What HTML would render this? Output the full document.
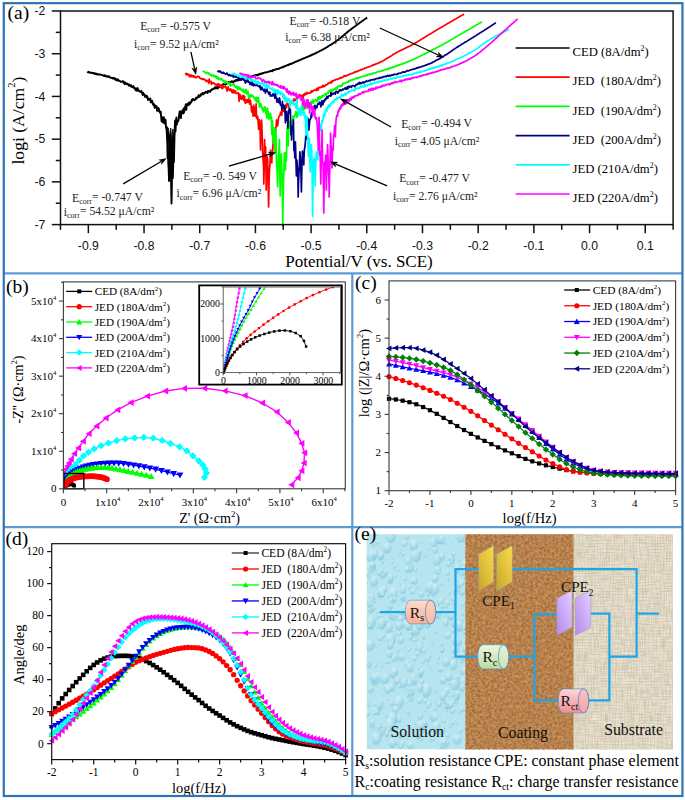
<!DOCTYPE html>
<html><head><meta charset="utf-8"><title>Figure</title>
<style>html,body{margin:0;padding:0;background:#fff;}svg{display:block;}</style></head>
<body>
<svg width="685" height="800" viewBox="0 0 685 800">
<rect x="0" y="0" width="685" height="800" fill="#fff"/>
<defs>
<filter id="fCork" x="0" y="0" width="100%" height="100%" color-interpolation-filters="sRGB">
  <feTurbulence type="fractalNoise" baseFrequency="0.42" numOctaves="3" seed="4" result="n"/>
  <feColorMatrix in="n" type="matrix" values="0 0 0 0 0  0 0 0 0 0  0 0 0 0 0  1.5 0 0 0 -0.52" result="dark"/>
  <feFlood flood-color="#8a5428" result="dc"/>
  <feComposite in="dc" in2="dark" operator="in" result="darkspots"/>
  <feTurbulence type="fractalNoise" baseFrequency="0.36" numOctaves="3" seed="11" result="n2"/>
  <feColorMatrix in="n2" type="matrix" values="0 0 0 0 0  0 0 0 0 0  0 0 0 0 0  0 1.4 0 0 -0.5" result="lite"/>
  <feFlood flood-color="#dba874" result="lc"/>
  <feComposite in="lc" in2="lite" operator="in" result="litespots"/>
  <feMerge><feMergeNode in="SourceGraphic"/><feMergeNode in="darkspots"/><feMergeNode in="litespots"/></feMerge>
</filter>
<filter id="fLinen" x="0" y="0" width="100%" height="100%" color-interpolation-filters="sRGB">
  <feTurbulence type="fractalNoise" baseFrequency="0.9 0.08" numOctaves="2" seed="3" result="h"/>
  <feColorMatrix in="h" type="matrix" values="0 0 0 0 0  0 0 0 0 0  0 0 0 0 0  1.3 0 0 0 -0.5" result="ha"/>
  <feTurbulence type="fractalNoise" baseFrequency="0.08 0.9" numOctaves="2" seed="8" result="v"/>
  <feColorMatrix in="v" type="matrix" values="0 0 0 0 0  0 0 0 0 0  0 0 0 0 0  1.3 0 0 0 -0.5" result="va"/>
  <feFlood flood-color="#c2b79e" result="dc"/>
  <feComposite in="dc" in2="ha" operator="in" result="hs"/>
  <feComposite in="dc" in2="va" operator="in" result="vs"/>
  <feMerge><feMergeNode in="SourceGraphic"/><feMergeNode in="hs"/><feMergeNode in="vs"/></feMerge>
</filter>
<pattern id="pLinen" width="3" height="3" patternUnits="userSpaceOnUse">
  <rect width="3" height="3" fill="#efe8d8"/>
  <rect x="0" y="0" width="3" height="0.9" fill="#e4dccb"/>
  <rect x="0" y="0" width="0.9" height="3" fill="#e6dfce"/>
</pattern>
<radialGradient id="gDrop" cx="0.38" cy="0.32" r="0.75">
  <stop offset="0" stop-color="#d8f2f8" stop-opacity="0.9"/>
  <stop offset="0.55" stop-color="#b9e5ef" stop-opacity="0.7"/>
  <stop offset="1" stop-color="#98d4e5" stop-opacity="0.8"/>
</radialGradient>
<linearGradient id="gRs" x1="0" y1="0" x2="0" y2="1"><stop offset="0" stop-color="#fddccd"/><stop offset="1" stop-color="#f6b094"/></linearGradient>
<linearGradient id="gRc" x1="0" y1="0" x2="0" y2="1"><stop offset="0" stop-color="#eff6e4"/><stop offset="1" stop-color="#badba0"/></linearGradient>
<linearGradient id="gRct" x1="0" y1="0" x2="0" y2="1"><stop offset="0" stop-color="#fdd8d8"/><stop offset="1" stop-color="#f08c96"/></linearGradient>
<linearGradient id="gAu" x1="1" y1="0" x2="0" y2="1"><stop offset="0" stop-color="#f9dc4c"/><stop offset="0.6" stop-color="#dcbb3a"/><stop offset="1" stop-color="#c4a22c"/></linearGradient>
<linearGradient id="gPu" x1="1" y1="0" x2="0" y2="1"><stop offset="0" stop-color="#e6d2ff"/><stop offset="0.6" stop-color="#c7a3f6"/><stop offset="1" stop-color="#b48cee"/></linearGradient>
</defs>
<polyline points="87.3,72.84 87.75,72.27 88.2,72.26 88.65,71.67 89.1,72.53 89.55,72.5 90,72.49 90.45,72.82 90.9,72.93 91.35,72.54 91.8,72.67 92.25,72.87 92.7,73.32 93.15,73.36 93.6,72.85 94.05,72.99 94.5,73.67 94.95,74.03 95.4,73.59 95.85,73.47 96.3,74.15 96.75,73.78 97.2,74.22 97.65,74.6 98.1,74.39 98.55,74.3 99,74.63 99.45,74.26 99.9,74.53 100.35,74.5 100.8,74.73 101.25,74.74 101.7,74.95 102.15,75 102.6,75.27 103.05,75.38 103.5,75.58 103.95,76.1 104.4,75.15 104.85,76.3 105.3,75.85 105.75,75.61 106.2,76.11 106.65,76.33 107.1,76.83 107.55,76.14 108,76.75 108.45,76.84 108.9,76.27 109.35,76.58 109.8,77.41 110.25,77.58 110.7,77.88 111.15,77.79 111.6,77.88 112.05,77.91 112.5,78.52 112.95,77.82 113.4,78.26 113.85,78.64 114.3,77.98 114.75,79.37 115.2,78.62 115.65,79.1 116.1,80.28 116.55,79.11 117,79.41 117.45,80.55 117.9,79.52 118.35,79.99 118.8,80.61 119.25,80.77 119.7,81.03 120.15,81.11 120.6,81.79 121.05,81.82 121.5,81.8 121.95,81.35 122.4,81.53 122.85,81.13 123.3,82.64 123.75,81.55 124.2,83.15 124.65,83.89 125.1,82.51 125.55,82.91 126,83.23 126.45,84.17 126.9,83.42 127.35,84.04 127.8,84.03 128.25,84.4 128.7,85.55 129.15,84.41 129.6,85.25 130.05,85.6 130.5,86.21 130.95,85.11 131.4,86.85 131.85,86.65 132.3,87.19 132.75,86.9 133.2,86.02 133.65,86.91 134.1,88.17 134.55,87.88 135,88.08 135.45,89.72 135.9,90.33 136.35,88.89 136.8,90.71 137.25,88 137.7,88.23 138.15,90.74 138.6,90.12 139.05,91.1 139.5,91.36 139.95,91.17 140.4,92.15 140.85,92.02 141.3,90.91 141.75,92.75 142.2,93.07 142.65,95.06 143.1,92.56 143.55,94 144,93.94 144.45,94.6 144.9,96.93 145.35,95.92 145.8,95.42 146.25,96.5 146.7,97.63 147.15,96.05 147.6,97.29 148.05,100.01 148.5,99.6 148.95,98.92 149.4,98.85 149.85,99.76 150.3,98.45 150.75,102.4 151.2,102.05 151.65,102.3 152.1,100.72 152.55,102.09 153,104.63 153.45,104.78 153.9,104.05 154.35,106.42 154.8,107.91 155.25,105.39 155.7,106.2 156.15,106.1 156.6,106.08 157.05,110.77 157.5,110.68 157.95,110.84 158.4,107.97 158.85,108.71 159.3,111.5 159.75,111.19 160.2,113.15 160.65,111.58 161.1,116.05 161.55,121.06 162,120.97 162.45,122.26 162.9,117.2 163.35,121.36 163.8,117.31 164.25,123.46 164.7,118.98 165.15,119.53 165.6,120.01 166.05,128.08 166.5,127.53 166.95,135.88 167.4,145.56 167.6,158 167.85,146.47 168.3,162.98 168.75,171.19 169,181 169.2,172.87 169.65,158.54 170.1,168.89 170.2,176 170.55,162.68 171,173.99 171.45,197.24 171.5,203.5 171.9,176.44 172.35,164.12 172.8,178 172.8,178 173.25,162.95 173.7,152.48 173.9,162 174.15,151.12 174.6,132.32 175.05,120.56 175.5,131.32 175.95,123.63 176.4,117.36 176.85,124.58 177.3,121.62 177.75,121.86 178.2,121.11 178.65,119.53 179.1,115.24 179.55,112.21 180,111.17 180.45,113.8 180.9,118.06 181.35,112.58 181.8,112.49 182.25,110.45 182.7,110.74 183.15,113.5 183.6,108.54 184.05,112.63 184.5,109.3 184.95,107.06 185.4,106.48 185.85,104.24 186.3,109.92 186.75,105.05 187.2,104.12 187.65,105.1 188.1,103.38 188.55,105.34 189,102.58 189.45,102.36 189.9,103.91 190.35,103.11 190.8,102.15 191.25,102.35 191.7,100.05 192.15,100.68 192.6,99.14 193.05,98.98 193.5,99.84 193.95,99.8 194.4,100.3 194.85,99.83 195.3,99.51 195.75,98.06 196.2,98.99 196.65,97.75 197.1,97.36 197.55,97.74 198,97.17 198.45,95.46 198.9,95.07 199.35,96.89 199.8,96.09 200.25,95.97 200.7,95.63 201.15,93.9 201.6,94.33 202.05,93.64 202.5,93.02 202.95,94.49 203.4,94.05 203.85,93.63 204.3,92.67 204.75,93.27 205.2,92.5 205.65,91.91 206.1,91.7 206.55,91.98 207,92.64 207.45,92.97 207.9,90.89 208.35,91.12 208.8,91.86 209.25,91.34 209.7,91.09 210.15,91.7 210.6,90.21 211.05,90.67 211.5,90.14 211.95,89.29 212.4,89.6 212.85,89 213.3,88.87 213.75,88.9 214.2,88.68 214.65,87.45 215.1,88.39 215.55,87.18 216,88.39 216.45,87.26 216.9,87.35 217.35,87.64 217.8,88.51 218.25,86 218.7,87.23 219.15,86.92 219.6,86.14 220.05,85.98 220.5,85.67 220.95,85.73 221.4,86.17 221.85,84.8 222.3,85.47 222.75,84.74 223.2,84.39 223.65,83.93 224.1,84.4 224.55,84.27 225,84.07 225.45,84.65 225.9,83.98 226.35,83.93 226.8,83.84 227.25,83.1 227.7,83.16 228.15,82.2 228.6,82.1 229.05,83.39 229.5,82.39 229.95,82.72 230.4,81.93 230.85,81.96 231.3,81.51 231.75,81.63 232.2,81.32 232.65,81.61 233.1,82.37 233.55,81.7 234,81.43 234.45,81.16 234.9,81.24 235.35,80.11 235.8,80.66 236.25,79.99 236.7,80.48 237.15,79.63 237.6,80.56 238.05,79.78 238.5,80.37 238.95,79.6 239.4,79.08 239.85,80.12 240.3,79.72 240.75,79.21 241.2,79.25 241.65,79.55 242.1,78.55 242.55,78.82 243,78.28 243.45,78.5 243.9,78.89 244.35,78.54 244.8,77.81 245.25,78.62 245.7,78.19 246.15,77.73 246.6,77.48 247.05,77.43 247.5,78.06 247.95,76.81 248.4,77.4 248.85,77.23 249.3,77.12 249.75,77.07 250.2,77.18 250.65,76.86 251.1,76.24 251.55,76.94 252,77.15 252.45,76.11 252.9,76.05 253.35,75.81 253.8,75.4 254.25,75.99 254.7,75.59 255.15,75.37 255.6,75.03 256.05,74.96 256.5,75.36 256.95,75.39 257.4,74.94 257.85,75.19 258.3,74.31 258.75,74.59 259.2,74.45 259.65,74.46 260.1,73.69 260.55,73.89 261,73.94 261.45,73.55 261.9,73.6 262.35,73.3 262.8,72.98 263.25,73.26 263.7,72.93 264.15,72.81 264.6,72.52 265.05,72.52 265.5,72.53 265.95,72.57 266.4,72.21 266.85,72.4 267.3,71.86 267.75,71.87 268.2,71.62 268.65,71.74 269.1,71.67 269.55,71.56 270,70.96 270.45,71.12 270.9,70.99 271.35,71.21 271.8,70.68 272.25,71.3 272.7,70.09 273.15,70.3 273.6,70.1 274.05,70.27 274.5,70.05 274.95,69.55 275.4,69.58 275.85,69.3 276.3,68.98 276.75,68.96 277.2,69.33 277.65,69 278.1,68.87 278.55,68.68 279,68.76 279.45,68.59 279.9,68.18 280.35,67.99 280.8,67.62 281.25,67.62 281.7,67.14 282.15,67.58 282.6,67.33 283.05,66.86 283.5,66.79 283.95,66.75 284.4,66.27 284.85,66.04 285.3,65.83 285.75,65.95 286.2,65.71 286.65,65.5 287.1,65.35 287.55,65.01 288,65.08 288.45,64.76 288.9,65 289.35,64.34 289.8,64.02 290.25,64.1 290.7,63.75 291.15,63.98 291.6,63.59 292.05,63.58 292.5,63.12 292.95,62.9 293.4,62.99 293.85,62.72 294.3,62.49 294.75,61.88 295.2,62.04 295.65,61.83 296.1,61.6 296.55,61.42 297,61.3 297.45,61.26 297.9,60.98 298.35,60.49 298.8,60.48 299.25,60.37 299.7,60.3 300.15,59.94 300.6,59.74 301.05,59.64 301.5,59.26 301.95,59.25 302.4,59.01 302.85,58.7 303.3,58.58 303.75,58.29 304.2,58.25 304.65,58.09 305.1,57.79 305.55,57.63 306,57.33 306.45,57.23 306.9,57.08 307.35,56.84 307.8,56.62 308.25,56.62 308.7,56.32 309.15,56.14 309.6,55.79 310.05,55.76 310.5,55.41 310.95,55.44 311.4,55.12 311.85,54.81 312.3,54.74 312.75,54.4 313.2,54.49 313.65,54.09 314.1,53.87 314.55,53.69 315,53.6 315.45,53.2 315.9,53.24 316.35,52.74 316.8,52.58 317.25,52.3 317.7,52.18 318.15,52.03 318.6,51.76 319.05,51.52 319.5,51.21 319.95,51.05 320.4,50.76 320.85,50.52 321.3,50.21 321.75,50.22 322.2,49.86 322.65,49.54 323.1,49.29 323.55,49.13 324,48.86 324.45,48.59 324.9,48.32 325.35,48.11 325.8,47.85 326.25,47.62 326.7,47.31 327.15,46.93 327.6,46.81 328.05,46.42 328.5,46.09 328.95,45.92 329.4,45.52 329.85,45.38 330.3,45 330.75,44.81 331.2,44.58 331.65,44.21 332.1,43.84 332.55,43.67 333,43.32 333.45,43.1 333.9,42.79 334.35,42.42 334.8,42.15 335.25,41.81 335.7,41.46 336.15,41.26 336.6,40.91 337.05,40.55 337.5,40.11 337.95,39.88 338.4,39.54 338.85,39.16 339.3,38.74 339.75,38.48 340.2,38.11 340.65,37.73 341.1,37.34 341.55,36.92 342,36.67 342.45,36.3 342.9,35.87 343.35,35.48 343.8,35.19 344.25,34.76 344.7,34.33 345.15,34 345.6,33.59 346.05,33.23 346.5,32.84 346.95,32.47 347.4,32.11 347.85,31.71 348.3,31.4 348.75,31.02 349.2,30.63 349.65,30.32 350.1,29.97 350.55,29.63 351,29.29 351.45,28.88 351.9,28.58 352.35,28.21 352.8,27.9 353.25,27.58 353.7,27.25 354.15,26.9 354.6,26.57 355.05,26.22 355.5,25.92 355.95,25.57 356.4,25.24 356.85,24.92 357.3,24.59 357.75,24.25 358.2,23.92 358.65,23.61 359.1,23.28 359.55,22.97 360,22.62 360.45,22.31 360.9,22.02 361.35,21.67 361.8,21.34 362.25,21.03 362.7,20.73 363.15,20.39 363.6,20.08 364.05,19.76 364.5,19.44 364.95,19.15 365.4,18.83 365.85,18.53 366.3,18.2 366.75,17.89 367.2,17.59" fill="none" stroke="#000" stroke-width="1.9" stroke-linejoin="round" stroke-linejoin="miter" stroke-miterlimit="4"/>
<path d="M166.8,126.5 L168.5,146 L169.1,160 L169.6,180 L170.3,164 L170.9,176 L171.5,203.5 L172.1,170 L172.6,179 L173.1,158 L173.8,146 L175.5,123 L174.6,128 L173.6,135 L172.8,129 L171.8,141 L170.8,128 L169.6,137 L168.4,128 Z" fill="#000" stroke="#000" stroke-width="0.8" stroke-linejoin="round"/>
<polyline points="185.1,74.26 185.6,73.75 186.1,74.4 186.6,73.46 187.1,74.96 187.6,73.8 188.1,74.8 188.6,74.87 189.1,74.61 189.6,76.99 190.1,75 190.6,75.78 191.1,76.32 191.6,75.06 192.1,76.78 192.6,76 193.1,76.87 193.6,75.81 194.1,75.89 194.6,77.47 195.1,77.16 195.6,77.08 196.1,77.57 196.6,77.65 197.1,76.7 197.6,76.18 198.1,76.66 198.6,76.74 199.1,76.62 199.6,77.8 200.1,78.04 200.6,78.55 201.1,78.89 201.6,78.63 202.1,78.88 202.6,79.29 203.1,78.68 203.6,79.04 204.1,79.76 204.6,79.4 205.1,79.65 205.6,80.18 206.1,81.51 206.6,80.87 207.1,80.53 207.6,80.51 208.1,81.07 208.6,83.29 209.1,79.09 209.6,82.18 210.1,82.11 210.6,82.86 211.1,81.32 211.6,84.43 212.1,83.58 212.6,82.82 213.1,83.21 213.6,82.61 214.1,83.5 214.6,83.51 215.1,84.75 215.6,84.38 216.1,84.15 216.6,85.09 217.1,85.17 217.6,85.03 218.1,83.54 218.6,86.28 219.1,84.24 219.6,84.58 220.1,85.69 220.6,86.55 221.1,87.77 221.6,84.66 222.1,88.29 222.6,88.72 223.1,86.51 223.6,87.01 224.1,86.8 224.6,86.98 225.1,86.38 225.6,86.2 226.1,88.09 226.6,88.87 227.1,91.18 227.6,87.81 228.1,86.78 228.6,89.67 229.1,89.12 229.6,90.42 230.1,89.67 230.6,88.81 231.1,89.76 231.6,92.06 232.1,91.56 232.6,90.1 233.1,92.98 233.6,89.95 234.1,91.43 234.6,92.78 235.1,90.78 235.6,91.27 236.1,93.34 236.6,93.48 237.1,93.5 237.6,93.3 238.1,92.75 238.6,93.54 239.1,101.33 239.6,94.39 240.1,98.7 240.6,95.07 241.1,99.17 241.6,99.27 242.1,98.01 242.6,96.26 243.1,95.26 243.6,100.28 244.1,96.07 244.6,96.43 245.1,102.99 245.6,103.32 246.1,100.25 246.6,100.03 247.1,99.52 247.6,102.37 248.1,100.79 248.6,98.92 249.1,101.04 249.6,104.15 250.1,100.02 250.6,101.94 251.1,105.52 251.6,111.87 252.1,107.03 252.6,107.26 253.1,116.13 253.6,105.2 254.1,106.91 254.6,113.94 255.1,116.23 255.6,114.17 256.1,103.84 256.6,117.91 257.1,118.72 257.6,116.27 258.1,121.24 258.6,129.31 259.1,119.59 259.6,120.59 260.1,130.23 260.5,150 260.6,142.9 261.1,130.75 261.6,120.11 262.1,132.83 262.6,151.44 263.1,160.32 263.6,166.91 263.8,184 264.1,172.08 264.6,139.67 265.1,158.51 265.6,146.67 266.1,177.58 266.2,190 266.6,169.03 267.1,156.65 267.6,158.89 268.1,179.65 268.6,207 268.6,207 269.1,179.7 269.6,167.98 270.1,161.71 270.6,150 271.1,158.99 271.6,155.22 271.8,163 272.1,153.08 272.6,151.24 273.1,143.8 273.6,132.23 274.1,133.03 274.6,137.64 275.1,136.07 275.2,142 275.6,128.37 276.1,126.56 276.6,119.91 277.1,120.66 277.6,125.96 278.1,121.05 278.6,117.62 279.1,116.53 279.6,115.35 280.1,115.09 280.6,112.12 281.1,114.51 281.6,115.41 282.1,110.12 282.6,111.86 283.1,108.6 283.6,111.2 284.1,106.79 284.6,110.88 285.1,110.21 285.6,106.33 286.1,104.24 286.6,107.73 287.1,103.63 287.6,103.25 288.1,103.8 288.6,104.76 289.1,107.31 289.6,105.8 290.1,104.2 290.6,102.04 291.1,102.51 291.6,102.72 292.1,101.4 292.6,103.23 293.1,100.35 293.6,101.58 294.1,98.73 294.6,99.62 295.1,100.32 295.6,99.74 296.1,100.64 296.6,98.39 297.1,99.33 297.6,98.1 298.1,96.6 298.6,97.1 299.1,96.7 299.6,94.54 300.1,95.99 300.6,95.37 301.1,96.34 301.6,96.96 302.1,95.4 302.6,96.39 303.1,97.91 303.6,94.36 304.1,94.35 304.6,95.3 305.1,93.13 305.6,94.01 306.1,94.1 306.6,94.27 307.1,92.39 307.6,93.41 308.1,93.24 308.6,93 309.1,93.02 309.6,93.51 310.1,92.56 310.6,92.45 311.1,91.1 311.6,92.34 312.1,90.71 312.6,91.34 313.1,91.34 313.6,90.69 314.1,90.34 314.6,90.09 315.1,89.57 315.6,89.6 316.1,90.55 316.6,89.75 317.1,88.11 317.6,88.95 318.1,90.15 318.6,88.33 319.1,87.22 319.6,87.3 320.1,87.71 320.6,87.39 321.1,86.91 321.6,87.12 322.1,87.05 322.6,85.66 323.1,86.49 323.6,85.5 324.1,86.61 324.6,85.92 325.1,85.84 325.6,84.78 326.1,85.03 326.6,84.78 327.1,84.64 327.6,83.86 328.1,83.22 328.6,83.68 329.1,82.87 329.6,82.89 330.1,82.9 330.6,82.22 331.1,81.55 331.6,82.99 332.1,81.32 332.6,80.65 333.1,81.19 333.6,80.58 334.1,80.26 334.6,80.21 335.1,80.09 335.6,79.48 336.1,79.33 336.6,79.46 337.1,79.08 337.6,79.44 338.1,78.96 338.6,78.65 339.1,78.51 339.6,78.53 340.1,77.66 340.6,77.78 341.1,77.45 341.6,77.95 342.1,77.48 342.6,77.35 343.1,76.99 343.6,76.21 344.1,75.76 344.6,76.29 345.1,76.05 345.6,76.04 346.1,75.95 346.6,75.33 347.1,75.53 347.6,75.52 348.1,74.83 348.6,74.87 349.1,74.54 349.6,74.35 350.1,73.97 350.6,73.86 351.1,73.59 351.6,73.66 352.1,73.46 352.6,73.13 353.1,72.96 353.6,72.7 354.1,72.53 354.6,71.88 355.1,72.26 355.6,71.89 356.1,71.78 356.6,71.28 357.1,71.59 357.6,71.5 358.1,70.72 358.6,70.62 359.1,70.55 359.6,70.56 360.1,69.9 360.6,69.89 361.1,69.91 361.6,69.68 362.1,69.51 362.6,68.87 363.1,69.01 363.6,68.98 364.1,68.69 364.6,68.14 365.1,68.04 365.6,68.1 366.1,67.99 366.6,67.67 367.1,67.31 367.6,67.25 368.1,67.09 368.6,66.78 369.1,66.71 369.6,66.61 370.1,66.48 370.6,66.21 371.1,65.98 371.6,65.62 372.1,65.47 372.6,65.44 373.1,64.92 373.6,65.12 374.1,64.57 374.6,64.73 375.1,64.4 375.6,64.02 376.1,63.81 376.6,63.89 377.1,63.54 377.6,63.52 378.1,63.17 378.6,62.86 379.1,62.79 379.6,62.27 380.1,62.19 380.6,61.93 381.1,61.88 381.6,61.57 382.1,61.26 382.6,60.93 383.1,60.68 383.6,60.56 384.1,60.33 384.6,60.08 385.1,59.36 385.6,59.19 386.1,58.85 386.6,58.74 387.1,58.16 387.6,58.03 388.1,57.74 388.6,57.51 389.1,57.28 389.6,56.72 390.1,56.47 390.6,56.15 391.1,55.97 391.6,55.71 392.1,55.3 392.6,54.78 393.1,54.37 393.6,54.31 394.1,53.97 394.6,53.79 395.1,53.44 395.6,53.03 396.1,52.84 396.6,52.49 397.1,52.13 397.6,51.98 398.1,51.8 398.6,51.31 399.1,51.15 399.6,50.93 400.1,50.68 400.6,50.47 401.1,50.16 401.6,50.08 402.1,49.74 402.6,49.59 403.1,49.27 403.6,48.98 404.1,48.81 404.6,48.44 405.1,48.33 405.6,48.14 406.1,47.83 406.6,47.6 407.1,47.35 407.6,47.13 408.1,46.9 408.6,46.59 409.1,46.5 409.6,46.11 410.1,45.93 410.6,45.65 411.1,45.43 411.6,45.04 412.1,44.96 412.6,44.64 413.1,44.32 413.6,43.98 414.1,43.8 414.6,43.41 415.1,43.1 415.6,42.91 416.1,42.7 416.6,42.23 417.1,41.98 417.6,41.67 418.1,41.31 418.6,41.02 419.1,40.78 419.6,40.44 420.1,40.17 420.6,39.81 421.1,39.52 421.6,39.18 422.1,38.92 422.6,38.58 423.1,38.26 423.6,37.94 424.1,37.65 424.6,37.42 425.1,37.02 425.6,36.78 426.1,36.39 426.6,36.12 427.1,35.82 427.6,35.54 428.1,35.16 428.6,34.94 429.1,34.57 429.6,34.26 430.1,33.91 430.6,33.67 431.1,33.41 431.6,33.13 432.1,32.82 432.6,32.54 433.1,32.15 433.6,31.88 434.1,31.62 434.6,31.27 435.1,30.98 435.6,30.66 436.1,30.37 436.6,30.11 437.1,29.77 437.6,29.45 438.1,29.17 438.6,28.87 439.1,28.61 439.6,28.29 440.1,27.98 440.6,27.66 441.1,27.4 441.6,27.1 442.1,26.75 442.6,26.52 443.1,26.21 443.6,25.93 444.1,25.62 444.6,25.31 445.1,25.01 445.6,24.73 446.1,24.42 446.6,24.15 447.1,23.85 447.6,23.59 448.1,23.26 448.6,23 449.1,22.67 449.6,22.42 450.1,22.11 450.6,21.82 451.1,21.53 451.6,21.24 452.1,20.93 452.6,20.66 453.1,20.39 453.6,20.1 454.1,19.78 454.6,19.53 455.1,19.2 455.6,18.94 456.1,18.68 456.6,18.35 457.1,18.09 457.6,17.84 458.1,17.51 458.6,17.24 459.1,16.94 459.6,16.65 460.1,16.36 460.6,16.09 461.1,15.82 461.6,15.51 462.1,15.24 462.6,14.96 463.1,14.69 463.6,14.4 464.1,14.11" fill="none" stroke="#ff0000" stroke-width="1.7" stroke-linejoin="round" stroke-linejoin="miter" stroke-miterlimit="4"/>
<polyline points="202.9,70.57 203.4,71.48 203.9,71.32 204.4,71.79 204.9,72.46 205.4,72.28 205.9,72.93 206.4,72.91 206.9,73.47 207.4,72.39 207.9,72.74 208.4,72.72 208.9,73.92 209.4,73.71 209.9,74.59 210.4,74.49 210.9,74.62 211.4,76.07 211.9,75.38 212.4,75.24 212.9,74.91 213.4,76.47 213.9,76.57 214.4,75.55 214.9,76.36 215.4,76.85 215.9,75.9 216.4,77 216.9,78.39 217.4,76.63 217.9,78.28 218.4,79.55 218.9,78.01 219.4,78.38 219.9,79.11 220.4,79.59 220.9,79.77 221.4,78.62 221.9,79.41 222.4,80.32 222.9,80.25 223.4,81.68 223.9,80.75 224.4,80.96 224.9,83.11 225.4,81.69 225.9,81.19 226.4,82.25 226.9,82.29 227.4,83.38 227.9,83.38 228.4,82.9 228.9,83.08 229.4,83.17 229.9,85.2 230.4,86.14 230.9,84.27 231.4,85.11 231.9,85.13 232.4,84.49 232.9,84.7 233.4,84.96 233.9,83.78 234.4,85.12 234.9,86.63 235.4,87.4 235.9,86.39 236.4,86.45 236.9,87.84 237.4,89.87 237.9,86.59 238.4,87.01 238.9,87.66 239.4,89.13 239.9,87.72 240.4,89.61 240.9,88.42 241.4,90.34 241.9,89.5 242.4,89.65 242.9,91.65 243.4,89.27 243.9,90.11 244.4,92.54 244.9,92.94 245.4,92.44 245.9,89.45 246.4,93.94 246.9,93.7 247.4,92.98 247.9,90.96 248.4,95.65 248.9,97.79 249.4,95.85 249.9,97.83 250.4,94.59 250.9,96.46 251.4,95.34 251.9,94.9 252.4,96.66 252.9,96 253.4,96.69 253.9,97.04 254.4,98.15 254.9,98.82 255.4,100.18 255.9,97.7 256.4,101.58 256.9,97.36 257.4,101.92 257.9,102.48 258.4,97.53 258.9,102.4 259.4,107.1 259.9,105.68 260.4,103.51 260.9,103.88 261.4,106.96 261.9,107.12 262.4,110.15 262.9,108.33 263.4,112 263.9,110.66 264.4,107.09 264.9,106.86 265.4,109.18 265.9,113.83 266.4,109.24 266.9,118.31 267.4,108.11 267.9,114.01 268.4,111.79 268.9,119.06 269.4,119.01 269.9,118.25 270.4,113.4 270.9,115.98 271.4,118.18 271.9,134.69 272.4,120.5 272.9,132.79 273.4,143.09 273.9,127.66 274.4,139.07 274.8,152 274.9,146.37 275.4,150.07 275.9,129.45 276.4,160.44 276.9,168.82 277.4,176.96 277.6,187 277.9,172.92 278.4,156.02 278.9,153.04 279.4,139.4 279.9,175.68 280.2,196 280.4,182.55 280.9,162.73 281.4,153.84 281.9,170.19 282.4,194.4 282.8,226.5 282.9,213.79 283.4,185.43 283.9,171.3 284.4,152.73 284.9,155.91 285.4,170 285.4,170 285.9,152.48 286.4,160.87 286.9,132.92 287.4,125.37 287.9,136.55 288.2,146 288.4,137.01 288.9,128.95 289.4,121.61 289.9,123.65 290.4,123.93 290.9,124.34 291.4,124.45 291.9,122.32 292.4,120.26 292.9,116.41 293.4,118.54 293.9,116.19 294.4,117.33 294.9,114.35 295.4,115.05 295.9,111.4 296.4,113.05 296.9,117.33 297.4,112.84 297.9,113.05 298.4,109.69 298.9,111.1 299.4,109.05 299.9,108.88 300.4,111.18 300.9,110.05 301.4,109.01 301.9,110.73 302.4,103.14 302.9,107.08 303.4,109.89 303.9,109.73 304.4,106.66 304.9,107.13 305.4,108.76 305.9,108.67 306.4,105.45 306.9,105.85 307.4,104.25 307.9,104.67 308.4,102.69 308.9,106.59 309.4,102.76 309.9,104.37 310.4,104.22 310.9,101.43 311.4,104.97 311.9,102.15 312.4,102.2 312.9,100.06 313.4,103.02 313.9,100.49 314.4,100.07 314.9,100.36 315.4,99.94 315.9,99.96 316.4,101.19 316.9,99.82 317.4,101.14 317.9,97.73 318.4,97.46 318.9,99.63 319.4,96.69 319.9,97.75 320.4,98.83 320.9,97.71 321.4,96.17 321.9,96.51 322.4,97.14 322.9,95.25 323.4,95.74 323.9,95.69 324.4,96.06 324.9,94.23 325.4,93.67 325.9,94.94 326.4,94.01 326.9,93.69 327.4,93.05 327.9,93.72 328.4,91.13 328.9,92.08 329.4,91.35 329.9,91.93 330.4,89.97 330.9,90.8 331.4,92.09 331.9,89.86 332.4,90.26 332.9,90.66 333.4,89.7 333.9,89.96 334.4,88.66 334.9,88.45 335.4,89.41 335.9,87.88 336.4,87.39 336.9,89.22 337.4,86.7 337.9,86.79 338.4,86.42 338.9,85.83 339.4,86.34 339.9,86.5 340.4,85.56 340.9,85.56 341.4,84.97 341.9,86.12 342.4,84.86 342.9,83.16 343.4,83.93 343.9,83.38 344.4,83.42 344.9,83.48 345.4,82.68 345.9,82.48 346.4,82.71 346.9,82.39 347.4,81.78 347.9,82.17 348.4,81.95 348.9,80.89 349.4,80.69 349.9,81.01 350.4,80.11 350.9,80.18 351.4,80.16 351.9,80.32 352.4,79.64 352.9,79.95 353.4,79.59 353.9,79.61 354.4,78.76 354.9,78.97 355.4,78.85 355.9,78.44 356.4,77.66 356.9,77.98 357.4,78.72 357.9,78.02 358.4,77.82 358.9,77.89 359.4,77.87 359.9,76.83 360.4,76.98 360.9,76.77 361.4,76.8 361.9,76.5 362.4,76.45 362.9,76.4 363.4,76.36 363.9,76.46 364.4,76.22 364.9,75.85 365.4,75.96 365.9,75.43 366.4,75.64 366.9,74.99 367.4,75.47 367.9,74.81 368.4,74.39 368.9,74.36 369.4,74.6 369.9,73.93 370.4,74.14 370.9,73.9 371.4,73.87 371.9,74.18 372.4,73.4 372.9,73.29 373.4,73.06 373.9,73.37 374.4,72.76 374.9,72.99 375.4,72.98 375.9,72.79 376.4,72.33 376.9,72.33 377.4,71.7 377.9,71.74 378.4,71.5 378.9,71.67 379.4,71.74 379.9,71.72 380.4,71.23 380.9,70.73 381.4,70.58 381.9,71.1 382.4,70.5 382.9,70.24 383.4,70.47 383.9,70.09 384.4,70.1 384.9,69.75 385.4,69.59 385.9,69.55 386.4,69.35 386.9,69.32 387.4,68.99 387.9,69.54 388.4,68.6 388.9,68.33 389.4,68.66 389.9,68.27 390.4,67.95 390.9,68.05 391.4,67.88 391.9,67.6 392.4,67.28 392.9,67.53 393.4,67.05 393.9,66.83 394.4,67.02 394.9,66.56 395.4,66.15 395.9,66.25 396.4,66.1 396.9,65.64 397.4,65.82 397.9,65.57 398.4,65.13 398.9,64.88 399.4,65.18 399.9,64.85 400.4,64.55 400.9,64.24 401.4,64.19 401.9,64.17 402.4,63.76 402.9,64.06 403.4,63.48 403.9,63.2 404.4,62.95 404.9,62.86 405.4,62.95 405.9,62.39 406.4,62.41 406.9,62.2 407.4,61.76 407.9,62.01 408.4,61.21 408.9,61.19 409.4,60.98 409.9,60.92 410.4,60.59 410.9,60.39 411.4,60.23 411.9,60.24 412.4,59.77 412.9,59.57 413.4,59.26 413.9,59.1 414.4,58.89 414.9,58.67 415.4,58.64 415.9,58.44 416.4,57.99 416.9,57.82 417.4,57.44 417.9,57.39 418.4,57.07 418.9,56.68 419.4,56.51 419.9,56.35 420.4,55.95 420.9,55.72 421.4,55.6 421.9,55.31 422.4,54.97 422.9,54.76 423.4,54.51 423.9,54.28 424.4,54.23 424.9,53.67 425.4,53.43 425.9,53.22 426.4,53.12 426.9,52.74 427.4,52.45 427.9,52.22 428.4,51.96 428.9,51.88 429.4,51.4 429.9,51.15 430.4,50.89 430.9,50.59 431.4,50.42 431.9,50.08 432.4,50.03 432.9,49.63 433.4,49.44 433.9,49.07 434.4,48.95 434.9,48.7 435.4,48.45 435.9,48.11 436.4,47.94 436.9,47.57 437.4,47.32 437.9,47.11 438.4,46.84 438.9,46.62 439.4,46.2 439.9,46.01 440.4,45.86 440.9,45.46 441.4,45.32 441.9,44.97 442.4,44.68 442.9,44.46 443.4,44.2 443.9,43.87 444.4,43.58 444.9,43.32 445.4,43.03 445.9,42.84 446.4,42.48 446.9,42.24 447.4,41.9 447.9,41.67 448.4,41.37 448.9,41.08 449.4,40.77 449.9,40.47 450.4,40.17 450.9,39.84 451.4,39.62 451.9,39.22 452.4,39 452.9,38.73 453.4,38.39 453.9,38.12 454.4,37.83 454.9,37.51 455.4,37.27 455.9,36.89 456.4,36.69 456.9,36.37 457.4,36.02 457.9,35.73 458.4,35.46 458.9,35.23 459.4,34.91 459.9,34.63 460.4,34.34 460.9,34.04 461.4,33.73 461.9,33.42 462.4,33.15 462.9,32.89 463.4,32.58 463.9,32.28 464.4,31.97 464.9,31.73 465.4,31.43 465.9,31.15 466.4,30.87 466.9,30.54 467.4,30.27 467.9,29.94 468.4,29.66 468.9,29.39 469.4,29.09 469.9,28.82 470.4,28.51 470.9,28.22 471.4,27.91 471.9,27.66 472.4,27.33 472.9,27.05 473.4,26.77 473.9,26.51 474.4,26.21 474.9,25.9 475.4,25.61 475.9,25.35 476.4,25 476.9,24.74 477.4,24.45 477.9,24.15 478.4,23.88 478.9,23.62 479.4,23.29 479.9,23.01 480.4,22.71 480.9,22.41 481.4,22.15 481.9,21.85" fill="none" stroke="#00ff00" stroke-width="1.7" stroke-linejoin="round" stroke-linejoin="miter" stroke-miterlimit="4"/>
<polyline points="217.4,71.95 217.9,71.38 218.4,71.56 218.9,71.58 219.4,70.8 219.9,71.98 220.4,71.32 220.9,72.3 221.4,72.07 221.9,73.06 222.4,72.55 222.9,72.81 223.4,72.4 223.9,73.45 224.4,73.17 224.9,73.76 225.4,74.02 225.9,74.17 226.4,73.77 226.9,73.04 227.4,73.58 227.9,74.88 228.4,75.15 228.9,75.5 229.4,74.59 229.9,74.52 230.4,75.81 230.9,75.97 231.4,75.63 231.9,75.79 232.4,75.16 232.9,76.03 233.4,77.19 233.9,75.95 234.4,76.41 234.9,76.8 235.4,76.87 235.9,76.11 236.4,77.12 236.9,77.26 237.4,77.61 237.9,77.74 238.4,78.2 238.9,77.7 239.4,79.81 239.9,78.54 240.4,80.04 240.9,80.24 241.4,79.42 241.9,78.65 242.4,78.14 242.9,78.76 243.4,79.85 243.9,80.39 244.4,79.86 244.9,80.25 245.4,83.15 245.9,81.27 246.4,80.28 246.9,81.94 247.4,80.85 247.9,79.9 248.4,82.18 248.9,81.59 249.4,82.51 249.9,84.34 250.4,82.98 250.9,82.36 251.4,84.9 251.9,81.69 252.4,82.73 252.9,85.41 253.4,85.79 253.9,84.23 254.4,84.03 254.9,85.28 255.4,85.51 255.9,85.6 256.4,85.19 256.9,84.61 257.4,85.43 257.9,86 258.4,86.26 258.9,86.23 259.4,87.07 259.9,85.55 260.4,88.86 260.9,89.77 261.4,87.64 261.9,87.04 262.4,89.38 262.9,89.93 263.4,89.37 263.9,91.2 264.4,89.48 264.9,89.09 265.4,93.03 265.9,90.48 266.4,90.88 266.9,88.73 267.4,91.59 267.9,91.56 268.4,92.78 268.9,94.26 269.4,93.82 269.9,92.09 270.4,96.07 270.9,95.25 271.4,95.97 271.9,95.25 272.4,95.93 272.9,93.78 273.4,93.89 273.9,95.74 274.4,96.06 274.9,98.27 275.4,92.47 275.9,97.55 276.4,97.47 276.9,102.27 277.4,98.9 277.9,99.44 278.4,101.3 278.9,102.83 279.4,97.8 279.9,99.74 280.4,105.08 280.9,104.72 281.4,104.4 281.9,110.04 282.4,101.28 282.9,106.33 283.4,105.09 283.9,108.21 284.4,105.54 284.9,109.53 285.4,122.8 285.9,112.58 286.4,111.76 286.9,120.17 287.4,115.83 287.9,128.2 288.4,110.65 288.9,110.54 289.4,107.69 289.9,112.8 290.4,109.59 290.9,134.95 291.4,130.48 291.6,140 291.9,127.86 292.4,125.86 292.9,126.8 293.4,119.82 293.9,150.48 294.4,145.67 294.8,158 294.9,152.63 295.4,141.97 295.9,158.27 296.4,176 296.4,176 296.9,160.16 297.4,167.13 297.9,177.69 298.2,197 298.4,185.38 298.9,173.36 299.4,166.21 299.9,151.8 300.4,159.26 300.9,170.74 301.4,192 301.4,192 301.9,165.99 302.4,151.14 302.9,153.63 303.4,152.67 303.8,165 303.9,159.63 304.4,149.28 304.9,147.11 305.4,141.8 305.9,134.09 306.4,122.65 306.9,138.84 307.4,125.46 307.9,118.44 308.4,122.91 308.6,128 308.9,130.24 309.4,124.02 309.9,119.51 310.4,119.36 310.9,117.75 311.4,113.22 311.9,116.59 312.4,112.1 312.9,111.31 313.4,111.45 313.9,106.43 314.4,110.21 314.9,105.29 315.4,109.28 315.9,106.65 316.4,106.36 316.9,107.67 317.4,104.73 317.9,103.51 318.4,103.85 318.9,104.32 319.4,102.1 319.9,102.51 320.4,102.52 320.9,106.93 321.4,102.44 321.9,100.7 322.4,102.84 322.9,105 323.4,101.58 323.9,100.33 324.4,101.7 324.9,99.8 325.4,98.55 325.9,99.54 326.4,98.73 326.9,96.39 327.4,97.47 327.9,98.14 328.4,96.25 328.9,95.77 329.4,95.95 329.9,95.8 330.4,96.1 330.9,92.83 331.4,95.67 331.9,94.44 332.4,93.81 332.9,93.09 333.4,94.01 333.9,93.21 334.4,93.65 334.9,92.64 335.4,94.18 335.9,91.52 336.4,91.96 336.9,91.45 337.4,91.89 337.9,93.09 338.4,92.04 338.9,91.34 339.4,89.93 339.9,90.76 340.4,89.77 340.9,90.22 341.4,90.6 341.9,90.13 342.4,89.33 342.9,89.03 343.4,89.8 343.9,89 344.4,88.79 344.9,88.23 345.4,87.72 345.9,89.11 346.4,88.62 346.9,89.09 347.4,86.71 347.9,87.5 348.4,88.29 348.9,86.02 349.4,87.14 349.9,86.78 350.4,86.5 350.9,86.06 351.4,87.39 351.9,86.21 352.4,85.54 352.9,85.57 353.4,85.67 353.9,85.76 354.4,86.1 354.9,86.77 355.4,85.91 355.9,84.6 356.4,84.56 356.9,84.8 357.4,84.27 357.9,83.29 358.4,84.01 358.9,84.08 359.4,82.35 359.9,83.48 360.4,83.7 360.9,82.63 361.4,83.43 361.9,82.93 362.4,82.66 362.9,82 363.4,82.81 363.9,82.02 364.4,82.85 364.9,82.11 365.4,81.86 365.9,81.61 366.4,80.74 366.9,81.52 367.4,81.38 367.9,81.31 368.4,81.15 368.9,80.67 369.4,80.63 369.9,80.11 370.4,80.59 370.9,79.99 371.4,79.92 371.9,79.91 372.4,79.66 372.9,79.58 373.4,79.6 373.9,79.45 374.4,79.84 374.9,79.54 375.4,79.04 375.9,78.68 376.4,78.54 376.9,78.67 377.4,78.74 377.9,78.23 378.4,78.21 378.9,78.42 379.4,77.67 379.9,77.42 380.4,77.66 380.9,78.03 381.4,77.41 381.9,77.25 382.4,77.6 382.9,76.87 383.4,76.9 383.9,76.51 384.4,76.87 384.9,76.59 385.4,76.46 385.9,76.04 386.4,76.55 386.9,76.12 387.4,75.48 387.9,75.98 388.4,76.16 388.9,75.35 389.4,75.37 389.9,76.05 390.4,75.4 390.9,75.77 391.4,75.25 391.9,74.85 392.4,74.79 392.9,75.26 393.4,75.07 393.9,74.24 394.4,74.43 394.9,74.52 395.4,74.28 395.9,74.51 396.4,74.59 396.9,74.38 397.4,73.73 397.9,73.96 398.4,73.4 398.9,73.2 399.4,73.23 399.9,73.39 400.4,73.18 400.9,73.1 401.4,72.72 401.9,72.3 402.4,72.41 402.9,71.83 403.4,72.08 403.9,72.17 404.4,72.26 404.9,71.96 405.4,71.95 405.9,71.34 406.4,71.33 406.9,70.71 407.4,70.84 407.9,70.67 408.4,70.9 408.9,70.7 409.4,70.27 409.9,70.21 410.4,70.27 410.9,70.05 411.4,69.74 411.9,69.48 412.4,69.39 412.9,69.39 413.4,69.23 413.9,68.89 414.4,68.86 414.9,69.02 415.4,68.75 415.9,68.3 416.4,67.96 416.9,67.94 417.4,68.11 417.9,68.03 418.4,67.23 418.9,67.44 419.4,67.43 419.9,67.17 420.4,66.94 420.9,66.89 421.4,66.7 421.9,66.27 422.4,66.48 422.9,66.29 423.4,65.98 423.9,65.86 424.4,65.72 424.9,65.47 425.4,65.47 425.9,65.13 426.4,65.05 426.9,64.52 427.4,64.67 427.9,64.36 428.4,64 428.9,64.03 429.4,63.68 429.9,63.64 430.4,63.39 430.9,63.15 431.4,62.91 431.9,62.6 432.4,62.7 432.9,62.08 433.4,61.85 433.9,61.7 434.4,61.48 434.9,61.09 435.4,60.86 435.9,60.25 436.4,60.13 436.9,60.01 437.4,59.81 437.9,59.43 438.4,59.38 438.9,59.07 439.4,58.57 439.9,58.59 440.4,58.12 440.9,57.9 441.4,57.51 441.9,57.18 442.4,56.97 442.9,56.54 443.4,56.35 443.9,55.92 444.4,55.71 444.9,55.25 445.4,54.92 445.9,54.77 446.4,54.71 446.9,54.2 447.4,53.82 447.9,53.6 448.4,53.2 448.9,52.69 449.4,52.51 449.9,52.12 450.4,51.65 450.9,51.52 451.4,51.16 451.9,50.71 452.4,50.47 452.9,50.02 453.4,49.62 453.9,49.29 454.4,49.02 454.9,48.7 455.4,48.29 455.9,47.99 456.4,47.63 456.9,47.21 457.4,47.1 457.9,46.6 458.4,46.39 458.9,45.98 459.4,45.72 459.9,45.42 460.4,45.1 460.9,44.71 461.4,44.44 461.9,44.1 462.4,43.93 462.9,43.59 463.4,43.29 463.9,42.96 464.4,42.59 464.9,42.29 465.4,42.06 465.9,41.83 466.4,41.45 466.9,41.19 467.4,40.86 467.9,40.5 468.4,40.19 468.9,39.82 469.4,39.65 469.9,39.37 470.4,39.08 470.9,38.63 471.4,38.44 471.9,38.07 472.4,37.71 472.9,37.5 473.4,37.12 473.9,36.87 474.4,36.48 474.9,36.26 475.4,35.91 475.9,35.6 476.4,35.27 476.9,34.91 477.4,34.59 477.9,34.27 478.4,33.96 478.9,33.73 479.4,33.36 479.9,33 480.4,32.69 480.9,32.38 481.4,32.1 481.9,31.75 482.4,31.47 482.9,31.17 483.4,30.8 483.9,30.51 484.4,30.19 484.9,29.85 485.4,29.53 485.9,29.24 486.4,28.94 486.9,28.6 487.4,28.28 487.9,27.95 488.4,27.61 488.9,27.31 489.4,26.99 489.9,26.69 490.4,26.33 490.9,26.02 491.4,25.67 491.9,25.34 492.4,25.03 492.9,24.72 493.4,24.38 493.9,24.03 494.4,23.76 494.9,23.4 495.4,23.08 495.9,22.75" fill="none" stroke="#000080" stroke-width="1.7" stroke-linejoin="round" stroke-linejoin="miter" stroke-miterlimit="4"/>
<polyline points="231.4,73.33 231.9,73.82 232.4,73.68 232.9,73.63 233.4,74.17 233.9,73.22 234.4,73.71 234.9,73.85 235.4,74.43 235.9,74.48 236.4,74.78 236.9,75.25 237.4,75.6 237.9,75.58 238.4,75.15 238.9,76 239.4,75.69 239.9,76.96 240.4,76.53 240.9,76.26 241.4,76.36 241.9,75.96 242.4,76.81 242.9,76.17 243.4,77.28 243.9,76.03 244.4,76.62 244.9,78.52 245.4,78.75 245.9,78.77 246.4,76.83 246.9,77.2 247.4,77.39 247.9,77.38 248.4,78.88 248.9,78.54 249.4,79.06 249.9,78.87 250.4,78.83 250.9,81.18 251.4,80.21 251.9,79.18 252.4,81.07 252.9,79.78 253.4,80.26 253.9,81.81 254.4,80.22 254.9,80.82 255.4,80.96 255.9,82.88 256.4,83.31 256.9,81.97 257.4,83.66 257.9,81.03 258.4,82.21 258.9,83.74 259.4,82.56 259.9,83.3 260.4,83.4 260.9,84.05 261.4,83.86 261.9,82.5 262.4,83.7 262.9,83.6 263.4,85.1 263.9,83.11 264.4,84.18 264.9,86.47 265.4,85.84 265.9,88.46 266.4,85.93 266.9,83.53 267.4,87.59 267.9,86.95 268.4,86.61 268.9,85.8 269.4,87.31 269.9,88.5 270.4,88.47 270.9,88.43 271.4,89.35 271.9,89.08 272.4,87.89 272.9,89.79 273.4,90.36 273.9,92.7 274.4,90.32 274.9,89.16 275.4,92.48 275.9,92.14 276.4,90.59 276.9,89.99 277.4,94.33 277.9,89.86 278.4,91.58 278.9,93.24 279.4,91.54 279.9,93.1 280.4,94.51 280.9,93.36 281.4,92.3 281.9,93.62 282.4,94.77 282.9,97.37 283.4,93.86 283.9,98.91 284.4,94.77 284.9,99.47 285.4,101.73 285.9,100.11 286.4,97.38 286.9,101.87 287.4,101.08 287.9,99.95 288.4,98.91 288.9,98.86 289.4,99.81 289.9,106.97 290.4,102.2 290.9,102.47 291.4,100.67 291.9,103.11 292.4,101.99 292.9,101.35 293.4,103.9 293.9,102.87 294.4,105.03 294.9,104.84 295.4,103.64 295.9,107.91 296.4,108.74 296.9,99.7 297.4,107.05 297.9,107.86 298.4,108.17 298.9,115.31 299.4,110.69 299.9,109.42 300.4,108.76 300.9,115.49 301.4,106.96 301.9,112.57 302.4,111.99 302.9,113.71 303.4,114.9 303.9,111.68 304.4,112.37 304.9,118.92 305.4,115.23 305.9,135.33 306.4,124.89 306.9,116.21 307.4,129.93 307.9,138.72 308,145 308.4,156.52 308.9,149.74 309.4,138.03 309.9,161.63 310.2,172 310.4,163.87 310.9,154.76 311.4,144.51 311.9,155.19 312.4,196.18 312.6,216.5 312.9,189.72 313.4,164.4 313.9,158.43 314.4,161.51 314.9,171.33 315.2,186 315.4,174.51 315.9,159.52 316.4,151.73 316.9,156.4 317.4,155.04 317.8,160 317.9,154.37 318.4,150.33 318.9,150 319.4,127.73 319.9,125.61 320.4,124.55 320.9,130.38 321.4,128.27 321.9,120.52 322.4,122.63 322.9,119.52 323.4,116.02 323.9,113.52 324.4,116.83 324.9,113.72 325.4,111.48 325.9,112.17 326.4,108.14 326.9,111.06 327.4,107.44 327.9,108.24 328.4,104.86 328.9,105.98 329.4,106.59 329.9,105.45 330.4,106.38 330.9,103 331.4,103.68 331.9,103.28 332.4,101.95 332.9,101.42 333.4,102.15 333.9,102.69 334.4,99.55 334.9,99.98 335.4,99.93 335.9,98.81 336.4,99.67 336.9,97.41 337.4,98.87 337.9,98.57 338.4,97.84 338.9,97.99 339.4,97.47 339.9,96.87 340.4,97.35 340.9,95.97 341.4,96.02 341.9,94.11 342.4,95.75 342.9,95.85 343.4,95.66 343.9,94.27 344.4,94.09 344.9,94.84 345.4,93.12 345.9,94.85 346.4,94.01 346.9,93.37 347.4,92.8 347.9,93.18 348.4,91.27 348.9,91.21 349.4,91.68 349.9,91.46 350.4,91.33 350.9,91.05 351.4,90.34 351.9,90.07 352.4,90.1 352.9,90.45 353.4,91 353.9,90.92 354.4,89.45 354.9,90.32 355.4,89.55 355.9,88.32 356.4,88.58 356.9,88.57 357.4,88.35 357.9,87.85 358.4,87.68 358.9,88.44 359.4,88.39 359.9,88.02 360.4,87.41 360.9,85.99 361.4,86.91 361.9,86.8 362.4,86.11 362.9,86.02 363.4,86.74 363.9,87.36 364.4,84.69 364.9,86.07 365.4,85.98 365.9,84.93 366.4,85.92 366.9,85.4 367.4,85.83 367.9,84.45 368.4,85.14 368.9,84.58 369.4,84.09 369.9,84.42 370.4,83.1 370.9,84.1 371.4,84.68 371.9,83.39 372.4,83.22 372.9,83.06 373.4,83.69 373.9,83.46 374.4,83.13 374.9,82.54 375.4,82.88 375.9,82.11 376.4,82.2 376.9,82.14 377.4,82.64 377.9,83 378.4,81.97 378.9,81.31 379.4,81.38 379.9,82.01 380.4,81.19 380.9,81.34 381.4,81.01 381.9,81.59 382.4,81.37 382.9,80.92 383.4,80.24 383.9,80.71 384.4,80.39 384.9,79.79 385.4,80.37 385.9,80.23 386.4,80.17 386.9,79.33 387.4,79.84 387.9,80.05 388.4,79.64 388.9,79.18 389.4,79.08 389.9,78.81 390.4,78.46 390.9,78.67 391.4,78.82 391.9,79.22 392.4,78.32 392.9,78.02 393.4,78 393.9,77.85 394.4,78.16 394.9,77.61 395.4,78.3 395.9,78.08 396.4,78.08 396.9,77.08 397.4,77.01 397.9,76.91 398.4,76.46 398.9,77.31 399.4,76.71 399.9,76.83 400.4,76.82 400.9,76.25 401.4,76.52 401.9,76.64 402.4,75.97 402.9,76.26 403.4,76.05 403.9,75.66 404.4,75.91 404.9,75.83 405.4,75.5 405.9,75.04 406.4,75.91 406.9,74.83 407.4,74.92 407.9,74.98 408.4,74.84 408.9,75.26 409.4,74.68 409.9,74.38 410.4,74.54 410.9,74.91 411.4,74.43 411.9,74.63 412.4,74.46 412.9,74.29 413.4,73.64 413.9,73.31 414.4,73.65 414.9,73.17 415.4,73.48 415.9,73.3 416.4,72.73 416.9,72.35 417.4,72.45 417.9,73.29 418.4,72.59 418.9,72.29 419.4,72.14 419.9,72.29 420.4,71.24 420.9,72.23 421.4,71.61 421.9,71.68 422.4,71.39 422.9,71.15 423.4,71.17 423.9,70.81 424.4,71.09 424.9,70.78 425.4,70.32 425.9,70.55 426.4,70 426.9,70.08 427.4,70.06 427.9,69.63 428.4,69.65 428.9,68.96 429.4,69.16 429.9,68.69 430.4,69.08 430.9,68.5 431.4,68.59 431.9,68.29 432.4,68.39 432.9,67.9 433.4,67.56 433.9,67.98 434.4,67.85 434.9,67.12 435.4,67.59 435.9,67.25 436.4,67.19 436.9,67.21 437.4,66.83 437.9,66.62 438.4,66.85 438.9,66.07 439.4,66.08 439.9,66.42 440.4,65.77 440.9,65.22 441.4,65.6 441.9,65.24 442.4,64.79 442.9,65.31 443.4,64.51 443.9,64.23 444.4,64.11 444.9,64.39 445.4,63.87 445.9,63.84 446.4,63.37 446.9,63.25 447.4,63.3 447.9,63.05 448.4,62.99 448.9,62.71 449.4,62.5 449.9,62.25 450.4,62.09 450.9,61.97 451.4,61.64 451.9,61.51 452.4,61.24 452.9,61.14 453.4,60.62 453.9,60.43 454.4,60.23 454.9,60.31 455.4,59.93 455.9,59.78 456.4,59.51 456.9,59.23 457.4,58.97 457.9,58.95 458.4,58.47 458.9,58.24 459.4,58.03 459.9,58.01 460.4,57.68 460.9,57.47 461.4,57.32 461.9,57.1 462.4,56.77 462.9,56.64 463.4,56.43 463.9,56.07 464.4,55.8 464.9,55.46 465.4,55.13 465.9,55.17 466.4,54.76 466.9,54.47 467.4,54.37 467.9,54.05 468.4,53.74 468.9,53.5 469.4,53.14 469.9,52.79 470.4,52.49 470.9,52.4 471.4,52.13 471.9,51.73 472.4,51.55 472.9,51.24 473.4,50.88 473.9,50.71 474.4,50.21 474.9,50.03 475.4,49.65 475.9,49.39 476.4,48.98 476.9,48.71 477.4,48.42 477.9,47.98 478.4,47.54 478.9,47.31 479.4,46.8 479.9,46.36 480.4,46.11 480.9,45.67 481.4,45.36 481.9,44.91 482.4,44.6 482.9,44.34 483.4,43.88 483.9,43.41 484.4,43.13 484.9,42.8 485.4,42.39 485.9,42.13 486.4,41.63 486.9,41.43 487.4,41.03 487.9,40.72 488.4,40.44 488.9,40.18 489.4,39.82 489.9,39.52 490.4,39.23 490.9,39.01 491.4,38.63 491.9,38.35 492.4,38.05 492.9,37.76 493.4,37.5 493.9,37.24 494.4,36.89 494.9,36.67 495.4,36.38 495.9,36.07 496.4,35.73 496.9,35.5 497.4,35.21 497.9,34.99 498.4,34.72 498.9,34.43 499.4,34.17 499.9,33.91 500.4,33.64 500.9,33.41 501.4,33.15 501.9,32.9 502.4,32.6 502.9,32.4 503.4,32.15 503.9,31.89 504.4,31.65 504.9,31.42 505.4,31.25 505.9,30.98 506.4,30.75 506.9,30.52 507.4,30.29 507.9,30.05 508.4,29.85 508.9,29.66" fill="none" stroke="#00ffff" stroke-width="1.7" stroke-linejoin="round" stroke-linejoin="miter" stroke-miterlimit="4"/>
<polyline points="239.6,73.97 240.1,73.16 240.6,73.76 241.1,74.22 241.6,73.6 242.1,74.03 242.6,73.98 243.1,74.87 243.6,74.24 244.1,74.86 244.6,74.47 245.1,75.3 245.6,74.64 246.1,74.65 246.6,75.15 247.1,76.63 247.6,75.42 248.1,74.85 248.6,75.18 249.1,77.6 249.6,75.94 250.1,76.14 250.6,76.5 251.1,77.51 251.6,77.05 252.1,77.15 252.6,77 253.1,76.64 253.6,77.23 254.1,77.06 254.6,76.52 255.1,75.98 255.6,78.61 256.1,78.63 256.6,78.48 257.1,78.58 257.6,78.51 258.1,77.75 258.6,77.84 259.1,78.32 259.6,78.52 260.1,78.54 260.6,78.34 261.1,79.9 261.6,80.04 262.1,81.01 262.6,81.29 263.1,79.65 263.6,80.74 264.1,80.42 264.6,80.91 265.1,82.52 265.6,82.43 266.1,81.62 266.6,82.25 267.1,82.11 267.6,81.62 268.1,81.76 268.6,81.52 269.1,83.7 269.6,81.71 270.1,82.33 270.6,82.73 271.1,82.33 271.6,84.77 272.1,83.99 272.6,81.69 273.1,82.96 273.6,84.93 274.1,83.77 274.6,84.63 275.1,84.92 275.6,85.02 276.1,84.4 276.6,85.22 277.1,85.56 277.6,84.8 278.1,86.21 278.6,86.16 279.1,86.6 279.6,87.25 280.1,86.55 280.6,85.76 281.1,88.14 281.6,87.88 282.1,86.35 282.6,86.53 283.1,88.44 283.6,88.98 284.1,86.58 284.6,88.27 285.1,88.23 285.6,88.89 286.1,90.1 286.6,92.13 287.1,88.87 287.6,92.41 288.1,91.98 288.6,94.11 289.1,91.15 289.6,91.75 290.1,93.13 290.6,92.5 291.1,95.01 291.6,93.2 292.1,94.48 292.6,93.97 293.1,92.3 293.6,95.19 294.1,93.28 294.6,94.47 295.1,94.51 295.6,96 296.1,93.19 296.6,98.04 297.1,97.62 297.6,96.55 298.1,94.99 298.6,95.02 299.1,96.78 299.6,96.18 300.1,98 300.6,99.16 301.1,100.01 301.6,99.25 302.1,97.32 302.6,104.03 303.1,104.91 303.6,98.76 304.1,100.16 304.6,107.79 305.1,105.84 305.6,102.77 306.1,104.63 306.6,99.81 307.1,103.54 307.6,107.99 308.1,99.73 308.6,106.9 309.1,102.75 309.6,112.99 310.1,103.46 310.6,103.72 311.1,105.97 311.6,106.4 312.1,110.3 312.6,115.72 313.1,106.34 313.6,109.96 314.1,114.66 314.6,109.26 315.1,117.95 315.6,117.84 316.1,119.25 316.6,117.57 317.1,123.88 317.6,132.58 318.1,142.79 318.2,150 318.6,135.57 319.1,117.33 319.6,154.79 320.1,151.31 320.6,173 320.8,184 321.1,168.03 321.6,150.5 322.1,130.1 322.6,163.33 323.1,163.41 323.6,196.08 323.8,213 324.1,189.53 324.6,161.9 325.1,166.12 325.6,155.19 326.1,172.59 326.4,190 326.6,176.54 327.1,161.09 327.6,144.52 328.1,160.06 328.6,172.55 329.1,187.78 329.2,197 329.6,174.31 330.1,159.57 330.6,133.22 331.1,146.96 331.6,155.07 332,168 332.1,162.37 332.6,146.83 333.1,150.48 333.6,135.94 334.1,133.71 334.6,125.62 335.1,125.53 335.4,137 335.6,128.01 336.1,119.63 336.6,115.84 337.1,114.79 337.6,116.26 338.1,111.15 338.6,112.08 339.1,109.39 339.6,107.81 340.1,108.85 340.6,109.11 341.1,105.13 341.6,106.54 342.1,105.52 342.6,103.67 343.1,105.25 343.6,103.82 344.1,102.84 344.6,104.43 345.1,103.57 345.6,102.24 346.1,100.68 346.6,103.58 347.1,100.32 347.6,99.8 348.1,100.99 348.6,100.27 349.1,101.68 349.6,98.67 350.1,99.81 350.6,98.56 351.1,99.87 351.6,97.27 352.1,98.55 352.6,97.71 353.1,96.58 353.6,96.85 354.1,97.6 354.6,96.46 355.1,95.79 355.6,95.98 356.1,95.68 356.6,95.69 357.1,95.42 357.6,95.05 358.1,95.44 358.6,94.1 359.1,93.73 359.6,94.36 360.1,94.18 360.6,93.83 361.1,93.76 361.6,92.89 362.1,92.33 362.6,92.24 363.1,91.78 363.6,92.87 364.1,91.35 364.6,91.97 365.1,91.55 365.6,91.78 366.1,91.72 366.6,91.28 367.1,91.46 367.6,91.24 368.1,91.5 368.6,89.65 369.1,89.19 369.6,89.88 370.1,90.73 370.6,89.55 371.1,88.52 371.6,90.02 372.1,88.26 372.6,88.69 373.1,90.25 373.6,88.38 374.1,88.39 374.6,88.58 375.1,89.16 375.6,88.4 376.1,87 376.6,88.14 377.1,88.53 377.6,87.26 378.1,87.32 378.6,87.63 379.1,86.78 379.6,87.3 380.1,86.95 380.6,87.13 381.1,85.92 381.6,86.36 382.1,86.69 382.6,85.25 383.1,85.65 383.6,85.81 384.1,85.15 384.6,85.84 385.1,85.38 385.6,85.27 386.1,84.53 386.6,84.93 387.1,84.43 387.6,84.41 388.1,84.29 388.6,84.5 389.1,83.83 389.6,84.83 390.1,84.09 390.6,84.41 391.1,83.13 391.6,82.95 392.1,83.64 392.6,82.88 393.1,83.27 393.6,82.31 394.1,82.83 394.6,81.6 395.1,81.89 395.6,81.71 396.1,82.24 396.6,82.67 397.1,82.02 397.6,81.73 398.1,81.63 398.6,81.66 399.1,81.55 399.6,81.48 400.1,80.21 400.6,81.1 401.1,81 401.6,81.83 402.1,80.24 402.6,80.5 403.1,80.53 403.6,80.46 404.1,80.34 404.6,79.48 405.1,80.01 405.6,79.05 406.1,79.16 406.6,79.56 407.1,79.81 407.6,78.91 408.1,79.19 408.6,79.14 409.1,78.72 409.6,78.2 410.1,79.45 410.6,79 411.1,78.75 411.6,77.84 412.1,78.3 412.6,77.68 413.1,77.41 413.6,77.98 414.1,77.71 414.6,77.52 415.1,77.29 415.6,77.34 416.1,77.06 416.6,77.68 417.1,77.15 417.6,77.2 418.1,76.39 418.6,76.72 419.1,76.68 419.6,76.36 420.1,75.9 420.6,75.56 421.1,76.22 421.6,75.83 422.1,75.32 422.6,75.65 423.1,74.96 423.6,75.27 424.1,74.68 424.6,74.65 425.1,74.73 425.6,74.8 426.1,74.87 426.6,74.44 427.1,73.74 427.6,74.49 428.1,73.88 428.6,73.87 429.1,73.56 429.6,73.62 430.1,73.37 430.6,73.37 431.1,72.83 431.6,73.13 432.1,73.01 432.6,72.27 433.1,72.59 433.6,72.27 434.1,72.47 434.6,72.27 435.1,71.9 435.6,71.98 436.1,71.72 436.6,71.69 437.1,71.37 437.6,71.38 438.1,70.97 438.6,71.34 439.1,70.62 439.6,70.47 440.1,70.43 440.6,69.8 441.1,70 441.6,69.63 442.1,69.55 442.6,69.61 443.1,69.61 443.6,69.4 444.1,69.15 444.6,69.16 445.1,68.84 445.6,68.67 446.1,68.72 446.6,68.34 447.1,68.39 447.6,67.78 448.1,68.11 448.6,67.74 449.1,67.73 449.6,68.04 450.1,67.59 450.6,67.26 451.1,67.18 451.6,66.59 452.1,66.79 452.6,66.47 453.1,66.37 453.6,66.23 454.1,66.04 454.6,65.78 455.1,65.62 455.6,65.68 456.1,65.34 456.6,65.23 457.1,64.94 457.6,64.82 458.1,64.48 458.6,64.58 459.1,64.31 459.6,63.76 460.1,63.72 460.6,63.32 461.1,63.21 461.6,63.12 462.1,62.69 462.6,62.61 463.1,62.43 463.6,61.95 464.1,62 464.6,61.51 465.1,61.36 465.6,61.32 466.1,60.89 466.6,60.78 467.1,60.45 467.6,60.08 468.1,59.68 468.6,59.77 469.1,59.17 469.6,58.94 470.1,58.64 470.6,58.35 471.1,57.95 471.6,57.72 472.1,57.52 472.6,57.47 473.1,56.96 473.6,56.61 474.1,56.3 474.6,56.06 475.1,55.53 475.6,55.33 476.1,55.07 476.6,54.56 477.1,54.37 477.6,53.86 478.1,53.49 478.6,53.12 479.1,52.69 479.6,52.41 480.1,52.01 480.6,51.61 481.1,51.15 481.6,50.89 482.1,50.37 482.6,49.85 483.1,49.41 483.6,49.11 484.1,48.62 484.6,48.27 485.1,47.86 485.6,47.41 486.1,47.01 486.6,46.67 487.1,46.19 487.6,45.77 488.1,45.33 488.6,44.93 489.1,44.47 489.6,44.08 490.1,43.62 490.6,43.23 491.1,42.79 491.6,42.36 492.1,41.94 492.6,41.48 493.1,40.96 493.6,40.51 494.1,40.12 494.6,39.58 495.1,39.17 495.6,38.72 496.1,38.31 496.6,37.84 497.1,37.37 497.6,36.86 498.1,36.44 498.6,35.94 499.1,35.5 499.6,35.01 500.1,34.53 500.6,34.11 501.1,33.69 501.6,33.19 502.1,32.75 502.6,32.26 503.1,31.82 503.6,31.41 504.1,30.93 504.6,30.46 505.1,30.01 505.6,29.57 506.1,29.14 506.6,28.69 507.1,28.2 507.6,27.81 508.1,27.33 508.6,26.9 509.1,26.44 509.6,26 510.1,25.54 510.6,25.14 511.1,24.68 511.6,24.2 512.1,23.77 512.6,23.35 513.1,22.87 513.6,22.44 514.1,21.97 514.6,21.56 515.1,21.1 515.6,20.66 516.1,20.23 516.6,19.79 517.1,19.32 517.6,18.87" fill="none" stroke="#ff00ff" stroke-width="1.7" stroke-linejoin="round" stroke-linejoin="miter" stroke-miterlimit="4"/>
<rect x="60.5" y="11.0" width="612.6" height="213.6" fill="none" stroke="#111" stroke-width="1.5"/>
<line x1="51.8" y1="11" x2="60.5" y2="11" stroke="#111" stroke-width="1.5" />
<text x="45.3" y="15.3" font-size="12.2" text-anchor="end" font-family='"Liberation Sans", sans-serif' fill="#111" >-2</text>
<line x1="55.8" y1="32.36" x2="60.5" y2="32.36" stroke="#111" stroke-width="1.5" />
<line x1="51.8" y1="53.72" x2="60.5" y2="53.72" stroke="#111" stroke-width="1.5" />
<text x="45.3" y="58.02" font-size="12.2" text-anchor="end" font-family='"Liberation Sans", sans-serif' fill="#111" >-3</text>
<line x1="55.8" y1="75.08" x2="60.5" y2="75.08" stroke="#111" stroke-width="1.5" />
<line x1="51.8" y1="96.44" x2="60.5" y2="96.44" stroke="#111" stroke-width="1.5" />
<text x="45.3" y="100.74" font-size="12.2" text-anchor="end" font-family='"Liberation Sans", sans-serif' fill="#111" >-4</text>
<line x1="55.8" y1="117.8" x2="60.5" y2="117.8" stroke="#111" stroke-width="1.5" />
<line x1="51.8" y1="139.16" x2="60.5" y2="139.16" stroke="#111" stroke-width="1.5" />
<text x="45.3" y="143.46" font-size="12.2" text-anchor="end" font-family='"Liberation Sans", sans-serif' fill="#111" >-5</text>
<line x1="55.8" y1="160.52" x2="60.5" y2="160.52" stroke="#111" stroke-width="1.5" />
<line x1="51.8" y1="181.88" x2="60.5" y2="181.88" stroke="#111" stroke-width="1.5" />
<text x="45.3" y="186.18" font-size="12.2" text-anchor="end" font-family='"Liberation Sans", sans-serif' fill="#111" >-6</text>
<line x1="55.8" y1="203.24" x2="60.5" y2="203.24" stroke="#111" stroke-width="1.5" />
<line x1="51.8" y1="224.6" x2="60.5" y2="224.6" stroke="#111" stroke-width="1.5" />
<text x="45.3" y="228.9" font-size="12.2" text-anchor="end" font-family='"Liberation Sans", sans-serif' fill="#111" >-7</text>
<line x1="88.35" y1="224.6" x2="88.35" y2="233.2" stroke="#111" stroke-width="1.5" />
<text x="88.35" y="249.8" font-size="12.2" text-anchor="middle" font-family='"Liberation Sans", sans-serif' fill="#111" >-0.9</text>
<line x1="144.04" y1="224.6" x2="144.04" y2="233.2" stroke="#111" stroke-width="1.5" />
<text x="144.04" y="249.8" font-size="12.2" text-anchor="middle" font-family='"Liberation Sans", sans-serif' fill="#111" >-0.8</text>
<line x1="199.73" y1="224.6" x2="199.73" y2="233.2" stroke="#111" stroke-width="1.5" />
<text x="199.73" y="249.8" font-size="12.2" text-anchor="middle" font-family='"Liberation Sans", sans-serif' fill="#111" >-0.7</text>
<line x1="255.42" y1="224.6" x2="255.42" y2="233.2" stroke="#111" stroke-width="1.5" />
<text x="255.42" y="249.8" font-size="12.2" text-anchor="middle" font-family='"Liberation Sans", sans-serif' fill="#111" >-0.6</text>
<line x1="311.11" y1="224.6" x2="311.11" y2="233.2" stroke="#111" stroke-width="1.5" />
<text x="311.11" y="249.8" font-size="12.2" text-anchor="middle" font-family='"Liberation Sans", sans-serif' fill="#111" >-0.5</text>
<line x1="366.8" y1="224.6" x2="366.8" y2="233.2" stroke="#111" stroke-width="1.5" />
<text x="366.8" y="249.8" font-size="12.2" text-anchor="middle" font-family='"Liberation Sans", sans-serif' fill="#111" >-0.4</text>
<line x1="422.49" y1="224.6" x2="422.49" y2="233.2" stroke="#111" stroke-width="1.5" />
<text x="422.49" y="249.8" font-size="12.2" text-anchor="middle" font-family='"Liberation Sans", sans-serif' fill="#111" >-0.3</text>
<line x1="478.18" y1="224.6" x2="478.18" y2="233.2" stroke="#111" stroke-width="1.5" />
<text x="478.18" y="249.8" font-size="12.2" text-anchor="middle" font-family='"Liberation Sans", sans-serif' fill="#111" >-0.2</text>
<line x1="533.87" y1="224.6" x2="533.87" y2="233.2" stroke="#111" stroke-width="1.5" />
<text x="533.87" y="249.8" font-size="12.2" text-anchor="middle" font-family='"Liberation Sans", sans-serif' fill="#111" >-0.1</text>
<line x1="589.56" y1="224.6" x2="589.56" y2="233.2" stroke="#111" stroke-width="1.5" />
<text x="589.56" y="249.8" font-size="12.2" text-anchor="middle" font-family='"Liberation Sans", sans-serif' fill="#111" >0.0</text>
<line x1="645.25" y1="224.6" x2="645.25" y2="233.2" stroke="#111" stroke-width="1.5" />
<text x="645.25" y="249.8" font-size="12.2" text-anchor="middle" font-family='"Liberation Sans", sans-serif' fill="#111" >0.1</text>
<line x1="60.5" y1="224.6" x2="60.5" y2="229.8" stroke="#111" stroke-width="1.5" />
<line x1="116.19" y1="224.6" x2="116.19" y2="229.8" stroke="#111" stroke-width="1.5" />
<line x1="171.88" y1="224.6" x2="171.88" y2="229.8" stroke="#111" stroke-width="1.5" />
<line x1="227.57" y1="224.6" x2="227.57" y2="229.8" stroke="#111" stroke-width="1.5" />
<line x1="283.26" y1="224.6" x2="283.26" y2="229.8" stroke="#111" stroke-width="1.5" />
<line x1="338.95" y1="224.6" x2="338.95" y2="229.8" stroke="#111" stroke-width="1.5" />
<line x1="394.65" y1="224.6" x2="394.65" y2="229.8" stroke="#111" stroke-width="1.5" />
<line x1="450.34" y1="224.6" x2="450.34" y2="229.8" stroke="#111" stroke-width="1.5" />
<line x1="506.03" y1="224.6" x2="506.03" y2="229.8" stroke="#111" stroke-width="1.5" />
<line x1="561.72" y1="224.6" x2="561.72" y2="229.8" stroke="#111" stroke-width="1.5" />
<line x1="617.41" y1="224.6" x2="617.41" y2="229.8" stroke="#111" stroke-width="1.5" />
<line x1="673.1" y1="224.6" x2="673.1" y2="229.8" stroke="#111" stroke-width="1.5" />
<text x="359" y="266.8" font-size="17" text-anchor="middle" font-family='"Liberation Serif", serif' fill="#000" >Potential/V (vs. SCE)</text>
<text transform="translate(23.8,120.6) rotate(-90)" font-size="17.6" text-anchor="middle" font-family='"Liberation Serif", serif'>logi (A/cm<tspan dy="-0.833em" font-size="60%">2</tspan><tspan dy="0.500em" font-size="100%">&#8203;</tspan>)</text>
<line x1="515.6" y1="48" x2="569.6" y2="48" stroke="#000" stroke-width="1.7" />
<text x="572.5" y="56.2" font-size="12.7" text-anchor="start" font-family='"Liberation Serif", serif' fill="#000" class="legA">CED (8A/dm<tspan dy="-0.645em" font-size="62%">2</tspan><tspan dy="0.400em" font-size="100%">&#8203;</tspan>)</text>
<line x1="515.6" y1="77.2" x2="569.6" y2="77.2" stroke="#ff0000" stroke-width="1.7" />
<text x="572.5" y="85.4" font-size="12.7" text-anchor="start" font-family='"Liberation Serif", serif' fill="#000" class="legA">JED&#160;&#160;(180A/dm<tspan dy="-0.645em" font-size="62%">2</tspan><tspan dy="0.400em" font-size="100%">&#8203;</tspan>)</text>
<line x1="515.6" y1="106.4" x2="569.6" y2="106.4" stroke="#00ff00" stroke-width="1.7" />
<text x="572.5" y="114.6" font-size="12.7" text-anchor="start" font-family='"Liberation Serif", serif' fill="#000" class="legA">JED&#160;&#160;(190A/dm<tspan dy="-0.645em" font-size="62%">2</tspan><tspan dy="0.400em" font-size="100%">&#8203;</tspan>)</text>
<line x1="515.6" y1="135.6" x2="569.6" y2="135.6" stroke="#000080" stroke-width="1.7" />
<text x="572.5" y="143.8" font-size="12.7" text-anchor="start" font-family='"Liberation Serif", serif' fill="#000" class="legA">JED&#160;&#160;(200A/dm<tspan dy="-0.645em" font-size="62%">2</tspan><tspan dy="0.400em" font-size="100%">&#8203;</tspan>)</text>
<line x1="515.6" y1="164.8" x2="569.6" y2="164.8" stroke="#00ffff" stroke-width="1.7" />
<text x="572.5" y="173" font-size="12.7" text-anchor="start" font-family='"Liberation Serif", serif' fill="#000" class="legA">JED (210A/dm<tspan dy="-0.645em" font-size="62%">2</tspan><tspan dy="0.400em" font-size="100%">&#8203;</tspan>)</text>
<line x1="515.6" y1="194" x2="569.6" y2="194" stroke="#ff00ff" stroke-width="1.7" />
<text x="572.5" y="202.2" font-size="12.7" text-anchor="start" font-family='"Liberation Serif", serif' fill="#000" class="legA">JED (220A/dm<tspan dy="-0.645em" font-size="62%">2</tspan><tspan dy="0.400em" font-size="100%">&#8203;</tspan>)</text>
<text x="175.6" y="29.6" font-size="11.7" text-anchor="middle" font-family='"Liberation Serif", serif' fill="#222" class="annE">E<tspan dy="0.294em" font-size="68%">corr</tspan><tspan dy="-0.200em" font-size="100%">&#8203;</tspan>= -0.575 V</text>
<text x="176.35" y="47.7" font-size="11.7" text-anchor="middle" font-family='"Liberation Serif", serif' fill="#222" class="annI">i<tspan dy="0.294em" font-size="68%">corr</tspan><tspan dy="-0.200em" font-size="100%">&#8203;</tspan>= 9.52 &#956;A/cm&#178;</text>
<text x="107.45" y="201.5" font-size="11.7" text-anchor="middle" font-family='"Liberation Serif", serif' fill="#222" class="annE">E<tspan dy="0.294em" font-size="68%">corr</tspan><tspan dy="-0.200em" font-size="100%">&#8203;</tspan>= -0.747 V</text>
<text x="109.1" y="215.5" font-size="11.7" text-anchor="middle" font-family='"Liberation Serif", serif' fill="#222" class="annI">i<tspan dy="0.294em" font-size="68%">corr</tspan><tspan dy="-0.200em" font-size="100%">&#8203;</tspan>= 54.52 &#956;A/cm&#178;</text>
<text x="220" y="179.7" font-size="11.7" text-anchor="middle" font-family='"Liberation Serif", serif' fill="#222" class="annE">E<tspan dy="0.294em" font-size="68%">corr</tspan><tspan dy="-0.200em" font-size="100%">&#8203;</tspan>= -0. 549 V</text>
<text x="218.9" y="197.2" font-size="11.7" text-anchor="middle" font-family='"Liberation Serif", serif' fill="#222" class="annI">i<tspan dy="0.294em" font-size="68%">corr</tspan><tspan dy="-0.200em" font-size="100%">&#8203;</tspan>= 6.96 &#956;A/cm&#178;</text>
<text x="324.95" y="24.6" font-size="11.7" text-anchor="middle" font-family='"Liberation Serif", serif' fill="#222" class="annE">E<tspan dy="0.294em" font-size="68%">corr</tspan><tspan dy="-0.200em" font-size="100%">&#8203;</tspan>= -0.518 V</text>
<text x="327.55" y="40.7" font-size="11.7" text-anchor="middle" font-family='"Liberation Serif", serif' fill="#222" class="annI">i<tspan dy="0.294em" font-size="68%">corr</tspan><tspan dy="-0.200em" font-size="100%">&#8203;</tspan>= 6.38 &#956;A/cm&#178;</text>
<text x="436.6" y="127.5" font-size="11.7" text-anchor="middle" font-family='"Liberation Serif", serif' fill="#222" class="annE">E<tspan dy="0.294em" font-size="68%">corr</tspan><tspan dy="-0.200em" font-size="100%">&#8203;</tspan>= -0.494 V</text>
<text x="437" y="145.1" font-size="11.7" text-anchor="middle" font-family='"Liberation Serif", serif' fill="#222" class="annI">i<tspan dy="0.294em" font-size="68%">corr</tspan><tspan dy="-0.200em" font-size="100%">&#8203;</tspan>= 4.05 &#956;A/cm&#178;</text>
<text x="434.6" y="182.4" font-size="11.7" text-anchor="middle" font-family='"Liberation Serif", serif' fill="#222" class="annE">E<tspan dy="0.294em" font-size="68%">corr</tspan><tspan dy="-0.200em" font-size="100%">&#8203;</tspan>= -0.477 V</text>
<text x="435.25" y="199.7" font-size="11.7" text-anchor="middle" font-family='"Liberation Serif", serif' fill="#222" class="annI">i<tspan dy="0.294em" font-size="68%">corr</tspan><tspan dy="-0.200em" font-size="100%">&#8203;</tspan>= 2.76 &#956;A/cm&#178;</text>
<line x1="190.9" y1="51.8" x2="194.6" y2="68.65" stroke="#000" stroke-width="1.3" />
<path d="M196,75 L191.35,67.83 L194.67,68.94 L197.21,66.54 Z" fill="#000"/>
<line x1="123.2" y1="183.9" x2="161.1" y2="161.51" stroke="#000" stroke-width="1.3" />
<path d="M166.7,158.2 L161.34,164.85 L161.36,161.35 L158.29,159.69 Z" fill="#000"/>
<line x1="228.9" y1="166.1" x2="269.96" y2="154.21" stroke="#000" stroke-width="1.3" />
<path d="M276.2,152.4 L269.35,157.51 L270.24,154.12 L267.68,151.74 Z" fill="#000"/>
<line x1="379.8" y1="28" x2="438.3" y2="54.98" stroke="#000" stroke-width="1.3" />
<path d="M444.2,57.7 L435.68,57.07 L438.57,55.1 L438.19,51.63 Z" fill="#000"/>
<line x1="391.1" y1="127" x2="345.58" y2="101.66" stroke="#000" stroke-width="1.3" />
<path d="M339.9,98.5 L348.35,99.77 L345.32,101.52 L345.43,105.01 Z" fill="#000"/>
<line x1="387.2" y1="185.8" x2="335.69" y2="164.12" stroke="#000" stroke-width="1.3" />
<path d="M329.7,161.6 L338.24,161.94 L335.41,164.01 L335.91,167.47 Z" fill="#000"/>
<clipPath id="clipB"><rect x="63.4" y="281.9" width="281.9" height="207.2"/></clipPath>
<g clip-path="url(#clipB)">
<polyline points="63.5,488.6 63.51,488.59 63.53,488.55 63.57,488.48 63.62,488.4 63.69,488.29 63.77,488.17 63.86,488.02 63.97,487.86 64.1,487.68 64.25,487.49 64.41,487.29 64.6,487.07 64.8,486.83 65.03,486.58 65.29,486.33 65.57,486.08 65.88,485.84 66.22,485.61 66.6,485.38 67.02,485.15 67.46,484.96 67.93,484.78 68.43,484.62 68.96,484.47 69.52,484.36 70.1,484.28 70.71,484.22 71.34,484.2 71.99,484.31 72.63,484.51 73.25,484.83 73.78,485.28 74.2,485.9" fill="none" stroke="#000" stroke-width="1.2" stroke-linejoin="round" />
<rect x="61.8" y="486.9" width="3.4" height="3.4" fill="#000"/>
<rect x="61.81" y="486.89" width="3.4" height="3.4" fill="#000"/>
<rect x="61.83" y="486.85" width="3.4" height="3.4" fill="#000"/>
<rect x="61.87" y="486.78" width="3.4" height="3.4" fill="#000"/>
<rect x="61.92" y="486.7" width="3.4" height="3.4" fill="#000"/>
<rect x="61.99" y="486.59" width="3.4" height="3.4" fill="#000"/>
<rect x="62.07" y="486.47" width="3.4" height="3.4" fill="#000"/>
<rect x="62.16" y="486.32" width="3.4" height="3.4" fill="#000"/>
<rect x="62.27" y="486.16" width="3.4" height="3.4" fill="#000"/>
<rect x="62.4" y="485.98" width="3.4" height="3.4" fill="#000"/>
<rect x="62.55" y="485.79" width="3.4" height="3.4" fill="#000"/>
<rect x="62.71" y="485.59" width="3.4" height="3.4" fill="#000"/>
<rect x="62.9" y="485.37" width="3.4" height="3.4" fill="#000"/>
<rect x="63.1" y="485.13" width="3.4" height="3.4" fill="#000"/>
<rect x="63.33" y="484.88" width="3.4" height="3.4" fill="#000"/>
<rect x="63.59" y="484.63" width="3.4" height="3.4" fill="#000"/>
<rect x="63.87" y="484.38" width="3.4" height="3.4" fill="#000"/>
<rect x="64.18" y="484.14" width="3.4" height="3.4" fill="#000"/>
<rect x="64.52" y="483.91" width="3.4" height="3.4" fill="#000"/>
<rect x="64.9" y="483.68" width="3.4" height="3.4" fill="#000"/>
<rect x="65.32" y="483.45" width="3.4" height="3.4" fill="#000"/>
<rect x="65.76" y="483.26" width="3.4" height="3.4" fill="#000"/>
<rect x="66.23" y="483.08" width="3.4" height="3.4" fill="#000"/>
<rect x="66.73" y="482.92" width="3.4" height="3.4" fill="#000"/>
<rect x="67.26" y="482.77" width="3.4" height="3.4" fill="#000"/>
<rect x="67.82" y="482.66" width="3.4" height="3.4" fill="#000"/>
<rect x="68.4" y="482.58" width="3.4" height="3.4" fill="#000"/>
<rect x="69.01" y="482.52" width="3.4" height="3.4" fill="#000"/>
<rect x="69.64" y="482.5" width="3.4" height="3.4" fill="#000"/>
<rect x="70.29" y="482.61" width="3.4" height="3.4" fill="#000"/>
<rect x="70.93" y="482.81" width="3.4" height="3.4" fill="#000"/>
<rect x="71.55" y="483.13" width="3.4" height="3.4" fill="#000"/>
<rect x="72.08" y="483.58" width="3.4" height="3.4" fill="#000"/>
<rect x="72.5" y="484.2" width="3.4" height="3.4" fill="#000"/>
<polyline points="63.5,488.6 63.53,488.16 63.56,487.68 63.6,487.14 63.64,486.51 63.69,485.78 63.75,484.95 63.83,484 63.92,482.9 64.03,481.64 64.16,480.19 64.32,478.52 64.52,476.61 64.81,474.43 65.26,471.91 66,469.1 67.5,466.1 69.1,463 71.1,459.3 74.4,453.7 78.4,447.9 83.1,441.3 88.9,433.7 96.7,426 105.9,418 117.6,409.9 131,402.6 147.3,396.1 165.4,391 184.3,388.4 204.5,388.3 225,390.9 244.9,395.6 262.4,403 276.9,411.9 288.1,422.4 296.3,432.9 301.7,443.4 304.5,452.8 304,463.1 301.7,470.8 297.9,477.8 291.6,484.8" fill="none" stroke="#ff00ff" stroke-width="1.4" stroke-linejoin="round" />
<path d="M60.12,488.6 L66.2,485.23 L66.2,491.98 Z" fill="#ff00ff"/>
<path d="M60.15,488.16 L66.23,484.78 L66.23,491.53 Z" fill="#ff00ff"/>
<path d="M60.18,487.68 L66.26,484.31 L66.26,491.06 Z" fill="#ff00ff"/>
<path d="M60.22,487.14 L66.3,483.76 L66.3,490.51 Z" fill="#ff00ff"/>
<path d="M60.26,486.51 L66.34,483.13 L66.34,489.88 Z" fill="#ff00ff"/>
<path d="M60.32,485.78 L66.39,482.41 L66.39,489.16 Z" fill="#ff00ff"/>
<path d="M60.38,484.95 L66.45,481.58 L66.45,488.33 Z" fill="#ff00ff"/>
<path d="M60.46,484 L66.53,480.62 L66.53,487.37 Z" fill="#ff00ff"/>
<path d="M60.55,482.9 L66.62,479.53 L66.62,486.28 Z" fill="#ff00ff"/>
<path d="M60.66,481.64 L66.73,478.27 L66.73,485.02 Z" fill="#ff00ff"/>
<path d="M60.79,480.19 L66.86,476.82 L66.86,483.57 Z" fill="#ff00ff"/>
<path d="M60.94,478.52 L67.02,475.15 L67.02,481.9 Z" fill="#ff00ff"/>
<path d="M61.15,476.61 L67.22,473.24 L67.22,479.99 Z" fill="#ff00ff"/>
<path d="M61.44,474.43 L67.51,471.05 L67.51,477.8 Z" fill="#ff00ff"/>
<path d="M61.89,471.91 L67.96,468.54 L67.96,475.29 Z" fill="#ff00ff"/>
<path d="M62.62,469.1 L68.7,465.73 L68.7,472.48 Z" fill="#ff00ff"/>
<path d="M64.12,466.1 L70.2,462.73 L70.2,469.48 Z" fill="#ff00ff"/>
<path d="M65.72,463 L71.8,459.62 L71.8,466.38 Z" fill="#ff00ff"/>
<path d="M67.72,459.3 L73.8,455.93 L73.8,462.68 Z" fill="#ff00ff"/>
<path d="M71.03,453.7 L77.1,450.32 L77.1,457.07 Z" fill="#ff00ff"/>
<path d="M75.03,447.9 L81.1,444.52 L81.1,451.27 Z" fill="#ff00ff"/>
<path d="M79.72,441.3 L85.8,437.93 L85.8,444.68 Z" fill="#ff00ff"/>
<path d="M85.53,433.7 L91.6,430.32 L91.6,437.07 Z" fill="#ff00ff"/>
<path d="M93.33,426 L99.4,422.62 L99.4,429.38 Z" fill="#ff00ff"/>
<path d="M102.53,418 L108.6,414.62 L108.6,421.38 Z" fill="#ff00ff"/>
<path d="M114.22,409.9 L120.3,406.52 L120.3,413.27 Z" fill="#ff00ff"/>
<path d="M127.62,402.6 L133.7,399.23 L133.7,405.98 Z" fill="#ff00ff"/>
<path d="M143.93,396.1 L150,392.73 L150,399.48 Z" fill="#ff00ff"/>
<path d="M162.03,391 L168.1,387.62 L168.1,394.38 Z" fill="#ff00ff"/>
<path d="M180.93,388.4 L187,385.02 L187,391.77 Z" fill="#ff00ff"/>
<path d="M201.12,388.3 L207.2,384.93 L207.2,391.68 Z" fill="#ff00ff"/>
<path d="M221.62,390.9 L227.7,387.52 L227.7,394.27 Z" fill="#ff00ff"/>
<path d="M241.53,395.6 L247.6,392.23 L247.6,398.98 Z" fill="#ff00ff"/>
<path d="M259.02,403 L265.1,399.62 L265.1,406.38 Z" fill="#ff00ff"/>
<path d="M273.52,411.9 L279.6,408.52 L279.6,415.27 Z" fill="#ff00ff"/>
<path d="M284.73,422.4 L290.8,419.02 L290.8,425.77 Z" fill="#ff00ff"/>
<path d="M292.93,432.9 L299,429.52 L299,436.27 Z" fill="#ff00ff"/>
<path d="M298.32,443.4 L304.4,440.02 L304.4,446.77 Z" fill="#ff00ff"/>
<path d="M301.12,452.8 L307.2,449.43 L307.2,456.18 Z" fill="#ff00ff"/>
<path d="M300.62,463.1 L306.7,459.73 L306.7,466.48 Z" fill="#ff00ff"/>
<path d="M298.32,470.8 L304.4,467.43 L304.4,474.18 Z" fill="#ff00ff"/>
<path d="M294.52,477.8 L300.6,474.43 L300.6,481.18 Z" fill="#ff00ff"/>
<path d="M288.23,484.8 L294.3,481.43 L294.3,488.18 Z" fill="#ff00ff"/>
<polyline points="63.5,488.6 63.66,487.44 63.9,485.98 64.23,484.29 64.67,482.35 65.3,480.09 66.18,477.52 67.43,474.68 69.37,471.54 72,468.22 75.5,464.7 79.2,460.3 83.5,455.9 88.4,452.3 94.2,448.9 101.1,445.7 108.4,443.1 116.7,440.6 125.4,438.8 134.6,437.9 143.8,437.4 153.3,438.2 162.2,440.4 170.4,443.5 179.6,446.8 186.8,450.8 192.9,455.8 198.9,461 202.8,464.9 205.2,469.1 206.4,473.1 204.5,477.3" fill="none" stroke="#00ffff" stroke-width="1.4" stroke-linejoin="round" />
<path d="M63.5,484.96 L67.14,488.6 L63.5,492.25 L59.85,488.6 Z" fill="#00ffff"/>
<path d="M63.66,483.8 L67.3,487.44 L63.66,491.09 L60.01,487.44 Z" fill="#00ffff"/>
<path d="M63.9,482.33 L67.54,485.98 L63.9,489.62 L60.25,485.98 Z" fill="#00ffff"/>
<path d="M64.23,480.65 L67.87,484.29 L64.23,487.94 L60.58,484.29 Z" fill="#00ffff"/>
<path d="M64.67,478.7 L68.32,482.35 L64.67,485.99 L61.03,482.35 Z" fill="#00ffff"/>
<path d="M65.3,476.45 L68.95,480.09 L65.3,483.74 L61.66,480.09 Z" fill="#00ffff"/>
<path d="M66.18,473.87 L69.83,477.52 L66.18,481.16 L62.54,477.52 Z" fill="#00ffff"/>
<path d="M67.43,471.03 L71.08,474.68 L67.43,478.32 L63.79,474.68 Z" fill="#00ffff"/>
<path d="M69.37,467.89 L73.02,471.54 L69.37,475.18 L65.73,471.54 Z" fill="#00ffff"/>
<path d="M72,464.58 L75.64,468.22 L72,471.87 L68.35,468.22 Z" fill="#00ffff"/>
<path d="M75.5,461.06 L79.14,464.7 L75.5,468.34 L71.86,464.7 Z" fill="#00ffff"/>
<path d="M79.2,456.66 L82.84,460.3 L79.2,463.94 L75.56,460.3 Z" fill="#00ffff"/>
<path d="M83.5,452.25 L87.14,455.9 L83.5,459.54 L79.86,455.9 Z" fill="#00ffff"/>
<path d="M88.4,448.66 L92.05,452.3 L88.4,455.94 L84.76,452.3 Z" fill="#00ffff"/>
<path d="M94.2,445.25 L97.84,448.9 L94.2,452.54 L90.56,448.9 Z" fill="#00ffff"/>
<path d="M101.1,442.06 L104.74,445.7 L101.1,449.34 L97.45,445.7 Z" fill="#00ffff"/>
<path d="M108.4,439.46 L112.05,443.1 L108.4,446.75 L104.76,443.1 Z" fill="#00ffff"/>
<path d="M116.7,436.96 L120.34,440.6 L116.7,444.25 L113.06,440.6 Z" fill="#00ffff"/>
<path d="M125.4,435.16 L129.05,438.8 L125.4,442.44 L121.76,438.8 Z" fill="#00ffff"/>
<path d="M134.6,434.25 L138.25,437.9 L134.6,441.54 L130.95,437.9 Z" fill="#00ffff"/>
<path d="M143.8,433.75 L147.45,437.4 L143.8,441.04 L140.16,437.4 Z" fill="#00ffff"/>
<path d="M153.3,434.56 L156.95,438.2 L153.3,441.84 L149.66,438.2 Z" fill="#00ffff"/>
<path d="M162.2,436.75 L165.84,440.4 L162.2,444.04 L158.55,440.4 Z" fill="#00ffff"/>
<path d="M170.4,439.86 L174.05,443.5 L170.4,447.14 L166.75,443.5 Z" fill="#00ffff"/>
<path d="M179.6,443.16 L183.25,446.8 L179.6,450.44 L175.95,446.8 Z" fill="#00ffff"/>
<path d="M186.8,447.16 L190.45,450.8 L186.8,454.44 L183.16,450.8 Z" fill="#00ffff"/>
<path d="M192.9,452.16 L196.55,455.8 L192.9,459.44 L189.25,455.8 Z" fill="#00ffff"/>
<path d="M198.9,457.36 L202.55,461 L198.9,464.64 L195.25,461 Z" fill="#00ffff"/>
<path d="M202.8,461.25 L206.45,464.9 L202.8,468.54 L199.16,464.9 Z" fill="#00ffff"/>
<path d="M205.2,465.46 L208.84,469.1 L205.2,472.75 L201.55,469.1 Z" fill="#00ffff"/>
<path d="M206.4,469.46 L210.05,473.1 L206.4,476.75 L202.75,473.1 Z" fill="#00ffff"/>
<path d="M204.5,473.66 L208.15,477.3 L204.5,480.94 L200.85,477.3 Z" fill="#00ffff"/>
<polyline points="63.5,488.6 63.52,488.52 63.56,488.27 63.65,487.85 63.78,487.27 63.96,486.53 64.19,485.63 64.5,484.57 64.91,483.35 65.43,482.01 66.1,480.55 66.98,478.98 68.07,477.37 69.41,475.74 71.05,474.09 72.94,472.55 75.12,471.08 77.59,469.7 80.28,468.47 83.2,467.31 86.37,466.27 89.73,465.44 93.31,464.72 97.09,464.08 101.06,463.65 105.2,463.46 109.53,463.31 114.03,463.21 118.69,463.26 123.51,463.71 128.48,464.37 133.6,465.11 138.86,466.05 144.28,467.04 149.86,468.13 155.59,469.31 161.47,470.63 167.46,472.19 173.63,473.76 180,475.2" fill="none" stroke="#0000ff" stroke-width="1.2" stroke-linejoin="round" />
<path d="M63.5,491.98 L66.88,485.9 L60.12,485.9 Z" fill="#0000ff"/>
<path d="M63.52,491.89 L66.89,485.82 L60.14,485.82 Z" fill="#0000ff"/>
<path d="M63.56,491.64 L66.94,485.57 L60.19,485.57 Z" fill="#0000ff"/>
<path d="M63.65,491.22 L67.02,485.15 L60.27,485.15 Z" fill="#0000ff"/>
<path d="M63.78,490.64 L67.15,484.57 L60.4,484.57 Z" fill="#0000ff"/>
<path d="M63.96,489.9 L67.33,483.83 L60.58,483.83 Z" fill="#0000ff"/>
<path d="M64.19,489 L67.57,482.93 L60.82,482.93 Z" fill="#0000ff"/>
<path d="M64.5,487.94 L67.88,481.87 L61.13,481.87 Z" fill="#0000ff"/>
<path d="M64.91,486.73 L68.28,480.65 L61.53,480.65 Z" fill="#0000ff"/>
<path d="M65.43,485.38 L68.8,479.31 L62.05,479.31 Z" fill="#0000ff"/>
<path d="M66.1,483.93 L69.47,477.85 L62.72,477.85 Z" fill="#0000ff"/>
<path d="M66.98,482.36 L70.36,476.28 L63.61,476.28 Z" fill="#0000ff"/>
<path d="M68.07,480.74 L71.45,474.67 L64.7,474.67 Z" fill="#0000ff"/>
<path d="M69.41,479.11 L72.79,473.04 L66.04,473.04 Z" fill="#0000ff"/>
<path d="M71.05,477.47 L74.43,471.39 L67.68,471.39 Z" fill="#0000ff"/>
<path d="M72.94,475.92 L76.31,469.85 L69.56,469.85 Z" fill="#0000ff"/>
<path d="M75.12,474.46 L78.49,468.38 L71.74,468.38 Z" fill="#0000ff"/>
<path d="M77.59,473.07 L80.97,467 L74.22,467 Z" fill="#0000ff"/>
<path d="M80.28,471.84 L83.65,465.77 L76.9,465.77 Z" fill="#0000ff"/>
<path d="M83.2,470.69 L86.58,464.61 L79.83,464.61 Z" fill="#0000ff"/>
<path d="M86.37,469.65 L89.74,463.57 L82.99,463.57 Z" fill="#0000ff"/>
<path d="M89.73,468.82 L93.11,462.74 L86.36,462.74 Z" fill="#0000ff"/>
<path d="M93.31,468.09 L96.68,462.02 L89.93,462.02 Z" fill="#0000ff"/>
<path d="M97.09,467.46 L100.47,461.38 L93.72,461.38 Z" fill="#0000ff"/>
<path d="M101.06,467.03 L104.44,460.95 L97.69,460.95 Z" fill="#0000ff"/>
<path d="M105.2,466.83 L108.58,460.76 L101.83,460.76 Z" fill="#0000ff"/>
<path d="M109.53,466.68 L112.9,460.61 L106.15,460.61 Z" fill="#0000ff"/>
<path d="M114.03,466.59 L117.41,460.51 L110.66,460.51 Z" fill="#0000ff"/>
<path d="M118.69,466.63 L122.06,460.56 L115.31,460.56 Z" fill="#0000ff"/>
<path d="M123.51,467.08 L126.88,461.01 L120.13,461.01 Z" fill="#0000ff"/>
<path d="M128.48,467.74 L131.85,461.67 L125.1,461.67 Z" fill="#0000ff"/>
<path d="M133.6,468.48 L136.97,462.41 L130.22,462.41 Z" fill="#0000ff"/>
<path d="M138.86,469.42 L142.24,463.35 L135.49,463.35 Z" fill="#0000ff"/>
<path d="M144.28,470.42 L147.66,464.34 L140.91,464.34 Z" fill="#0000ff"/>
<path d="M149.86,471.51 L153.24,465.43 L146.49,465.43 Z" fill="#0000ff"/>
<path d="M155.59,472.69 L158.97,466.61 L152.22,466.61 Z" fill="#0000ff"/>
<path d="M161.47,474 L164.85,467.93 L158.1,467.93 Z" fill="#0000ff"/>
<path d="M167.46,475.57 L170.84,469.49 L164.09,469.49 Z" fill="#0000ff"/>
<path d="M173.63,477.13 L177.01,471.06 L170.26,471.06 Z" fill="#0000ff"/>
<path d="M180,478.57 L183.38,472.5 L176.62,472.5 Z" fill="#0000ff"/>
<polyline points="63.5,488.6 63.51,488.54 63.56,488.35 63.63,488.03 63.74,487.59 63.89,487.03 64.09,486.35 64.34,485.56 64.66,484.64 65.06,483.61 65.56,482.49 66.17,481.29 66.93,479.99 67.84,478.66 68.94,477.34 70.29,476.01 71.85,474.73 73.6,473.57 75.58,472.47 77.78,471.46 80.12,470.58 82.64,469.77 85.33,469.03 88.18,468.43 91.17,467.99 94.31,467.58 97.6,467.33 101.02,467.31 104.57,467.38 108.24,467.51 112,467.97 115.88,468.73 119.87,469.49 123.98,470.35 128.21,471.25 132.57,472.14 137.05,473.06 141.66,474.03 146.39,475.08 151.2,476.3" fill="none" stroke="#00ff00" stroke-width="1.2" stroke-linejoin="round" />
<path d="M63.5,485.23 L66.88,491.3 L60.12,491.3 Z" fill="#00ff00"/>
<path d="M63.51,485.16 L66.89,491.24 L60.14,491.24 Z" fill="#00ff00"/>
<path d="M63.56,484.97 L66.93,491.05 L60.18,491.05 Z" fill="#00ff00"/>
<path d="M63.63,484.66 L67.01,490.73 L60.26,490.73 Z" fill="#00ff00"/>
<path d="M63.74,484.22 L67.12,490.29 L60.37,490.29 Z" fill="#00ff00"/>
<path d="M63.89,483.66 L67.27,489.73 L60.52,489.73 Z" fill="#00ff00"/>
<path d="M64.09,482.98 L67.47,489.05 L60.72,489.05 Z" fill="#00ff00"/>
<path d="M64.34,482.18 L67.72,488.26 L60.97,488.26 Z" fill="#00ff00"/>
<path d="M64.66,481.26 L68.04,487.34 L61.29,487.34 Z" fill="#00ff00"/>
<path d="M65.06,480.24 L68.44,486.31 L61.69,486.31 Z" fill="#00ff00"/>
<path d="M65.56,479.12 L68.93,485.19 L62.18,485.19 Z" fill="#00ff00"/>
<path d="M66.17,477.91 L69.54,483.99 L62.79,483.99 Z" fill="#00ff00"/>
<path d="M66.93,476.61 L70.3,482.69 L63.55,482.69 Z" fill="#00ff00"/>
<path d="M67.84,475.28 L71.22,481.36 L64.47,481.36 Z" fill="#00ff00"/>
<path d="M68.94,473.97 L72.32,480.04 L65.57,480.04 Z" fill="#00ff00"/>
<path d="M70.29,472.63 L73.66,478.71 L66.91,478.71 Z" fill="#00ff00"/>
<path d="M71.85,471.35 L75.23,477.43 L68.48,477.43 Z" fill="#00ff00"/>
<path d="M73.6,470.19 L76.97,476.27 L70.22,476.27 Z" fill="#00ff00"/>
<path d="M75.58,469.1 L78.96,475.17 L72.21,475.17 Z" fill="#00ff00"/>
<path d="M77.78,468.09 L81.15,474.16 L74.4,474.16 Z" fill="#00ff00"/>
<path d="M80.12,467.21 L83.5,473.28 L76.75,473.28 Z" fill="#00ff00"/>
<path d="M82.64,466.39 L86.01,472.47 L79.26,472.47 Z" fill="#00ff00"/>
<path d="M85.33,465.65 L88.71,471.73 L81.96,471.73 Z" fill="#00ff00"/>
<path d="M88.18,465.05 L91.56,471.13 L84.81,471.13 Z" fill="#00ff00"/>
<path d="M91.17,464.61 L94.54,470.69 L87.79,470.69 Z" fill="#00ff00"/>
<path d="M94.31,464.21 L97.69,470.28 L90.94,470.28 Z" fill="#00ff00"/>
<path d="M97.6,463.95 L100.97,470.03 L94.22,470.03 Z" fill="#00ff00"/>
<path d="M101.02,463.94 L104.39,470.01 L97.64,470.01 Z" fill="#00ff00"/>
<path d="M104.57,464.01 L107.94,470.08 L101.19,470.08 Z" fill="#00ff00"/>
<path d="M108.24,464.14 L111.61,470.21 L104.86,470.21 Z" fill="#00ff00"/>
<path d="M112,464.59 L115.38,470.67 L108.63,470.67 Z" fill="#00ff00"/>
<path d="M115.88,465.35 L119.26,471.43 L112.51,471.43 Z" fill="#00ff00"/>
<path d="M119.87,466.12 L123.25,472.19 L116.5,472.19 Z" fill="#00ff00"/>
<path d="M123.98,466.98 L127.35,473.05 L120.6,473.05 Z" fill="#00ff00"/>
<path d="M128.21,467.87 L131.58,473.95 L124.83,473.95 Z" fill="#00ff00"/>
<path d="M132.57,468.76 L135.94,474.84 L129.19,474.84 Z" fill="#00ff00"/>
<path d="M137.05,469.69 L140.43,475.76 L133.68,475.76 Z" fill="#00ff00"/>
<path d="M141.66,470.66 L145.04,476.73 L138.29,476.73 Z" fill="#00ff00"/>
<path d="M146.39,471.7 L149.76,477.78 L143.01,477.78 Z" fill="#00ff00"/>
<path d="M151.2,472.93 L154.57,479 L147.82,479 Z" fill="#00ff00"/>
<polyline points="63.5,488.6 63.51,488.57 63.54,488.48 63.59,488.32 63.67,488.11 63.77,487.84 63.9,487.51 64.07,487.12 64.26,486.68 64.5,486.2 64.78,485.66 65.12,485.08 65.52,484.44 65.98,483.78 66.51,483.1 67.12,482.41 67.83,481.69 68.64,480.97 69.54,480.29 70.52,479.7 71.63,479.13 72.85,478.59 74.17,478.1 75.57,477.7 77.02,477.39 78.56,477.12 80.19,476.87 81.89,476.67 83.66,476.52 85.48,476.42 87.37,476.32 89.33,476.24 91.35,476.2 93.44,476.24 95.58,476.42 97.78,476.67 100.04,477.02 102.33,477.53 104.62,478.22 106.9,479.2" fill="none" stroke="#ff0000" stroke-width="1.2" stroke-linejoin="round" />
<circle cx="63.5" cy="488.6" r="2.92" fill="#ff0000"/>
<circle cx="63.51" cy="488.57" r="2.92" fill="#ff0000"/>
<circle cx="63.54" cy="488.48" r="2.92" fill="#ff0000"/>
<circle cx="63.59" cy="488.32" r="2.92" fill="#ff0000"/>
<circle cx="63.67" cy="488.11" r="2.92" fill="#ff0000"/>
<circle cx="63.77" cy="487.84" r="2.92" fill="#ff0000"/>
<circle cx="63.9" cy="487.51" r="2.92" fill="#ff0000"/>
<circle cx="64.07" cy="487.12" r="2.92" fill="#ff0000"/>
<circle cx="64.26" cy="486.68" r="2.92" fill="#ff0000"/>
<circle cx="64.5" cy="486.2" r="2.92" fill="#ff0000"/>
<circle cx="64.78" cy="485.66" r="2.92" fill="#ff0000"/>
<circle cx="65.12" cy="485.08" r="2.92" fill="#ff0000"/>
<circle cx="65.52" cy="484.44" r="2.92" fill="#ff0000"/>
<circle cx="65.98" cy="483.78" r="2.92" fill="#ff0000"/>
<circle cx="66.51" cy="483.1" r="2.92" fill="#ff0000"/>
<circle cx="67.12" cy="482.41" r="2.92" fill="#ff0000"/>
<circle cx="67.83" cy="481.69" r="2.92" fill="#ff0000"/>
<circle cx="68.64" cy="480.97" r="2.92" fill="#ff0000"/>
<circle cx="69.54" cy="480.29" r="2.92" fill="#ff0000"/>
<circle cx="70.52" cy="479.7" r="2.92" fill="#ff0000"/>
<circle cx="71.63" cy="479.13" r="2.92" fill="#ff0000"/>
<circle cx="72.85" cy="478.59" r="2.92" fill="#ff0000"/>
<circle cx="74.17" cy="478.1" r="2.92" fill="#ff0000"/>
<circle cx="75.57" cy="477.7" r="2.92" fill="#ff0000"/>
<circle cx="77.02" cy="477.39" r="2.92" fill="#ff0000"/>
<circle cx="78.56" cy="477.12" r="2.92" fill="#ff0000"/>
<circle cx="80.19" cy="476.87" r="2.92" fill="#ff0000"/>
<circle cx="81.89" cy="476.67" r="2.92" fill="#ff0000"/>
<circle cx="83.66" cy="476.52" r="2.92" fill="#ff0000"/>
<circle cx="85.48" cy="476.42" r="2.92" fill="#ff0000"/>
<circle cx="87.37" cy="476.32" r="2.92" fill="#ff0000"/>
<circle cx="89.33" cy="476.24" r="2.92" fill="#ff0000"/>
<circle cx="91.35" cy="476.2" r="2.92" fill="#ff0000"/>
<circle cx="93.44" cy="476.24" r="2.92" fill="#ff0000"/>
<circle cx="95.58" cy="476.42" r="2.92" fill="#ff0000"/>
<circle cx="97.78" cy="476.67" r="2.92" fill="#ff0000"/>
<circle cx="100.04" cy="477.02" r="2.92" fill="#ff0000"/>
<circle cx="102.33" cy="477.53" r="2.92" fill="#ff0000"/>
<circle cx="104.62" cy="478.22" r="2.92" fill="#ff0000"/>
<circle cx="106.9" cy="479.2" r="2.92" fill="#ff0000"/>
</g>
<rect x="63.9" y="473.5" width="19.9" height="15.2" fill="none" stroke="#000" stroke-width="1.4"/>
<rect x="63.4" y="281.9" width="281.9" height="206.9" fill="none" stroke="#3a3a3a" stroke-width="1.1"/>
<line x1="59" y1="488.8" x2="63.4" y2="488.8" stroke="#3a3a3a" stroke-width="1.1" />
<text x="56.4" y="492.4" font-size="11" text-anchor="end" font-family='"Liberation Serif", serif' fill="#000" >0</text>
<line x1="61" y1="470.03" x2="63.4" y2="470.03" stroke="#3a3a3a" stroke-width="1.1" />
<line x1="59" y1="451.25" x2="63.4" y2="451.25" stroke="#3a3a3a" stroke-width="1.1" />
<text x="56.4" y="454.85" font-size="11" text-anchor="end" font-family='"Liberation Serif", serif' fill="#000" >1x10<tspan dy="-0.750em" font-size="60%">4</tspan><tspan dy="0.450em" font-size="100%">&#8203;</tspan></text>
<line x1="61" y1="432.48" x2="63.4" y2="432.48" stroke="#3a3a3a" stroke-width="1.1" />
<line x1="59" y1="413.7" x2="63.4" y2="413.7" stroke="#3a3a3a" stroke-width="1.1" />
<text x="56.4" y="417.3" font-size="11" text-anchor="end" font-family='"Liberation Serif", serif' fill="#000" >2x10<tspan dy="-0.750em" font-size="60%">4</tspan><tspan dy="0.450em" font-size="100%">&#8203;</tspan></text>
<line x1="61" y1="394.93" x2="63.4" y2="394.93" stroke="#3a3a3a" stroke-width="1.1" />
<line x1="59" y1="376.15" x2="63.4" y2="376.15" stroke="#3a3a3a" stroke-width="1.1" />
<text x="56.4" y="379.75" font-size="11" text-anchor="end" font-family='"Liberation Serif", serif' fill="#000" >3x10<tspan dy="-0.750em" font-size="60%">4</tspan><tspan dy="0.450em" font-size="100%">&#8203;</tspan></text>
<line x1="61" y1="357.38" x2="63.4" y2="357.38" stroke="#3a3a3a" stroke-width="1.1" />
<line x1="59" y1="338.6" x2="63.4" y2="338.6" stroke="#3a3a3a" stroke-width="1.1" />
<text x="56.4" y="342.2" font-size="11" text-anchor="end" font-family='"Liberation Serif", serif' fill="#000" >4x10<tspan dy="-0.750em" font-size="60%">4</tspan><tspan dy="0.450em" font-size="100%">&#8203;</tspan></text>
<line x1="61" y1="319.83" x2="63.4" y2="319.83" stroke="#3a3a3a" stroke-width="1.1" />
<line x1="59" y1="301.05" x2="63.4" y2="301.05" stroke="#3a3a3a" stroke-width="1.1" />
<text x="56.4" y="304.65" font-size="11" text-anchor="end" font-family='"Liberation Serif", serif' fill="#000" >5x10<tspan dy="-0.750em" font-size="60%">4</tspan><tspan dy="0.450em" font-size="100%">&#8203;</tspan></text>
<line x1="61" y1="282.28" x2="63.4" y2="282.28" stroke="#3a3a3a" stroke-width="1.1" />
<line x1="63.4" y1="488.8" x2="63.4" y2="493.2" stroke="#3a3a3a" stroke-width="1.1" />
<text x="63.4" y="505.6" font-size="11" text-anchor="middle" font-family='"Liberation Serif", serif' fill="#000" >0</text>
<line x1="85.05" y1="488.8" x2="85.05" y2="491.2" stroke="#3a3a3a" stroke-width="1.1" />
<line x1="106.7" y1="488.8" x2="106.7" y2="493.2" stroke="#3a3a3a" stroke-width="1.1" />
<text x="107.7" y="505.6" font-size="11" text-anchor="middle" font-family='"Liberation Serif", serif' fill="#000" >1x10<tspan dy="-0.750em" font-size="60%">4</tspan><tspan dy="0.450em" font-size="100%">&#8203;</tspan></text>
<line x1="128.35" y1="488.8" x2="128.35" y2="491.2" stroke="#3a3a3a" stroke-width="1.1" />
<line x1="150" y1="488.8" x2="150" y2="493.2" stroke="#3a3a3a" stroke-width="1.1" />
<text x="151" y="505.6" font-size="11" text-anchor="middle" font-family='"Liberation Serif", serif' fill="#000" >2x10<tspan dy="-0.750em" font-size="60%">4</tspan><tspan dy="0.450em" font-size="100%">&#8203;</tspan></text>
<line x1="171.65" y1="488.8" x2="171.65" y2="491.2" stroke="#3a3a3a" stroke-width="1.1" />
<line x1="193.3" y1="488.8" x2="193.3" y2="493.2" stroke="#3a3a3a" stroke-width="1.1" />
<text x="194.3" y="505.6" font-size="11" text-anchor="middle" font-family='"Liberation Serif", serif' fill="#000" >3x10<tspan dy="-0.750em" font-size="60%">4</tspan><tspan dy="0.450em" font-size="100%">&#8203;</tspan></text>
<line x1="214.95" y1="488.8" x2="214.95" y2="491.2" stroke="#3a3a3a" stroke-width="1.1" />
<line x1="236.6" y1="488.8" x2="236.6" y2="493.2" stroke="#3a3a3a" stroke-width="1.1" />
<text x="237.6" y="505.6" font-size="11" text-anchor="middle" font-family='"Liberation Serif", serif' fill="#000" >4x10<tspan dy="-0.750em" font-size="60%">4</tspan><tspan dy="0.450em" font-size="100%">&#8203;</tspan></text>
<line x1="258.25" y1="488.8" x2="258.25" y2="491.2" stroke="#3a3a3a" stroke-width="1.1" />
<line x1="279.9" y1="488.8" x2="279.9" y2="493.2" stroke="#3a3a3a" stroke-width="1.1" />
<text x="280.9" y="505.6" font-size="11" text-anchor="middle" font-family='"Liberation Serif", serif' fill="#000" >5x10<tspan dy="-0.750em" font-size="60%">4</tspan><tspan dy="0.450em" font-size="100%">&#8203;</tspan></text>
<line x1="301.55" y1="488.8" x2="301.55" y2="491.2" stroke="#3a3a3a" stroke-width="1.1" />
<line x1="323.2" y1="488.8" x2="323.2" y2="493.2" stroke="#3a3a3a" stroke-width="1.1" />
<text x="324.2" y="505.6" font-size="11" text-anchor="middle" font-family='"Liberation Serif", serif' fill="#000" >6x10<tspan dy="-0.750em" font-size="60%">4</tspan><tspan dy="0.450em" font-size="100%">&#8203;</tspan></text>
<line x1="344.85" y1="488.8" x2="344.85" y2="491.2" stroke="#3a3a3a" stroke-width="1.1" />
<text x="209.6" y="523" font-size="14.1" text-anchor="middle" font-family='"Liberation Serif", serif' fill="#000" >Z' (&#937;&#183;cm<tspan dy="-0.677em" font-size="62%">2</tspan><tspan dy="0.420em" font-size="100%">&#8203;</tspan>)</text>
<text transform="translate(23.4,389.5) rotate(-90)" font-size="14.1" text-anchor="middle" font-family='"Liberation Serif", serif'>-Z'' (&#937;&#183;cm<tspan dy="-0.677em" font-size="62%">2</tspan><tspan dy="0.420em" font-size="100%">&#8203;</tspan>)</text>
<line x1="66.2" y1="291.4" x2="92.2" y2="291.4" stroke="#000" stroke-width="1.3" />
<rect x="77.2" y="289.4" width="4" height="4" fill="#000"/>
<text x="94.7" y="295.3" font-size="11.2" text-anchor="start" font-family='"Liberation Serif", serif' fill="#000" >CED (8A/dm<tspan dy="-0.677em" font-size="62%">2</tspan><tspan dy="0.420em" font-size="100%">&#8203;</tspan>)</text>
<line x1="66.2" y1="306.7" x2="92.2" y2="306.7" stroke="#ff0000" stroke-width="1.3" />
<circle cx="79.2" cy="306.7" r="2.59" fill="#ff0000"/>
<text x="94.7" y="310.6" font-size="11.2" text-anchor="start" font-family='"Liberation Serif", serif' fill="#000" >JED (180A/dm<tspan dy="-0.677em" font-size="62%">2</tspan><tspan dy="0.420em" font-size="100%">&#8203;</tspan>)</text>
<line x1="66.2" y1="322" x2="92.2" y2="322" stroke="#00ff00" stroke-width="1.3" />
<path d="M79.2,319 L82.2,324.4 L76.2,324.4 Z" fill="#00ff00"/>
<text x="94.7" y="325.9" font-size="11.2" text-anchor="start" font-family='"Liberation Serif", serif' fill="#000" >JED (190A/dm<tspan dy="-0.677em" font-size="62%">2</tspan><tspan dy="0.420em" font-size="100%">&#8203;</tspan>)</text>
<line x1="66.2" y1="337.3" x2="92.2" y2="337.3" stroke="#0000ff" stroke-width="1.3" />
<path d="M79.2,340.3 L82.2,334.9 L76.2,334.9 Z" fill="#0000ff"/>
<text x="94.7" y="341.2" font-size="11.2" text-anchor="start" font-family='"Liberation Serif", serif' fill="#000" >JED (200A/dm<tspan dy="-0.677em" font-size="62%">2</tspan><tspan dy="0.420em" font-size="100%">&#8203;</tspan>)</text>
<line x1="66.2" y1="352.6" x2="92.2" y2="352.6" stroke="#00ffff" stroke-width="1.3" />
<path d="M79.2,349.36 L82.44,352.6 L79.2,355.84 L75.96,352.6 Z" fill="#00ffff"/>
<text x="94.7" y="356.5" font-size="11.2" text-anchor="start" font-family='"Liberation Serif", serif' fill="#000" >JED (210A/dm<tspan dy="-0.677em" font-size="62%">2</tspan><tspan dy="0.420em" font-size="100%">&#8203;</tspan>)</text>
<line x1="66.2" y1="367.9" x2="92.2" y2="367.9" stroke="#ff00ff" stroke-width="1.3" />
<path d="M76.2,367.9 L81.6,364.9 L81.6,370.9 Z" fill="#ff00ff"/>
<text x="94.7" y="371.8" font-size="11.2" text-anchor="start" font-family='"Liberation Serif", serif' fill="#000" >JED (220A/dm<tspan dy="-0.677em" font-size="62%">2</tspan><tspan dy="0.420em" font-size="100%">&#8203;</tspan>)</text>
<rect x="199.2" y="285.4" width="142.6" height="99.2" fill="#fff" stroke="#000" stroke-width="1.8"/>
<clipPath id="clipI"><rect x="223.2" y="287.0" width="117.4" height="87.6"/></clipPath>
<g clip-path="url(#clipI)">
<polyline points="223.4,372.4 223.49,371.8 223.64,370.69 223.86,369.27 224.12,367.58 224.43,365.67 224.78,363.56 225.18,361.27 225.62,358.81 226.12,356.19 226.68,353.43 227.29,350.54 227.95,347.51 228.68,344.37 229.45,341.1 230.22,337.71 231,334.2 231.8,330.58 232.64,326.85 233.44,323.01 234.14,319.04 234.8,314.96 235.48,310.78 236.18,306.5 236.89,302.13 237.65,297.68 238.45,293.14 239.27,288.51 240.12,283.8 241,279" fill="none" stroke="#ff00ff" stroke-width="0.9" stroke-linejoin="round" />
<path d="M221.84,372.4 L224.65,370.84 L224.65,373.96 Z" fill="#ff00ff"/>
<path d="M221.92,371.8 L224.74,370.23 L224.74,373.36 Z" fill="#ff00ff"/>
<path d="M222.08,370.69 L224.89,369.13 L224.89,372.26 Z" fill="#ff00ff"/>
<path d="M222.29,369.27 L225.11,367.71 L225.11,370.83 Z" fill="#ff00ff"/>
<path d="M222.56,367.58 L225.37,366.02 L225.37,369.14 Z" fill="#ff00ff"/>
<path d="M222.86,365.67 L225.68,364.11 L225.68,367.23 Z" fill="#ff00ff"/>
<path d="M223.22,363.56 L226.03,362 L226.03,365.12 Z" fill="#ff00ff"/>
<path d="M223.61,361.27 L226.43,359.7 L226.43,362.83 Z" fill="#ff00ff"/>
<path d="M224.06,358.81 L226.87,357.24 L226.87,360.37 Z" fill="#ff00ff"/>
<path d="M224.56,356.19 L227.37,354.63 L227.37,357.75 Z" fill="#ff00ff"/>
<path d="M225.11,353.43 L227.93,351.87 L227.93,354.99 Z" fill="#ff00ff"/>
<path d="M225.72,350.54 L228.54,348.97 L228.54,352.1 Z" fill="#ff00ff"/>
<path d="M226.39,347.51 L229.2,345.95 L229.2,349.08 Z" fill="#ff00ff"/>
<path d="M227.12,344.37 L229.93,342.81 L229.93,345.93 Z" fill="#ff00ff"/>
<path d="M227.89,341.1 L230.7,339.54 L230.7,342.66 Z" fill="#ff00ff"/>
<path d="M228.65,337.71 L231.47,336.15 L231.47,339.27 Z" fill="#ff00ff"/>
<path d="M229.44,334.2 L232.25,332.64 L232.25,335.76 Z" fill="#ff00ff"/>
<path d="M230.24,330.58 L233.05,329.02 L233.05,332.14 Z" fill="#ff00ff"/>
<path d="M231.08,326.85 L233.89,325.29 L233.89,328.42 Z" fill="#ff00ff"/>
<path d="M231.87,323.01 L234.69,321.45 L234.69,324.57 Z" fill="#ff00ff"/>
<path d="M232.57,319.04 L235.39,317.48 L235.39,320.6 Z" fill="#ff00ff"/>
<path d="M233.24,314.96 L236.05,313.39 L236.05,316.52 Z" fill="#ff00ff"/>
<path d="M233.92,310.78 L236.73,309.21 L236.73,312.34 Z" fill="#ff00ff"/>
<path d="M234.61,306.5 L237.43,304.94 L237.43,308.06 Z" fill="#ff00ff"/>
<path d="M235.33,302.13 L238.14,300.57 L238.14,303.7 Z" fill="#ff00ff"/>
<path d="M236.09,297.68 L238.9,296.12 L238.9,299.24 Z" fill="#ff00ff"/>
<path d="M236.89,293.14 L239.7,291.57 L239.7,294.7 Z" fill="#ff00ff"/>
<path d="M237.71,288.51 L240.52,286.95 L240.52,290.07 Z" fill="#ff00ff"/>
<path d="M238.56,283.8 L241.37,282.23 L241.37,285.36 Z" fill="#ff00ff"/>
<path d="M239.44,279 L242.25,277.44 L242.25,280.56 Z" fill="#ff00ff"/>
<polyline points="223.4,372.4 223.52,371.79 223.75,370.69 224.04,369.25 224.4,367.56 224.82,365.63 225.3,363.51 225.83,361.21 226.42,358.74 227.07,356.12 227.78,353.35 228.57,350.45 229.42,347.43 230.39,344.3 231.48,341.07 232.6,337.72 233.69,334.23 234.71,330.61 235.75,326.87 236.87,323.05 238.01,319.11 239.03,315.04 239.99,310.85 240.94,306.56 241.92,302.17 242.98,297.7 244.08,293.15 245.22,288.52 246.39,283.8 247.6,279" fill="none" stroke="#00ffff" stroke-width="0.9" stroke-linejoin="round" />
<path d="M223.4,370.71 L225.09,372.4 L223.4,374.09 L221.71,372.4 Z" fill="#00ffff"/>
<path d="M223.52,370.11 L225.21,371.79 L223.52,373.48 L221.83,371.79 Z" fill="#00ffff"/>
<path d="M223.75,369 L225.43,370.69 L223.75,372.37 L222.06,370.69 Z" fill="#00ffff"/>
<path d="M224.04,367.56 L225.73,369.25 L224.04,370.94 L222.35,369.25 Z" fill="#00ffff"/>
<path d="M224.4,365.87 L226.09,367.56 L224.4,369.24 L222.71,367.56 Z" fill="#00ffff"/>
<path d="M224.82,363.95 L226.51,365.63 L224.82,367.32 L223.13,365.63 Z" fill="#00ffff"/>
<path d="M225.3,361.83 L226.98,363.51 L225.3,365.2 L223.61,363.51 Z" fill="#00ffff"/>
<path d="M225.83,359.53 L227.52,361.21 L225.83,362.9 L224.14,361.21 Z" fill="#00ffff"/>
<path d="M226.42,357.06 L228.11,358.74 L226.42,360.43 L224.73,358.74 Z" fill="#00ffff"/>
<path d="M227.07,354.43 L228.76,356.12 L227.07,357.81 L225.38,356.12 Z" fill="#00ffff"/>
<path d="M227.78,351.66 L229.47,353.35 L227.78,355.04 L226.1,353.35 Z" fill="#00ffff"/>
<path d="M228.57,348.76 L230.25,350.45 L228.57,352.14 L226.88,350.45 Z" fill="#00ffff"/>
<path d="M229.42,345.74 L231.11,347.43 L229.42,349.11 L227.73,347.43 Z" fill="#00ffff"/>
<path d="M230.39,342.61 L232.08,344.3 L230.39,345.99 L228.71,344.3 Z" fill="#00ffff"/>
<path d="M231.48,339.38 L233.17,341.07 L231.48,342.76 L229.79,341.07 Z" fill="#00ffff"/>
<path d="M232.6,336.03 L234.29,337.72 L232.6,339.41 L230.92,337.72 Z" fill="#00ffff"/>
<path d="M233.69,332.55 L235.37,334.23 L233.69,335.92 L232,334.23 Z" fill="#00ffff"/>
<path d="M234.71,328.92 L236.4,330.61 L234.71,332.3 L233.03,330.61 Z" fill="#00ffff"/>
<path d="M235.75,325.19 L237.44,326.87 L235.75,328.56 L234.06,326.87 Z" fill="#00ffff"/>
<path d="M236.87,321.36 L238.56,323.05 L236.87,324.73 L235.18,323.05 Z" fill="#00ffff"/>
<path d="M238.01,317.43 L239.7,319.11 L238.01,320.8 L236.32,319.11 Z" fill="#00ffff"/>
<path d="M239.03,313.35 L240.71,315.04 L239.03,316.73 L237.34,315.04 Z" fill="#00ffff"/>
<path d="M239.99,309.16 L241.68,310.85 L239.99,312.54 L238.3,310.85 Z" fill="#00ffff"/>
<path d="M240.94,304.87 L242.63,306.56 L240.94,308.24 L239.25,306.56 Z" fill="#00ffff"/>
<path d="M241.92,300.48 L243.61,302.17 L241.92,303.86 L240.23,302.17 Z" fill="#00ffff"/>
<path d="M242.98,296.02 L244.67,297.7 L242.98,299.39 L241.29,297.7 Z" fill="#00ffff"/>
<path d="M244.08,291.47 L245.77,293.15 L244.08,294.84 L242.4,293.15 Z" fill="#00ffff"/>
<path d="M245.22,286.83 L246.91,288.52 L245.22,290.21 L243.54,288.52 Z" fill="#00ffff"/>
<path d="M246.39,282.11 L248.08,283.8 L246.39,285.49 L244.7,283.8 Z" fill="#00ffff"/>
<path d="M247.6,277.31 L249.29,279 L247.6,280.69 L245.91,279 Z" fill="#00ffff"/>
<polyline points="223.4,372.4 223.59,371.76 223.93,370.59 224.38,369.08 224.92,367.29 225.54,365.27 226.23,363.03 226.99,360.6 227.81,357.98 228.68,355.19 229.65,352.27 230.73,349.22 231.97,346.08 233.38,342.85 234.93,339.51 236.6,336.08 238.32,332.55 240.12,328.9 242.02,325.18 244.06,321.4 246.27,317.58 248.62,313.71 251.01,309.74 253.43,305.66 255.92,301.51 258.52,297.31 261.25,293.06 264.07,288.75 266.98,284.4 270,280" fill="none" stroke="#00ff00" stroke-width="0.9" stroke-linejoin="round" />
<path d="M223.4,370.84 L224.96,373.65 L221.84,373.65 Z" fill="#00ff00"/>
<path d="M223.59,370.2 L225.15,373.01 L222.02,373.01 Z" fill="#00ff00"/>
<path d="M223.93,369.03 L225.49,371.84 L222.37,371.84 Z" fill="#00ff00"/>
<path d="M224.38,367.52 L225.94,370.33 L222.82,370.33 Z" fill="#00ff00"/>
<path d="M224.92,365.73 L226.48,368.54 L223.36,368.54 Z" fill="#00ff00"/>
<path d="M225.54,363.7 L227.1,366.52 L223.98,366.52 Z" fill="#00ff00"/>
<path d="M226.23,361.47 L227.8,364.28 L224.67,364.28 Z" fill="#00ff00"/>
<path d="M226.99,359.03 L228.56,361.85 L225.43,361.85 Z" fill="#00ff00"/>
<path d="M227.81,356.41 L229.37,359.23 L226.24,359.23 Z" fill="#00ff00"/>
<path d="M228.68,353.63 L230.24,356.44 L227.12,356.44 Z" fill="#00ff00"/>
<path d="M229.65,350.7 L231.21,353.52 L228.08,353.52 Z" fill="#00ff00"/>
<path d="M230.73,347.66 L232.29,350.47 L229.16,350.47 Z" fill="#00ff00"/>
<path d="M231.97,344.52 L233.53,347.33 L230.4,347.33 Z" fill="#00ff00"/>
<path d="M233.38,341.28 L234.94,344.1 L231.81,344.1 Z" fill="#00ff00"/>
<path d="M234.93,337.95 L236.49,340.76 L233.37,340.76 Z" fill="#00ff00"/>
<path d="M236.6,334.52 L238.16,337.33 L235.03,337.33 Z" fill="#00ff00"/>
<path d="M238.32,330.98 L239.89,333.8 L236.76,333.8 Z" fill="#00ff00"/>
<path d="M240.12,327.34 L241.68,330.15 L238.56,330.15 Z" fill="#00ff00"/>
<path d="M242.02,323.62 L243.59,326.43 L240.46,326.43 Z" fill="#00ff00"/>
<path d="M244.06,319.83 L245.62,322.65 L242.5,322.65 Z" fill="#00ff00"/>
<path d="M246.27,316.02 L247.83,318.83 L244.71,318.83 Z" fill="#00ff00"/>
<path d="M248.62,312.15 L250.18,314.96 L247.06,314.96 Z" fill="#00ff00"/>
<path d="M251.01,308.18 L252.57,310.99 L249.45,310.99 Z" fill="#00ff00"/>
<path d="M253.43,304.1 L254.99,306.91 L251.87,306.91 Z" fill="#00ff00"/>
<path d="M255.92,299.95 L257.48,302.76 L254.36,302.76 Z" fill="#00ff00"/>
<path d="M258.52,295.74 L260.09,298.56 L256.96,298.56 Z" fill="#00ff00"/>
<path d="M261.25,291.49 L262.81,294.31 L259.68,294.31 Z" fill="#00ff00"/>
<path d="M264.07,287.19 L265.63,290 L262.51,290 Z" fill="#00ff00"/>
<path d="M266.98,282.84 L268.54,285.65 L265.42,285.65 Z" fill="#00ff00"/>
<path d="M270,278.44 L271.56,281.25 L268.44,281.25 Z" fill="#00ff00"/>
<polyline points="223.4,372.4 223.57,371.77 223.88,370.62 224.28,369.13 224.76,367.36 225.31,365.36 225.93,363.16 226.61,360.76 227.34,358.18 228.12,355.43 228.97,352.54 229.9,349.51 230.96,346.38 232.13,343.12 233.42,339.76 234.83,336.31 236.33,332.77 237.97,329.15 239.74,325.46 241.65,321.71 243.79,317.96 246.07,314.16 248.27,310.2 250.31,306.03 252.35,301.74 254.57,297.45 257.05,293.18 259.66,288.87 262.3,284.47 265,280" fill="none" stroke="#0000ff" stroke-width="0.9" stroke-linejoin="round" />
<path d="M223.4,373.96 L224.96,371.15 L221.84,371.15 Z" fill="#0000ff"/>
<path d="M223.57,373.33 L225.13,370.52 L222.01,370.52 Z" fill="#0000ff"/>
<path d="M223.88,372.18 L225.44,369.37 L222.31,369.37 Z" fill="#0000ff"/>
<path d="M224.28,370.69 L225.84,367.88 L222.72,367.88 Z" fill="#0000ff"/>
<path d="M224.76,368.93 L226.32,366.11 L223.2,366.11 Z" fill="#0000ff"/>
<path d="M225.31,366.93 L226.87,364.11 L223.75,364.11 Z" fill="#0000ff"/>
<path d="M225.93,364.72 L227.49,361.91 L224.37,361.91 Z" fill="#0000ff"/>
<path d="M226.61,362.32 L228.17,359.51 L225.05,359.51 Z" fill="#0000ff"/>
<path d="M227.34,359.74 L228.9,356.93 L225.78,356.93 Z" fill="#0000ff"/>
<path d="M228.12,357 L229.68,354.18 L226.56,354.18 Z" fill="#0000ff"/>
<path d="M228.97,354.1 L230.53,351.29 L227.4,351.29 Z" fill="#0000ff"/>
<path d="M229.9,351.08 L231.47,348.26 L228.34,348.26 Z" fill="#0000ff"/>
<path d="M230.96,347.94 L232.52,345.13 L229.39,345.13 Z" fill="#0000ff"/>
<path d="M232.13,344.68 L233.69,341.87 L230.57,341.87 Z" fill="#0000ff"/>
<path d="M233.42,341.33 L234.99,338.51 L231.86,338.51 Z" fill="#0000ff"/>
<path d="M234.83,337.87 L236.39,335.06 L233.26,335.06 Z" fill="#0000ff"/>
<path d="M236.33,334.33 L237.89,331.52 L234.77,331.52 Z" fill="#0000ff"/>
<path d="M237.97,330.71 L239.53,327.9 L236.4,327.9 Z" fill="#0000ff"/>
<path d="M239.74,327.02 L241.3,324.21 L238.18,324.21 Z" fill="#0000ff"/>
<path d="M241.65,323.27 L243.21,320.46 L240.09,320.46 Z" fill="#0000ff"/>
<path d="M243.79,319.52 L245.35,316.71 L242.23,316.71 Z" fill="#0000ff"/>
<path d="M246.07,315.72 L247.63,312.91 L244.51,312.91 Z" fill="#0000ff"/>
<path d="M248.27,311.76 L249.84,308.95 L246.71,308.95 Z" fill="#0000ff"/>
<path d="M250.31,307.59 L251.88,304.78 L248.75,304.78 Z" fill="#0000ff"/>
<path d="M252.35,303.3 L253.91,300.49 L250.79,300.49 Z" fill="#0000ff"/>
<path d="M254.57,299.01 L256.14,296.2 L253.01,296.2 Z" fill="#0000ff"/>
<path d="M257.05,294.74 L258.62,291.93 L255.49,291.93 Z" fill="#0000ff"/>
<path d="M259.66,290.43 L261.22,287.62 L258.1,287.62 Z" fill="#0000ff"/>
<path d="M262.3,286.03 L263.86,283.22 L260.73,283.22 Z" fill="#0000ff"/>
<path d="M265,281.56 L266.56,278.75 L263.44,278.75 Z" fill="#0000ff"/>
<polyline points="223.4,372.4 223.74,371.31 224.39,369.43 225.28,367.11 226.42,364.46 227.85,361.55 229.61,358.45 231.68,355.23 234.15,351.99 236.98,348.7 239.98,345.28 243.22,341.8 246.74,338.33 250.56,334.89 254.66,331.49 259,328.11 263.52,324.69 268.22,321.24 273.11,317.81 278.2,314.38 283.49,310.98 288.99,307.67 294.71,304.46 300.6,301.26 306.64,298.06 312.9,295.04 319.42,292.24 326.12,289.59 332.99,287.03 340,284.5" fill="none" stroke="#ff0000" stroke-width="0.9" stroke-linejoin="round" />
<circle cx="223.4" cy="372.4" r="1.35" fill="#ff0000"/>
<circle cx="223.74" cy="371.31" r="1.35" fill="#ff0000"/>
<circle cx="224.39" cy="369.43" r="1.35" fill="#ff0000"/>
<circle cx="225.28" cy="367.11" r="1.35" fill="#ff0000"/>
<circle cx="226.42" cy="364.46" r="1.35" fill="#ff0000"/>
<circle cx="227.85" cy="361.55" r="1.35" fill="#ff0000"/>
<circle cx="229.61" cy="358.45" r="1.35" fill="#ff0000"/>
<circle cx="231.68" cy="355.23" r="1.35" fill="#ff0000"/>
<circle cx="234.15" cy="351.99" r="1.35" fill="#ff0000"/>
<circle cx="236.98" cy="348.7" r="1.35" fill="#ff0000"/>
<circle cx="239.98" cy="345.28" r="1.35" fill="#ff0000"/>
<circle cx="243.22" cy="341.8" r="1.35" fill="#ff0000"/>
<circle cx="246.74" cy="338.33" r="1.35" fill="#ff0000"/>
<circle cx="250.56" cy="334.89" r="1.35" fill="#ff0000"/>
<circle cx="254.66" cy="331.49" r="1.35" fill="#ff0000"/>
<circle cx="259" cy="328.11" r="1.35" fill="#ff0000"/>
<circle cx="263.52" cy="324.69" r="1.35" fill="#ff0000"/>
<circle cx="268.22" cy="321.24" r="1.35" fill="#ff0000"/>
<circle cx="273.11" cy="317.81" r="1.35" fill="#ff0000"/>
<circle cx="278.2" cy="314.38" r="1.35" fill="#ff0000"/>
<circle cx="283.49" cy="310.98" r="1.35" fill="#ff0000"/>
<circle cx="288.99" cy="307.67" r="1.35" fill="#ff0000"/>
<circle cx="294.71" cy="304.46" r="1.35" fill="#ff0000"/>
<circle cx="300.6" cy="301.26" r="1.35" fill="#ff0000"/>
<circle cx="306.64" cy="298.06" r="1.35" fill="#ff0000"/>
<circle cx="312.9" cy="295.04" r="1.35" fill="#ff0000"/>
<circle cx="319.42" cy="292.24" r="1.35" fill="#ff0000"/>
<circle cx="326.12" cy="289.59" r="1.35" fill="#ff0000"/>
<circle cx="332.99" cy="287.03" r="1.35" fill="#ff0000"/>
<circle cx="340" cy="284.5" r="1.35" fill="#ff0000"/>
<polyline points="223.4,372.4 223.75,371.5 224.38,369.96 225.21,368.03 226.25,365.81 227.47,363.37 228.91,360.72 230.57,357.93 232.48,355.08 234.7,352.14 237.24,349.26 240.15,346.57 243.49,344.01 247.14,341.6 251.03,339.38 255.22,337.33 259.64,335.54 264.31,333.98 269.17,332.59 274.22,331.41 279.46,330.62 284.88,330.48 290.37,331.19 295.73,333.02 300.6,336.15 303.95,340.91 306.1,346.5" fill="none" stroke="#000000" stroke-width="0.9" stroke-linejoin="round" />
<rect x="222.15" y="371.15" width="2.5" height="2.5" fill="#000000"/>
<rect x="222.5" y="370.25" width="2.5" height="2.5" fill="#000000"/>
<rect x="223.13" y="368.71" width="2.5" height="2.5" fill="#000000"/>
<rect x="223.96" y="366.78" width="2.5" height="2.5" fill="#000000"/>
<rect x="225" y="364.56" width="2.5" height="2.5" fill="#000000"/>
<rect x="226.22" y="362.12" width="2.5" height="2.5" fill="#000000"/>
<rect x="227.66" y="359.47" width="2.5" height="2.5" fill="#000000"/>
<rect x="229.32" y="356.68" width="2.5" height="2.5" fill="#000000"/>
<rect x="231.23" y="353.83" width="2.5" height="2.5" fill="#000000"/>
<rect x="233.45" y="350.89" width="2.5" height="2.5" fill="#000000"/>
<rect x="235.99" y="348.01" width="2.5" height="2.5" fill="#000000"/>
<rect x="238.9" y="345.32" width="2.5" height="2.5" fill="#000000"/>
<rect x="242.24" y="342.76" width="2.5" height="2.5" fill="#000000"/>
<rect x="245.89" y="340.35" width="2.5" height="2.5" fill="#000000"/>
<rect x="249.78" y="338.13" width="2.5" height="2.5" fill="#000000"/>
<rect x="253.97" y="336.08" width="2.5" height="2.5" fill="#000000"/>
<rect x="258.39" y="334.29" width="2.5" height="2.5" fill="#000000"/>
<rect x="263.06" y="332.73" width="2.5" height="2.5" fill="#000000"/>
<rect x="267.92" y="331.34" width="2.5" height="2.5" fill="#000000"/>
<rect x="272.97" y="330.16" width="2.5" height="2.5" fill="#000000"/>
<rect x="278.21" y="329.37" width="2.5" height="2.5" fill="#000000"/>
<rect x="283.63" y="329.23" width="2.5" height="2.5" fill="#000000"/>
<rect x="289.12" y="329.94" width="2.5" height="2.5" fill="#000000"/>
<rect x="294.48" y="331.77" width="2.5" height="2.5" fill="#000000"/>
<rect x="299.35" y="334.9" width="2.5" height="2.5" fill="#000000"/>
<rect x="302.7" y="339.66" width="2.5" height="2.5" fill="#000000"/>
<rect x="304.85" y="345.25" width="2.5" height="2.5" fill="#000000"/>
</g>
<rect x="223.2" y="287.0" width="117.4" height="85.6" fill="none" stroke="#555" stroke-width="0.9"/>
<line x1="220.4" y1="372.6" x2="223.2" y2="372.6" stroke="#444" stroke-width="0.9" />
<text x="219.8" y="375.9" font-size="9.8" text-anchor="end" font-family='"Liberation Serif", serif' fill="#000" >0</text>
<line x1="221.6" y1="355.45" x2="223.2" y2="355.45" stroke="#444" stroke-width="0.9" />
<line x1="220.4" y1="338.3" x2="223.2" y2="338.3" stroke="#444" stroke-width="0.9" />
<text x="219.8" y="341.6" font-size="9.8" text-anchor="end" font-family='"Liberation Serif", serif' fill="#000" >1000</text>
<line x1="221.6" y1="321.15" x2="223.2" y2="321.15" stroke="#444" stroke-width="0.9" />
<line x1="220.4" y1="304" x2="223.2" y2="304" stroke="#444" stroke-width="0.9" />
<text x="219.8" y="307.3" font-size="9.8" text-anchor="end" font-family='"Liberation Serif", serif' fill="#000" >2000</text>
<line x1="221.6" y1="286.85" x2="223.2" y2="286.85" stroke="#444" stroke-width="0.9" />
<line x1="223.2" y1="372.6" x2="223.2" y2="375.4" stroke="#444" stroke-width="0.9" />
<text x="223.5" y="383.6" font-size="9.8" text-anchor="middle" font-family='"Liberation Serif", serif' fill="#000" >0</text>
<line x1="239.85" y1="372.6" x2="239.85" y2="374.2" stroke="#444" stroke-width="0.9" />
<line x1="256.5" y1="372.6" x2="256.5" y2="375.4" stroke="#444" stroke-width="0.9" />
<text x="256.8" y="383.6" font-size="9.8" text-anchor="middle" font-family='"Liberation Serif", serif' fill="#000" >1000</text>
<line x1="273.15" y1="372.6" x2="273.15" y2="374.2" stroke="#444" stroke-width="0.9" />
<line x1="289.8" y1="372.6" x2="289.8" y2="375.4" stroke="#444" stroke-width="0.9" />
<text x="290.1" y="383.6" font-size="9.8" text-anchor="middle" font-family='"Liberation Serif", serif' fill="#000" >2000</text>
<line x1="306.45" y1="372.6" x2="306.45" y2="374.2" stroke="#444" stroke-width="0.9" />
<line x1="323.1" y1="372.6" x2="323.1" y2="375.4" stroke="#444" stroke-width="0.9" />
<text x="323.4" y="383.6" font-size="9.8" text-anchor="middle" font-family='"Liberation Serif", serif' fill="#000" >3000</text>
<line x1="339.75" y1="372.6" x2="339.75" y2="374.2" stroke="#444" stroke-width="0.9" />
<polyline points="389,398.77 390.44,398.87 391.88,398.99 393.32,399.15 394.76,399.32 396.2,399.53 397.64,399.75 399.08,400 400.52,400.27 401.96,400.55 403.4,400.84 404.84,401.15 406.28,401.47 407.72,401.8 409.16,402.13 410.6,402.48 412.04,402.88 413.48,403.32 414.92,403.8 416.36,404.31 417.8,404.85 419.24,405.43 420.68,406.02 422.12,406.64 423.56,407.28 425.01,407.93 426.45,408.59 427.89,409.25 429.33,409.93 430.77,410.6 432.21,411.32 433.65,412.08 435.09,412.86 436.53,413.68 437.97,414.52 439.41,415.38 440.85,416.25 442.29,417.13 443.73,418.01 445.17,418.9 446.61,419.78 448.05,420.64 449.49,421.5 450.93,422.34 452.37,423.17 453.81,424.02 455.25,424.87 456.69,425.72 458.13,426.57 459.57,427.42 461.01,428.26 462.45,429.11 463.89,429.94 465.33,430.77 466.77,431.59 468.21,432.4 469.65,433.19 471.09,433.97 472.53,434.74 473.97,435.5 475.41,436.26 476.85,437.01 478.29,437.74 479.73,438.48 481.17,439.2 482.61,439.92 484.05,440.64 485.49,441.34 486.93,442.04 488.37,442.74 489.81,443.43 491.25,444.11 492.69,444.79 494.13,445.47 495.57,446.14 497.02,446.8 498.46,447.46 499.9,448.12 501.34,448.77 502.78,449.41 504.22,450.05 505.66,450.68 507.1,451.31 508.54,451.93 509.98,452.54 511.42,453.15 512.86,453.75 514.3,454.35 515.74,454.95 517.18,455.55 518.62,456.15 520.06,456.74 521.5,457.33 522.94,457.91 524.38,458.47 525.82,459.03 527.26,459.57 528.7,460.09 530.14,460.6 531.58,461.09 533.02,461.56 534.46,462.02 535.9,462.47 537.34,462.91 538.78,463.34 540.22,463.76 541.66,464.17 543.1,464.58 544.54,464.97 545.98,465.35 547.42,465.73 548.86,466.1 550.3,466.45 551.74,466.8 553.18,467.15 554.62,467.49 556.06,467.83 557.5,468.17 558.94,468.5 560.38,468.83 561.82,469.15 563.26,469.46 564.7,469.76 566.14,470.05 567.58,470.32 569.03,470.58 570.47,470.83 571.91,471.05 573.35,471.26 574.79,471.45 576.23,471.64 577.67,471.82 579.11,471.99 580.55,472.16 581.99,472.32 583.43,472.48 584.87,472.62 586.31,472.76 587.75,472.89 589.19,473.01 590.63,473.13 592.07,473.23 593.51,473.33 594.95,473.42 596.39,473.51 597.83,473.59 599.27,473.68 600.71,473.75 602.15,473.83 603.59,473.9 605.03,473.97 606.47,474.03 607.91,474.09 609.35,474.14 610.79,474.19 612.23,474.24 613.67,474.28 615.11,474.32 616.55,474.36 617.99,474.39 619.43,474.42 620.87,474.45 622.31,474.48 623.75,474.51 625.19,474.54 626.63,474.56 628.07,474.59 629.51,474.61 630.95,474.63 632.39,474.65 633.83,474.67 635.27,474.69 636.71,474.71 638.15,474.72 639.59,474.74 641.04,474.76 642.48,474.78 643.92,474.8 645.36,474.81 646.8,474.83 648.24,474.85 649.68,474.86 651.12,474.88 652.56,474.89 654,474.91 655.44,474.92 656.88,474.94 658.32,474.95 659.76,474.96 661.2,474.98 662.64,474.99 664.08,475 665.52,475.01 666.96,475.02 668.4,475.03 669.84,475.04 671.28,475.04 672.72,475.05 674.16,475.06 675.6,475.06" fill="none" stroke="#000" stroke-width="1.25" stroke-linejoin="round" />
<rect x="386.9" y="396.67" width="4.2" height="4.2" fill="#000"/>
<rect x="393.72" y="397.37" width="4.2" height="4.2" fill="#000"/>
<rect x="400.55" y="398.59" width="4.2" height="4.2" fill="#000"/>
<rect x="407.37" y="400.1" width="4.2" height="4.2" fill="#000"/>
<rect x="414.2" y="402.18" width="4.2" height="4.2" fill="#000"/>
<rect x="421.02" y="404.98" width="4.2" height="4.2" fill="#000"/>
<rect x="427.84" y="408.11" width="4.2" height="4.2" fill="#000"/>
<rect x="434.67" y="411.72" width="4.2" height="4.2" fill="#000"/>
<rect x="441.49" y="415.83" width="4.2" height="4.2" fill="#000"/>
<rect x="448.31" y="419.94" width="4.2" height="4.2" fill="#000"/>
<rect x="455.14" y="423.94" width="4.2" height="4.2" fill="#000"/>
<rect x="461.96" y="427.94" width="4.2" height="4.2" fill="#000"/>
<rect x="468.79" y="431.76" width="4.2" height="4.2" fill="#000"/>
<rect x="475.61" y="435.35" width="4.2" height="4.2" fill="#000"/>
<rect x="482.43" y="438.77" width="4.2" height="4.2" fill="#000"/>
<rect x="489.26" y="442.06" width="4.2" height="4.2" fill="#000"/>
<rect x="496.08" y="445.24" width="4.2" height="4.2" fill="#000"/>
<rect x="502.9" y="448.3" width="4.2" height="4.2" fill="#000"/>
<rect x="509.73" y="451.22" width="4.2" height="4.2" fill="#000"/>
<rect x="516.55" y="454.07" width="4.2" height="4.2" fill="#000"/>
<rect x="523.38" y="456.8" width="4.2" height="4.2" fill="#000"/>
<rect x="530.2" y="459.23" width="4.2" height="4.2" fill="#000"/>
<rect x="537.02" y="461.34" width="4.2" height="4.2" fill="#000"/>
<rect x="543.85" y="463.24" width="4.2" height="4.2" fill="#000"/>
<rect x="550.67" y="464.95" width="4.2" height="4.2" fill="#000"/>
<rect x="557.5" y="466.55" width="4.2" height="4.2" fill="#000"/>
<rect x="564.32" y="468" width="4.2" height="4.2" fill="#000"/>
<rect x="571.14" y="469.15" width="4.2" height="4.2" fill="#000"/>
<rect x="577.97" y="470.01" width="4.2" height="4.2" fill="#000"/>
<rect x="584.79" y="470.71" width="4.2" height="4.2" fill="#000"/>
<rect x="591.61" y="471.24" width="4.2" height="4.2" fill="#000"/>
<rect x="598.44" y="471.64" width="4.2" height="4.2" fill="#000"/>
<rect x="605.26" y="471.97" width="4.2" height="4.2" fill="#000"/>
<rect x="612.09" y="472.2" width="4.2" height="4.2" fill="#000"/>
<rect x="618.91" y="472.36" width="4.2" height="4.2" fill="#000"/>
<rect x="625.73" y="472.48" width="4.2" height="4.2" fill="#000"/>
<rect x="632.56" y="472.58" width="4.2" height="4.2" fill="#000"/>
<rect x="639.38" y="472.67" width="4.2" height="4.2" fill="#000"/>
<rect x="646.2" y="472.75" width="4.2" height="4.2" fill="#000"/>
<rect x="653.03" y="472.82" width="4.2" height="4.2" fill="#000"/>
<rect x="659.85" y="472.88" width="4.2" height="4.2" fill="#000"/>
<rect x="666.68" y="472.93" width="4.2" height="4.2" fill="#000"/>
<rect x="673.5" y="472.96" width="4.2" height="4.2" fill="#000"/>
<polyline points="389,376.65 390.44,377.02 391.88,377.41 393.32,377.81 394.76,378.21 396.2,378.62 397.64,379.04 399.08,379.47 400.52,379.9 401.96,380.34 403.4,380.79 404.84,381.25 406.28,381.71 407.72,382.17 409.16,382.65 410.6,383.13 412.04,383.62 413.48,384.11 414.92,384.62 416.36,385.14 417.8,385.66 419.24,386.2 420.68,386.74 422.12,387.29 423.56,387.84 425.01,388.4 426.45,388.97 427.89,389.55 429.33,390.13 430.77,390.71 432.21,391.3 433.65,391.9 435.09,392.51 436.53,393.12 437.97,393.74 439.41,394.36 440.85,395 442.29,395.65 443.73,396.31 445.17,396.98 446.61,397.66 448.05,398.36 449.49,399.07 450.93,399.79 452.37,400.54 453.81,401.3 455.25,402.08 456.69,402.88 458.13,403.69 459.57,404.52 461.01,405.36 462.45,406.21 463.89,407.07 465.33,407.94 466.77,408.82 468.21,409.7 469.65,410.59 471.09,411.49 472.53,412.39 473.97,413.32 475.41,414.26 476.85,415.21 478.29,416.17 479.73,417.15 481.17,418.13 482.61,419.12 484.05,420.11 485.49,421.1 486.93,422.09 488.37,423.07 489.81,424.05 491.25,425.02 492.69,425.99 494.13,426.96 495.57,427.93 497.02,428.91 498.46,429.88 499.9,430.86 501.34,431.83 502.78,432.8 504.22,433.77 505.66,434.74 507.1,435.7 508.54,436.66 509.98,437.61 511.42,438.55 512.86,439.49 514.3,440.43 515.74,441.36 517.18,442.29 518.62,443.22 520.06,444.15 521.5,445.07 522.94,445.98 524.38,446.89 525.82,447.8 527.26,448.7 528.7,449.59 530.14,450.48 531.58,451.36 533.02,452.23 534.46,453.11 535.9,454 537.34,454.9 538.78,455.79 540.22,456.68 541.66,457.56 543.1,458.43 544.54,459.28 545.98,460.11 547.42,460.92 548.86,461.69 550.3,462.44 551.74,463.14 553.18,463.8 554.62,464.46 556.06,465.12 557.5,465.77 558.94,466.42 560.38,467.05 561.82,467.66 563.26,468.25 564.7,468.81 566.14,469.34 567.58,469.82 569.03,470.26 570.47,470.65 571.91,470.99 573.35,471.26 574.79,471.5 576.23,471.73 577.67,471.95 579.11,472.15 580.55,472.34 581.99,472.52 583.43,472.68 584.87,472.84 586.31,472.98 587.75,473.11 589.19,473.23 590.63,473.34 592.07,473.44 593.51,473.52 594.95,473.6 596.39,473.68 597.83,473.75 599.27,473.81 600.71,473.87 602.15,473.93 603.59,473.98 605.03,474.03 606.47,474.08 607.91,474.13 609.35,474.17 610.79,474.21 612.23,474.25 613.67,474.28 615.11,474.32 616.55,474.35 617.99,474.39 619.43,474.42 620.87,474.45 622.31,474.48 623.75,474.51 625.19,474.53 626.63,474.56 628.07,474.58 629.51,474.61 630.95,474.63 632.39,474.65 633.83,474.67 635.27,474.69 636.71,474.71 638.15,474.72 639.59,474.74 641.04,474.76 642.48,474.78 643.92,474.8 645.36,474.81 646.8,474.83 648.24,474.85 649.68,474.86 651.12,474.88 652.56,474.89 654,474.91 655.44,474.92 656.88,474.94 658.32,474.95 659.76,474.96 661.2,474.98 662.64,474.99 664.08,475 665.52,475.01 666.96,475.02 668.4,475.03 669.84,475.04 671.28,475.04 672.72,475.05 674.16,475.06 675.6,475.06" fill="none" stroke="#ff0000" stroke-width="1.25" stroke-linejoin="round" />
<circle cx="389" cy="376.65" r="2.54" fill="#ff0000"/>
<circle cx="395.82" cy="378.52" r="2.54" fill="#ff0000"/>
<circle cx="402.65" cy="380.56" r="2.54" fill="#ff0000"/>
<circle cx="409.47" cy="382.75" r="2.54" fill="#ff0000"/>
<circle cx="416.3" cy="385.11" r="2.54" fill="#ff0000"/>
<circle cx="423.12" cy="387.67" r="2.54" fill="#ff0000"/>
<circle cx="429.94" cy="390.38" r="2.54" fill="#ff0000"/>
<circle cx="436.77" cy="393.22" r="2.54" fill="#ff0000"/>
<circle cx="443.59" cy="396.25" r="2.54" fill="#ff0000"/>
<circle cx="450.41" cy="399.53" r="2.54" fill="#ff0000"/>
<circle cx="457.24" cy="403.19" r="2.54" fill="#ff0000"/>
<circle cx="464.06" cy="407.17" r="2.54" fill="#ff0000"/>
<circle cx="470.89" cy="411.36" r="2.54" fill="#ff0000"/>
<circle cx="477.71" cy="415.78" r="2.54" fill="#ff0000"/>
<circle cx="484.53" cy="420.44" r="2.54" fill="#ff0000"/>
<circle cx="491.36" cy="425.09" r="2.54" fill="#ff0000"/>
<circle cx="498.18" cy="429.7" r="2.54" fill="#ff0000"/>
<circle cx="505" cy="434.3" r="2.54" fill="#ff0000"/>
<circle cx="511.83" cy="438.82" r="2.54" fill="#ff0000"/>
<circle cx="518.65" cy="443.24" r="2.54" fill="#ff0000"/>
<circle cx="525.48" cy="447.58" r="2.54" fill="#ff0000"/>
<circle cx="532.3" cy="451.79" r="2.54" fill="#ff0000"/>
<circle cx="539.12" cy="456" r="2.54" fill="#ff0000"/>
<circle cx="545.95" cy="460.09" r="2.54" fill="#ff0000"/>
<circle cx="552.77" cy="463.62" r="2.54" fill="#ff0000"/>
<circle cx="559.6" cy="466.71" r="2.54" fill="#ff0000"/>
<circle cx="566.42" cy="469.43" r="2.54" fill="#ff0000"/>
<circle cx="573.24" cy="471.25" r="2.54" fill="#ff0000"/>
<circle cx="580.07" cy="472.28" r="2.54" fill="#ff0000"/>
<circle cx="586.89" cy="473.03" r="2.54" fill="#ff0000"/>
<circle cx="593.71" cy="473.53" r="2.54" fill="#ff0000"/>
<circle cx="600.54" cy="473.86" r="2.54" fill="#ff0000"/>
<circle cx="607.36" cy="474.11" r="2.54" fill="#ff0000"/>
<circle cx="614.19" cy="474.3" r="2.54" fill="#ff0000"/>
<circle cx="621.01" cy="474.45" r="2.54" fill="#ff0000"/>
<circle cx="627.83" cy="474.58" r="2.54" fill="#ff0000"/>
<circle cx="634.66" cy="474.68" r="2.54" fill="#ff0000"/>
<circle cx="641.48" cy="474.77" r="2.54" fill="#ff0000"/>
<circle cx="648.3" cy="474.85" r="2.54" fill="#ff0000"/>
<circle cx="655.13" cy="474.92" r="2.54" fill="#ff0000"/>
<circle cx="661.95" cy="474.98" r="2.54" fill="#ff0000"/>
<circle cx="668.78" cy="475.03" r="2.54" fill="#ff0000"/>
<circle cx="675.6" cy="475.06" r="2.54" fill="#ff0000"/>
<polyline points="389,364.06 390.44,364.36 391.88,364.67 393.32,364.97 394.76,365.28 396.2,365.58 397.64,365.88 399.08,366.17 400.52,366.47 401.96,366.76 403.4,367.05 404.84,367.34 406.28,367.63 407.72,367.91 409.16,368.19 410.6,368.47 412.04,368.74 413.48,369 414.92,369.26 416.36,369.52 417.8,369.77 419.24,370.02 420.68,370.28 422.12,370.53 423.56,370.8 425.01,371.07 426.45,371.35 427.89,371.63 429.33,371.93 430.77,372.25 432.21,372.56 433.65,372.89 435.09,373.22 436.53,373.55 437.97,373.9 439.41,374.26 440.85,374.62 442.29,375 443.73,375.39 445.17,375.8 446.61,376.22 448.05,376.65 449.49,377.11 450.93,377.58 452.37,378.08 453.81,378.62 455.25,379.19 456.69,379.78 458.13,380.4 459.57,381.04 461.01,381.71 462.45,382.38 463.89,383.08 465.33,383.78 466.77,384.5 468.21,385.22 469.65,385.94 471.09,386.67 472.53,387.4 473.97,388.15 475.41,388.91 476.85,389.69 478.29,390.48 479.73,391.29 481.17,392.11 482.61,392.95 484.05,393.8 485.49,394.67 486.93,395.56 488.37,396.46 489.81,397.38 491.25,398.32 492.69,399.28 494.13,400.28 495.57,401.3 497.02,402.35 498.46,403.42 499.9,404.51 501.34,405.62 502.78,406.75 504.22,407.89 505.66,409.04 507.1,410.2 508.54,411.36 509.98,412.53 511.42,413.7 512.86,414.86 514.3,416.05 515.74,417.25 517.18,418.47 518.62,419.7 520.06,420.94 521.5,422.18 522.94,423.44 524.38,424.69 525.82,425.95 527.26,427.21 528.7,428.46 530.14,429.71 531.58,430.96 533.02,432.19 534.46,433.45 535.9,434.71 537.34,435.98 538.78,437.26 540.22,438.54 541.66,439.81 543.1,441.08 544.54,442.34 545.98,443.58 547.42,444.81 548.86,446.01 550.3,447.18 551.74,448.33 553.18,449.44 554.62,450.54 556.06,451.65 557.5,452.75 558.94,453.85 560.38,454.93 561.82,456 563.26,457.04 564.7,458.06 566.14,459.04 567.58,459.98 569.03,460.88 570.47,461.74 571.91,462.54 573.35,463.29 574.79,464.01 576.23,464.73 577.67,465.44 579.11,466.14 580.55,466.82 581.99,467.48 583.43,468.11 584.87,468.71 586.31,469.26 587.75,469.77 589.19,470.22 590.63,470.62 592.07,470.95 593.51,471.21 594.95,471.43 596.39,471.62 597.83,471.81 599.27,471.98 600.71,472.13 602.15,472.28 603.59,472.42 605.03,472.54 606.47,472.66 607.91,472.77 609.35,472.87 610.79,472.96 612.23,473.04 613.67,473.13 615.11,473.2 616.55,473.28 617.99,473.35 619.43,473.42 620.87,473.48 622.31,473.54 623.75,473.6 625.19,473.66 626.63,473.71 628.07,473.76 629.51,473.8 630.95,473.84 632.39,473.87 633.83,473.9 635.27,473.93 636.71,473.95 638.15,473.97 639.59,473.99 641.04,474.01 642.48,474.03 643.92,474.05 645.36,474.07 646.8,474.09 648.24,474.11 649.68,474.13 651.12,474.15 652.56,474.16 654,474.18 655.44,474.19 656.88,474.21 658.32,474.22 659.76,474.23 661.2,474.24 662.64,474.25 664.08,474.26 665.52,474.27 666.96,474.28 668.4,474.28 669.84,474.29 671.28,474.29 672.72,474.3 674.16,474.3 675.6,474.3" fill="none" stroke="#0000ff" stroke-width="1.25" stroke-linejoin="round" />
<path d="M389,361.12 L391.94,366.41 L386.06,366.41 Z" fill="#0000ff"/>
<path d="M395.82,362.56 L398.76,367.85 L392.89,367.85 Z" fill="#0000ff"/>
<path d="M402.65,363.96 L405.59,369.25 L399.71,369.25 Z" fill="#0000ff"/>
<path d="M409.47,365.32 L412.41,370.6 L406.53,370.6 Z" fill="#0000ff"/>
<path d="M416.3,366.57 L419.23,371.85 L413.36,371.85 Z" fill="#0000ff"/>
<path d="M423.12,367.78 L426.06,373.07 L420.18,373.07 Z" fill="#0000ff"/>
<path d="M429.94,369.13 L432.88,374.42 L427.01,374.42 Z" fill="#0000ff"/>
<path d="M436.77,370.67 L439.7,375.96 L433.83,375.96 Z" fill="#0000ff"/>
<path d="M443.59,372.42 L446.53,377.7 L440.65,377.7 Z" fill="#0000ff"/>
<path d="M450.41,374.47 L453.35,379.76 L447.48,379.76 Z" fill="#0000ff"/>
<path d="M457.24,377.08 L460.18,382.37 L454.3,382.37 Z" fill="#0000ff"/>
<path d="M464.06,380.22 L467,385.51 L461.12,385.51 Z" fill="#0000ff"/>
<path d="M470.89,383.63 L473.82,388.91 L467.95,388.91 Z" fill="#0000ff"/>
<path d="M477.71,387.22 L480.65,392.51 L474.77,392.51 Z" fill="#0000ff"/>
<path d="M484.53,391.15 L487.47,396.44 L481.6,396.44 Z" fill="#0000ff"/>
<path d="M491.36,395.45 L494.29,400.74 L488.42,400.74 Z" fill="#0000ff"/>
<path d="M498.18,400.28 L501.12,405.56 L495.24,405.56 Z" fill="#0000ff"/>
<path d="M505,405.58 L507.94,410.87 L502.07,410.87 Z" fill="#0000ff"/>
<path d="M511.83,411.09 L514.77,416.38 L508.89,416.38 Z" fill="#0000ff"/>
<path d="M518.65,416.79 L521.59,422.08 L515.71,422.08 Z" fill="#0000ff"/>
<path d="M525.48,422.71 L528.41,428 L522.54,428 Z" fill="#0000ff"/>
<path d="M532.3,428.64 L535.24,433.92 L529.36,433.92 Z" fill="#0000ff"/>
<path d="M539.12,434.63 L542.06,439.91 L536.19,439.91 Z" fill="#0000ff"/>
<path d="M545.95,440.62 L548.89,445.9 L543.01,445.9 Z" fill="#0000ff"/>
<path d="M552.77,446.18 L555.71,451.47 L549.83,451.47 Z" fill="#0000ff"/>
<path d="M559.6,451.4 L562.53,456.69 L556.66,456.69 Z" fill="#0000ff"/>
<path d="M566.42,456.28 L569.36,461.57 L563.48,461.57 Z" fill="#0000ff"/>
<path d="M573.24,460.3 L576.18,465.59 L570.31,465.59 Z" fill="#0000ff"/>
<path d="M580.07,463.66 L583,468.95 L577.13,468.95 Z" fill="#0000ff"/>
<path d="M586.89,466.53 L589.83,471.82 L583.95,471.82 Z" fill="#0000ff"/>
<path d="M593.71,468.31 L596.65,473.6 L590.78,473.6 Z" fill="#0000ff"/>
<path d="M600.54,469.18 L603.48,474.47 L597.6,474.47 Z" fill="#0000ff"/>
<path d="M607.36,469.79 L610.3,475.08 L604.42,475.08 Z" fill="#0000ff"/>
<path d="M614.19,470.22 L617.12,475.5 L611.25,475.5 Z" fill="#0000ff"/>
<path d="M621.01,470.55 L623.95,475.84 L618.07,475.84 Z" fill="#0000ff"/>
<path d="M627.83,470.81 L630.77,476.1 L624.9,476.1 Z" fill="#0000ff"/>
<path d="M634.66,470.98 L637.59,476.27 L631.72,476.27 Z" fill="#0000ff"/>
<path d="M641.48,471.08 L644.42,476.37 L638.54,476.37 Z" fill="#0000ff"/>
<path d="M648.3,471.17 L651.24,476.46 L645.37,476.46 Z" fill="#0000ff"/>
<path d="M655.13,471.25 L658.07,476.54 L652.19,476.54 Z" fill="#0000ff"/>
<path d="M661.95,471.31 L664.89,476.6 L659.01,476.6 Z" fill="#0000ff"/>
<path d="M668.78,471.35 L671.71,476.63 L665.84,476.63 Z" fill="#0000ff"/>
<path d="M675.6,471.36 L678.54,476.65 L672.66,476.65 Z" fill="#0000ff"/>
<polyline points="389,360.24 390.44,360.46 391.88,360.69 393.32,360.93 394.76,361.17 396.2,361.42 397.64,361.68 399.08,361.95 400.52,362.22 401.96,362.5 403.4,362.79 404.84,363.08 406.28,363.38 407.72,363.68 409.16,363.99 410.6,364.31 412.04,364.64 413.48,364.99 414.92,365.35 416.36,365.72 417.8,366.1 419.24,366.49 420.68,366.88 422.12,367.28 423.56,367.67 425.01,368.07 426.45,368.46 427.89,368.85 429.33,369.24 430.77,369.61 432.21,369.97 433.65,370.33 435.09,370.67 436.53,371.02 437.97,371.36 439.41,371.7 440.85,372.06 442.29,372.41 443.73,372.79 445.17,373.17 446.61,373.57 448.05,373.99 449.49,374.44 450.93,374.91 452.37,375.41 453.81,375.94 455.25,376.51 456.69,377.09 458.13,377.71 459.57,378.34 461.01,379 462.45,379.67 463.89,380.37 465.33,381.07 466.77,381.79 468.21,382.52 469.65,383.26 471.09,384 472.53,384.76 473.97,385.54 475.41,386.34 476.85,387.16 478.29,388 479.73,388.87 481.17,389.75 482.61,390.64 484.05,391.56 485.49,392.5 486.93,393.45 488.37,394.42 489.81,395.41 491.25,396.41 492.69,397.44 494.13,398.51 495.57,399.62 497.02,400.76 498.46,401.93 499.9,403.12 501.34,404.33 502.78,405.56 504.22,406.79 505.66,408.02 507.1,409.26 508.54,410.49 509.98,411.71 511.42,412.92 512.86,414.12 514.3,415.32 515.74,416.52 517.18,417.73 518.62,418.94 520.06,420.16 521.5,421.37 522.94,422.58 524.38,423.8 525.82,425.01 527.26,426.22 528.7,427.43 530.14,428.63 531.58,429.83 533.02,431.03 534.46,432.23 535.9,433.44 537.34,434.65 538.78,435.86 540.22,437.06 541.66,438.27 543.1,439.47 544.54,440.66 545.98,441.84 547.42,443.01 548.86,444.17 550.3,445.31 551.74,446.43 553.18,447.53 554.62,448.63 556.06,449.75 557.5,450.87 558.94,451.99 560.38,453.1 561.82,454.19 563.26,455.27 564.7,456.32 566.14,457.34 567.58,458.32 569.03,459.26 570.47,460.15 571.91,460.99 573.35,461.76 574.79,462.51 576.23,463.26 577.67,464 579.11,464.72 580.55,465.43 581.99,466.11 583.43,466.76 584.87,467.38 586.31,467.96 587.75,468.49 589.19,468.97 590.63,469.4 592.07,469.77 593.51,470.06 594.95,470.31 596.39,470.55 597.83,470.78 599.27,471 600.71,471.2 602.15,471.39 603.59,471.57 605.03,471.73 606.47,471.88 607.91,472.01 609.35,472.13 610.79,472.23 612.23,472.31 613.67,472.37 615.11,472.42 616.55,472.46 617.99,472.5 619.43,472.53 620.87,472.56 622.31,472.59 623.75,472.62 625.19,472.64 626.63,472.66 628.07,472.69 629.51,472.71 630.95,472.72 632.39,472.74 633.83,472.76 635.27,472.78 636.71,472.8 638.15,472.82 639.59,472.83 641.04,472.85 642.48,472.87 643.92,472.89 645.36,472.91 646.8,472.92 648.24,472.94 649.68,472.95 651.12,472.97 652.56,472.99 654,473 655.44,473.02 656.88,473.03 658.32,473.04 659.76,473.06 661.2,473.07 662.64,473.08 664.08,473.09 665.52,473.1 666.96,473.11 668.4,473.12 669.84,473.13 671.28,473.14 672.72,473.14 674.16,473.15 675.6,473.15" fill="none" stroke="#ff00ff" stroke-width="1.25" stroke-linejoin="round" />
<path d="M389,363.18 L391.94,357.89 L386.06,357.89 Z" fill="#ff00ff"/>
<path d="M395.82,364.29 L398.76,359 L392.89,359 Z" fill="#ff00ff"/>
<path d="M402.65,365.57 L405.59,360.28 L399.71,360.28 Z" fill="#ff00ff"/>
<path d="M409.47,366.99 L412.41,361.71 L406.53,361.71 Z" fill="#ff00ff"/>
<path d="M416.3,368.64 L419.23,363.36 L413.36,363.36 Z" fill="#ff00ff"/>
<path d="M423.12,370.49 L426.06,365.2 L420.18,365.2 Z" fill="#ff00ff"/>
<path d="M429.94,372.33 L432.88,367.05 L427.01,367.05 Z" fill="#ff00ff"/>
<path d="M436.77,374.01 L439.7,368.72 L433.83,368.72 Z" fill="#ff00ff"/>
<path d="M443.59,375.69 L446.53,370.4 L440.65,370.4 Z" fill="#ff00ff"/>
<path d="M450.41,377.68 L453.35,372.39 L447.48,372.39 Z" fill="#ff00ff"/>
<path d="M457.24,380.26 L460.18,374.98 L454.3,374.98 Z" fill="#ff00ff"/>
<path d="M464.06,383.39 L467,378.1 L461.12,378.1 Z" fill="#ff00ff"/>
<path d="M470.89,386.83 L473.82,381.54 L467.95,381.54 Z" fill="#ff00ff"/>
<path d="M477.71,390.6 L480.65,385.31 L474.77,385.31 Z" fill="#ff00ff"/>
<path d="M484.53,394.81 L487.47,389.52 L481.6,389.52 Z" fill="#ff00ff"/>
<path d="M491.36,399.42 L494.29,394.13 L488.42,394.13 Z" fill="#ff00ff"/>
<path d="M498.18,404.64 L501.12,399.36 L495.24,399.36 Z" fill="#ff00ff"/>
<path d="M505,410.4 L507.94,405.11 L502.07,405.11 Z" fill="#ff00ff"/>
<path d="M511.83,416.2 L514.77,410.91 L508.89,410.91 Z" fill="#ff00ff"/>
<path d="M518.65,421.91 L521.59,416.62 L515.71,416.62 Z" fill="#ff00ff"/>
<path d="M525.48,427.66 L528.41,422.37 L522.54,422.37 Z" fill="#ff00ff"/>
<path d="M532.3,433.37 L535.24,428.08 L529.36,428.08 Z" fill="#ff00ff"/>
<path d="M539.12,439.08 L542.06,433.79 L536.19,433.79 Z" fill="#ff00ff"/>
<path d="M545.95,444.75 L548.89,439.47 L543.01,439.47 Z" fill="#ff00ff"/>
<path d="M552.77,450.15 L555.71,444.86 L549.83,444.86 Z" fill="#ff00ff"/>
<path d="M559.6,455.43 L562.53,450.14 L556.66,450.14 Z" fill="#ff00ff"/>
<path d="M566.42,460.47 L569.36,455.18 L563.48,455.18 Z" fill="#ff00ff"/>
<path d="M573.24,464.65 L576.18,459.36 L570.31,459.36 Z" fill="#ff00ff"/>
<path d="M580.07,468.13 L583,462.84 L577.13,462.84 Z" fill="#ff00ff"/>
<path d="M586.89,471.12 L589.83,465.83 L583.95,465.83 Z" fill="#ff00ff"/>
<path d="M593.71,473.04 L596.65,467.75 L590.78,467.75 Z" fill="#ff00ff"/>
<path d="M600.54,474.12 L603.48,468.83 L597.6,468.83 Z" fill="#ff00ff"/>
<path d="M607.36,474.9 L610.3,469.62 L604.42,469.62 Z" fill="#ff00ff"/>
<path d="M614.19,475.33 L617.12,470.04 L611.25,470.04 Z" fill="#ff00ff"/>
<path d="M621.01,475.5 L623.95,470.22 L618.07,470.22 Z" fill="#ff00ff"/>
<path d="M627.83,475.62 L630.77,470.33 L624.9,470.33 Z" fill="#ff00ff"/>
<path d="M634.66,475.71 L637.59,470.42 L631.72,470.42 Z" fill="#ff00ff"/>
<path d="M641.48,475.8 L644.42,470.51 L638.54,470.51 Z" fill="#ff00ff"/>
<path d="M648.3,475.88 L651.24,470.59 L645.37,470.59 Z" fill="#ff00ff"/>
<path d="M655.13,475.95 L658.07,470.66 L652.19,470.66 Z" fill="#ff00ff"/>
<path d="M661.95,476.01 L664.89,470.72 L659.01,470.72 Z" fill="#ff00ff"/>
<path d="M668.78,476.06 L671.71,470.77 L665.84,470.77 Z" fill="#ff00ff"/>
<path d="M675.6,476.09 L678.54,470.8 L672.66,470.8 Z" fill="#ff00ff"/>
<polyline points="389,356.43 390.44,356.48 391.88,356.54 393.32,356.63 394.76,356.73 396.2,356.84 397.64,356.96 399.08,357.1 400.52,357.25 401.96,357.41 403.4,357.57 404.84,357.74 406.28,357.92 407.72,358.11 409.16,358.29 410.6,358.49 412.04,358.71 413.48,358.96 414.92,359.22 416.36,359.51 417.8,359.82 419.24,360.14 420.68,360.48 422.12,360.83 423.56,361.19 425.01,361.57 426.45,361.95 427.89,362.34 429.33,362.74 430.77,363.15 432.21,363.56 433.65,364 435.09,364.45 436.53,364.92 437.97,365.41 439.41,365.91 440.85,366.44 442.29,366.99 443.73,367.56 445.17,368.16 446.61,368.78 448.05,369.42 449.49,370.1 450.93,370.8 452.37,371.56 453.81,372.4 455.25,373.29 456.69,374.24 458.13,375.24 459.57,376.27 461.01,377.34 462.45,378.44 463.89,379.56 465.33,380.69 466.77,381.82 468.21,382.96 469.65,384.08 471.09,385.2 472.53,386.32 473.97,387.46 475.41,388.62 476.85,389.79 478.29,390.99 479.73,392.19 481.17,393.41 482.61,394.64 484.05,395.88 485.49,397.12 486.93,398.37 488.37,399.62 489.81,400.87 491.25,402.11 492.69,403.37 494.13,404.63 495.57,405.9 497.02,407.19 498.46,408.48 499.9,409.78 501.34,411.08 502.78,412.38 504.22,413.68 505.66,414.98 507.1,416.28 508.54,417.58 509.98,418.87 511.42,420.15 512.86,421.42 514.3,422.71 515.74,423.99 517.18,425.27 518.62,426.56 520.06,427.84 521.5,429.12 522.94,430.4 524.38,431.67 525.82,432.93 527.26,434.18 528.7,435.41 530.14,436.64 531.58,437.84 533.02,439.04 534.46,440.23 535.9,441.42 537.34,442.6 538.78,443.78 540.22,444.95 541.66,446.11 543.1,447.25 544.54,448.38 545.98,449.5 547.42,450.59 548.86,451.67 550.3,452.72 551.74,453.75 553.18,454.75 554.62,455.75 556.06,456.75 557.5,457.76 558.94,458.76 560.38,459.74 561.82,460.71 563.26,461.66 564.7,462.57 566.14,463.45 567.58,464.29 569.03,465.07 570.47,465.81 571.91,466.48 573.35,467.09 574.79,467.66 576.23,468.22 577.67,468.77 579.11,469.29 580.55,469.8 581.99,470.29 583.43,470.75 584.87,471.19 586.31,471.59 587.75,471.97 589.19,472.31 590.63,472.62 592.07,472.89 593.51,473.12 594.95,473.32 596.39,473.51 597.83,473.69 599.27,473.86 600.71,474.02 602.15,474.16 603.59,474.3 605.03,474.43 606.47,474.55 607.91,474.66 609.35,474.77 610.79,474.86 612.23,474.95 613.67,475.03 615.11,475.11 616.55,475.18 617.99,475.26 619.43,475.33 620.87,475.4 622.31,475.47 623.75,475.53 625.19,475.59 626.63,475.64 628.07,475.69 629.51,475.73 630.95,475.76 632.39,475.79 633.83,475.81 635.27,475.83 636.71,475.84 638.15,475.85 639.59,475.87 641.04,475.88 642.48,475.89 643.92,475.9 645.36,475.91 646.8,475.92 648.24,475.93 649.68,475.94 651.12,475.94 652.56,475.95 654,475.96 655.44,475.97 656.88,475.97 658.32,475.98 659.76,475.98 661.2,475.99 662.64,475.99 664.08,476 665.52,476 666.96,476.01 668.4,476.01 669.84,476.01 671.28,476.01 672.72,476.01 674.16,476.01 675.6,476.01" fill="none" stroke="#008000" stroke-width="1.25" stroke-linejoin="round" />
<path d="M389,353.26 L392.17,356.43 L389,359.6 L385.83,356.43 Z" fill="#008000"/>
<path d="M395.82,353.64 L399,356.81 L395.82,359.98 L392.65,356.81 Z" fill="#008000"/>
<path d="M402.65,354.31 L405.82,357.48 L402.65,360.66 L399.48,357.48 Z" fill="#008000"/>
<path d="M409.47,355.16 L412.64,358.34 L409.47,361.51 L406.3,358.34 Z" fill="#008000"/>
<path d="M416.3,356.32 L419.47,359.5 L416.3,362.67 L413.12,359.5 Z" fill="#008000"/>
<path d="M423.12,357.91 L426.29,361.08 L423.12,364.25 L419.95,361.08 Z" fill="#008000"/>
<path d="M429.94,359.74 L433.12,362.91 L429.94,366.09 L426.77,362.91 Z" fill="#008000"/>
<path d="M436.77,361.83 L439.94,365 L436.77,368.17 L433.59,365 Z" fill="#008000"/>
<path d="M443.59,364.33 L446.76,367.51 L443.59,370.68 L440.42,367.51 Z" fill="#008000"/>
<path d="M450.41,367.37 L453.59,370.54 L450.41,373.71 L447.24,370.54 Z" fill="#008000"/>
<path d="M457.24,371.44 L460.41,374.62 L457.24,377.79 L454.07,374.62 Z" fill="#008000"/>
<path d="M464.06,376.52 L467.23,379.69 L464.06,382.86 L460.89,379.69 Z" fill="#008000"/>
<path d="M470.89,381.86 L474.06,385.04 L470.89,388.21 L467.71,385.04 Z" fill="#008000"/>
<path d="M477.71,387.33 L480.88,390.5 L477.71,393.68 L474.54,390.5 Z" fill="#008000"/>
<path d="M484.53,393.12 L487.71,396.29 L484.53,399.46 L481.36,396.29 Z" fill="#008000"/>
<path d="M491.36,399.03 L494.53,402.2 L491.36,405.38 L488.18,402.2 Z" fill="#008000"/>
<path d="M498.18,405.06 L501.35,408.23 L498.18,411.41 L495.01,408.23 Z" fill="#008000"/>
<path d="M505,411.22 L508.18,414.39 L505,417.57 L501.83,414.39 Z" fill="#008000"/>
<path d="M511.83,417.34 L515,420.51 L511.83,423.68 L508.66,420.51 Z" fill="#008000"/>
<path d="M518.65,423.42 L521.82,426.59 L518.65,429.76 L515.48,426.59 Z" fill="#008000"/>
<path d="M525.48,429.46 L528.65,432.63 L525.48,435.8 L522.3,432.63 Z" fill="#008000"/>
<path d="M532.3,435.27 L535.47,438.44 L532.3,441.61 L529.13,438.44 Z" fill="#008000"/>
<path d="M539.12,440.88 L542.3,444.06 L539.12,447.23 L535.95,444.06 Z" fill="#008000"/>
<path d="M545.95,446.3 L549.12,449.47 L545.95,452.65 L542.78,449.47 Z" fill="#008000"/>
<path d="M552.77,451.29 L555.94,454.46 L552.77,457.63 L549.6,454.46 Z" fill="#008000"/>
<path d="M559.6,456.03 L562.77,459.21 L559.6,462.38 L556.42,459.21 Z" fill="#008000"/>
<path d="M566.42,460.44 L569.59,463.61 L566.42,466.79 L563.25,463.61 Z" fill="#008000"/>
<path d="M573.24,463.88 L576.42,467.05 L573.24,470.22 L570.07,467.05 Z" fill="#008000"/>
<path d="M580.07,466.46 L583.24,469.63 L580.07,472.81 L576.89,469.63 Z" fill="#008000"/>
<path d="M586.89,468.58 L590.06,471.75 L586.89,474.92 L583.72,471.75 Z" fill="#008000"/>
<path d="M593.71,469.98 L596.89,473.15 L593.71,476.33 L590.54,473.15 Z" fill="#008000"/>
<path d="M600.54,470.82 L603.71,474 L600.54,477.17 L597.37,474 Z" fill="#008000"/>
<path d="M607.36,471.45 L610.53,474.62 L607.36,477.79 L604.19,474.62 Z" fill="#008000"/>
<path d="M614.19,471.89 L617.36,475.06 L614.19,478.23 L611.01,475.06 Z" fill="#008000"/>
<path d="M621.01,472.23 L624.18,475.41 L621.01,478.58 L617.84,475.41 Z" fill="#008000"/>
<path d="M627.83,472.51 L631.01,475.68 L627.83,478.85 L624.66,475.68 Z" fill="#008000"/>
<path d="M634.66,472.65 L637.83,475.82 L634.66,479 L631.48,475.82 Z" fill="#008000"/>
<path d="M641.48,472.71 L644.65,475.88 L641.48,479.05 L638.31,475.88 Z" fill="#008000"/>
<path d="M648.3,472.76 L651.48,475.93 L648.3,479.1 L645.13,475.93 Z" fill="#008000"/>
<path d="M655.13,472.79 L658.3,475.97 L655.13,479.14 L651.96,475.97 Z" fill="#008000"/>
<path d="M661.95,472.82 L665.12,475.99 L661.95,479.16 L658.78,475.99 Z" fill="#008000"/>
<path d="M668.78,472.84 L671.95,476.01 L668.78,479.18 L665.6,476.01 Z" fill="#008000"/>
<path d="M675.6,472.84 L678.77,476.01 L675.6,479.19 L672.43,476.01 Z" fill="#008000"/>
<polyline points="389,348.42 390.44,348.27 391.88,348.14 393.32,348.03 394.76,347.94 396.2,347.86 397.64,347.8 399.08,347.75 400.52,347.72 401.96,347.69 403.4,347.67 404.84,347.66 406.28,347.66 407.72,347.66 409.16,347.65 410.6,347.68 412.04,347.76 413.48,347.91 414.92,348.11 416.36,348.37 417.8,348.66 419.24,349 420.68,349.37 422.12,349.78 423.56,350.2 425.01,350.64 426.45,351.1 427.89,351.57 429.33,352.03 430.77,352.51 432.21,353.07 433.65,353.7 435.09,354.41 436.53,355.18 437.97,356 439.41,356.86 440.85,357.76 442.29,358.69 443.73,359.64 445.17,360.6 446.61,361.56 448.05,362.52 449.49,363.46 450.93,364.39 452.37,365.32 453.81,366.26 455.25,367.23 456.69,368.2 458.13,369.2 459.57,370.2 461.01,371.22 462.45,372.26 463.89,373.31 465.33,374.36 466.77,375.43 468.21,376.52 469.65,377.61 471.09,378.71 472.53,379.83 473.97,380.97 475.41,382.13 476.85,383.31 478.29,384.5 479.73,385.71 481.17,386.93 482.61,388.16 484.05,389.39 485.49,390.64 486.93,391.88 488.37,393.13 489.81,394.38 491.25,395.63 492.69,396.88 494.13,398.14 495.57,399.41 497.02,400.69 498.46,401.98 499.9,403.27 501.34,404.57 502.78,405.87 504.22,407.17 505.66,408.47 507.1,409.77 508.54,411.07 509.98,412.37 511.42,413.66 512.86,414.95 514.3,416.26 515.74,417.57 517.18,418.9 518.62,420.22 520.06,421.55 521.5,422.87 522.94,424.19 524.38,425.49 525.82,426.79 527.26,428.06 528.7,429.32 530.14,430.55 531.58,431.75 533.02,432.92 534.46,434.07 535.9,435.21 537.34,436.33 538.78,437.43 540.22,438.52 541.66,439.59 543.1,440.66 544.54,441.71 545.98,442.76 547.42,443.79 548.86,444.82 550.3,445.85 551.74,446.87 553.18,447.89 554.62,448.91 556.06,449.95 557.5,450.99 558.94,452.03 560.38,453.07 561.82,454.1 563.26,455.11 564.7,456.1 566.14,457.07 567.58,458.01 569.03,458.92 570.47,459.78 571.91,460.61 573.35,461.38 574.79,462.14 576.23,462.91 577.67,463.67 579.11,464.42 580.55,465.16 581.99,465.88 583.43,466.58 584.87,467.23 586.31,467.85 587.75,468.41 589.19,468.93 590.63,469.38 592.07,469.76 593.51,470.06 594.95,470.31 596.39,470.55 597.83,470.77 599.27,470.98 600.71,471.17 602.15,471.35 603.59,471.52 605.03,471.67 606.47,471.81 607.91,471.94 609.35,472.06 610.79,472.17 612.23,472.27 613.67,472.36 615.11,472.44 616.55,472.52 617.99,472.59 619.43,472.66 620.87,472.73 622.31,472.79 623.75,472.85 625.19,472.9 626.63,472.95 628.07,473 629.51,473.04 630.95,473.08 632.39,473.11 633.83,473.14 635.27,473.16 636.71,473.19 638.15,473.21 639.59,473.23 641.04,473.25 642.48,473.27 643.92,473.29 645.36,473.31 646.8,473.33 648.24,473.35 649.68,473.37 651.12,473.38 652.56,473.4 654,473.41 655.44,473.43 656.88,473.44 658.32,473.46 659.76,473.47 661.2,473.48 662.64,473.49 664.08,473.5 665.52,473.51 666.96,473.51 668.4,473.52 669.84,473.53 671.28,473.53 672.72,473.53 674.16,473.53 675.6,473.53" fill="none" stroke="#000080" stroke-width="1.25" stroke-linejoin="round" />
<path d="M386.06,348.42 L391.35,345.48 L391.35,351.35 Z" fill="#000080"/>
<path d="M392.89,347.88 L398.17,344.94 L398.17,350.82 Z" fill="#000080"/>
<path d="M399.71,347.68 L405,344.75 L405,350.62 Z" fill="#000080"/>
<path d="M406.53,347.65 L411.82,344.72 L411.82,350.59 Z" fill="#000080"/>
<path d="M413.36,348.35 L418.65,345.41 L418.65,351.29 Z" fill="#000080"/>
<path d="M420.18,350.07 L425.47,347.13 L425.47,353 Z" fill="#000080"/>
<path d="M427.01,352.23 L432.29,349.29 L432.29,355.17 Z" fill="#000080"/>
<path d="M433.83,355.31 L439.12,352.37 L439.12,358.25 Z" fill="#000080"/>
<path d="M440.65,359.55 L445.94,356.61 L445.94,362.49 Z" fill="#000080"/>
<path d="M447.48,364.06 L452.76,361.12 L452.76,366.99 Z" fill="#000080"/>
<path d="M454.3,368.58 L459.59,365.64 L459.59,371.52 Z" fill="#000080"/>
<path d="M461.12,373.43 L466.41,370.49 L466.41,376.37 Z" fill="#000080"/>
<path d="M467.95,378.55 L473.24,375.61 L473.24,381.49 Z" fill="#000080"/>
<path d="M474.77,384.02 L480.06,381.08 L480.06,386.96 Z" fill="#000080"/>
<path d="M481.6,389.81 L486.88,386.87 L486.88,392.74 Z" fill="#000080"/>
<path d="M488.42,395.72 L493.71,392.78 L493.71,398.66 Z" fill="#000080"/>
<path d="M495.24,401.73 L500.53,398.8 L500.53,404.67 Z" fill="#000080"/>
<path d="M502.07,407.88 L507.35,404.94 L507.35,410.82 Z" fill="#000080"/>
<path d="M508.89,414.03 L514.18,411.09 L514.18,416.97 Z" fill="#000080"/>
<path d="M515.71,420.25 L521,417.32 L521,423.19 Z" fill="#000080"/>
<path d="M522.54,426.48 L527.83,423.54 L527.83,429.42 Z" fill="#000080"/>
<path d="M529.36,432.34 L534.65,429.4 L534.65,435.27 Z" fill="#000080"/>
<path d="M536.19,437.69 L541.47,434.75 L541.47,440.63 Z" fill="#000080"/>
<path d="M543.01,442.73 L548.3,439.79 L548.3,445.67 Z" fill="#000080"/>
<path d="M549.83,447.6 L555.12,444.66 L555.12,450.53 Z" fill="#000080"/>
<path d="M556.66,452.5 L561.95,449.57 L561.95,455.44 Z" fill="#000080"/>
<path d="M563.48,457.25 L568.77,454.31 L568.77,460.19 Z" fill="#000080"/>
<path d="M570.31,461.33 L575.59,458.39 L575.59,464.27 Z" fill="#000080"/>
<path d="M577.13,464.92 L582.42,461.98 L582.42,467.86 Z" fill="#000080"/>
<path d="M583.95,468.08 L589.24,465.14 L589.24,471.02 Z" fill="#000080"/>
<path d="M590.78,470.1 L596.06,467.16 L596.06,473.04 Z" fill="#000080"/>
<path d="M597.6,471.15 L602.89,468.21 L602.89,474.09 Z" fill="#000080"/>
<path d="M604.42,471.9 L609.71,468.96 L609.71,474.83 Z" fill="#000080"/>
<path d="M611.25,472.39 L616.54,469.45 L616.54,475.33 Z" fill="#000080"/>
<path d="M618.07,472.73 L623.36,469.8 L623.36,475.67 Z" fill="#000080"/>
<path d="M624.9,472.99 L630.18,470.05 L630.18,475.93 Z" fill="#000080"/>
<path d="M631.72,473.15 L637.01,470.22 L637.01,476.09 Z" fill="#000080"/>
<path d="M638.54,473.26 L643.83,470.32 L643.83,476.19 Z" fill="#000080"/>
<path d="M645.37,473.35 L650.65,470.41 L650.65,476.29 Z" fill="#000080"/>
<path d="M652.19,473.43 L657.48,470.49 L657.48,476.36 Z" fill="#000080"/>
<path d="M659.01,473.48 L664.3,470.55 L664.3,476.42 Z" fill="#000080"/>
<path d="M665.84,473.52 L671.13,470.58 L671.13,476.46 Z" fill="#000080"/>
<path d="M672.66,473.53 L677.95,470.6 L677.95,476.47 Z" fill="#000080"/>
<rect x="389.0" y="280.9" width="286.6" height="209.8" fill="none" stroke="#3a3a3a" stroke-width="1.1"/>
<line x1="384.6" y1="490.7" x2="389" y2="490.7" stroke="#3a3a3a" stroke-width="1.1" />
<text x="381" y="494.3" font-size="11" text-anchor="end" font-family='"Liberation Serif", serif' fill="#000" >1</text>
<line x1="386.6" y1="471.63" x2="389" y2="471.63" stroke="#3a3a3a" stroke-width="1.1" />
<line x1="384.6" y1="452.55" x2="389" y2="452.55" stroke="#3a3a3a" stroke-width="1.1" />
<text x="381" y="456.15" font-size="11" text-anchor="end" font-family='"Liberation Serif", serif' fill="#000" >2</text>
<line x1="386.6" y1="433.48" x2="389" y2="433.48" stroke="#3a3a3a" stroke-width="1.1" />
<line x1="384.6" y1="414.41" x2="389" y2="414.41" stroke="#3a3a3a" stroke-width="1.1" />
<text x="381" y="418.01" font-size="11" text-anchor="end" font-family='"Liberation Serif", serif' fill="#000" >3</text>
<line x1="386.6" y1="395.34" x2="389" y2="395.34" stroke="#3a3a3a" stroke-width="1.1" />
<line x1="384.6" y1="376.26" x2="389" y2="376.26" stroke="#3a3a3a" stroke-width="1.1" />
<text x="381" y="379.86" font-size="11" text-anchor="end" font-family='"Liberation Serif", serif' fill="#000" >4</text>
<line x1="386.6" y1="357.19" x2="389" y2="357.19" stroke="#3a3a3a" stroke-width="1.1" />
<line x1="384.6" y1="338.12" x2="389" y2="338.12" stroke="#3a3a3a" stroke-width="1.1" />
<text x="381" y="341.72" font-size="11" text-anchor="end" font-family='"Liberation Serif", serif' fill="#000" >5</text>
<line x1="386.6" y1="319.05" x2="389" y2="319.05" stroke="#3a3a3a" stroke-width="1.1" />
<line x1="384.6" y1="299.97" x2="389" y2="299.97" stroke="#3a3a3a" stroke-width="1.1" />
<text x="381" y="303.57" font-size="11" text-anchor="end" font-family='"Liberation Serif", serif' fill="#000" >6</text>
<line x1="389" y1="490.7" x2="389" y2="495.1" stroke="#3a3a3a" stroke-width="1.1" />
<text x="389" y="506.6" font-size="11" text-anchor="middle" font-family='"Liberation Serif", serif' fill="#000" >-2</text>
<line x1="409.47" y1="490.7" x2="409.47" y2="493.1" stroke="#3a3a3a" stroke-width="1.1" />
<line x1="429.94" y1="490.7" x2="429.94" y2="495.1" stroke="#3a3a3a" stroke-width="1.1" />
<text x="429.94" y="506.6" font-size="11" text-anchor="middle" font-family='"Liberation Serif", serif' fill="#000" >-1</text>
<line x1="450.41" y1="490.7" x2="450.41" y2="493.1" stroke="#3a3a3a" stroke-width="1.1" />
<line x1="470.89" y1="490.7" x2="470.89" y2="495.1" stroke="#3a3a3a" stroke-width="1.1" />
<text x="470.89" y="506.6" font-size="11" text-anchor="middle" font-family='"Liberation Serif", serif' fill="#000" >0</text>
<line x1="491.36" y1="490.7" x2="491.36" y2="493.1" stroke="#3a3a3a" stroke-width="1.1" />
<line x1="511.83" y1="490.7" x2="511.83" y2="495.1" stroke="#3a3a3a" stroke-width="1.1" />
<text x="511.83" y="506.6" font-size="11" text-anchor="middle" font-family='"Liberation Serif", serif' fill="#000" >1</text>
<line x1="532.3" y1="490.7" x2="532.3" y2="493.1" stroke="#3a3a3a" stroke-width="1.1" />
<line x1="552.77" y1="490.7" x2="552.77" y2="495.1" stroke="#3a3a3a" stroke-width="1.1" />
<text x="552.77" y="506.6" font-size="11" text-anchor="middle" font-family='"Liberation Serif", serif' fill="#000" >2</text>
<line x1="573.24" y1="490.7" x2="573.24" y2="493.1" stroke="#3a3a3a" stroke-width="1.1" />
<line x1="593.71" y1="490.7" x2="593.71" y2="495.1" stroke="#3a3a3a" stroke-width="1.1" />
<text x="593.71" y="506.6" font-size="11" text-anchor="middle" font-family='"Liberation Serif", serif' fill="#000" >3</text>
<line x1="614.19" y1="490.7" x2="614.19" y2="493.1" stroke="#3a3a3a" stroke-width="1.1" />
<line x1="634.66" y1="490.7" x2="634.66" y2="495.1" stroke="#3a3a3a" stroke-width="1.1" />
<text x="634.66" y="506.6" font-size="11" text-anchor="middle" font-family='"Liberation Serif", serif' fill="#000" >4</text>
<line x1="655.13" y1="490.7" x2="655.13" y2="493.1" stroke="#3a3a3a" stroke-width="1.1" />
<line x1="675.6" y1="490.7" x2="675.6" y2="495.1" stroke="#3a3a3a" stroke-width="1.1" />
<text x="675.6" y="506.6" font-size="11" text-anchor="middle" font-family='"Liberation Serif", serif' fill="#000" >5</text>
<text x="529.6" y="523.2" font-size="14.5" text-anchor="middle" font-family='"Liberation Serif", serif' fill="#000" >log(f/Hz)</text>
<text transform="translate(368.6,373.0) rotate(-90)" font-size="14.5" text-anchor="middle" font-family='"Liberation Serif", serif'>log (|Z|/&#937;&#183;cm<tspan dy="-0.677em" font-size="62%">2</tspan><tspan dy="0.420em" font-size="100%">&#8203;</tspan>)</text>
<line x1="564.2" y1="290" x2="590.2" y2="290" stroke="#000" stroke-width="1.3" />
<rect x="574.8" y="288" width="4" height="4" fill="#000"/>
<text x="592.7" y="293.9" font-size="11.4" text-anchor="start" font-family='"Liberation Serif", serif' fill="#000" >CED (8A/dm<tspan dy="-0.677em" font-size="62%">2</tspan><tspan dy="0.420em" font-size="100%">&#8203;</tspan>)</text>
<line x1="564.2" y1="305.76" x2="590.2" y2="305.76" stroke="#ff0000" stroke-width="1.3" />
<circle cx="576.8" cy="305.76" r="2.59" fill="#ff0000"/>
<text x="592.7" y="309.66" font-size="11.4" text-anchor="start" font-family='"Liberation Serif", serif' fill="#000" >JED (180A/dm<tspan dy="-0.677em" font-size="62%">2</tspan><tspan dy="0.420em" font-size="100%">&#8203;</tspan>)</text>
<line x1="564.2" y1="321.52" x2="590.2" y2="321.52" stroke="#0000ff" stroke-width="1.3" />
<path d="M576.8,318.52 L579.8,323.92 L573.8,323.92 Z" fill="#0000ff"/>
<text x="592.7" y="325.42" font-size="11.4" text-anchor="start" font-family='"Liberation Serif", serif' fill="#000" >JED (190A/dm<tspan dy="-0.677em" font-size="62%">2</tspan><tspan dy="0.420em" font-size="100%">&#8203;</tspan>)</text>
<line x1="564.2" y1="337.28" x2="590.2" y2="337.28" stroke="#ff00ff" stroke-width="1.3" />
<path d="M576.8,340.28 L579.8,334.88 L573.8,334.88 Z" fill="#ff00ff"/>
<text x="592.7" y="341.18" font-size="11.4" text-anchor="start" font-family='"Liberation Serif", serif' fill="#000" >JED (200A/dm<tspan dy="-0.677em" font-size="62%">2</tspan><tspan dy="0.420em" font-size="100%">&#8203;</tspan>)</text>
<line x1="564.2" y1="353.04" x2="590.2" y2="353.04" stroke="#008000" stroke-width="1.3" />
<path d="M576.8,349.8 L580.04,353.04 L576.8,356.28 L573.56,353.04 Z" fill="#008000"/>
<text x="592.7" y="356.94" font-size="11.4" text-anchor="start" font-family='"Liberation Serif", serif' fill="#000" >JED (210A/dm<tspan dy="-0.677em" font-size="62%">2</tspan><tspan dy="0.420em" font-size="100%">&#8203;</tspan>)</text>
<line x1="564.2" y1="368.8" x2="590.2" y2="368.8" stroke="#000080" stroke-width="1.3" />
<path d="M573.8,368.8 L579.2,365.8 L579.2,371.8 Z" fill="#000080"/>
<text x="592.7" y="372.7" font-size="11.4" text-anchor="start" font-family='"Liberation Serif", serif' fill="#000" >JED (220A/dm<tspan dy="-0.677em" font-size="62%">2</tspan><tspan dy="0.420em" font-size="100%">&#8203;</tspan>)</text>
<clipPath id="clipD"><rect x="47.7" y="543.7" width="301.9" height="215.9"/></clipPath>
<g clip-path="url(#clipD)">
<rect x="49.4" y="711.62" width="4.6" height="4.6" fill="#000"/>
<rect x="52.9" y="706.08" width="4.6" height="4.6" fill="#000"/>
<rect x="56.4" y="700.89" width="4.6" height="4.6" fill="#000"/>
<rect x="59.9" y="696.09" width="4.6" height="4.6" fill="#000"/>
<rect x="63.4" y="691.73" width="4.6" height="4.6" fill="#000"/>
<rect x="66.89" y="687.68" width="4.6" height="4.6" fill="#000"/>
<rect x="70.39" y="683.76" width="4.6" height="4.6" fill="#000"/>
<rect x="73.89" y="679.9" width="4.6" height="4.6" fill="#000"/>
<rect x="77.39" y="676.15" width="4.6" height="4.6" fill="#000"/>
<rect x="80.89" y="672.56" width="4.6" height="4.6" fill="#000"/>
<rect x="84.39" y="668.99" width="4.6" height="4.6" fill="#000"/>
<rect x="87.89" y="665.56" width="4.6" height="4.6" fill="#000"/>
<rect x="91.39" y="662.63" width="4.6" height="4.6" fill="#000"/>
<rect x="94.88" y="660.15" width="4.6" height="4.6" fill="#000"/>
<rect x="98.38" y="657.98" width="4.6" height="4.6" fill="#000"/>
<rect x="101.88" y="656.39" width="4.6" height="4.6" fill="#000"/>
<rect x="105.38" y="655.23" width="4.6" height="4.6" fill="#000"/>
<rect x="108.88" y="654.3" width="4.6" height="4.6" fill="#000"/>
<rect x="112.38" y="653.83" width="4.6" height="4.6" fill="#000"/>
<rect x="115.88" y="653.66" width="4.6" height="4.6" fill="#000"/>
<rect x="119.38" y="653.55" width="4.6" height="4.6" fill="#000"/>
<rect x="122.87" y="653.51" width="4.6" height="4.6" fill="#000"/>
<rect x="126.37" y="653.66" width="4.6" height="4.6" fill="#000"/>
<rect x="129.87" y="654.07" width="4.6" height="4.6" fill="#000"/>
<rect x="133.37" y="654.63" width="4.6" height="4.6" fill="#000"/>
<rect x="136.87" y="655.6" width="4.6" height="4.6" fill="#000"/>
<rect x="140.37" y="657.1" width="4.6" height="4.6" fill="#000"/>
<rect x="143.87" y="658.79" width="4.6" height="4.6" fill="#000"/>
<rect x="147.37" y="660.64" width="4.6" height="4.6" fill="#000"/>
<rect x="150.87" y="662.77" width="4.6" height="4.6" fill="#000"/>
<rect x="154.36" y="665.03" width="4.6" height="4.6" fill="#000"/>
<rect x="157.86" y="667.42" width="4.6" height="4.6" fill="#000"/>
<rect x="161.36" y="669.96" width="4.6" height="4.6" fill="#000"/>
<rect x="164.86" y="672.56" width="4.6" height="4.6" fill="#000"/>
<rect x="168.36" y="675.16" width="4.6" height="4.6" fill="#000"/>
<rect x="171.86" y="677.81" width="4.6" height="4.6" fill="#000"/>
<rect x="175.36" y="680.56" width="4.6" height="4.6" fill="#000"/>
<rect x="178.86" y="683.5" width="4.6" height="4.6" fill="#000"/>
<rect x="182.35" y="686.55" width="4.6" height="4.6" fill="#000"/>
<rect x="185.85" y="689.53" width="4.6" height="4.6" fill="#000"/>
<rect x="189.35" y="692.35" width="4.6" height="4.6" fill="#000"/>
<rect x="192.85" y="695.1" width="4.6" height="4.6" fill="#000"/>
<rect x="196.35" y="697.85" width="4.6" height="4.6" fill="#000"/>
<rect x="199.85" y="700.68" width="4.6" height="4.6" fill="#000"/>
<rect x="203.35" y="703.51" width="4.6" height="4.6" fill="#000"/>
<rect x="206.85" y="706.18" width="4.6" height="4.6" fill="#000"/>
<rect x="210.35" y="708.62" width="4.6" height="4.6" fill="#000"/>
<rect x="213.84" y="710.93" width="4.6" height="4.6" fill="#000"/>
<rect x="217.34" y="713.22" width="4.6" height="4.6" fill="#000"/>
<rect x="220.84" y="715.59" width="4.6" height="4.6" fill="#000"/>
<rect x="224.34" y="717.94" width="4.6" height="4.6" fill="#000"/>
<rect x="227.84" y="720.11" width="4.6" height="4.6" fill="#000"/>
<rect x="231.34" y="722.06" width="4.6" height="4.6" fill="#000"/>
<rect x="234.84" y="723.88" width="4.6" height="4.6" fill="#000"/>
<rect x="238.34" y="725.55" width="4.6" height="4.6" fill="#000"/>
<rect x="241.83" y="727.12" width="4.6" height="4.6" fill="#000"/>
<rect x="245.33" y="728.58" width="4.6" height="4.6" fill="#000"/>
<rect x="248.83" y="729.87" width="4.6" height="4.6" fill="#000"/>
<rect x="252.33" y="730.97" width="4.6" height="4.6" fill="#000"/>
<rect x="255.83" y="731.95" width="4.6" height="4.6" fill="#000"/>
<rect x="259.33" y="732.91" width="4.6" height="4.6" fill="#000"/>
<rect x="262.83" y="733.92" width="4.6" height="4.6" fill="#000"/>
<rect x="266.33" y="734.91" width="4.6" height="4.6" fill="#000"/>
<rect x="269.82" y="735.8" width="4.6" height="4.6" fill="#000"/>
<rect x="273.32" y="736.54" width="4.6" height="4.6" fill="#000"/>
<rect x="276.82" y="737.21" width="4.6" height="4.6" fill="#000"/>
<rect x="280.32" y="737.88" width="4.6" height="4.6" fill="#000"/>
<rect x="283.82" y="738.58" width="4.6" height="4.6" fill="#000"/>
<rect x="287.32" y="739.29" width="4.6" height="4.6" fill="#000"/>
<rect x="290.82" y="739.96" width="4.6" height="4.6" fill="#000"/>
<rect x="294.32" y="740.57" width="4.6" height="4.6" fill="#000"/>
<rect x="297.82" y="741.16" width="4.6" height="4.6" fill="#000"/>
<rect x="301.31" y="741.72" width="4.6" height="4.6" fill="#000"/>
<rect x="304.81" y="742.25" width="4.6" height="4.6" fill="#000"/>
<rect x="308.31" y="742.76" width="4.6" height="4.6" fill="#000"/>
<rect x="311.81" y="743.32" width="4.6" height="4.6" fill="#000"/>
<rect x="315.31" y="743.95" width="4.6" height="4.6" fill="#000"/>
<rect x="318.81" y="744.63" width="4.6" height="4.6" fill="#000"/>
<rect x="322.31" y="745.4" width="4.6" height="4.6" fill="#000"/>
<rect x="325.81" y="746.29" width="4.6" height="4.6" fill="#000"/>
<rect x="329.3" y="747.31" width="4.6" height="4.6" fill="#000"/>
<rect x="332.8" y="748.44" width="4.6" height="4.6" fill="#000"/>
<rect x="336.3" y="749.73" width="4.6" height="4.6" fill="#000"/>
<rect x="339.8" y="751.18" width="4.6" height="4.6" fill="#000"/>
<rect x="343.3" y="752.77" width="4.6" height="4.6" fill="#000"/>
<circle cx="51.7" cy="713.44" r="2.65" fill="#ff0000"/>
<circle cx="55.2" cy="711.66" r="2.65" fill="#ff0000"/>
<circle cx="58.7" cy="709.85" r="2.65" fill="#ff0000"/>
<circle cx="62.2" cy="708" r="2.65" fill="#ff0000"/>
<circle cx="65.7" cy="706.11" r="2.65" fill="#ff0000"/>
<circle cx="69.19" cy="704.19" r="2.65" fill="#ff0000"/>
<circle cx="72.69" cy="702.23" r="2.65" fill="#ff0000"/>
<circle cx="76.19" cy="700.24" r="2.65" fill="#ff0000"/>
<circle cx="79.69" cy="698.21" r="2.65" fill="#ff0000"/>
<circle cx="83.19" cy="696.15" r="2.65" fill="#ff0000"/>
<circle cx="86.69" cy="694.06" r="2.65" fill="#ff0000"/>
<circle cx="90.19" cy="691.93" r="2.65" fill="#ff0000"/>
<circle cx="93.69" cy="689.75" r="2.65" fill="#ff0000"/>
<circle cx="97.18" cy="687.48" r="2.65" fill="#ff0000"/>
<circle cx="100.68" cy="685.16" r="2.65" fill="#ff0000"/>
<circle cx="104.18" cy="682.86" r="2.65" fill="#ff0000"/>
<circle cx="107.68" cy="680.62" r="2.65" fill="#ff0000"/>
<circle cx="111.18" cy="678.4" r="2.65" fill="#ff0000"/>
<circle cx="114.68" cy="676.14" r="2.65" fill="#ff0000"/>
<circle cx="118.18" cy="673.8" r="2.65" fill="#ff0000"/>
<circle cx="121.68" cy="671.43" r="2.65" fill="#ff0000"/>
<circle cx="125.17" cy="669.09" r="2.65" fill="#ff0000"/>
<circle cx="128.67" cy="666.73" r="2.65" fill="#ff0000"/>
<circle cx="132.17" cy="664.4" r="2.65" fill="#ff0000"/>
<circle cx="135.67" cy="662.37" r="2.65" fill="#ff0000"/>
<circle cx="139.17" cy="660.7" r="2.65" fill="#ff0000"/>
<circle cx="142.67" cy="659.23" r="2.65" fill="#ff0000"/>
<circle cx="146.17" cy="657.89" r="2.65" fill="#ff0000"/>
<circle cx="149.67" cy="656.63" r="2.65" fill="#ff0000"/>
<circle cx="153.17" cy="655.47" r="2.65" fill="#ff0000"/>
<circle cx="156.66" cy="654.36" r="2.65" fill="#ff0000"/>
<circle cx="160.16" cy="653.3" r="2.65" fill="#ff0000"/>
<circle cx="163.66" cy="652.28" r="2.65" fill="#ff0000"/>
<circle cx="167.16" cy="651.32" r="2.65" fill="#ff0000"/>
<circle cx="170.66" cy="650.37" r="2.65" fill="#ff0000"/>
<circle cx="174.16" cy="649.47" r="2.65" fill="#ff0000"/>
<circle cx="177.66" cy="648.76" r="2.65" fill="#ff0000"/>
<circle cx="181.16" cy="648.18" r="2.65" fill="#ff0000"/>
<circle cx="184.65" cy="647.69" r="2.65" fill="#ff0000"/>
<circle cx="188.15" cy="647.48" r="2.65" fill="#ff0000"/>
<circle cx="191.65" cy="647.54" r="2.65" fill="#ff0000"/>
<circle cx="195.15" cy="647.71" r="2.65" fill="#ff0000"/>
<circle cx="198.65" cy="647.96" r="2.65" fill="#ff0000"/>
<circle cx="202.15" cy="648.65" r="2.65" fill="#ff0000"/>
<circle cx="205.65" cy="649.93" r="2.65" fill="#ff0000"/>
<circle cx="209.15" cy="651.48" r="2.65" fill="#ff0000"/>
<circle cx="212.65" cy="653.41" r="2.65" fill="#ff0000"/>
<circle cx="216.14" cy="655.88" r="2.65" fill="#ff0000"/>
<circle cx="219.64" cy="658.69" r="2.65" fill="#ff0000"/>
<circle cx="223.14" cy="661.87" r="2.65" fill="#ff0000"/>
<circle cx="226.64" cy="665.58" r="2.65" fill="#ff0000"/>
<circle cx="230.14" cy="669.73" r="2.65" fill="#ff0000"/>
<circle cx="233.64" cy="674.68" r="2.65" fill="#ff0000"/>
<circle cx="237.14" cy="680.28" r="2.65" fill="#ff0000"/>
<circle cx="240.64" cy="685.74" r="2.65" fill="#ff0000"/>
<circle cx="244.13" cy="690.88" r="2.65" fill="#ff0000"/>
<circle cx="247.63" cy="695.89" r="2.65" fill="#ff0000"/>
<circle cx="251.13" cy="700.63" r="2.65" fill="#ff0000"/>
<circle cx="254.63" cy="705.02" r="2.65" fill="#ff0000"/>
<circle cx="258.13" cy="709.18" r="2.65" fill="#ff0000"/>
<circle cx="261.63" cy="713.28" r="2.65" fill="#ff0000"/>
<circle cx="265.13" cy="717.52" r="2.65" fill="#ff0000"/>
<circle cx="268.63" cy="721.72" r="2.65" fill="#ff0000"/>
<circle cx="272.12" cy="725.45" r="2.65" fill="#ff0000"/>
<circle cx="275.62" cy="728.75" r="2.65" fill="#ff0000"/>
<circle cx="279.12" cy="731.73" r="2.65" fill="#ff0000"/>
<circle cx="282.62" cy="734.09" r="2.65" fill="#ff0000"/>
<circle cx="286.12" cy="735.87" r="2.65" fill="#ff0000"/>
<circle cx="289.62" cy="737.33" r="2.65" fill="#ff0000"/>
<circle cx="293.12" cy="738.58" r="2.65" fill="#ff0000"/>
<circle cx="296.62" cy="739.67" r="2.65" fill="#ff0000"/>
<circle cx="300.12" cy="740.63" r="2.65" fill="#ff0000"/>
<circle cx="303.61" cy="741.46" r="2.65" fill="#ff0000"/>
<circle cx="307.11" cy="742.16" r="2.65" fill="#ff0000"/>
<circle cx="310.61" cy="742.78" r="2.65" fill="#ff0000"/>
<circle cx="314.11" cy="743.38" r="2.65" fill="#ff0000"/>
<circle cx="317.61" cy="743.94" r="2.65" fill="#ff0000"/>
<circle cx="321.11" cy="744.48" r="2.65" fill="#ff0000"/>
<circle cx="324.61" cy="745.14" r="2.65" fill="#ff0000"/>
<circle cx="328.11" cy="746.05" r="2.65" fill="#ff0000"/>
<circle cx="331.6" cy="747.19" r="2.65" fill="#ff0000"/>
<circle cx="335.1" cy="748.5" r="2.65" fill="#ff0000"/>
<circle cx="338.6" cy="750.02" r="2.65" fill="#ff0000"/>
<circle cx="342.1" cy="751.8" r="2.65" fill="#ff0000"/>
<circle cx="345.6" cy="753.79" r="2.65" fill="#ff0000"/>
<path d="M51.7,731.51 L54.76,737.02 L48.64,737.02 Z" fill="#00ff00"/>
<path d="M55.2,729.2 L58.26,734.71 L52.14,734.71 Z" fill="#00ff00"/>
<path d="M58.7,726.79 L61.76,732.31 L55.64,732.31 Z" fill="#00ff00"/>
<path d="M62.2,724.31 L65.26,729.82 L59.13,729.82 Z" fill="#00ff00"/>
<path d="M65.7,721.7 L68.76,727.21 L62.63,727.21 Z" fill="#00ff00"/>
<path d="M69.19,719 L72.26,724.51 L66.13,724.51 Z" fill="#00ff00"/>
<path d="M72.69,716.3 L75.76,721.81 L69.63,721.81 Z" fill="#00ff00"/>
<path d="M76.19,713.65 L79.25,719.16 L73.13,719.16 Z" fill="#00ff00"/>
<path d="M79.69,710.99 L82.75,716.5 L76.63,716.5 Z" fill="#00ff00"/>
<path d="M83.19,708.3 L86.25,713.81 L80.13,713.81 Z" fill="#00ff00"/>
<path d="M86.69,705.57 L89.75,711.08 L83.63,711.08 Z" fill="#00ff00"/>
<path d="M90.19,702.8 L93.25,708.32 L87.12,708.32 Z" fill="#00ff00"/>
<path d="M93.69,699.97 L96.75,705.48 L90.62,705.48 Z" fill="#00ff00"/>
<path d="M97.18,697.08 L100.25,702.59 L94.12,702.59 Z" fill="#00ff00"/>
<path d="M100.68,694.11 L103.75,699.62 L97.62,699.62 Z" fill="#00ff00"/>
<path d="M104.18,691.01 L107.24,696.52 L101.12,696.52 Z" fill="#00ff00"/>
<path d="M107.68,687.79 L110.74,693.3 L104.62,693.3 Z" fill="#00ff00"/>
<path d="M111.18,684.41 L114.24,689.93 L108.12,689.93 Z" fill="#00ff00"/>
<path d="M114.68,680.76 L117.74,686.27 L111.62,686.27 Z" fill="#00ff00"/>
<path d="M118.18,676.65 L121.24,682.16 L115.11,682.16 Z" fill="#00ff00"/>
<path d="M121.68,672.17 L124.74,677.69 L118.61,677.69 Z" fill="#00ff00"/>
<path d="M125.17,667.63 L128.24,673.14 L122.11,673.14 Z" fill="#00ff00"/>
<path d="M128.67,663.04 L131.74,668.55 L125.61,668.55 Z" fill="#00ff00"/>
<path d="M132.17,658.38 L135.24,663.89 L129.11,663.89 Z" fill="#00ff00"/>
<path d="M135.67,653.86 L138.73,659.38 L132.61,659.38 Z" fill="#00ff00"/>
<path d="M139.17,649.46 L142.23,654.97 L136.11,654.97 Z" fill="#00ff00"/>
<path d="M142.67,645.19 L145.73,650.7 L139.61,650.7 Z" fill="#00ff00"/>
<path d="M146.17,641.38 L149.23,646.89 L143.11,646.89 Z" fill="#00ff00"/>
<path d="M149.67,637.99 L152.73,643.5 L146.6,643.5 Z" fill="#00ff00"/>
<path d="M153.17,634.93 L156.23,640.44 L150.1,640.44 Z" fill="#00ff00"/>
<path d="M156.66,632.41 L159.73,637.92 L153.6,637.92 Z" fill="#00ff00"/>
<path d="M160.16,630.37 L163.23,635.88 L157.1,635.88 Z" fill="#00ff00"/>
<path d="M163.66,628.64 L166.72,634.15 L160.6,634.15 Z" fill="#00ff00"/>
<path d="M167.16,627.29 L170.22,632.8 L164.1,632.8 Z" fill="#00ff00"/>
<path d="M170.66,626.22 L173.72,631.73 L167.6,631.73 Z" fill="#00ff00"/>
<path d="M174.16,625.34 L177.22,630.86 L171.1,630.86 Z" fill="#00ff00"/>
<path d="M177.66,624.73 L180.72,630.24 L174.59,630.24 Z" fill="#00ff00"/>
<path d="M181.16,624.27 L184.22,629.78 L178.09,629.78 Z" fill="#00ff00"/>
<path d="M184.65,623.91 L187.72,629.42 L181.59,629.42 Z" fill="#00ff00"/>
<path d="M188.15,623.76 L191.22,629.28 L185.09,629.28 Z" fill="#00ff00"/>
<path d="M191.65,623.91 L194.71,629.42 L188.59,629.42 Z" fill="#00ff00"/>
<path d="M195.15,624.26 L198.21,629.78 L192.09,629.78 Z" fill="#00ff00"/>
<path d="M198.65,624.73 L201.71,630.24 L195.59,630.24 Z" fill="#00ff00"/>
<path d="M202.15,625.4 L205.21,630.91 L199.09,630.91 Z" fill="#00ff00"/>
<path d="M205.65,626.4 L208.71,631.91 L202.59,631.91 Z" fill="#00ff00"/>
<path d="M209.15,627.61 L212.21,633.12 L206.08,633.12 Z" fill="#00ff00"/>
<path d="M212.65,629.11 L215.71,634.62 L209.58,634.62 Z" fill="#00ff00"/>
<path d="M216.14,631.04 L219.21,636.55 L213.08,636.55 Z" fill="#00ff00"/>
<path d="M219.64,633.37 L222.71,638.88 L216.58,638.88 Z" fill="#00ff00"/>
<path d="M223.14,636.36 L226.2,641.87 L220.08,641.87 Z" fill="#00ff00"/>
<path d="M226.64,640.12 L229.7,645.63 L223.58,645.63 Z" fill="#00ff00"/>
<path d="M230.14,644.42 L233.2,649.93 L227.08,649.93 Z" fill="#00ff00"/>
<path d="M233.64,649.49 L236.7,655.01 L230.58,655.01 Z" fill="#00ff00"/>
<path d="M237.14,655.42 L240.2,660.93 L234.07,660.93 Z" fill="#00ff00"/>
<path d="M240.64,661.71 L243.7,667.22 L237.57,667.22 Z" fill="#00ff00"/>
<path d="M244.13,668.54 L247.2,674.06 L241.07,674.06 Z" fill="#00ff00"/>
<path d="M247.63,675.83 L250.7,681.34 L244.57,681.34 Z" fill="#00ff00"/>
<path d="M251.13,682.68 L254.19,688.19 L248.07,688.19 Z" fill="#00ff00"/>
<path d="M254.63,688.9 L257.69,694.41 L251.57,694.41 Z" fill="#00ff00"/>
<path d="M258.13,694.75 L261.19,700.27 L255.07,700.27 Z" fill="#00ff00"/>
<path d="M261.63,700.13 L264.69,705.64 L258.57,705.64 Z" fill="#00ff00"/>
<path d="M265.13,705.02 L268.19,710.54 L262.06,710.54 Z" fill="#00ff00"/>
<path d="M268.63,709.54 L271.69,715.05 L265.56,715.05 Z" fill="#00ff00"/>
<path d="M272.12,713.74 L275.19,719.25 L269.06,719.25 Z" fill="#00ff00"/>
<path d="M275.62,717.78 L278.69,723.3 L272.56,723.3 Z" fill="#00ff00"/>
<path d="M279.12,721.57 L282.19,727.08 L276.06,727.08 Z" fill="#00ff00"/>
<path d="M282.62,724.79 L285.68,730.3 L279.56,730.3 Z" fill="#00ff00"/>
<path d="M286.12,727.44 L289.18,732.95 L283.06,732.95 Z" fill="#00ff00"/>
<path d="M289.62,729.73 L292.68,735.24 L286.56,735.24 Z" fill="#00ff00"/>
<path d="M293.12,731.67 L296.18,737.18 L290.06,737.18 Z" fill="#00ff00"/>
<path d="M296.62,733.37 L299.68,738.88 L293.55,738.88 Z" fill="#00ff00"/>
<path d="M300.12,734.85 L303.18,740.36 L297.05,740.36 Z" fill="#00ff00"/>
<path d="M303.61,735.99 L306.68,741.51 L300.55,741.51 Z" fill="#00ff00"/>
<path d="M307.11,736.82 L310.18,742.33 L304.05,742.33 Z" fill="#00ff00"/>
<path d="M310.61,737.48 L313.67,742.99 L307.55,742.99 Z" fill="#00ff00"/>
<path d="M314.11,738.08 L317.17,743.59 L311.05,743.59 Z" fill="#00ff00"/>
<path d="M317.61,738.6 L320.67,744.11 L314.55,744.11 Z" fill="#00ff00"/>
<path d="M321.11,739.07 L324.17,744.58 L318.05,744.58 Z" fill="#00ff00"/>
<path d="M324.61,739.68 L327.67,745.19 L321.54,745.19 Z" fill="#00ff00"/>
<path d="M328.11,740.58 L331.17,746.09 L325.04,746.09 Z" fill="#00ff00"/>
<path d="M331.6,741.78 L334.67,747.29 L328.54,747.29 Z" fill="#00ff00"/>
<path d="M335.1,743.2 L338.17,748.71 L332.04,748.71 Z" fill="#00ff00"/>
<path d="M338.6,744.95 L341.66,750.46 L335.54,750.46 Z" fill="#00ff00"/>
<path d="M342.1,747.12 L345.16,752.63 L339.04,752.63 Z" fill="#00ff00"/>
<path d="M345.6,749.6 L348.66,755.12 L342.54,755.12 Z" fill="#00ff00"/>
<path d="M51.7,730.59 L54.76,725.08 L48.64,725.08 Z" fill="#0000ff"/>
<path d="M55.2,728.56 L58.26,723.05 L52.14,723.05 Z" fill="#0000ff"/>
<path d="M58.7,726.48 L61.76,720.97 L55.64,720.97 Z" fill="#0000ff"/>
<path d="M62.2,724.35 L65.26,718.84 L59.13,718.84 Z" fill="#0000ff"/>
<path d="M65.7,722.17 L68.76,716.65 L62.63,716.65 Z" fill="#0000ff"/>
<path d="M69.19,719.93 L72.26,714.42 L66.13,714.42 Z" fill="#0000ff"/>
<path d="M72.69,717.62 L75.76,712.11 L69.63,712.11 Z" fill="#0000ff"/>
<path d="M76.19,715.22 L79.25,709.71 L73.13,709.71 Z" fill="#0000ff"/>
<path d="M79.69,712.75 L82.75,707.24 L76.63,707.24 Z" fill="#0000ff"/>
<path d="M83.19,710.26 L86.25,704.75 L80.13,704.75 Z" fill="#0000ff"/>
<path d="M86.69,707.79 L89.75,702.27 L83.63,702.27 Z" fill="#0000ff"/>
<path d="M90.19,705.29 L93.25,699.78 L87.12,699.78 Z" fill="#0000ff"/>
<path d="M93.69,702.74 L96.75,697.22 L90.62,697.22 Z" fill="#0000ff"/>
<path d="M97.18,700.1 L100.25,694.59 L94.12,694.59 Z" fill="#0000ff"/>
<path d="M100.68,697.39 L103.75,691.88 L97.62,691.88 Z" fill="#0000ff"/>
<path d="M104.18,694.57 L107.24,689.06 L101.12,689.06 Z" fill="#0000ff"/>
<path d="M107.68,691.66 L110.74,686.15 L104.62,686.15 Z" fill="#0000ff"/>
<path d="M111.18,688.63 L114.24,683.11 L108.12,683.11 Z" fill="#0000ff"/>
<path d="M114.68,685.28 L117.74,679.77 L111.62,679.77 Z" fill="#0000ff"/>
<path d="M118.18,681.43 L121.24,675.92 L115.11,675.92 Z" fill="#0000ff"/>
<path d="M121.68,677.17 L124.74,671.66 L118.61,671.66 Z" fill="#0000ff"/>
<path d="M125.17,672.8 L128.24,667.28 L122.11,667.28 Z" fill="#0000ff"/>
<path d="M128.67,668.3 L131.74,662.78 L125.61,662.78 Z" fill="#0000ff"/>
<path d="M132.17,663.67 L135.24,658.16 L129.11,658.16 Z" fill="#0000ff"/>
<path d="M135.67,659.19 L138.73,653.68 L132.61,653.68 Z" fill="#0000ff"/>
<path d="M139.17,654.84 L142.23,649.32 L136.11,649.32 Z" fill="#0000ff"/>
<path d="M142.67,650.62 L145.73,645.11 L139.61,645.11 Z" fill="#0000ff"/>
<path d="M146.17,646.86 L149.23,641.35 L143.11,641.35 Z" fill="#0000ff"/>
<path d="M149.67,643.53 L152.73,638.01 L146.6,638.01 Z" fill="#0000ff"/>
<path d="M153.17,640.52 L156.23,635 L150.1,635 Z" fill="#0000ff"/>
<path d="M156.66,638.05 L159.73,632.54 L153.6,632.54 Z" fill="#0000ff"/>
<path d="M160.16,636.07 L163.23,630.55 L157.1,630.55 Z" fill="#0000ff"/>
<path d="M163.66,634.39 L166.72,628.88 L160.6,628.88 Z" fill="#0000ff"/>
<path d="M167.16,633.09 L170.22,627.58 L164.1,627.58 Z" fill="#0000ff"/>
<path d="M170.66,632.05 L173.72,626.54 L167.6,626.54 Z" fill="#0000ff"/>
<path d="M174.16,631.19 L177.22,625.68 L171.1,625.68 Z" fill="#0000ff"/>
<path d="M177.66,630.69 L180.72,625.18 L174.59,625.18 Z" fill="#0000ff"/>
<path d="M181.16,630.45 L184.22,624.93 L178.09,624.93 Z" fill="#0000ff"/>
<path d="M184.65,630.27 L187.72,624.76 L181.59,624.76 Z" fill="#0000ff"/>
<path d="M188.15,630.21 L191.22,624.7 L185.09,624.7 Z" fill="#0000ff"/>
<path d="M191.65,630.45 L194.71,624.94 L188.59,624.94 Z" fill="#0000ff"/>
<path d="M195.15,631.05 L198.21,625.53 L192.09,625.53 Z" fill="#0000ff"/>
<path d="M198.65,631.81 L201.71,626.3 L195.59,626.3 Z" fill="#0000ff"/>
<path d="M202.15,632.92 L205.21,627.41 L199.09,627.41 Z" fill="#0000ff"/>
<path d="M205.65,634.5 L208.71,628.99 L202.59,628.99 Z" fill="#0000ff"/>
<path d="M209.15,636.29 L212.21,630.78 L206.08,630.78 Z" fill="#0000ff"/>
<path d="M212.65,638.21 L215.71,632.69 L209.58,632.69 Z" fill="#0000ff"/>
<path d="M216.14,640.44 L219.21,634.93 L213.08,634.93 Z" fill="#0000ff"/>
<path d="M219.64,643.18 L222.71,637.67 L216.58,637.67 Z" fill="#0000ff"/>
<path d="M223.14,646.84 L226.2,641.33 L220.08,641.33 Z" fill="#0000ff"/>
<path d="M226.64,651.49 L229.7,645.98 L223.58,645.98 Z" fill="#0000ff"/>
<path d="M230.14,656.79 L233.2,651.27 L227.08,651.27 Z" fill="#0000ff"/>
<path d="M233.64,663.16 L236.7,657.65 L230.58,657.65 Z" fill="#0000ff"/>
<path d="M237.14,670.52 L240.2,665.01 L234.07,665.01 Z" fill="#0000ff"/>
<path d="M240.64,677.76 L243.7,672.25 L237.57,672.25 Z" fill="#0000ff"/>
<path d="M244.13,684.68 L247.2,679.16 L241.07,679.16 Z" fill="#0000ff"/>
<path d="M247.63,691.47 L250.7,685.96 L244.57,685.96 Z" fill="#0000ff"/>
<path d="M251.13,697.61 L254.19,692.1 L248.07,692.1 Z" fill="#0000ff"/>
<path d="M254.63,702.89 L257.69,697.38 L251.57,697.38 Z" fill="#0000ff"/>
<path d="M258.13,707.68 L261.19,702.17 L255.07,702.17 Z" fill="#0000ff"/>
<path d="M261.63,712.34 L264.69,706.83 L258.57,706.83 Z" fill="#0000ff"/>
<path d="M265.13,717.18 L268.19,711.67 L262.06,711.67 Z" fill="#0000ff"/>
<path d="M268.63,721.9 L271.69,716.39 L265.56,716.39 Z" fill="#0000ff"/>
<path d="M272.12,725.95 L275.19,720.44 L269.06,720.44 Z" fill="#0000ff"/>
<path d="M275.62,729.26 L278.69,723.75 L272.56,723.75 Z" fill="#0000ff"/>
<path d="M279.12,732.15 L282.19,726.63 L276.06,726.63 Z" fill="#0000ff"/>
<path d="M282.62,734.59 L285.68,729.08 L279.56,729.08 Z" fill="#0000ff"/>
<path d="M286.12,736.7 L289.18,731.18 L283.06,731.18 Z" fill="#0000ff"/>
<path d="M289.62,738.52 L292.68,733.01 L286.56,733.01 Z" fill="#0000ff"/>
<path d="M293.12,740.04 L296.18,734.53 L290.06,734.53 Z" fill="#0000ff"/>
<path d="M296.62,741.28 L299.68,735.77 L293.55,735.77 Z" fill="#0000ff"/>
<path d="M300.12,742.34 L303.18,736.82 L297.05,736.82 Z" fill="#0000ff"/>
<path d="M303.61,743.24 L306.68,737.73 L300.55,737.73 Z" fill="#0000ff"/>
<path d="M307.11,744.01 L310.18,738.5 L304.05,738.5 Z" fill="#0000ff"/>
<path d="M310.61,744.69 L313.67,739.17 L307.55,739.17 Z" fill="#0000ff"/>
<path d="M314.11,745.32 L317.17,739.81 L311.05,739.81 Z" fill="#0000ff"/>
<path d="M317.61,745.89 L320.67,740.37 L314.55,740.37 Z" fill="#0000ff"/>
<path d="M321.11,746.42 L324.17,740.91 L318.05,740.91 Z" fill="#0000ff"/>
<path d="M324.61,747.08 L327.67,741.57 L321.54,741.57 Z" fill="#0000ff"/>
<path d="M328.11,748.01 L331.17,742.5 L325.04,742.5 Z" fill="#0000ff"/>
<path d="M331.6,749.2 L334.67,743.69 L328.54,743.69 Z" fill="#0000ff"/>
<path d="M335.1,750.6 L338.17,745.09 L332.04,745.09 Z" fill="#0000ff"/>
<path d="M338.6,752.33 L341.66,746.82 L335.54,746.82 Z" fill="#0000ff"/>
<path d="M342.1,754.44 L345.16,748.92 L339.04,748.92 Z" fill="#0000ff"/>
<path d="M345.6,756.85 L348.66,751.34 L342.54,751.34 Z" fill="#0000ff"/>
<path d="M51.7,730.79 L55.01,734.09 L51.7,737.4 L48.39,734.09 Z" fill="#00ffff"/>
<path d="M55.2,727.97 L58.51,731.28 L55.2,734.59 L51.89,731.28 Z" fill="#00ffff"/>
<path d="M58.7,724.98 L62.01,728.29 L58.7,731.59 L55.39,728.29 Z" fill="#00ffff"/>
<path d="M62.2,721.82 L65.5,725.13 L62.2,728.44 L58.89,725.13 Z" fill="#00ffff"/>
<path d="M65.7,718.56 L69,721.87 L65.7,725.17 L62.39,721.87 Z" fill="#00ffff"/>
<path d="M69.19,715.11 L72.5,718.41 L69.19,721.72 L65.89,718.41 Z" fill="#00ffff"/>
<path d="M72.69,711.25 L76,714.56 L72.69,717.87 L69.39,714.56 Z" fill="#00ffff"/>
<path d="M76.19,706.62 L79.5,709.92 L76.19,713.23 L72.88,709.92 Z" fill="#00ffff"/>
<path d="M79.69,701.42 L83,704.72 L79.69,708.03 L76.38,704.72 Z" fill="#00ffff"/>
<path d="M83.19,696.37 L86.5,699.67 L83.19,702.98 L79.88,699.67 Z" fill="#00ffff"/>
<path d="M86.69,691.82 L90,695.13 L86.69,698.44 L83.38,695.13 Z" fill="#00ffff"/>
<path d="M90.19,687.42 L93.49,690.73 L90.19,694.04 L86.88,690.73 Z" fill="#00ffff"/>
<path d="M93.69,682.76 L96.99,686.06 L93.69,689.37 L90.38,686.06 Z" fill="#00ffff"/>
<path d="M97.18,677.62 L100.49,680.93 L97.18,684.23 L93.88,680.93 Z" fill="#00ffff"/>
<path d="M100.68,672.17 L103.99,675.48 L100.68,678.79 L97.38,675.48 Z" fill="#00ffff"/>
<path d="M104.18,666.59 L107.49,669.89 L104.18,673.2 L100.87,669.89 Z" fill="#00ffff"/>
<path d="M107.68,660.77 L110.99,664.07 L107.68,667.38 L104.37,664.07 Z" fill="#00ffff"/>
<path d="M111.18,654.8 L114.49,658.1 L111.18,661.41 L107.87,658.1 Z" fill="#00ffff"/>
<path d="M114.68,649.14 L117.99,652.44 L114.68,655.75 L111.37,652.44 Z" fill="#00ffff"/>
<path d="M118.18,643.78 L121.48,647.08 L118.18,650.39 L114.87,647.08 Z" fill="#00ffff"/>
<path d="M121.68,638.68 L124.98,641.99 L121.68,645.3 L118.37,641.99 Z" fill="#00ffff"/>
<path d="M125.17,634.25 L128.48,637.55 L125.17,640.86 L121.87,637.55 Z" fill="#00ffff"/>
<path d="M128.67,630.48 L131.98,633.78 L128.67,637.09 L125.37,633.78 Z" fill="#00ffff"/>
<path d="M132.17,627.15 L135.48,630.45 L132.17,633.76 L128.87,630.45 Z" fill="#00ffff"/>
<path d="M135.67,624.32 L138.98,627.63 L135.67,630.94 L132.36,627.63 Z" fill="#00ffff"/>
<path d="M139.17,621.83 L142.48,625.14 L139.17,628.45 L135.86,625.14 Z" fill="#00ffff"/>
<path d="M142.67,619.67 L145.98,622.97 L142.67,626.28 L139.36,622.97 Z" fill="#00ffff"/>
<path d="M146.17,618.08 L149.48,621.38 L146.17,624.69 L142.86,621.38 Z" fill="#00ffff"/>
<path d="M149.67,616.9 L152.97,620.2 L149.67,623.51 L146.36,620.2 Z" fill="#00ffff"/>
<path d="M153.17,615.95 L156.47,619.26 L153.17,622.57 L149.86,619.26 Z" fill="#00ffff"/>
<path d="M156.66,615.51 L159.97,618.82 L156.66,622.13 L153.36,618.82 Z" fill="#00ffff"/>
<path d="M160.16,615.43 L163.47,618.74 L160.16,622.04 L156.86,618.74 Z" fill="#00ffff"/>
<path d="M163.66,615.37 L166.97,618.68 L163.66,621.99 L160.35,618.68 Z" fill="#00ffff"/>
<path d="M167.16,615.35 L170.47,618.66 L167.16,621.97 L163.85,618.66 Z" fill="#00ffff"/>
<path d="M170.66,615.61 L173.97,618.91 L170.66,622.22 L167.35,618.91 Z" fill="#00ffff"/>
<path d="M174.16,616.18 L177.47,619.49 L174.16,622.79 L170.85,619.49 Z" fill="#00ffff"/>
<path d="M177.66,616.8 L180.96,620.1 L177.66,623.41 L174.35,620.1 Z" fill="#00ffff"/>
<path d="M181.16,617.36 L184.46,620.67 L181.16,623.98 L177.85,620.67 Z" fill="#00ffff"/>
<path d="M184.65,617.99 L187.96,621.3 L184.65,624.61 L181.35,621.3 Z" fill="#00ffff"/>
<path d="M188.15,618.72 L191.46,622.02 L188.15,625.33 L184.85,622.02 Z" fill="#00ffff"/>
<path d="M191.65,619.57 L194.96,622.88 L191.65,626.19 L188.34,622.88 Z" fill="#00ffff"/>
<path d="M195.15,620.59 L198.46,623.89 L195.15,627.2 L191.84,623.89 Z" fill="#00ffff"/>
<path d="M198.65,621.76 L201.96,625.07 L198.65,628.37 L195.34,625.07 Z" fill="#00ffff"/>
<path d="M202.15,623.13 L205.46,626.44 L202.15,629.75 L198.84,626.44 Z" fill="#00ffff"/>
<path d="M205.65,624.77 L208.96,628.08 L205.65,631.39 L202.34,628.08 Z" fill="#00ffff"/>
<path d="M209.15,626.72 L212.45,630.03 L209.15,633.34 L205.84,630.03 Z" fill="#00ffff"/>
<path d="M212.65,629.15 L215.95,632.46 L212.65,635.77 L209.34,632.46 Z" fill="#00ffff"/>
<path d="M216.14,632.13 L219.45,635.44 L216.14,638.75 L212.84,635.44 Z" fill="#00ffff"/>
<path d="M219.64,635.53 L222.95,638.83 L219.64,642.14 L216.34,638.83 Z" fill="#00ffff"/>
<path d="M223.14,639.45 L226.45,642.75 L223.14,646.06 L219.83,642.75 Z" fill="#00ffff"/>
<path d="M226.64,644.02 L229.95,647.32 L226.64,650.63 L223.33,647.32 Z" fill="#00ffff"/>
<path d="M230.14,649.14 L233.45,652.44 L230.14,655.75 L226.83,652.44 Z" fill="#00ffff"/>
<path d="M233.64,655.07 L236.95,658.38 L233.64,661.69 L230.33,658.38 Z" fill="#00ffff"/>
<path d="M237.14,661.81 L240.44,665.12 L237.14,668.42 L233.83,665.12 Z" fill="#00ffff"/>
<path d="M240.64,668.83 L243.94,672.14 L240.64,675.44 L237.33,672.14 Z" fill="#00ffff"/>
<path d="M244.13,676.49 L247.44,679.8 L244.13,683.11 L240.83,679.8 Z" fill="#00ffff"/>
<path d="M247.63,684.47 L250.94,687.78 L247.63,691.09 L244.33,687.78 Z" fill="#00ffff"/>
<path d="M251.13,691.24 L254.44,694.55 L251.13,697.86 L247.82,694.55 Z" fill="#00ffff"/>
<path d="M254.63,696.32 L257.94,699.63 L254.63,702.94 L251.32,699.63 Z" fill="#00ffff"/>
<path d="M258.13,700.66 L261.44,703.97 L258.13,707.28 L254.82,703.97 Z" fill="#00ffff"/>
<path d="M261.63,704.85 L264.94,708.16 L261.63,711.47 L258.32,708.16 Z" fill="#00ffff"/>
<path d="M265.13,709.15 L268.43,712.46 L265.13,715.76 L261.82,712.46 Z" fill="#00ffff"/>
<path d="M268.63,713.31 L271.93,716.62 L268.63,719.93 L265.32,716.62 Z" fill="#00ffff"/>
<path d="M272.12,717.18 L275.43,720.49 L272.12,723.79 L268.82,720.49 Z" fill="#00ffff"/>
<path d="M275.62,720.86 L278.93,724.17 L275.62,727.47 L272.32,724.17 Z" fill="#00ffff"/>
<path d="M279.12,724.3 L282.43,727.61 L279.12,730.92 L275.82,727.61 Z" fill="#00ffff"/>
<path d="M282.62,727.1 L285.93,730.41 L282.62,733.72 L279.31,730.41 Z" fill="#00ffff"/>
<path d="M286.12,729.26 L289.43,732.57 L286.12,735.87 L282.81,732.57 Z" fill="#00ffff"/>
<path d="M289.62,731.06 L292.93,734.37 L289.62,737.67 L286.31,734.37 Z" fill="#00ffff"/>
<path d="M293.12,732.55 L296.43,735.86 L293.12,739.16 L289.81,735.86 Z" fill="#00ffff"/>
<path d="M296.62,733.82 L299.92,737.12 L296.62,740.43 L293.31,737.12 Z" fill="#00ffff"/>
<path d="M300.12,734.9 L303.42,738.21 L300.12,741.52 L296.81,738.21 Z" fill="#00ffff"/>
<path d="M303.61,735.75 L306.92,739.06 L303.61,742.36 L300.31,739.06 Z" fill="#00ffff"/>
<path d="M307.11,736.38 L310.42,739.68 L307.11,742.99 L303.81,739.68 Z" fill="#00ffff"/>
<path d="M310.61,736.88 L313.92,740.19 L310.61,743.5 L307.3,740.19 Z" fill="#00ffff"/>
<path d="M314.11,737.35 L317.42,740.66 L314.11,743.97 L310.8,740.66 Z" fill="#00ffff"/>
<path d="M317.61,737.75 L320.92,741.06 L317.61,744.36 L314.3,741.06 Z" fill="#00ffff"/>
<path d="M321.11,738.12 L324.42,741.42 L321.11,744.73 L317.8,741.42 Z" fill="#00ffff"/>
<path d="M324.61,738.63 L327.91,741.94 L324.61,745.25 L321.3,741.94 Z" fill="#00ffff"/>
<path d="M328.11,739.58 L331.41,742.89 L328.11,746.2 L324.8,742.89 Z" fill="#00ffff"/>
<path d="M331.6,741 L334.91,744.3 L331.6,747.61 L328.3,744.3 Z" fill="#00ffff"/>
<path d="M335.1,742.63 L338.41,745.94 L335.1,749.25 L331.8,745.94 Z" fill="#00ffff"/>
<path d="M338.6,744.52 L341.91,747.83 L338.6,751.14 L335.29,747.83 Z" fill="#00ffff"/>
<path d="M342.1,746.79 L345.41,750.1 L342.1,753.4 L338.79,750.1 Z" fill="#00ffff"/>
<path d="M345.6,749.36 L348.91,752.67 L345.6,755.97 L342.29,752.67 Z" fill="#00ffff"/>
<path d="M48.64,740.66 L54.15,737.6 L54.15,743.72 Z" fill="#ff00ff"/>
<path d="M52.14,737.58 L57.65,734.51 L57.65,740.64 Z" fill="#ff00ff"/>
<path d="M55.64,734.32 L61.15,731.25 L61.15,737.38 Z" fill="#ff00ff"/>
<path d="M59.13,730.89 L64.65,727.83 L64.65,733.95 Z" fill="#ff00ff"/>
<path d="M62.63,727.38 L68.15,724.31 L68.15,730.44 Z" fill="#ff00ff"/>
<path d="M66.13,723.67 L71.64,720.61 L71.64,726.73 Z" fill="#ff00ff"/>
<path d="M69.63,719.52 L75.14,716.46 L75.14,722.59 Z" fill="#ff00ff"/>
<path d="M73.13,714.55 L78.64,711.49 L78.64,717.62 Z" fill="#ff00ff"/>
<path d="M76.63,708.95 L82.14,705.89 L82.14,712.02 Z" fill="#ff00ff"/>
<path d="M80.13,703.35 L85.64,700.29 L85.64,706.42 Z" fill="#ff00ff"/>
<path d="M83.63,698.15 L89.14,695.09 L89.14,701.22 Z" fill="#ff00ff"/>
<path d="M87.12,692.95 L92.64,689.89 L92.64,696.02 Z" fill="#ff00ff"/>
<path d="M90.62,687.18 L96.14,684.12 L96.14,690.25 Z" fill="#ff00ff"/>
<path d="M94.12,680.15 L99.63,677.08 L99.63,683.21 Z" fill="#ff00ff"/>
<path d="M97.62,672.33 L103.13,669.26 L103.13,675.39 Z" fill="#ff00ff"/>
<path d="M101.12,664.93 L106.63,661.87 L106.63,667.99 Z" fill="#ff00ff"/>
<path d="M104.62,658.29 L110.13,655.23 L110.13,661.35 Z" fill="#ff00ff"/>
<path d="M108.12,652.01 L113.63,648.94 L113.63,655.07 Z" fill="#ff00ff"/>
<path d="M111.62,646.2 L117.13,643.14 L117.13,649.26 Z" fill="#ff00ff"/>
<path d="M115.11,640.76 L120.63,637.7 L120.63,643.83 Z" fill="#ff00ff"/>
<path d="M118.61,635.71 L124.13,632.64 L124.13,638.77 Z" fill="#ff00ff"/>
<path d="M122.11,631.31 L127.62,628.25 L127.62,634.37 Z" fill="#ff00ff"/>
<path d="M125.61,627.37 L131.12,624.31 L131.12,630.43 Z" fill="#ff00ff"/>
<path d="M129.11,623.87 L134.62,620.81 L134.62,626.93 Z" fill="#ff00ff"/>
<path d="M132.61,621.38 L138.12,618.32 L138.12,624.45 Z" fill="#ff00ff"/>
<path d="M136.11,619.73 L141.62,616.67 L141.62,622.79 Z" fill="#ff00ff"/>
<path d="M139.61,618.45 L145.12,615.39 L145.12,621.52 Z" fill="#ff00ff"/>
<path d="M143.11,617.7 L148.62,614.64 L148.62,620.76 Z" fill="#ff00ff"/>
<path d="M146.6,617.3 L152.12,614.24 L152.12,620.36 Z" fill="#ff00ff"/>
<path d="M150.1,617.01 L155.62,613.95 L155.62,620.07 Z" fill="#ff00ff"/>
<path d="M153.6,616.9 L159.11,613.84 L159.11,619.96 Z" fill="#ff00ff"/>
<path d="M157.1,616.95 L162.61,613.89 L162.61,620.01 Z" fill="#ff00ff"/>
<path d="M160.6,617.07 L166.11,614 L166.11,620.13 Z" fill="#ff00ff"/>
<path d="M164.1,617.22 L169.61,614.16 L169.61,620.28 Z" fill="#ff00ff"/>
<path d="M167.6,617.45 L173.11,614.38 L173.11,620.51 Z" fill="#ff00ff"/>
<path d="M171.1,617.78 L176.61,614.72 L176.61,620.84 Z" fill="#ff00ff"/>
<path d="M174.59,618.18 L180.11,615.12 L180.11,621.24 Z" fill="#ff00ff"/>
<path d="M178.09,618.68 L183.61,615.62 L183.61,621.74 Z" fill="#ff00ff"/>
<path d="M181.59,619.33 L187.1,616.26 L187.1,622.39 Z" fill="#ff00ff"/>
<path d="M185.09,620.1 L190.6,617.04 L190.6,623.17 Z" fill="#ff00ff"/>
<path d="M188.59,621.1 L194.1,618.04 L194.1,624.16 Z" fill="#ff00ff"/>
<path d="M192.09,622.36 L197.6,619.3 L197.6,625.42 Z" fill="#ff00ff"/>
<path d="M195.59,623.79 L201.1,620.72 L201.1,626.85 Z" fill="#ff00ff"/>
<path d="M199.09,625.4 L204.6,622.34 L204.6,628.47 Z" fill="#ff00ff"/>
<path d="M202.59,627.28 L208.1,624.22 L208.1,630.34 Z" fill="#ff00ff"/>
<path d="M206.08,629.39 L211.6,626.33 L211.6,632.45 Z" fill="#ff00ff"/>
<path d="M209.58,631.79 L215.1,628.73 L215.1,634.85 Z" fill="#ff00ff"/>
<path d="M213.08,634.53 L218.59,631.47 L218.59,637.59 Z" fill="#ff00ff"/>
<path d="M216.58,637.55 L222.09,634.49 L222.09,640.62 Z" fill="#ff00ff"/>
<path d="M220.08,640.91 L225.59,637.85 L225.59,643.97 Z" fill="#ff00ff"/>
<path d="M223.58,644.66 L229.09,641.6 L229.09,647.72 Z" fill="#ff00ff"/>
<path d="M227.08,648.76 L232.59,645.7 L232.59,651.82 Z" fill="#ff00ff"/>
<path d="M230.58,653.3 L236.09,650.23 L236.09,656.36 Z" fill="#ff00ff"/>
<path d="M234.07,658.3 L239.59,655.24 L239.59,661.36 Z" fill="#ff00ff"/>
<path d="M237.57,663.65 L243.09,660.59 L243.09,666.71 Z" fill="#ff00ff"/>
<path d="M241.07,669.64 L246.58,666.58 L246.58,672.71 Z" fill="#ff00ff"/>
<path d="M244.57,676.07 L250.08,673.01 L250.08,679.13 Z" fill="#ff00ff"/>
<path d="M248.07,682.06 L253.58,679 L253.58,685.12 Z" fill="#ff00ff"/>
<path d="M251.57,687.26 L257.08,684.2 L257.08,690.32 Z" fill="#ff00ff"/>
<path d="M255.07,692.1 L260.58,689.04 L260.58,695.17 Z" fill="#ff00ff"/>
<path d="M258.57,696.95 L264.08,693.89 L264.08,700.01 Z" fill="#ff00ff"/>
<path d="M262.06,702.08 L267.58,699.01 L267.58,705.14 Z" fill="#ff00ff"/>
<path d="M265.56,707.2 L271.08,704.14 L271.08,710.27 Z" fill="#ff00ff"/>
<path d="M269.06,711.84 L274.57,708.78 L274.57,714.9 Z" fill="#ff00ff"/>
<path d="M272.56,715.92 L278.07,712.86 L278.07,718.98 Z" fill="#ff00ff"/>
<path d="M276.06,719.64 L281.57,716.57 L281.57,722.7 Z" fill="#ff00ff"/>
<path d="M279.56,722.89 L285.07,719.82 L285.07,725.95 Z" fill="#ff00ff"/>
<path d="M283.06,725.73 L288.57,722.67 L288.57,728.79 Z" fill="#ff00ff"/>
<path d="M286.56,728.26 L292.07,725.19 L292.07,731.32 Z" fill="#ff00ff"/>
<path d="M290.06,730.41 L295.57,727.35 L295.57,733.47 Z" fill="#ff00ff"/>
<path d="M293.55,732.25 L299.07,729.19 L299.07,735.31 Z" fill="#ff00ff"/>
<path d="M297.05,733.85 L302.57,730.79 L302.57,736.91 Z" fill="#ff00ff"/>
<path d="M300.55,735.21 L306.06,732.15 L306.06,738.28 Z" fill="#ff00ff"/>
<path d="M304.05,736.36 L309.56,733.29 L309.56,739.42 Z" fill="#ff00ff"/>
<path d="M307.55,737.35 L313.06,734.28 L313.06,740.41 Z" fill="#ff00ff"/>
<path d="M311.05,738.26 L316.56,735.19 L316.56,741.32 Z" fill="#ff00ff"/>
<path d="M314.55,739.05 L320.06,735.99 L320.06,742.11 Z" fill="#ff00ff"/>
<path d="M318.05,739.78 L323.56,736.71 L323.56,742.84 Z" fill="#ff00ff"/>
<path d="M321.54,740.66 L327.06,737.6 L327.06,743.72 Z" fill="#ff00ff"/>
<path d="M325.04,741.85 L330.56,738.79 L330.56,744.92 Z" fill="#ff00ff"/>
<path d="M328.54,743.32 L334.05,740.26 L334.05,746.39 Z" fill="#ff00ff"/>
<path d="M332.04,744.98 L337.55,741.92 L337.55,748.04 Z" fill="#ff00ff"/>
<path d="M335.54,746.85 L341.05,743.79 L341.05,749.92 Z" fill="#ff00ff"/>
<path d="M339.04,749 L344.55,745.94 L344.55,752.07 Z" fill="#ff00ff"/>
<path d="M342.54,751.38 L348.05,748.32 L348.05,754.45 Z" fill="#ff00ff"/>
</g>
<rect x="51.7" y="543.7" width="293.9" height="215.9" fill="none" stroke="#111" stroke-width="1.2"/>
<line x1="47.1" y1="743.7" x2="51.7" y2="743.7" stroke="#111" stroke-width="1.2" />
<text x="43.7" y="747.5" font-size="11.5" text-anchor="end" font-family='"Liberation Serif", serif' fill="#000" >0</text>
<line x1="49.1" y1="727.69" x2="51.7" y2="727.69" stroke="#111" stroke-width="1.2" />
<line x1="47.1" y1="711.68" x2="51.7" y2="711.68" stroke="#111" stroke-width="1.2" />
<text x="43.7" y="715.48" font-size="11.5" text-anchor="end" font-family='"Liberation Serif", serif' fill="#000" >20</text>
<line x1="49.1" y1="695.67" x2="51.7" y2="695.67" stroke="#111" stroke-width="1.2" />
<line x1="47.1" y1="679.66" x2="51.7" y2="679.66" stroke="#111" stroke-width="1.2" />
<text x="43.7" y="683.46" font-size="11.5" text-anchor="end" font-family='"Liberation Serif", serif' fill="#000" >40</text>
<line x1="49.1" y1="663.65" x2="51.7" y2="663.65" stroke="#111" stroke-width="1.2" />
<line x1="47.1" y1="647.64" x2="51.7" y2="647.64" stroke="#111" stroke-width="1.2" />
<text x="43.7" y="651.44" font-size="11.5" text-anchor="end" font-family='"Liberation Serif", serif' fill="#000" >60</text>
<line x1="49.1" y1="631.63" x2="51.7" y2="631.63" stroke="#111" stroke-width="1.2" />
<line x1="47.1" y1="615.62" x2="51.7" y2="615.62" stroke="#111" stroke-width="1.2" />
<text x="43.7" y="619.42" font-size="11.5" text-anchor="end" font-family='"Liberation Serif", serif' fill="#000" >80</text>
<line x1="49.1" y1="599.61" x2="51.7" y2="599.61" stroke="#111" stroke-width="1.2" />
<line x1="47.1" y1="583.6" x2="51.7" y2="583.6" stroke="#111" stroke-width="1.2" />
<text x="43.7" y="587.4" font-size="11.5" text-anchor="end" font-family='"Liberation Serif", serif' fill="#000" >100</text>
<line x1="49.1" y1="567.59" x2="51.7" y2="567.59" stroke="#111" stroke-width="1.2" />
<line x1="47.1" y1="551.58" x2="51.7" y2="551.58" stroke="#111" stroke-width="1.2" />
<text x="43.7" y="555.38" font-size="11.5" text-anchor="end" font-family='"Liberation Serif", serif' fill="#000" >120</text>
<line x1="51.7" y1="759.6" x2="51.7" y2="764.4" stroke="#111" stroke-width="1.2" />
<text x="51.7" y="776.3" font-size="11.5" text-anchor="middle" font-family='"Liberation Serif", serif' fill="#000" >-2</text>
<line x1="72.69" y1="759.6" x2="72.69" y2="762.4" stroke="#111" stroke-width="1.2" />
<line x1="93.69" y1="759.6" x2="93.69" y2="764.4" stroke="#111" stroke-width="1.2" />
<text x="93.69" y="776.3" font-size="11.5" text-anchor="middle" font-family='"Liberation Serif", serif' fill="#000" >-1</text>
<line x1="114.68" y1="759.6" x2="114.68" y2="762.4" stroke="#111" stroke-width="1.2" />
<line x1="135.67" y1="759.6" x2="135.67" y2="764.4" stroke="#111" stroke-width="1.2" />
<text x="135.67" y="776.3" font-size="11.5" text-anchor="middle" font-family='"Liberation Serif", serif' fill="#000" >0</text>
<line x1="156.66" y1="759.6" x2="156.66" y2="762.4" stroke="#111" stroke-width="1.2" />
<line x1="177.66" y1="759.6" x2="177.66" y2="764.4" stroke="#111" stroke-width="1.2" />
<text x="177.66" y="776.3" font-size="11.5" text-anchor="middle" font-family='"Liberation Serif", serif' fill="#000" >1</text>
<line x1="198.65" y1="759.6" x2="198.65" y2="762.4" stroke="#111" stroke-width="1.2" />
<line x1="219.64" y1="759.6" x2="219.64" y2="764.4" stroke="#111" stroke-width="1.2" />
<text x="219.64" y="776.3" font-size="11.5" text-anchor="middle" font-family='"Liberation Serif", serif' fill="#000" >2</text>
<line x1="240.64" y1="759.6" x2="240.64" y2="762.4" stroke="#111" stroke-width="1.2" />
<line x1="261.63" y1="759.6" x2="261.63" y2="764.4" stroke="#111" stroke-width="1.2" />
<text x="261.63" y="776.3" font-size="11.5" text-anchor="middle" font-family='"Liberation Serif", serif' fill="#000" >3</text>
<line x1="282.62" y1="759.6" x2="282.62" y2="762.4" stroke="#111" stroke-width="1.2" />
<line x1="303.61" y1="759.6" x2="303.61" y2="764.4" stroke="#111" stroke-width="1.2" />
<text x="303.61" y="776.3" font-size="11.5" text-anchor="middle" font-family='"Liberation Serif", serif' fill="#000" >4</text>
<line x1="324.61" y1="759.6" x2="324.61" y2="762.4" stroke="#111" stroke-width="1.2" />
<line x1="345.6" y1="759.6" x2="345.6" y2="764.4" stroke="#111" stroke-width="1.2" />
<text x="345.6" y="776.3" font-size="11.5" text-anchor="middle" font-family='"Liberation Serif", serif' fill="#000" >5</text>
<text x="199" y="792.5" font-size="14.5" text-anchor="middle" font-family='"Liberation Serif", serif' fill="#000" >log(f/Hz)</text>
<text transform="translate(23.9,654.8) rotate(-90)" font-size="14.5" text-anchor="middle" font-family='"Liberation Serif", serif'>Angle/deg</text>
<line x1="231.8" y1="553" x2="259" y2="553" stroke="#333" stroke-width="1.3" />
<rect x="243.6" y="551" width="4" height="4" fill="#000"/>
<text x="261.4" y="556.9" font-size="11.6" text-anchor="start" font-family='"Liberation Serif", serif' fill="#000" >CED (8A/dm<tspan dy="-0.677em" font-size="62%">2</tspan><tspan dy="0.420em" font-size="100%">&#8203;</tspan>)</text>
<line x1="231.8" y1="568.98" x2="259" y2="568.98" stroke="#ff0000" stroke-width="1.3" />
<circle cx="245.6" cy="568.98" r="2.59" fill="#ff0000"/>
<text x="261.4" y="572.88" font-size="11.6" text-anchor="start" font-family='"Liberation Serif", serif' fill="#000" >JED&#160;&#160;(180A/dm<tspan dy="-0.677em" font-size="62%">2</tspan><tspan dy="0.420em" font-size="100%">&#8203;</tspan>)</text>
<line x1="231.8" y1="584.96" x2="259" y2="584.96" stroke="#00ff00" stroke-width="1.3" />
<path d="M245.6,581.96 L248.6,587.36 L242.6,587.36 Z" fill="#00ff00"/>
<text x="261.4" y="588.86" font-size="11.6" text-anchor="start" font-family='"Liberation Serif", serif' fill="#000" >JED&#160;&#160;(190A/dm<tspan dy="-0.677em" font-size="62%">2</tspan><tspan dy="0.420em" font-size="100%">&#8203;</tspan>)</text>
<line x1="231.8" y1="600.94" x2="259" y2="600.94" stroke="#0000ff" stroke-width="1.3" />
<path d="M245.6,603.94 L248.6,598.54 L242.6,598.54 Z" fill="#0000ff"/>
<text x="261.4" y="604.84" font-size="11.6" text-anchor="start" font-family='"Liberation Serif", serif' fill="#000" >JED&#160;&#160;(200A/dm<tspan dy="-0.677em" font-size="62%">2</tspan><tspan dy="0.420em" font-size="100%">&#8203;</tspan>)</text>
<line x1="231.8" y1="616.92" x2="259" y2="616.92" stroke="#00ffff" stroke-width="1.3" />
<path d="M245.6,613.68 L248.84,616.92 L245.6,620.16 L242.36,616.92 Z" fill="#00ffff"/>
<text x="261.4" y="620.82" font-size="11.6" text-anchor="start" font-family='"Liberation Serif", serif' fill="#000" >JED&#160;&#160;(210A/dm<tspan dy="-0.677em" font-size="62%">2</tspan><tspan dy="0.420em" font-size="100%">&#8203;</tspan>)</text>
<line x1="231.8" y1="632.9" x2="259" y2="632.9" stroke="#ff00ff" stroke-width="1.3" />
<path d="M242.6,632.9 L248,629.9 L248,635.9 Z" fill="#ff00ff"/>
<text x="261.4" y="636.8" font-size="11.6" text-anchor="start" font-family='"Liberation Serif", serif' fill="#000" >JED&#160;&#160;(220A/dm<tspan dy="-0.677em" font-size="62%">2</tspan><tspan dy="0.420em" font-size="100%">&#8203;</tspan>)</text>
<rect x="366.8" y="534.3" width="98.7" height="214.9" fill="#b6e4ef"/>
<clipPath id="clipW"><rect x="366.8" y="534.3" width="98.7" height="214.9"/></clipPath>
<g clip-path="url(#clipW)">
<ellipse cx="372.54" cy="597.49" rx="2.65" ry="2.68" fill="#7cc3d9" fill-opacity="0.5" transform="rotate(34.5 371.61 596.43)"/>
<ellipse cx="371.61" cy="596.43" rx="2.65" ry="2.68" fill="url(#gDrop)" transform="rotate(34.5 371.61 596.43)"/>
<ellipse cx="397.53" cy="660.08" rx="0.91" ry="1.34" fill="#7cc3d9" fill-opacity="0.5" transform="rotate(6.92 397.21 659.71)"/>
<ellipse cx="397.21" cy="659.71" rx="0.91" ry="1.34" fill="url(#gDrop)" transform="rotate(6.92 397.21 659.71)"/>
<ellipse cx="380.54" cy="573.25" rx="1.67" ry="2.46" fill="#7cc3d9" fill-opacity="0.5" transform="rotate(14.64 379.95 572.58)"/>
<ellipse cx="379.95" cy="572.58" rx="1.67" ry="2.46" fill="url(#gDrop)" transform="rotate(14.64 379.95 572.58)"/>
<ellipse cx="407.53" cy="688.04" rx="1.1" ry="1.62" fill="#7cc3d9" fill-opacity="0.5" transform="rotate(38.48 407.14 687.6)"/>
<ellipse cx="407.14" cy="687.6" rx="1.1" ry="1.62" fill="url(#gDrop)" transform="rotate(38.48 407.14 687.6)"/>
<ellipse cx="457.54" cy="698.48" rx="1.74" ry="1.9" fill="#7cc3d9" fill-opacity="0.5" transform="rotate(9.26 456.93 697.79)"/>
<ellipse cx="456.93" cy="697.79" rx="1.74" ry="1.9" fill="url(#gDrop)" transform="rotate(9.26 456.93 697.79)"/>
<ellipse cx="399.74" cy="633.92" rx="1.84" ry="2.07" fill="#7cc3d9" fill-opacity="0.5" transform="rotate(10.13 399.1 633.18)"/>
<ellipse cx="399.1" cy="633.18" rx="1.84" ry="2.07" fill="url(#gDrop)" transform="rotate(10.13 399.1 633.18)"/>
<ellipse cx="446.94" cy="691.83" rx="3.41" ry="3.92" fill="#7cc3d9" fill-opacity="0.5" transform="rotate(40.81 445.75 690.46)"/>
<ellipse cx="445.75" cy="690.46" rx="3.41" ry="3.92" fill="url(#gDrop)" transform="rotate(40.81 445.75 690.46)"/>
<ellipse cx="406.09" cy="623.75" rx="3.17" ry="4.21" fill="#7cc3d9" fill-opacity="0.5" transform="rotate(36.14 404.98 622.49)"/>
<ellipse cx="404.98" cy="622.49" rx="3.17" ry="4.21" fill="url(#gDrop)" transform="rotate(36.14 404.98 622.49)"/>
<ellipse cx="456.61" cy="640.92" rx="3.28" ry="4.83" fill="#7cc3d9" fill-opacity="0.5" transform="rotate(25.56 455.47 639.61)"/>
<ellipse cx="455.47" cy="639.61" rx="3.28" ry="4.83" fill="url(#gDrop)" transform="rotate(25.56 455.47 639.61)"/>
<ellipse cx="436.19" cy="632.41" rx="1.17" ry="1.69" fill="#7cc3d9" fill-opacity="0.5" transform="rotate(24.65 435.78 631.95)"/>
<ellipse cx="435.78" cy="631.95" rx="1.17" ry="1.69" fill="url(#gDrop)" transform="rotate(24.65 435.78 631.95)"/>
<ellipse cx="380.95" cy="620.96" rx="1.04" ry="1.38" fill="#7cc3d9" fill-opacity="0.5" transform="rotate(18 380.58 620.54)"/>
<ellipse cx="380.58" cy="620.54" rx="1.04" ry="1.38" fill="url(#gDrop)" transform="rotate(18 380.58 620.54)"/>
<ellipse cx="447.04" cy="706.62" rx="2.37" ry="2.69" fill="#7cc3d9" fill-opacity="0.5" transform="rotate(30.97 446.21 705.67)"/>
<ellipse cx="446.21" cy="705.67" rx="2.37" ry="2.69" fill="url(#gDrop)" transform="rotate(30.97 446.21 705.67)"/>
<ellipse cx="448.63" cy="635.89" rx="2.75" ry="3.45" fill="#7cc3d9" fill-opacity="0.5" transform="rotate(26.98 447.67 634.79)"/>
<ellipse cx="447.67" cy="634.79" rx="2.75" ry="3.45" fill="url(#gDrop)" transform="rotate(26.98 447.67 634.79)"/>
<ellipse cx="384.58" cy="574.19" rx="3.42" ry="4.1" fill="#7cc3d9" fill-opacity="0.5" transform="rotate(30.97 383.38 572.82)"/>
<ellipse cx="383.38" cy="572.82" rx="3.42" ry="4.1" fill="url(#gDrop)" transform="rotate(30.97 383.38 572.82)"/>
<ellipse cx="405.19" cy="544.04" rx="2.22" ry="3.2" fill="#7cc3d9" fill-opacity="0.5" transform="rotate(18.91 404.41 543.16)"/>
<ellipse cx="404.41" cy="543.16" rx="2.22" ry="3.2" fill="url(#gDrop)" transform="rotate(18.91 404.41 543.16)"/>
<ellipse cx="404.35" cy="617.23" rx="1.95" ry="2.5" fill="#7cc3d9" fill-opacity="0.5" transform="rotate(25.42 403.67 616.45)"/>
<ellipse cx="403.67" cy="616.45" rx="1.95" ry="2.5" fill="url(#gDrop)" transform="rotate(25.42 403.67 616.45)"/>
<ellipse cx="420.41" cy="648.33" rx="3.98" ry="4.52" fill="#7cc3d9" fill-opacity="0.5" transform="rotate(28.85 419.02 646.74)"/>
<ellipse cx="419.02" cy="646.74" rx="3.98" ry="4.52" fill="url(#gDrop)" transform="rotate(28.85 419.02 646.74)"/>
<ellipse cx="398.16" cy="681.01" rx="3.92" ry="4.07" fill="#7cc3d9" fill-opacity="0.5" transform="rotate(15.68 396.79 679.44)"/>
<ellipse cx="396.79" cy="679.44" rx="3.92" ry="4.07" fill="url(#gDrop)" transform="rotate(15.68 396.79 679.44)"/>
<ellipse cx="444.56" cy="542.53" rx="1.72" ry="2.13" fill="#7cc3d9" fill-opacity="0.5" transform="rotate(34.4 443.96 541.84)"/>
<ellipse cx="443.96" cy="541.84" rx="1.72" ry="2.13" fill="url(#gDrop)" transform="rotate(34.4 443.96 541.84)"/>
<ellipse cx="372.19" cy="551.16" rx="2.09" ry="2.91" fill="#7cc3d9" fill-opacity="0.5" transform="rotate(30.46 371.46 550.32)"/>
<ellipse cx="371.46" cy="550.32" rx="2.09" ry="2.91" fill="url(#gDrop)" transform="rotate(30.46 371.46 550.32)"/>
<ellipse cx="382.02" cy="666.8" rx="0.96" ry="1.2" fill="#7cc3d9" fill-opacity="0.5" transform="rotate(17.57 381.68 666.41)"/>
<ellipse cx="381.68" cy="666.41" rx="0.96" ry="1.2" fill="url(#gDrop)" transform="rotate(17.57 381.68 666.41)"/>
<ellipse cx="457.6" cy="692.09" rx="0.9" ry="1.23" fill="#7cc3d9" fill-opacity="0.5" transform="rotate(44.83 457.29 691.73)"/>
<ellipse cx="457.29" cy="691.73" rx="0.9" ry="1.23" fill="url(#gDrop)" transform="rotate(44.83 457.29 691.73)"/>
<ellipse cx="424.44" cy="637.83" rx="1.48" ry="1.78" fill="#7cc3d9" fill-opacity="0.5" transform="rotate(33.35 423.92 637.24)"/>
<ellipse cx="423.92" cy="637.24" rx="1.48" ry="1.78" fill="url(#gDrop)" transform="rotate(33.35 423.92 637.24)"/>
<ellipse cx="438.46" cy="570.44" rx="2.87" ry="4.11" fill="#7cc3d9" fill-opacity="0.5" transform="rotate(12.99 437.45 569.29)"/>
<ellipse cx="437.45" cy="569.29" rx="2.87" ry="4.11" fill="url(#gDrop)" transform="rotate(12.99 437.45 569.29)"/>
<ellipse cx="440.13" cy="583.96" rx="1.21" ry="1.4" fill="#7cc3d9" fill-opacity="0.5" transform="rotate(10.04 439.7 583.47)"/>
<ellipse cx="439.7" cy="583.47" rx="1.21" ry="1.4" fill="url(#gDrop)" transform="rotate(10.04 439.7 583.47)"/>
<ellipse cx="380.7" cy="613.3" rx="0.93" ry="1.19" fill="#7cc3d9" fill-opacity="0.5" transform="rotate(25.93 380.37 612.93)"/>
<ellipse cx="380.37" cy="612.93" rx="0.93" ry="1.19" fill="url(#gDrop)" transform="rotate(25.93 380.37 612.93)"/>
<ellipse cx="392.75" cy="558.44" rx="0.99" ry="1.17" fill="#7cc3d9" fill-opacity="0.5" transform="rotate(7.02 392.4 558.04)"/>
<ellipse cx="392.4" cy="558.04" rx="0.99" ry="1.17" fill="url(#gDrop)" transform="rotate(7.02 392.4 558.04)"/>
<ellipse cx="418.83" cy="606.39" rx="0.92" ry="0.96" fill="#7cc3d9" fill-opacity="0.5" transform="rotate(35.18 418.51 606.03)"/>
<ellipse cx="418.51" cy="606.03" rx="0.92" ry="0.96" fill="url(#gDrop)" transform="rotate(35.18 418.51 606.03)"/>
<ellipse cx="392.02" cy="581.57" rx="0.91" ry="1.3" fill="#7cc3d9" fill-opacity="0.5" transform="rotate(0.6 391.7 581.2)"/>
<ellipse cx="391.7" cy="581.2" rx="0.91" ry="1.3" fill="url(#gDrop)" transform="rotate(0.6 391.7 581.2)"/>
<ellipse cx="447.08" cy="607.27" rx="1" ry="1.19" fill="#7cc3d9" fill-opacity="0.5" transform="rotate(21.63 446.73 606.87)"/>
<ellipse cx="446.73" cy="606.87" rx="1" ry="1.19" fill="url(#gDrop)" transform="rotate(21.63 446.73 606.87)"/>
<ellipse cx="433.59" cy="595.58" rx="1.09" ry="1.63" fill="#7cc3d9" fill-opacity="0.5" transform="rotate(41.91 433.2 595.14)"/>
<ellipse cx="433.2" cy="595.14" rx="1.09" ry="1.63" fill="url(#gDrop)" transform="rotate(41.91 433.2 595.14)"/>
<ellipse cx="456.04" cy="593.9" rx="1.8" ry="1.94" fill="#7cc3d9" fill-opacity="0.5" transform="rotate(25.2 455.41 593.17)"/>
<ellipse cx="455.41" cy="593.17" rx="1.8" ry="1.94" fill="url(#gDrop)" transform="rotate(25.2 455.41 593.17)"/>
<ellipse cx="462.54" cy="709.82" rx="2.3" ry="2.56" fill="#7cc3d9" fill-opacity="0.5" transform="rotate(29.6 461.74 708.9)"/>
<ellipse cx="461.74" cy="708.9" rx="2.3" ry="2.56" fill="url(#gDrop)" transform="rotate(29.6 461.74 708.9)"/>
<ellipse cx="399.81" cy="702.98" rx="4.31" ry="5.97" fill="#7cc3d9" fill-opacity="0.5" transform="rotate(20.69 398.31 701.26)"/>
<ellipse cx="398.31" cy="701.26" rx="4.31" ry="5.97" fill="url(#gDrop)" transform="rotate(20.69 398.31 701.26)"/>
<ellipse cx="397.14" cy="743.01" rx="1.37" ry="2.08" fill="#7cc3d9" fill-opacity="0.5" transform="rotate(8.14 396.66 742.47)"/>
<ellipse cx="396.66" cy="742.47" rx="1.37" ry="2.08" fill="url(#gDrop)" transform="rotate(8.14 396.66 742.47)"/>
<ellipse cx="418.39" cy="644.41" rx="0.93" ry="1.34" fill="#7cc3d9" fill-opacity="0.5" transform="rotate(30.25 418.07 644.04)"/>
<ellipse cx="418.07" cy="644.04" rx="0.93" ry="1.34" fill="url(#gDrop)" transform="rotate(30.25 418.07 644.04)"/>
<ellipse cx="462.28" cy="661.41" rx="1.39" ry="1.89" fill="#7cc3d9" fill-opacity="0.5" transform="rotate(40.2 461.79 660.85)"/>
<ellipse cx="461.79" cy="660.85" rx="1.39" ry="1.89" fill="url(#gDrop)" transform="rotate(40.2 461.79 660.85)"/>
<ellipse cx="410.71" cy="568.53" rx="3.45" ry="4.13" fill="#7cc3d9" fill-opacity="0.5" transform="rotate(2.07 409.5 567.15)"/>
<ellipse cx="409.5" cy="567.15" rx="3.45" ry="4.13" fill="url(#gDrop)" transform="rotate(2.07 409.5 567.15)"/>
<ellipse cx="377.44" cy="542.92" rx="1.54" ry="1.65" fill="#7cc3d9" fill-opacity="0.5" transform="rotate(17.81 376.9 542.3)"/>
<ellipse cx="376.9" cy="542.3" rx="1.54" ry="1.65" fill="url(#gDrop)" transform="rotate(17.81 376.9 542.3)"/>
<ellipse cx="368.2" cy="554.71" rx="3.14" ry="4.35" fill="#7cc3d9" fill-opacity="0.5" transform="rotate(23.95 367.1 553.46)"/>
<ellipse cx="367.1" cy="553.46" rx="3.14" ry="4.35" fill="url(#gDrop)" transform="rotate(23.95 367.1 553.46)"/>
<ellipse cx="452.05" cy="706.99" rx="1.04" ry="1.33" fill="#7cc3d9" fill-opacity="0.5" transform="rotate(0.08 451.69 706.57)"/>
<ellipse cx="451.69" cy="706.57" rx="1.04" ry="1.33" fill="url(#gDrop)" transform="rotate(0.08 451.69 706.57)"/>
<ellipse cx="403.56" cy="592.75" rx="0.92" ry="1.3" fill="#7cc3d9" fill-opacity="0.5" transform="rotate(26.31 403.24 592.38)"/>
<ellipse cx="403.24" cy="592.38" rx="0.92" ry="1.3" fill="url(#gDrop)" transform="rotate(26.31 403.24 592.38)"/>
<ellipse cx="439.27" cy="535.5" rx="1.06" ry="1.21" fill="#7cc3d9" fill-opacity="0.5" transform="rotate(22.45 438.9 535.08)"/>
<ellipse cx="438.9" cy="535.08" rx="1.06" ry="1.21" fill="url(#gDrop)" transform="rotate(22.45 438.9 535.08)"/>
<ellipse cx="413.49" cy="591.63" rx="2.08" ry="3.09" fill="#7cc3d9" fill-opacity="0.5" transform="rotate(39.61 412.76 590.79)"/>
<ellipse cx="412.76" cy="590.79" rx="2.08" ry="3.09" fill="url(#gDrop)" transform="rotate(39.61 412.76 590.79)"/>
<ellipse cx="465.46" cy="540.79" rx="1.77" ry="1.81" fill="#7cc3d9" fill-opacity="0.5" transform="rotate(26.91 464.84 540.08)"/>
<ellipse cx="464.84" cy="540.08" rx="1.77" ry="1.81" fill="url(#gDrop)" transform="rotate(26.91 464.84 540.08)"/>
<ellipse cx="406.2" cy="600.63" rx="0.91" ry="1.36" fill="#7cc3d9" fill-opacity="0.5" transform="rotate(34.19 405.88 600.26)"/>
<ellipse cx="405.88" cy="600.26" rx="0.91" ry="1.36" fill="url(#gDrop)" transform="rotate(34.19 405.88 600.26)"/>
<ellipse cx="458.05" cy="740.22" rx="3.89" ry="3.96" fill="#7cc3d9" fill-opacity="0.5" transform="rotate(25.32 456.68 738.66)"/>
<ellipse cx="456.68" cy="738.66" rx="3.89" ry="3.96" fill="url(#gDrop)" transform="rotate(25.32 456.68 738.66)"/>
<ellipse cx="457.56" cy="695.03" rx="3.79" ry="3.85" fill="#7cc3d9" fill-opacity="0.5" transform="rotate(27.2 456.24 693.51)"/>
<ellipse cx="456.24" cy="693.51" rx="3.79" ry="3.85" fill="url(#gDrop)" transform="rotate(27.2 456.24 693.51)"/>
<ellipse cx="435.21" cy="717.64" rx="3.67" ry="3.75" fill="#7cc3d9" fill-opacity="0.5" transform="rotate(52.84 433.93 716.18)"/>
<ellipse cx="433.93" cy="716.18" rx="3.67" ry="3.75" fill="url(#gDrop)" transform="rotate(52.84 433.93 716.18)"/>
<ellipse cx="389.91" cy="628.4" rx="3.33" ry="5.13" fill="#7cc3d9" fill-opacity="0.5" transform="rotate(13.91 388.74 627.07)"/>
<ellipse cx="388.74" cy="627.07" rx="3.33" ry="5.13" fill="url(#gDrop)" transform="rotate(13.91 388.74 627.07)"/>
<ellipse cx="433.14" cy="732" rx="0.95" ry="1.19" fill="#7cc3d9" fill-opacity="0.5" transform="rotate(45.57 432.81 731.62)"/>
<ellipse cx="432.81" cy="731.62" rx="0.95" ry="1.19" fill="url(#gDrop)" transform="rotate(45.57 432.81 731.62)"/>
<ellipse cx="394.86" cy="673.37" rx="3.62" ry="5.12" fill="#7cc3d9" fill-opacity="0.5" transform="rotate(27.02 393.59 671.92)"/>
<ellipse cx="393.59" cy="671.92" rx="3.62" ry="5.12" fill="url(#gDrop)" transform="rotate(27.02 393.59 671.92)"/>
<ellipse cx="423.52" cy="686.56" rx="1.22" ry="1.63" fill="#7cc3d9" fill-opacity="0.5" transform="rotate(19.51 423.1 686.07)"/>
<ellipse cx="423.1" cy="686.07" rx="1.22" ry="1.63" fill="url(#gDrop)" transform="rotate(19.51 423.1 686.07)"/>
<ellipse cx="371.52" cy="609.58" rx="3.17" ry="3.91" fill="#7cc3d9" fill-opacity="0.5" transform="rotate(23.05 370.42 608.31)"/>
<ellipse cx="370.42" cy="608.31" rx="3.17" ry="3.91" fill="url(#gDrop)" transform="rotate(23.05 370.42 608.31)"/>
<ellipse cx="452.3" cy="597.77" rx="1.16" ry="1.73" fill="#7cc3d9" fill-opacity="0.5" transform="rotate(23.7 451.89 597.31)"/>
<ellipse cx="451.89" cy="597.31" rx="1.16" ry="1.73" fill="url(#gDrop)" transform="rotate(23.7 451.89 597.31)"/>
<ellipse cx="445.64" cy="606.87" rx="0.9" ry="1.19" fill="#7cc3d9" fill-opacity="0.5" transform="rotate(-6.53 445.33 606.51)"/>
<ellipse cx="445.33" cy="606.51" rx="0.9" ry="1.19" fill="url(#gDrop)" transform="rotate(-6.53 445.33 606.51)"/>
<ellipse cx="401.71" cy="632.3" rx="1.14" ry="1.55" fill="#7cc3d9" fill-opacity="0.5" transform="rotate(38.2 401.31 631.84)"/>
<ellipse cx="401.31" cy="631.84" rx="1.14" ry="1.55" fill="url(#gDrop)" transform="rotate(38.2 401.31 631.84)"/>
<ellipse cx="403.31" cy="587.23" rx="1.8" ry="2.55" fill="#7cc3d9" fill-opacity="0.5" transform="rotate(21.57 402.68 586.51)"/>
<ellipse cx="402.68" cy="586.51" rx="1.8" ry="2.55" fill="url(#gDrop)" transform="rotate(21.57 402.68 586.51)"/>
<ellipse cx="459.45" cy="591.07" rx="0.91" ry="1.1" fill="#7cc3d9" fill-opacity="0.5" transform="rotate(29.46 459.13 590.71)"/>
<ellipse cx="459.13" cy="590.71" rx="0.91" ry="1.1" fill="url(#gDrop)" transform="rotate(29.46 459.13 590.71)"/>
<ellipse cx="442.83" cy="645.34" rx="1.22" ry="1.64" fill="#7cc3d9" fill-opacity="0.5" transform="rotate(39.61 442.4 644.85)"/>
<ellipse cx="442.4" cy="644.85" rx="1.22" ry="1.64" fill="url(#gDrop)" transform="rotate(39.61 442.4 644.85)"/>
<ellipse cx="441.17" cy="670.35" rx="0.9" ry="1.06" fill="#7cc3d9" fill-opacity="0.5" transform="rotate(-2.24 440.85 669.99)"/>
<ellipse cx="440.85" cy="669.99" rx="0.9" ry="1.06" fill="url(#gDrop)" transform="rotate(-2.24 440.85 669.99)"/>
<ellipse cx="382.28" cy="679.85" rx="0.9" ry="1.14" fill="#7cc3d9" fill-opacity="0.5" transform="rotate(15.2 381.96 679.49)"/>
<ellipse cx="381.96" cy="679.49" rx="0.9" ry="1.14" fill="url(#gDrop)" transform="rotate(15.2 381.96 679.49)"/>
<ellipse cx="371.32" cy="601.76" rx="4.2" ry="6.36" fill="#7cc3d9" fill-opacity="0.5" transform="rotate(10.09 369.85 600.07)"/>
<ellipse cx="369.85" cy="600.07" rx="4.2" ry="6.36" fill="url(#gDrop)" transform="rotate(10.09 369.85 600.07)"/>
<ellipse cx="460.92" cy="738.19" rx="1.3" ry="1.34" fill="#7cc3d9" fill-opacity="0.5" transform="rotate(19.5 460.47 737.67)"/>
<ellipse cx="460.47" cy="737.67" rx="1.3" ry="1.34" fill="url(#gDrop)" transform="rotate(19.5 460.47 737.67)"/>
<ellipse cx="379.36" cy="727.51" rx="0.91" ry="1.13" fill="#7cc3d9" fill-opacity="0.5" transform="rotate(10.91 379.04 727.15)"/>
<ellipse cx="379.04" cy="727.15" rx="0.91" ry="1.13" fill="url(#gDrop)" transform="rotate(10.91 379.04 727.15)"/>
<ellipse cx="376.14" cy="534.91" rx="0.97" ry="1.29" fill="#7cc3d9" fill-opacity="0.5" transform="rotate(13.1 375.8 534.52)"/>
<ellipse cx="375.8" cy="534.52" rx="0.97" ry="1.29" fill="url(#gDrop)" transform="rotate(13.1 375.8 534.52)"/>
<ellipse cx="399.85" cy="686.03" rx="1.54" ry="2.14" fill="#7cc3d9" fill-opacity="0.5" transform="rotate(14.98 399.31 685.42)"/>
<ellipse cx="399.31" cy="685.42" rx="1.54" ry="2.14" fill="url(#gDrop)" transform="rotate(14.98 399.31 685.42)"/>
<ellipse cx="460.67" cy="730.97" rx="1.96" ry="3.01" fill="#7cc3d9" fill-opacity="0.5" transform="rotate(14.09 459.98 730.19)"/>
<ellipse cx="459.98" cy="730.19" rx="1.96" ry="3.01" fill="url(#gDrop)" transform="rotate(14.09 459.98 730.19)"/>
<ellipse cx="452.9" cy="723.32" rx="1.78" ry="1.89" fill="#7cc3d9" fill-opacity="0.5" transform="rotate(26.56 452.27 722.61)"/>
<ellipse cx="452.27" cy="722.61" rx="1.78" ry="1.89" fill="url(#gDrop)" transform="rotate(26.56 452.27 722.61)"/>
<ellipse cx="410.58" cy="648.18" rx="0.92" ry="1.09" fill="#7cc3d9" fill-opacity="0.5" transform="rotate(23.26 410.25 647.81)"/>
<ellipse cx="410.25" cy="647.81" rx="0.92" ry="1.09" fill="url(#gDrop)" transform="rotate(23.26 410.25 647.81)"/>
<ellipse cx="382.36" cy="730.69" rx="4.46" ry="6.66" fill="#7cc3d9" fill-opacity="0.5" transform="rotate(26.69 380.8 728.91)"/>
<ellipse cx="380.8" cy="728.91" rx="4.46" ry="6.66" fill="url(#gDrop)" transform="rotate(26.69 380.8 728.91)"/>
<ellipse cx="404.5" cy="598.46" rx="2.84" ry="2.89" fill="#7cc3d9" fill-opacity="0.5" transform="rotate(44.4 403.51 597.33)"/>
<ellipse cx="403.51" cy="597.33" rx="2.84" ry="2.89" fill="url(#gDrop)" transform="rotate(44.4 403.51 597.33)"/>
<ellipse cx="454.13" cy="616.34" rx="1.15" ry="1.64" fill="#7cc3d9" fill-opacity="0.5" transform="rotate(31.99 453.73 615.87)"/>
<ellipse cx="453.73" cy="615.87" rx="1.15" ry="1.64" fill="url(#gDrop)" transform="rotate(31.99 453.73 615.87)"/>
<ellipse cx="419.59" cy="725.26" rx="1.75" ry="2.67" fill="#7cc3d9" fill-opacity="0.5" transform="rotate(21.08 418.98 724.56)"/>
<ellipse cx="418.98" cy="724.56" rx="1.75" ry="2.67" fill="url(#gDrop)" transform="rotate(21.08 418.98 724.56)"/>
<ellipse cx="393.76" cy="594.6" rx="4.45" ry="6.5" fill="#7cc3d9" fill-opacity="0.5" transform="rotate(27.92 392.21 592.83)"/>
<ellipse cx="392.21" cy="592.83" rx="4.45" ry="6.5" fill="url(#gDrop)" transform="rotate(27.92 392.21 592.83)"/>
<ellipse cx="409.05" cy="561.51" rx="2.74" ry="4.24" fill="#7cc3d9" fill-opacity="0.5" transform="rotate(13.5 408.09 560.42)"/>
<ellipse cx="408.09" cy="560.42" rx="2.74" ry="4.24" fill="url(#gDrop)" transform="rotate(13.5 408.09 560.42)"/>
<ellipse cx="450.64" cy="695.95" rx="1.4" ry="1.45" fill="#7cc3d9" fill-opacity="0.5" transform="rotate(28.78 450.15 695.39)"/>
<ellipse cx="450.15" cy="695.39" rx="1.4" ry="1.45" fill="url(#gDrop)" transform="rotate(28.78 450.15 695.39)"/>
<ellipse cx="424.09" cy="726.65" rx="4.29" ry="6.45" fill="#7cc3d9" fill-opacity="0.5" transform="rotate(14.3 422.59 724.93)"/>
<ellipse cx="422.59" cy="724.93" rx="4.29" ry="6.45" fill="url(#gDrop)" transform="rotate(14.3 422.59 724.93)"/>
<ellipse cx="435.94" cy="579.09" rx="2.86" ry="3.57" fill="#7cc3d9" fill-opacity="0.5" transform="rotate(20.2 434.94 577.95)"/>
<ellipse cx="434.94" cy="577.95" rx="2.86" ry="3.57" fill="url(#gDrop)" transform="rotate(20.2 434.94 577.95)"/>
<ellipse cx="419.61" cy="667.56" rx="1.09" ry="1.62" fill="#7cc3d9" fill-opacity="0.5" transform="rotate(40.4 419.23 667.12)"/>
<ellipse cx="419.23" cy="667.12" rx="1.09" ry="1.62" fill="url(#gDrop)" transform="rotate(40.4 419.23 667.12)"/>
<ellipse cx="457.24" cy="658.38" rx="1.91" ry="2.54" fill="#7cc3d9" fill-opacity="0.5" transform="rotate(12.77 456.58 657.62)"/>
<ellipse cx="456.58" cy="657.62" rx="1.91" ry="2.54" fill="url(#gDrop)" transform="rotate(12.77 456.58 657.62)"/>
<ellipse cx="381.56" cy="557.84" rx="2.43" ry="3.01" fill="#7cc3d9" fill-opacity="0.5" transform="rotate(37.87 380.71 556.87)"/>
<ellipse cx="380.71" cy="556.87" rx="2.43" ry="3.01" fill="url(#gDrop)" transform="rotate(37.87 380.71 556.87)"/>
<ellipse cx="429.36" cy="704.54" rx="2.32" ry="2.61" fill="#7cc3d9" fill-opacity="0.5" transform="rotate(14.35 428.55 703.61)"/>
<ellipse cx="428.55" cy="703.61" rx="2.32" ry="2.61" fill="url(#gDrop)" transform="rotate(14.35 428.55 703.61)"/>
<ellipse cx="391.71" cy="640.12" rx="4.25" ry="5.68" fill="#7cc3d9" fill-opacity="0.5" transform="rotate(13.4 390.22 638.42)"/>
<ellipse cx="390.22" cy="638.42" rx="4.25" ry="5.68" fill="url(#gDrop)" transform="rotate(13.4 390.22 638.42)"/>
<ellipse cx="396.55" cy="709.94" rx="2.99" ry="3.65" fill="#7cc3d9" fill-opacity="0.5" transform="rotate(36.98 395.5 708.74)"/>
<ellipse cx="395.5" cy="708.74" rx="2.99" ry="3.65" fill="url(#gDrop)" transform="rotate(36.98 395.5 708.74)"/>
<ellipse cx="447.43" cy="679.68" rx="0.92" ry="0.95" fill="#7cc3d9" fill-opacity="0.5" transform="rotate(1.88 447.11 679.31)"/>
<ellipse cx="447.11" cy="679.31" rx="0.92" ry="0.95" fill="url(#gDrop)" transform="rotate(1.88 447.11 679.31)"/>
<ellipse cx="444.48" cy="599.22" rx="0.92" ry="1.05" fill="#7cc3d9" fill-opacity="0.5" transform="rotate(7.32 444.16 598.85)"/>
<ellipse cx="444.16" cy="598.85" rx="0.92" ry="1.05" fill="url(#gDrop)" transform="rotate(7.32 444.16 598.85)"/>
<ellipse cx="414.19" cy="640.67" rx="1.34" ry="1.55" fill="#7cc3d9" fill-opacity="0.5" transform="rotate(38.15 413.72 640.14)"/>
<ellipse cx="413.72" cy="640.14" rx="1.34" ry="1.55" fill="url(#gDrop)" transform="rotate(38.15 413.72 640.14)"/>
<ellipse cx="429.56" cy="612.8" rx="1.22" ry="1.36" fill="#7cc3d9" fill-opacity="0.5" transform="rotate(21.08 429.13 612.32)"/>
<ellipse cx="429.13" cy="612.32" rx="1.22" ry="1.36" fill="url(#gDrop)" transform="rotate(21.08 429.13 612.32)"/>
<ellipse cx="408.66" cy="628.34" rx="2.16" ry="2.37" fill="#7cc3d9" fill-opacity="0.5" transform="rotate(28.1 407.9 627.47)"/>
<ellipse cx="407.9" cy="627.47" rx="2.16" ry="2.37" fill="url(#gDrop)" transform="rotate(28.1 407.9 627.47)"/>
<ellipse cx="377.57" cy="711.62" rx="3.27" ry="3.6" fill="#7cc3d9" fill-opacity="0.5" transform="rotate(11.14 376.42 710.32)"/>
<ellipse cx="376.42" cy="710.32" rx="3.27" ry="3.6" fill="url(#gDrop)" transform="rotate(11.14 376.42 710.32)"/>
<ellipse cx="402.52" cy="744.63" rx="2.75" ry="4.12" fill="#7cc3d9" fill-opacity="0.5" transform="rotate(32.22 401.56 743.53)"/>
<ellipse cx="401.56" cy="743.53" rx="2.75" ry="4.12" fill="url(#gDrop)" transform="rotate(32.22 401.56 743.53)"/>
<ellipse cx="390.22" cy="647.96" rx="1" ry="1.48" fill="#7cc3d9" fill-opacity="0.5" transform="rotate(26.83 389.88 647.56)"/>
<ellipse cx="389.88" cy="647.56" rx="1" ry="1.48" fill="url(#gDrop)" transform="rotate(26.83 389.88 647.56)"/>
<ellipse cx="448.4" cy="573.04" rx="2.02" ry="2.85" fill="#7cc3d9" fill-opacity="0.5" transform="rotate(24.49 447.7 572.24)"/>
<ellipse cx="447.7" cy="572.24" rx="2.02" ry="2.85" fill="url(#gDrop)" transform="rotate(24.49 447.7 572.24)"/>
<ellipse cx="463.49" cy="673.34" rx="1.19" ry="1.71" fill="#7cc3d9" fill-opacity="0.5" transform="rotate(22.44 463.07 672.86)"/>
<ellipse cx="463.07" cy="672.86" rx="1.19" ry="1.71" fill="url(#gDrop)" transform="rotate(22.44 463.07 672.86)"/>
<ellipse cx="428.6" cy="593.95" rx="1.35" ry="2" fill="#7cc3d9" fill-opacity="0.5" transform="rotate(17.86 428.13 593.41)"/>
<ellipse cx="428.13" cy="593.41" rx="1.35" ry="2" fill="url(#gDrop)" transform="rotate(17.86 428.13 593.41)"/>
<ellipse cx="465.54" cy="565.91" rx="4.05" ry="4.97" fill="#7cc3d9" fill-opacity="0.5" transform="rotate(43.61 464.12 564.29)"/>
<ellipse cx="464.12" cy="564.29" rx="4.05" ry="4.97" fill="url(#gDrop)" transform="rotate(43.61 464.12 564.29)"/>
<ellipse cx="423.2" cy="662.08" rx="1.66" ry="1.91" fill="#7cc3d9" fill-opacity="0.5" transform="rotate(21.57 422.62 661.41)"/>
<ellipse cx="422.62" cy="661.41" rx="1.66" ry="1.91" fill="url(#gDrop)" transform="rotate(21.57 422.62 661.41)"/>
<ellipse cx="401.45" cy="735.35" rx="2.17" ry="3.17" fill="#7cc3d9" fill-opacity="0.5" transform="rotate(28.96 400.69 734.48)"/>
<ellipse cx="400.69" cy="734.48" rx="2.17" ry="3.17" fill="url(#gDrop)" transform="rotate(28.96 400.69 734.48)"/>
<ellipse cx="422.22" cy="594.45" rx="2.56" ry="2.92" fill="#7cc3d9" fill-opacity="0.5" transform="rotate(19.89 421.32 593.43)"/>
<ellipse cx="421.32" cy="593.43" rx="2.56" ry="2.92" fill="url(#gDrop)" transform="rotate(19.89 421.32 593.43)"/>
<ellipse cx="422.34" cy="643.26" rx="0.91" ry="1.3" fill="#7cc3d9" fill-opacity="0.5" transform="rotate(26.89 422.03 642.9)"/>
<ellipse cx="422.03" cy="642.9" rx="0.91" ry="1.3" fill="url(#gDrop)" transform="rotate(26.89 422.03 642.9)"/>
<ellipse cx="419.38" cy="668.35" rx="0.95" ry="1.47" fill="#7cc3d9" fill-opacity="0.5" transform="rotate(0.94 419.05 667.97)"/>
<ellipse cx="419.05" cy="667.97" rx="0.95" ry="1.47" fill="url(#gDrop)" transform="rotate(0.94 419.05 667.97)"/>
<ellipse cx="431.76" cy="669.98" rx="0.93" ry="0.95" fill="#7cc3d9" fill-opacity="0.5" transform="rotate(11.51 431.44 669.6)"/>
<ellipse cx="431.44" cy="669.6" rx="0.93" ry="0.95" fill="url(#gDrop)" transform="rotate(11.51 431.44 669.6)"/>
<ellipse cx="392.81" cy="687.54" rx="2.68" ry="4.12" fill="#7cc3d9" fill-opacity="0.5" transform="rotate(10.59 391.88 686.46)"/>
<ellipse cx="391.88" cy="686.46" rx="2.68" ry="4.12" fill="url(#gDrop)" transform="rotate(10.59 391.88 686.46)"/>
<ellipse cx="375.8" cy="704.37" rx="1.46" ry="1.71" fill="#7cc3d9" fill-opacity="0.5" transform="rotate(19.91 375.29 703.78)"/>
<ellipse cx="375.29" cy="703.78" rx="1.46" ry="1.71" fill="url(#gDrop)" transform="rotate(19.91 375.29 703.78)"/>
<ellipse cx="382.65" cy="592.35" rx="3.79" ry="5.58" fill="#7cc3d9" fill-opacity="0.5" transform="rotate(30.13 381.33 590.84)"/>
<ellipse cx="381.33" cy="590.84" rx="3.79" ry="5.58" fill="url(#gDrop)" transform="rotate(30.13 381.33 590.84)"/>
<ellipse cx="431.45" cy="738.97" rx="1.07" ry="1.46" fill="#7cc3d9" fill-opacity="0.5" transform="rotate(46.75 431.08 738.54)"/>
<ellipse cx="431.08" cy="738.54" rx="1.07" ry="1.46" fill="url(#gDrop)" transform="rotate(46.75 431.08 738.54)"/>
<ellipse cx="435.66" cy="690.14" rx="1.59" ry="1.64" fill="#7cc3d9" fill-opacity="0.5" transform="rotate(8.5 435.1 689.51)"/>
<ellipse cx="435.1" cy="689.51" rx="1.59" ry="1.64" fill="url(#gDrop)" transform="rotate(8.5 435.1 689.51)"/>
<ellipse cx="465.06" cy="671.56" rx="3.36" ry="3.83" fill="#7cc3d9" fill-opacity="0.5" transform="rotate(33.76 463.88 670.22)"/>
<ellipse cx="463.88" cy="670.22" rx="3.36" ry="3.83" fill="url(#gDrop)" transform="rotate(33.76 463.88 670.22)"/>
<ellipse cx="377.06" cy="569.59" rx="1.05" ry="1.06" fill="#7cc3d9" fill-opacity="0.5" transform="rotate(22.45 376.69 569.17)"/>
<ellipse cx="376.69" cy="569.17" rx="1.05" ry="1.06" fill="url(#gDrop)" transform="rotate(22.45 376.69 569.17)"/>
<ellipse cx="377.15" cy="679.55" rx="4.29" ry="6.01" fill="#7cc3d9" fill-opacity="0.5" transform="rotate(31.2 375.65 677.83)"/>
<ellipse cx="375.65" cy="677.83" rx="4.29" ry="6.01" fill="url(#gDrop)" transform="rotate(31.2 375.65 677.83)"/>
<ellipse cx="377.6" cy="626.81" rx="1.17" ry="1.64" fill="#7cc3d9" fill-opacity="0.5" transform="rotate(30.5 377.19 626.34)"/>
<ellipse cx="377.19" cy="626.34" rx="1.17" ry="1.64" fill="url(#gDrop)" transform="rotate(30.5 377.19 626.34)"/>
<ellipse cx="382.31" cy="592.92" rx="1.72" ry="2.65" fill="#7cc3d9" fill-opacity="0.5" transform="rotate(7.12 381.7 592.24)"/>
<ellipse cx="381.7" cy="592.24" rx="1.72" ry="2.65" fill="url(#gDrop)" transform="rotate(7.12 381.7 592.24)"/>
<ellipse cx="448.41" cy="603.15" rx="1.8" ry="2.34" fill="#7cc3d9" fill-opacity="0.5" transform="rotate(16.72 447.78 602.43)"/>
<ellipse cx="447.78" cy="602.43" rx="1.8" ry="2.34" fill="url(#gDrop)" transform="rotate(16.72 447.78 602.43)"/>
<ellipse cx="424.23" cy="660.44" rx="1.04" ry="1.1" fill="#7cc3d9" fill-opacity="0.5" transform="rotate(9 423.86 660.03)"/>
<ellipse cx="423.86" cy="660.03" rx="1.04" ry="1.1" fill="url(#gDrop)" transform="rotate(9 423.86 660.03)"/>
<ellipse cx="387.1" cy="537.37" rx="0.93" ry="1.27" fill="#7cc3d9" fill-opacity="0.5" transform="rotate(35.35 386.77 536.99)"/>
<ellipse cx="386.77" cy="536.99" rx="0.93" ry="1.27" fill="url(#gDrop)" transform="rotate(35.35 386.77 536.99)"/>
<ellipse cx="421.54" cy="739.49" rx="1.55" ry="2.29" fill="#7cc3d9" fill-opacity="0.5" transform="rotate(16.01 420.99 738.87)"/>
<ellipse cx="420.99" cy="738.87" rx="1.55" ry="2.29" fill="url(#gDrop)" transform="rotate(16.01 420.99 738.87)"/>
<ellipse cx="374.9" cy="581.96" rx="3.72" ry="4.75" fill="#7cc3d9" fill-opacity="0.5" transform="rotate(23.22 373.6 580.47)"/>
<ellipse cx="373.6" cy="580.47" rx="3.72" ry="4.75" fill="url(#gDrop)" transform="rotate(23.22 373.6 580.47)"/>
<ellipse cx="376.2" cy="587.87" rx="0.95" ry="1.25" fill="#7cc3d9" fill-opacity="0.5" transform="rotate(16.72 375.87 587.49)"/>
<ellipse cx="375.87" cy="587.49" rx="0.95" ry="1.25" fill="url(#gDrop)" transform="rotate(16.72 375.87 587.49)"/>
<ellipse cx="441.09" cy="602.07" rx="2.6" ry="4.04" fill="#7cc3d9" fill-opacity="0.5" transform="rotate(31.44 440.18 601.03)"/>
<ellipse cx="440.18" cy="601.03" rx="2.6" ry="4.04" fill="url(#gDrop)" transform="rotate(31.44 440.18 601.03)"/>
<ellipse cx="400.81" cy="549.67" rx="0.97" ry="1.01" fill="#7cc3d9" fill-opacity="0.5" transform="rotate(28.55 400.47 549.28)"/>
<ellipse cx="400.47" cy="549.28" rx="0.97" ry="1.01" fill="url(#gDrop)" transform="rotate(28.55 400.47 549.28)"/>
<ellipse cx="388.98" cy="542.39" rx="1.27" ry="1.53" fill="#7cc3d9" fill-opacity="0.5" transform="rotate(23.74 388.54 541.88)"/>
<ellipse cx="388.54" cy="541.88" rx="1.27" ry="1.53" fill="url(#gDrop)" transform="rotate(23.74 388.54 541.88)"/>
<ellipse cx="378.82" cy="661.73" rx="0.9" ry="1.38" fill="#7cc3d9" fill-opacity="0.5" transform="rotate(18.24 378.5 661.37)"/>
<ellipse cx="378.5" cy="661.37" rx="0.9" ry="1.38" fill="url(#gDrop)" transform="rotate(18.24 378.5 661.37)"/>
<ellipse cx="374.88" cy="606.26" rx="1.81" ry="1.95" fill="#7cc3d9" fill-opacity="0.5" transform="rotate(29.25 374.24 605.53)"/>
<ellipse cx="374.24" cy="605.53" rx="1.81" ry="1.95" fill="url(#gDrop)" transform="rotate(29.25 374.24 605.53)"/>
<ellipse cx="369.09" cy="576.93" rx="1.55" ry="2.06" fill="#7cc3d9" fill-opacity="0.5" transform="rotate(4.65 368.55 576.31)"/>
<ellipse cx="368.55" cy="576.31" rx="1.55" ry="2.06" fill="url(#gDrop)" transform="rotate(4.65 368.55 576.31)"/>
<ellipse cx="465.04" cy="681.86" rx="3.96" ry="6.12" fill="#7cc3d9" fill-opacity="0.5" transform="rotate(17.21 463.66 680.27)"/>
<ellipse cx="463.66" cy="680.27" rx="3.96" ry="6.12" fill="url(#gDrop)" transform="rotate(17.21 463.66 680.27)"/>
<ellipse cx="408.59" cy="713.77" rx="1.06" ry="1.1" fill="#7cc3d9" fill-opacity="0.5" transform="rotate(23.92 408.22 713.35)"/>
<ellipse cx="408.22" cy="713.35" rx="1.06" ry="1.1" fill="url(#gDrop)" transform="rotate(23.92 408.22 713.35)"/>
<ellipse cx="415.72" cy="570.02" rx="1.46" ry="1.92" fill="#7cc3d9" fill-opacity="0.5" transform="rotate(10.73 415.21 569.43)"/>
<ellipse cx="415.21" cy="569.43" rx="1.46" ry="1.92" fill="url(#gDrop)" transform="rotate(10.73 415.21 569.43)"/>
<ellipse cx="382.57" cy="570.92" rx="2.23" ry="2.28" fill="#7cc3d9" fill-opacity="0.5" transform="rotate(13.98 381.8 570.03)"/>
<ellipse cx="381.8" cy="570.03" rx="2.23" ry="2.28" fill="url(#gDrop)" transform="rotate(13.98 381.8 570.03)"/>
<ellipse cx="387.48" cy="537.06" rx="1.05" ry="1.05" fill="#7cc3d9" fill-opacity="0.5" transform="rotate(31.7 387.11 536.64)"/>
<ellipse cx="387.11" cy="536.64" rx="1.05" ry="1.05" fill="url(#gDrop)" transform="rotate(31.7 387.11 536.64)"/>
<ellipse cx="395.52" cy="616.13" rx="3.97" ry="4.74" fill="#7cc3d9" fill-opacity="0.5" transform="rotate(56.33 394.13 614.54)"/>
<ellipse cx="394.13" cy="614.54" rx="3.97" ry="4.74" fill="url(#gDrop)" transform="rotate(56.33 394.13 614.54)"/>
<ellipse cx="407.85" cy="664.55" rx="2.56" ry="3.45" fill="#7cc3d9" fill-opacity="0.5" transform="rotate(19.71 406.96 663.52)"/>
<ellipse cx="406.96" cy="663.52" rx="2.56" ry="3.45" fill="url(#gDrop)" transform="rotate(19.71 406.96 663.52)"/>
<ellipse cx="456.07" cy="637.14" rx="0.92" ry="1.06" fill="#7cc3d9" fill-opacity="0.5" transform="rotate(20.15 455.75 636.77)"/>
<ellipse cx="455.75" cy="636.77" rx="0.92" ry="1.06" fill="url(#gDrop)" transform="rotate(20.15 455.75 636.77)"/>
<ellipse cx="380.15" cy="727.64" rx="1.99" ry="2.42" fill="#7cc3d9" fill-opacity="0.5" transform="rotate(30.59 379.46 726.84)"/>
<ellipse cx="379.46" cy="726.84" rx="1.99" ry="2.42" fill="url(#gDrop)" transform="rotate(30.59 379.46 726.84)"/>
<ellipse cx="374.35" cy="608.34" rx="1.95" ry="2.85" fill="#7cc3d9" fill-opacity="0.5" transform="rotate(53.37 373.67 607.56)"/>
<ellipse cx="373.67" cy="607.56" rx="1.95" ry="2.85" fill="url(#gDrop)" transform="rotate(53.37 373.67 607.56)"/>
<ellipse cx="373.22" cy="604.66" rx="1.31" ry="1.84" fill="#7cc3d9" fill-opacity="0.5" transform="rotate(8.98 372.77 604.14)"/>
<ellipse cx="372.77" cy="604.14" rx="1.31" ry="1.84" fill="url(#gDrop)" transform="rotate(8.98 372.77 604.14)"/>
<ellipse cx="411.37" cy="635.82" rx="1.69" ry="1.9" fill="#7cc3d9" fill-opacity="0.5" transform="rotate(12.02 410.78 635.14)"/>
<ellipse cx="410.78" cy="635.14" rx="1.69" ry="1.9" fill="url(#gDrop)" transform="rotate(12.02 410.78 635.14)"/>
<ellipse cx="459.54" cy="580.88" rx="1.59" ry="1.79" fill="#7cc3d9" fill-opacity="0.5" transform="rotate(36.19 458.99 580.25)"/>
<ellipse cx="458.99" cy="580.25" rx="1.59" ry="1.79" fill="url(#gDrop)" transform="rotate(36.19 458.99 580.25)"/>
<ellipse cx="411.78" cy="582.97" rx="1.12" ry="1.24" fill="#7cc3d9" fill-opacity="0.5" transform="rotate(-2.26 411.39 582.52)"/>
<ellipse cx="411.39" cy="582.52" rx="1.12" ry="1.24" fill="url(#gDrop)" transform="rotate(-2.26 411.39 582.52)"/>
<ellipse cx="371.65" cy="748.82" rx="1.1" ry="1.22" fill="#7cc3d9" fill-opacity="0.5" transform="rotate(31.55 371.27 748.38)"/>
<ellipse cx="371.27" cy="748.38" rx="1.1" ry="1.22" fill="url(#gDrop)" transform="rotate(31.55 371.27 748.38)"/>
<ellipse cx="390.69" cy="580.65" rx="2.5" ry="3.5" fill="#7cc3d9" fill-opacity="0.5" transform="rotate(22.58 389.81 579.65)"/>
<ellipse cx="389.81" cy="579.65" rx="2.5" ry="3.5" fill="url(#gDrop)" transform="rotate(22.58 389.81 579.65)"/>
<ellipse cx="371.72" cy="642.34" rx="1.59" ry="1.95" fill="#7cc3d9" fill-opacity="0.5" transform="rotate(7.56 371.16 641.71)"/>
<ellipse cx="371.16" cy="641.71" rx="1.59" ry="1.95" fill="url(#gDrop)" transform="rotate(7.56 371.16 641.71)"/>
<ellipse cx="459.26" cy="559.9" rx="0.92" ry="1.17" fill="#7cc3d9" fill-opacity="0.5" transform="rotate(15.6 458.94 559.53)"/>
<ellipse cx="458.94" cy="559.53" rx="0.92" ry="1.17" fill="url(#gDrop)" transform="rotate(15.6 458.94 559.53)"/>
<ellipse cx="403.37" cy="654.51" rx="1.11" ry="1.7" fill="#7cc3d9" fill-opacity="0.5" transform="rotate(31.36 402.98 654.06)"/>
<ellipse cx="402.98" cy="654.06" rx="1.11" ry="1.7" fill="url(#gDrop)" transform="rotate(31.36 402.98 654.06)"/>
<ellipse cx="414.15" cy="748.05" rx="0.92" ry="1.24" fill="#7cc3d9" fill-opacity="0.5" transform="rotate(22.9 413.83 747.68)"/>
<ellipse cx="413.83" cy="747.68" rx="0.92" ry="1.24" fill="url(#gDrop)" transform="rotate(22.9 413.83 747.68)"/>
<ellipse cx="448" cy="579.49" rx="1.35" ry="1.54" fill="#7cc3d9" fill-opacity="0.5" transform="rotate(-5.44 447.53 578.95)"/>
<ellipse cx="447.53" cy="578.95" rx="1.35" ry="1.54" fill="url(#gDrop)" transform="rotate(-5.44 447.53 578.95)"/>
<ellipse cx="417.13" cy="555.35" rx="1.16" ry="1.66" fill="#7cc3d9" fill-opacity="0.5" transform="rotate(43.85 416.72 554.89)"/>
<ellipse cx="416.72" cy="554.89" rx="1.16" ry="1.66" fill="url(#gDrop)" transform="rotate(43.85 416.72 554.89)"/>
<ellipse cx="437.24" cy="722.42" rx="1.26" ry="1.48" fill="#7cc3d9" fill-opacity="0.5" transform="rotate(13.28 436.8 721.91)"/>
<ellipse cx="436.8" cy="721.91" rx="1.26" ry="1.48" fill="url(#gDrop)" transform="rotate(13.28 436.8 721.91)"/>
<ellipse cx="383.92" cy="636.09" rx="1.47" ry="1.68" fill="#7cc3d9" fill-opacity="0.5" transform="rotate(1.61 383.41 635.5)"/>
<ellipse cx="383.41" cy="635.5" rx="1.47" ry="1.68" fill="url(#gDrop)" transform="rotate(1.61 383.41 635.5)"/>
<ellipse cx="437.72" cy="560.84" rx="4.19" ry="4.77" fill="#7cc3d9" fill-opacity="0.5" transform="rotate(18.11 436.25 559.16)"/>
<ellipse cx="436.25" cy="559.16" rx="4.19" ry="4.77" fill="url(#gDrop)" transform="rotate(18.11 436.25 559.16)"/>
<ellipse cx="402.58" cy="657.44" rx="3.14" ry="3.49" fill="#7cc3d9" fill-opacity="0.5" transform="rotate(51.38 401.48 656.18)"/>
<ellipse cx="401.48" cy="656.18" rx="3.14" ry="3.49" fill="url(#gDrop)" transform="rotate(51.38 401.48 656.18)"/>
<ellipse cx="374.61" cy="644.49" rx="1.57" ry="2.12" fill="#7cc3d9" fill-opacity="0.5" transform="rotate(20.31 374.06 643.86)"/>
<ellipse cx="374.06" cy="643.86" rx="1.57" ry="2.12" fill="url(#gDrop)" transform="rotate(20.31 374.06 643.86)"/>
<ellipse cx="455.78" cy="684.57" rx="4.31" ry="6.14" fill="#7cc3d9" fill-opacity="0.5" transform="rotate(3.85 454.27 682.84)"/>
<ellipse cx="454.27" cy="682.84" rx="4.31" ry="6.14" fill="url(#gDrop)" transform="rotate(3.85 454.27 682.84)"/>
<ellipse cx="412.53" cy="582.66" rx="0.99" ry="1.35" fill="#7cc3d9" fill-opacity="0.5" transform="rotate(2.74 412.18 582.27)"/>
<ellipse cx="412.18" cy="582.27" rx="0.99" ry="1.35" fill="url(#gDrop)" transform="rotate(2.74 412.18 582.27)"/>
<ellipse cx="406.55" cy="679.92" rx="0.9" ry="1.19" fill="#7cc3d9" fill-opacity="0.5" transform="rotate(6.05 406.23 679.56)"/>
<ellipse cx="406.23" cy="679.56" rx="0.9" ry="1.19" fill="url(#gDrop)" transform="rotate(6.05 406.23 679.56)"/>
<ellipse cx="393.32" cy="630.8" rx="0.99" ry="1.22" fill="#7cc3d9" fill-opacity="0.5" transform="rotate(14.26 392.97 630.4)"/>
<ellipse cx="392.97" cy="630.4" rx="0.99" ry="1.22" fill="url(#gDrop)" transform="rotate(14.26 392.97 630.4)"/>
<ellipse cx="457.29" cy="537.85" rx="0.93" ry="1.38" fill="#7cc3d9" fill-opacity="0.5" transform="rotate(30.4 456.96 537.48)"/>
<ellipse cx="456.96" cy="537.48" rx="0.93" ry="1.38" fill="url(#gDrop)" transform="rotate(30.4 456.96 537.48)"/>
<ellipse cx="464.75" cy="729.11" rx="1.29" ry="1.54" fill="#7cc3d9" fill-opacity="0.5" transform="rotate(5.18 464.29 728.59)"/>
<ellipse cx="464.29" cy="728.59" rx="1.29" ry="1.54" fill="url(#gDrop)" transform="rotate(5.18 464.29 728.59)"/>
<ellipse cx="453.85" cy="650.53" rx="1.94" ry="2.19" fill="#7cc3d9" fill-opacity="0.5" transform="rotate(27.93 453.17 649.75)"/>
<ellipse cx="453.17" cy="649.75" rx="1.94" ry="2.19" fill="url(#gDrop)" transform="rotate(27.93 453.17 649.75)"/>
<ellipse cx="444.36" cy="721.4" rx="1.35" ry="1.7" fill="#7cc3d9" fill-opacity="0.5" transform="rotate(14.52 443.89 720.85)"/>
<ellipse cx="443.89" cy="720.85" rx="1.35" ry="1.7" fill="url(#gDrop)" transform="rotate(14.52 443.89 720.85)"/>
<ellipse cx="460.79" cy="574.59" rx="0.98" ry="1.04" fill="#7cc3d9" fill-opacity="0.5" transform="rotate(20.35 460.45 574.19)"/>
<ellipse cx="460.45" cy="574.19" rx="0.98" ry="1.04" fill="url(#gDrop)" transform="rotate(20.35 460.45 574.19)"/>
<ellipse cx="462.89" cy="613.65" rx="1.5" ry="2.07" fill="#7cc3d9" fill-opacity="0.5" transform="rotate(14.22 462.37 613.06)"/>
<ellipse cx="462.37" cy="613.06" rx="1.5" ry="2.07" fill="url(#gDrop)" transform="rotate(14.22 462.37 613.06)"/>
<ellipse cx="419.24" cy="733.23" rx="1.04" ry="1.23" fill="#7cc3d9" fill-opacity="0.5" transform="rotate(3.1 418.87 732.81)"/>
<ellipse cx="418.87" cy="732.81" rx="1.04" ry="1.23" fill="url(#gDrop)" transform="rotate(3.1 418.87 732.81)"/>
<ellipse cx="455.39" cy="701.44" rx="2.56" ry="2.84" fill="#7cc3d9" fill-opacity="0.5" transform="rotate(-4.6 454.5 700.41)"/>
<ellipse cx="454.5" cy="700.41" rx="2.56" ry="2.84" fill="url(#gDrop)" transform="rotate(-4.6 454.5 700.41)"/>
<ellipse cx="368.9" cy="619.79" rx="1.13" ry="1.29" fill="#7cc3d9" fill-opacity="0.5" transform="rotate(28.89 368.51 619.34)"/>
<ellipse cx="368.51" cy="619.34" rx="1.13" ry="1.29" fill="url(#gDrop)" transform="rotate(28.89 368.51 619.34)"/>
<ellipse cx="453.91" cy="603.47" rx="1.22" ry="1.88" fill="#7cc3d9" fill-opacity="0.5" transform="rotate(25.84 453.48 602.99)"/>
<ellipse cx="453.48" cy="602.99" rx="1.22" ry="1.88" fill="url(#gDrop)" transform="rotate(25.84 453.48 602.99)"/>
<ellipse cx="455.48" cy="571.36" rx="1.02" ry="1.34" fill="#7cc3d9" fill-opacity="0.5" transform="rotate(37.9 455.12 570.96)"/>
<ellipse cx="455.12" cy="570.96" rx="1.02" ry="1.34" fill="url(#gDrop)" transform="rotate(37.9 455.12 570.96)"/>
<ellipse cx="368.78" cy="705.08" rx="1.48" ry="2" fill="#7cc3d9" fill-opacity="0.5" transform="rotate(19.81 368.26 704.49)"/>
<ellipse cx="368.26" cy="704.49" rx="1.48" ry="2" fill="url(#gDrop)" transform="rotate(19.81 368.26 704.49)"/>
<ellipse cx="419.94" cy="613.57" rx="0.9" ry="1.22" fill="#7cc3d9" fill-opacity="0.5" transform="rotate(42.69 419.63 613.21)"/>
<ellipse cx="419.63" cy="613.21" rx="0.9" ry="1.22" fill="url(#gDrop)" transform="rotate(42.69 419.63 613.21)"/>
<ellipse cx="432.05" cy="644.79" rx="0.91" ry="1.36" fill="#7cc3d9" fill-opacity="0.5" transform="rotate(18.55 431.73 644.42)"/>
<ellipse cx="431.73" cy="644.42" rx="0.91" ry="1.36" fill="url(#gDrop)" transform="rotate(18.55 431.73 644.42)"/>
<ellipse cx="436.39" cy="700.34" rx="0.97" ry="1.1" fill="#7cc3d9" fill-opacity="0.5" transform="rotate(6.29 436.05 699.96)"/>
<ellipse cx="436.05" cy="699.96" rx="0.97" ry="1.1" fill="url(#gDrop)" transform="rotate(6.29 436.05 699.96)"/>
<ellipse cx="368.39" cy="664.74" rx="3.22" ry="3.39" fill="#7cc3d9" fill-opacity="0.5" transform="rotate(9.13 367.26 663.45)"/>
<ellipse cx="367.26" cy="663.45" rx="3.22" ry="3.39" fill="url(#gDrop)" transform="rotate(9.13 367.26 663.45)"/>
<ellipse cx="461.85" cy="620.25" rx="1.95" ry="2.58" fill="#7cc3d9" fill-opacity="0.5" transform="rotate(25.43 461.17 619.47)"/>
<ellipse cx="461.17" cy="619.47" rx="1.95" ry="2.58" fill="url(#gDrop)" transform="rotate(25.43 461.17 619.47)"/>
<ellipse cx="374.44" cy="713.21" rx="1.39" ry="2.12" fill="#7cc3d9" fill-opacity="0.5" transform="rotate(24.59 373.96 712.65)"/>
<ellipse cx="373.96" cy="712.65" rx="1.39" ry="2.12" fill="url(#gDrop)" transform="rotate(24.59 373.96 712.65)"/>
<ellipse cx="407.8" cy="689.84" rx="1.02" ry="1.26" fill="#7cc3d9" fill-opacity="0.5" transform="rotate(5.68 407.44 689.43)"/>
<ellipse cx="407.44" cy="689.43" rx="1.02" ry="1.26" fill="url(#gDrop)" transform="rotate(5.68 407.44 689.43)"/>
<ellipse cx="437.06" cy="691.75" rx="1.12" ry="1.57" fill="#7cc3d9" fill-opacity="0.5" transform="rotate(27.31 436.67 691.3)"/>
<ellipse cx="436.67" cy="691.3" rx="1.12" ry="1.57" fill="url(#gDrop)" transform="rotate(27.31 436.67 691.3)"/>
<ellipse cx="422.24" cy="682.02" rx="1.85" ry="1.86" fill="#7cc3d9" fill-opacity="0.5" transform="rotate(12 421.59 681.28)"/>
<ellipse cx="421.59" cy="681.28" rx="1.85" ry="1.86" fill="url(#gDrop)" transform="rotate(12 421.59 681.28)"/>
<ellipse cx="380.25" cy="705.21" rx="3.46" ry="5.05" fill="#7cc3d9" fill-opacity="0.5" transform="rotate(13.39 379.04 703.83)"/>
<ellipse cx="379.04" cy="703.83" rx="3.46" ry="5.05" fill="url(#gDrop)" transform="rotate(13.39 379.04 703.83)"/>
<ellipse cx="428.66" cy="614.73" rx="4.35" ry="5.97" fill="#7cc3d9" fill-opacity="0.5" transform="rotate(46.91 427.14 612.99)"/>
<ellipse cx="427.14" cy="612.99" rx="4.35" ry="5.97" fill="url(#gDrop)" transform="rotate(46.91 427.14 612.99)"/>
<ellipse cx="449.69" cy="677.27" rx="3.49" ry="3.76" fill="#7cc3d9" fill-opacity="0.5" transform="rotate(13.94 448.46 675.87)"/>
<ellipse cx="448.46" cy="675.87" rx="3.49" ry="3.76" fill="url(#gDrop)" transform="rotate(13.94 448.46 675.87)"/>
<ellipse cx="391.93" cy="537.26" rx="4.37" ry="5.8" fill="#7cc3d9" fill-opacity="0.5" transform="rotate(14.22 390.4 535.51)"/>
<ellipse cx="390.4" cy="535.51" rx="4.37" ry="5.8" fill="url(#gDrop)" transform="rotate(14.22 390.4 535.51)"/>
<ellipse cx="446.82" cy="657.97" rx="0.9" ry="0.97" fill="#7cc3d9" fill-opacity="0.5" transform="rotate(16.67 446.51 657.61)"/>
<ellipse cx="446.51" cy="657.61" rx="0.9" ry="0.97" fill="url(#gDrop)" transform="rotate(16.67 446.51 657.61)"/>
<ellipse cx="453.27" cy="656.74" rx="1.36" ry="2.08" fill="#7cc3d9" fill-opacity="0.5" transform="rotate(32.48 452.79 656.2)"/>
<ellipse cx="452.79" cy="656.2" rx="1.36" ry="2.08" fill="url(#gDrop)" transform="rotate(32.48 452.79 656.2)"/>
<ellipse cx="431" cy="666.9" rx="0.9" ry="1.27" fill="#7cc3d9" fill-opacity="0.5" transform="rotate(28.79 430.68 666.54)"/>
<ellipse cx="430.68" cy="666.54" rx="0.9" ry="1.27" fill="url(#gDrop)" transform="rotate(28.79 430.68 666.54)"/>
<ellipse cx="446.73" cy="706.99" rx="1.33" ry="1.95" fill="#7cc3d9" fill-opacity="0.5" transform="rotate(20 446.26 706.46)"/>
<ellipse cx="446.26" cy="706.46" rx="1.33" ry="1.95" fill="url(#gDrop)" transform="rotate(20 446.26 706.46)"/>
<ellipse cx="401.12" cy="619.65" rx="2.7" ry="3.01" fill="#7cc3d9" fill-opacity="0.5" transform="rotate(33.5 400.18 618.57)"/>
<ellipse cx="400.18" cy="618.57" rx="2.7" ry="3.01" fill="url(#gDrop)" transform="rotate(33.5 400.18 618.57)"/>
<ellipse cx="409.72" cy="746.07" rx="0.92" ry="1.18" fill="#7cc3d9" fill-opacity="0.5" transform="rotate(22.12 409.39 745.7)"/>
<ellipse cx="409.39" cy="745.7" rx="0.92" ry="1.18" fill="url(#gDrop)" transform="rotate(22.12 409.39 745.7)"/>
<ellipse cx="373.59" cy="543.91" rx="1.7" ry="2.54" fill="#7cc3d9" fill-opacity="0.5" transform="rotate(14.64 373 543.23)"/>
<ellipse cx="373" cy="543.23" rx="1.7" ry="2.54" fill="url(#gDrop)" transform="rotate(14.64 373 543.23)"/>
<ellipse cx="440.18" cy="714.79" rx="0.9" ry="1.1" fill="#7cc3d9" fill-opacity="0.5" transform="rotate(15.3 439.87 714.43)"/>
<ellipse cx="439.87" cy="714.43" rx="0.9" ry="1.1" fill="url(#gDrop)" transform="rotate(15.3 439.87 714.43)"/>
<ellipse cx="388.03" cy="688.47" rx="3.27" ry="3.55" fill="#7cc3d9" fill-opacity="0.5" transform="rotate(29.42 386.88 687.16)"/>
<ellipse cx="386.88" cy="687.16" rx="3.27" ry="3.55" fill="url(#gDrop)" transform="rotate(29.42 386.88 687.16)"/>
<ellipse cx="456.09" cy="649.91" rx="3.17" ry="4.12" fill="#7cc3d9" fill-opacity="0.5" transform="rotate(14.43 454.98 648.64)"/>
<ellipse cx="454.98" cy="648.64" rx="3.17" ry="4.12" fill="url(#gDrop)" transform="rotate(14.43 454.98 648.64)"/>
<ellipse cx="382.56" cy="726.82" rx="0.93" ry="1.12" fill="#7cc3d9" fill-opacity="0.5" transform="rotate(28.62 382.23 726.45)"/>
<ellipse cx="382.23" cy="726.45" rx="0.93" ry="1.12" fill="url(#gDrop)" transform="rotate(28.62 382.23 726.45)"/>
<ellipse cx="417.05" cy="630.82" rx="4.34" ry="5.6" fill="#7cc3d9" fill-opacity="0.5" transform="rotate(35.58 415.53 629.08)"/>
<ellipse cx="415.53" cy="629.08" rx="4.34" ry="5.6" fill="url(#gDrop)" transform="rotate(35.58 415.53 629.08)"/>
<ellipse cx="380.18" cy="616.56" rx="2.68" ry="2.82" fill="#7cc3d9" fill-opacity="0.5" transform="rotate(25.84 379.24 615.49)"/>
<ellipse cx="379.24" cy="615.49" rx="2.68" ry="2.82" fill="url(#gDrop)" transform="rotate(25.84 379.24 615.49)"/>
<ellipse cx="407.52" cy="615.73" rx="3.17" ry="3.99" fill="#7cc3d9" fill-opacity="0.5" transform="rotate(22.95 406.41 614.46)"/>
<ellipse cx="406.41" cy="614.46" rx="3.17" ry="3.99" fill="url(#gDrop)" transform="rotate(22.95 406.41 614.46)"/>
<ellipse cx="383.74" cy="623.55" rx="2.98" ry="3.26" fill="#7cc3d9" fill-opacity="0.5" transform="rotate(30.85 382.7 622.36)"/>
<ellipse cx="382.7" cy="622.36" rx="2.98" ry="3.26" fill="url(#gDrop)" transform="rotate(30.85 382.7 622.36)"/>
<ellipse cx="414.4" cy="544.53" rx="3.87" ry="3.97" fill="#7cc3d9" fill-opacity="0.5" transform="rotate(24.3 413.04 542.98)"/>
<ellipse cx="413.04" cy="542.98" rx="3.87" ry="3.97" fill="url(#gDrop)" transform="rotate(24.3 413.04 542.98)"/>
<ellipse cx="452.78" cy="565.72" rx="1.35" ry="1.78" fill="#7cc3d9" fill-opacity="0.5" transform="rotate(44.9 452.31 565.18)"/>
<ellipse cx="452.31" cy="565.18" rx="1.35" ry="1.78" fill="url(#gDrop)" transform="rotate(44.9 452.31 565.18)"/>
<ellipse cx="430.85" cy="588.19" rx="4.19" ry="5.06" fill="#7cc3d9" fill-opacity="0.5" transform="rotate(29.45 429.39 586.51)"/>
<ellipse cx="429.39" cy="586.51" rx="4.19" ry="5.06" fill="url(#gDrop)" transform="rotate(29.45 429.39 586.51)"/>
<ellipse cx="412.37" cy="622.21" rx="1.84" ry="2.27" fill="#7cc3d9" fill-opacity="0.5" transform="rotate(34.94 411.72 621.48)"/>
<ellipse cx="411.72" cy="621.48" rx="1.84" ry="2.27" fill="url(#gDrop)" transform="rotate(34.94 411.72 621.48)"/>
<ellipse cx="370.8" cy="645.99" rx="3.99" ry="5.04" fill="#7cc3d9" fill-opacity="0.5" transform="rotate(23.62 369.4 644.39)"/>
<ellipse cx="369.4" cy="644.39" rx="3.99" ry="5.04" fill="url(#gDrop)" transform="rotate(23.62 369.4 644.39)"/>
<ellipse cx="451.7" cy="560.29" rx="3.23" ry="4.36" fill="#7cc3d9" fill-opacity="0.5" transform="rotate(3.15 450.57 559)"/>
<ellipse cx="450.57" cy="559" rx="3.23" ry="4.36" fill="url(#gDrop)" transform="rotate(3.15 450.57 559)"/>
<ellipse cx="435.78" cy="550.43" rx="2.39" ry="2.9" fill="#7cc3d9" fill-opacity="0.5" transform="rotate(7.86 434.94 549.47)"/>
<ellipse cx="434.94" cy="549.47" rx="2.39" ry="2.9" fill="url(#gDrop)" transform="rotate(7.86 434.94 549.47)"/>
<ellipse cx="444.89" cy="744.03" rx="4.35" ry="5.85" fill="#7cc3d9" fill-opacity="0.5" transform="rotate(16.11 443.36 742.29)"/>
<ellipse cx="443.36" cy="742.29" rx="4.35" ry="5.85" fill="url(#gDrop)" transform="rotate(16.11 443.36 742.29)"/>
<ellipse cx="386.27" cy="662.44" rx="0.94" ry="1.31" fill="#7cc3d9" fill-opacity="0.5" transform="rotate(20.89 385.94 662.06)"/>
<ellipse cx="385.94" cy="662.06" rx="0.94" ry="1.31" fill="url(#gDrop)" transform="rotate(20.89 385.94 662.06)"/>
<ellipse cx="411.34" cy="638.94" rx="1.51" ry="2.18" fill="#7cc3d9" fill-opacity="0.5" transform="rotate(25.27 410.81 638.33)"/>
<ellipse cx="410.81" cy="638.33" rx="1.51" ry="2.18" fill="url(#gDrop)" transform="rotate(25.27 410.81 638.33)"/>
<ellipse cx="438.9" cy="611.25" rx="1.78" ry="2.58" fill="#7cc3d9" fill-opacity="0.5" transform="rotate(39.62 438.28 610.54)"/>
<ellipse cx="438.28" cy="610.54" rx="1.78" ry="2.58" fill="url(#gDrop)" transform="rotate(39.62 438.28 610.54)"/>
<ellipse cx="386.55" cy="572.37" rx="1.62" ry="2.42" fill="#7cc3d9" fill-opacity="0.5" transform="rotate(26.55 385.99 571.72)"/>
<ellipse cx="385.99" cy="571.72" rx="1.62" ry="2.42" fill="url(#gDrop)" transform="rotate(26.55 385.99 571.72)"/>
<ellipse cx="425.24" cy="555.73" rx="1.21" ry="1.87" fill="#7cc3d9" fill-opacity="0.5" transform="rotate(27.71 424.81 555.24)"/>
<ellipse cx="424.81" cy="555.24" rx="1.21" ry="1.87" fill="url(#gDrop)" transform="rotate(27.71 424.81 555.24)"/>
<ellipse cx="438.57" cy="536.66" rx="0.91" ry="1.31" fill="#7cc3d9" fill-opacity="0.5" transform="rotate(18.63 438.25 536.3)"/>
<ellipse cx="438.25" cy="536.3" rx="0.91" ry="1.31" fill="url(#gDrop)" transform="rotate(18.63 438.25 536.3)"/>
<ellipse cx="447.3" cy="662.48" rx="3.38" ry="4.32" fill="#7cc3d9" fill-opacity="0.5" transform="rotate(23.8 446.12 661.13)"/>
<ellipse cx="446.12" cy="661.13" rx="3.38" ry="4.32" fill="url(#gDrop)" transform="rotate(23.8 446.12 661.13)"/>
<ellipse cx="407.41" cy="537.24" rx="1.89" ry="2.09" fill="#7cc3d9" fill-opacity="0.5" transform="rotate(31.23 406.74 536.48)"/>
<ellipse cx="406.74" cy="536.48" rx="1.89" ry="2.09" fill="url(#gDrop)" transform="rotate(31.23 406.74 536.48)"/>
<ellipse cx="416.3" cy="640.06" rx="1.06" ry="1.21" fill="#7cc3d9" fill-opacity="0.5" transform="rotate(34.6 415.93 639.63)"/>
<ellipse cx="415.93" cy="639.63" rx="1.06" ry="1.21" fill="url(#gDrop)" transform="rotate(34.6 415.93 639.63)"/>
<ellipse cx="465.02" cy="628" rx="2.64" ry="3.88" fill="#7cc3d9" fill-opacity="0.5" transform="rotate(7.26 464.1 626.95)"/>
<ellipse cx="464.1" cy="626.95" rx="2.64" ry="3.88" fill="url(#gDrop)" transform="rotate(7.26 464.1 626.95)"/>
<ellipse cx="454.39" cy="700.39" rx="1.4" ry="1.87" fill="#7cc3d9" fill-opacity="0.5" transform="rotate(2.85 453.9 699.83)"/>
<ellipse cx="453.9" cy="699.83" rx="1.4" ry="1.87" fill="url(#gDrop)" transform="rotate(2.85 453.9 699.83)"/>
<ellipse cx="458.15" cy="648.87" rx="0.9" ry="1.31" fill="#7cc3d9" fill-opacity="0.5" transform="rotate(21.79 457.83 648.51)"/>
<ellipse cx="457.83" cy="648.51" rx="0.9" ry="1.31" fill="url(#gDrop)" transform="rotate(21.79 457.83 648.51)"/>
<ellipse cx="455.81" cy="639.16" rx="3.43" ry="3.49" fill="#7cc3d9" fill-opacity="0.5" transform="rotate(-2.28 454.61 637.79)"/>
<ellipse cx="454.61" cy="637.79" rx="3.43" ry="3.49" fill="url(#gDrop)" transform="rotate(-2.28 454.61 637.79)"/>
<ellipse cx="386.72" cy="715.33" rx="1.05" ry="1.54" fill="#7cc3d9" fill-opacity="0.5" transform="rotate(13.95 386.35 714.91)"/>
<ellipse cx="386.35" cy="714.91" rx="1.05" ry="1.54" fill="url(#gDrop)" transform="rotate(13.95 386.35 714.91)"/>
<ellipse cx="449.88" cy="592.72" rx="1.25" ry="1.88" fill="#7cc3d9" fill-opacity="0.5" transform="rotate(38.61 449.44 592.22)"/>
<ellipse cx="449.44" cy="592.22" rx="1.25" ry="1.88" fill="url(#gDrop)" transform="rotate(38.61 449.44 592.22)"/>
<ellipse cx="382.92" cy="562.57" rx="1.38" ry="1.77" fill="#7cc3d9" fill-opacity="0.5" transform="rotate(16.62 382.43 562.02)"/>
<ellipse cx="382.43" cy="562.02" rx="1.38" ry="1.77" fill="url(#gDrop)" transform="rotate(16.62 382.43 562.02)"/>
<ellipse cx="440.82" cy="670.03" rx="2.43" ry="2.44" fill="#7cc3d9" fill-opacity="0.5" transform="rotate(28.45 439.96 669.06)"/>
<ellipse cx="439.96" cy="669.06" rx="2.43" ry="2.44" fill="url(#gDrop)" transform="rotate(28.45 439.96 669.06)"/>
<ellipse cx="387.38" cy="734.23" rx="1.93" ry="2.88" fill="#7cc3d9" fill-opacity="0.5" transform="rotate(13.02 386.71 733.46)"/>
<ellipse cx="386.71" cy="733.46" rx="1.93" ry="2.88" fill="url(#gDrop)" transform="rotate(13.02 386.71 733.46)"/>
<ellipse cx="391.45" cy="594.81" rx="0.95" ry="1.3" fill="#7cc3d9" fill-opacity="0.5" transform="rotate(13.08 391.12 594.43)"/>
<ellipse cx="391.12" cy="594.43" rx="0.95" ry="1.3" fill="url(#gDrop)" transform="rotate(13.08 391.12 594.43)"/>
<ellipse cx="443.71" cy="680.81" rx="2.97" ry="3.23" fill="#7cc3d9" fill-opacity="0.5" transform="rotate(34.22 442.67 679.62)"/>
<ellipse cx="442.67" cy="679.62" rx="2.97" ry="3.23" fill="url(#gDrop)" transform="rotate(34.22 442.67 679.62)"/>
<ellipse cx="414.99" cy="681.76" rx="3.15" ry="3.55" fill="#7cc3d9" fill-opacity="0.5" transform="rotate(29.05 413.89 680.5)"/>
<ellipse cx="413.89" cy="680.5" rx="3.15" ry="3.55" fill="url(#gDrop)" transform="rotate(29.05 413.89 680.5)"/>
<ellipse cx="408.04" cy="749.37" rx="0.9" ry="0.98" fill="#7cc3d9" fill-opacity="0.5" transform="rotate(5.84 407.72 749.01)"/>
<ellipse cx="407.72" cy="749.01" rx="0.9" ry="0.98" fill="url(#gDrop)" transform="rotate(5.84 407.72 749.01)"/>
<ellipse cx="450.08" cy="683.66" rx="1.33" ry="1.63" fill="#7cc3d9" fill-opacity="0.5" transform="rotate(13.7 449.61 683.13)"/>
<ellipse cx="449.61" cy="683.13" rx="1.33" ry="1.63" fill="url(#gDrop)" transform="rotate(13.7 449.61 683.13)"/>
<ellipse cx="462.66" cy="651.82" rx="2.43" ry="2.94" fill="#7cc3d9" fill-opacity="0.5" transform="rotate(22.82 461.81 650.85)"/>
<ellipse cx="461.81" cy="650.85" rx="2.43" ry="2.94" fill="url(#gDrop)" transform="rotate(22.82 461.81 650.85)"/>
<ellipse cx="367.81" cy="574.27" rx="1.88" ry="2.61" fill="#7cc3d9" fill-opacity="0.5" transform="rotate(17.1 367.15 573.52)"/>
<ellipse cx="367.15" cy="573.52" rx="1.88" ry="2.61" fill="url(#gDrop)" transform="rotate(17.1 367.15 573.52)"/>
<ellipse cx="430.87" cy="741.13" rx="0.91" ry="1.22" fill="#7cc3d9" fill-opacity="0.5" transform="rotate(16.2 430.55 740.77)"/>
<ellipse cx="430.55" cy="740.77" rx="0.91" ry="1.22" fill="url(#gDrop)" transform="rotate(16.2 430.55 740.77)"/>
<ellipse cx="375.07" cy="727.69" rx="0.9" ry="1.16" fill="#7cc3d9" fill-opacity="0.5" transform="rotate(9.43 374.75 727.33)"/>
<ellipse cx="374.75" cy="727.33" rx="0.9" ry="1.16" fill="url(#gDrop)" transform="rotate(9.43 374.75 727.33)"/>
<ellipse cx="428.21" cy="594.7" rx="1.46" ry="1.65" fill="#7cc3d9" fill-opacity="0.5" transform="rotate(8.66 427.7 594.11)"/>
<ellipse cx="427.7" cy="594.11" rx="1.46" ry="1.65" fill="url(#gDrop)" transform="rotate(8.66 427.7 594.11)"/>
<ellipse cx="463.58" cy="656.52" rx="3.49" ry="4.04" fill="#7cc3d9" fill-opacity="0.5" transform="rotate(17.17 462.36 655.12)"/>
<ellipse cx="462.36" cy="655.12" rx="3.49" ry="4.04" fill="url(#gDrop)" transform="rotate(17.17 462.36 655.12)"/>
<ellipse cx="388.05" cy="609.41" rx="1.19" ry="1.25" fill="#7cc3d9" fill-opacity="0.5" transform="rotate(17.57 387.63 608.94)"/>
<ellipse cx="387.63" cy="608.94" rx="1.19" ry="1.25" fill="url(#gDrop)" transform="rotate(17.57 387.63 608.94)"/>
<ellipse cx="442.11" cy="643.95" rx="1.44" ry="1.67" fill="#7cc3d9" fill-opacity="0.5" transform="rotate(10.77 441.61 643.37)"/>
<ellipse cx="441.61" cy="643.37" rx="1.44" ry="1.67" fill="url(#gDrop)" transform="rotate(10.77 441.61 643.37)"/>
<ellipse cx="399.56" cy="719.7" rx="2.83" ry="3.21" fill="#7cc3d9" fill-opacity="0.5" transform="rotate(29.35 398.57 718.57)"/>
<ellipse cx="398.57" cy="718.57" rx="2.83" ry="3.21" fill="url(#gDrop)" transform="rotate(29.35 398.57 718.57)"/>
<ellipse cx="392.86" cy="642.05" rx="1.03" ry="1.59" fill="#7cc3d9" fill-opacity="0.5" transform="rotate(13.11 392.5 641.64)"/>
<ellipse cx="392.5" cy="641.64" rx="1.03" ry="1.59" fill="url(#gDrop)" transform="rotate(13.11 392.5 641.64)"/>
<ellipse cx="423.9" cy="636.38" rx="1.41" ry="1.51" fill="#7cc3d9" fill-opacity="0.5" transform="rotate(22.69 423.4 635.82)"/>
<ellipse cx="423.4" cy="635.82" rx="1.41" ry="1.51" fill="url(#gDrop)" transform="rotate(22.69 423.4 635.82)"/>
<ellipse cx="456.15" cy="704.88" rx="0.9" ry="0.98" fill="#7cc3d9" fill-opacity="0.5" transform="rotate(9.93 455.83 704.52)"/>
<ellipse cx="455.83" cy="704.52" rx="0.9" ry="0.98" fill="url(#gDrop)" transform="rotate(9.93 455.83 704.52)"/>
<ellipse cx="458.71" cy="677.26" rx="1.72" ry="2.63" fill="#7cc3d9" fill-opacity="0.5" transform="rotate(15.25 458.11 676.57)"/>
<ellipse cx="458.11" cy="676.57" rx="1.72" ry="2.63" fill="url(#gDrop)" transform="rotate(15.25 458.11 676.57)"/>
<ellipse cx="430.07" cy="541.67" rx="1.02" ry="1.25" fill="#7cc3d9" fill-opacity="0.5" transform="rotate(8.24 429.71 541.26)"/>
<ellipse cx="429.71" cy="541.26" rx="1.02" ry="1.25" fill="url(#gDrop)" transform="rotate(8.24 429.71 541.26)"/>
<ellipse cx="391.96" cy="563.1" rx="1.08" ry="1.12" fill="#7cc3d9" fill-opacity="0.5" transform="rotate(28.21 391.59 562.67)"/>
<ellipse cx="391.59" cy="562.67" rx="1.08" ry="1.12" fill="url(#gDrop)" transform="rotate(28.21 391.59 562.67)"/>
<ellipse cx="393.65" cy="719.43" rx="4.47" ry="6.15" fill="#7cc3d9" fill-opacity="0.5" transform="rotate(14.58 392.08 717.64)"/>
<ellipse cx="392.08" cy="717.64" rx="4.47" ry="6.15" fill="url(#gDrop)" transform="rotate(14.58 392.08 717.64)"/>
<ellipse cx="388.2" cy="731" rx="1.12" ry="1.38" fill="#7cc3d9" fill-opacity="0.5" transform="rotate(35.22 387.81 730.55)"/>
<ellipse cx="387.81" cy="730.55" rx="1.12" ry="1.38" fill="url(#gDrop)" transform="rotate(35.22 387.81 730.55)"/>
<ellipse cx="454.1" cy="554.49" rx="1.77" ry="1.83" fill="#7cc3d9" fill-opacity="0.5" transform="rotate(40.53 453.47 553.78)"/>
<ellipse cx="453.47" cy="553.78" rx="1.77" ry="1.83" fill="url(#gDrop)" transform="rotate(40.53 453.47 553.78)"/>
<ellipse cx="390.52" cy="674.5" rx="1.25" ry="1.63" fill="#7cc3d9" fill-opacity="0.5" transform="rotate(23.15 390.08 674)"/>
<ellipse cx="390.08" cy="674" rx="1.25" ry="1.63" fill="url(#gDrop)" transform="rotate(23.15 390.08 674)"/>
<ellipse cx="436.69" cy="708.53" rx="1.73" ry="2.36" fill="#7cc3d9" fill-opacity="0.5" transform="rotate(29.42 436.08 707.84)"/>
<ellipse cx="436.08" cy="707.84" rx="1.73" ry="2.36" fill="url(#gDrop)" transform="rotate(29.42 436.08 707.84)"/>
<ellipse cx="444.11" cy="742.96" rx="2.07" ry="2.16" fill="#7cc3d9" fill-opacity="0.5" transform="rotate(19.37 443.39 742.13)"/>
<ellipse cx="443.39" cy="742.13" rx="2.07" ry="2.16" fill="url(#gDrop)" transform="rotate(19.37 443.39 742.13)"/>
<ellipse cx="452.63" cy="542.41" rx="0.91" ry="0.98" fill="#7cc3d9" fill-opacity="0.5" transform="rotate(34.33 452.31 542.05)"/>
<ellipse cx="452.31" cy="542.05" rx="0.91" ry="0.98" fill="url(#gDrop)" transform="rotate(34.33 452.31 542.05)"/>
<ellipse cx="438.42" cy="657.77" rx="1.35" ry="1.66" fill="#7cc3d9" fill-opacity="0.5" transform="rotate(6.98 437.95 657.22)"/>
<ellipse cx="437.95" cy="657.22" rx="1.35" ry="1.66" fill="url(#gDrop)" transform="rotate(6.98 437.95 657.22)"/>
<ellipse cx="380.71" cy="726.01" rx="1.34" ry="1.66" fill="#7cc3d9" fill-opacity="0.5" transform="rotate(33.56 380.24 725.47)"/>
<ellipse cx="380.24" cy="725.47" rx="1.34" ry="1.66" fill="url(#gDrop)" transform="rotate(33.56 380.24 725.47)"/>
<ellipse cx="401.29" cy="624.01" rx="1.09" ry="1.59" fill="#7cc3d9" fill-opacity="0.5" transform="rotate(18.16 400.91 623.57)"/>
<ellipse cx="400.91" cy="623.57" rx="1.09" ry="1.59" fill="url(#gDrop)" transform="rotate(18.16 400.91 623.57)"/>
<ellipse cx="465.34" cy="632.39" rx="1.45" ry="2.01" fill="#7cc3d9" fill-opacity="0.5" transform="rotate(35.93 464.83 631.81)"/>
<ellipse cx="464.83" cy="631.81" rx="1.45" ry="2.01" fill="url(#gDrop)" transform="rotate(35.93 464.83 631.81)"/>
<ellipse cx="442.38" cy="650.82" rx="2.02" ry="2.21" fill="#7cc3d9" fill-opacity="0.5" transform="rotate(36.1 441.67 650.01)"/>
<ellipse cx="441.67" cy="650.01" rx="2.02" ry="2.21" fill="url(#gDrop)" transform="rotate(36.1 441.67 650.01)"/>
<ellipse cx="428.29" cy="664.3" rx="0.9" ry="0.9" fill="#7cc3d9" fill-opacity="0.5" transform="rotate(33.68 427.98 663.94)"/>
<ellipse cx="427.98" cy="663.94" rx="0.9" ry="0.9" fill="url(#gDrop)" transform="rotate(33.68 427.98 663.94)"/>
<ellipse cx="419.5" cy="589.48" rx="0.93" ry="1.33" fill="#7cc3d9" fill-opacity="0.5" transform="rotate(34.96 419.18 589.1)"/>
<ellipse cx="419.18" cy="589.1" rx="0.93" ry="1.33" fill="url(#gDrop)" transform="rotate(34.96 419.18 589.1)"/>
<ellipse cx="405.16" cy="579.3" rx="1.58" ry="2.21" fill="#7cc3d9" fill-opacity="0.5" transform="rotate(14.98 404.61 578.67)"/>
<ellipse cx="404.61" cy="578.67" rx="1.58" ry="2.21" fill="url(#gDrop)" transform="rotate(14.98 404.61 578.67)"/>
<ellipse cx="417.36" cy="728.34" rx="1.11" ry="1.47" fill="#7cc3d9" fill-opacity="0.5" transform="rotate(44.87 416.98 727.9)"/>
<ellipse cx="416.98" cy="727.9" rx="1.11" ry="1.47" fill="url(#gDrop)" transform="rotate(44.87 416.98 727.9)"/>
<ellipse cx="439.61" cy="617.61" rx="1.48" ry="1.55" fill="#7cc3d9" fill-opacity="0.5" transform="rotate(39.61 439.09 617.02)"/>
<ellipse cx="439.09" cy="617.02" rx="1.48" ry="1.55" fill="url(#gDrop)" transform="rotate(39.61 439.09 617.02)"/>
<ellipse cx="382.49" cy="593.14" rx="3.65" ry="4.33" fill="#7cc3d9" fill-opacity="0.5" transform="rotate(30.49 381.21 591.68)"/>
<ellipse cx="381.21" cy="591.68" rx="3.65" ry="4.33" fill="url(#gDrop)" transform="rotate(30.49 381.21 591.68)"/>
<ellipse cx="426.62" cy="565.9" rx="0.9" ry="1.02" fill="#7cc3d9" fill-opacity="0.5" transform="rotate(31.43 426.31 565.54)"/>
<ellipse cx="426.31" cy="565.54" rx="0.9" ry="1.02" fill="url(#gDrop)" transform="rotate(31.43 426.31 565.54)"/>
<ellipse cx="391.23" cy="645.69" rx="2.76" ry="3.7" fill="#7cc3d9" fill-opacity="0.5" transform="rotate(28.04 390.26 644.59)"/>
<ellipse cx="390.26" cy="644.59" rx="2.76" ry="3.7" fill="url(#gDrop)" transform="rotate(28.04 390.26 644.59)"/>
<ellipse cx="415.3" cy="723.97" rx="1.01" ry="1.14" fill="#7cc3d9" fill-opacity="0.5" transform="rotate(18.5 414.95 723.57)"/>
<ellipse cx="414.95" cy="723.57" rx="1.01" ry="1.14" fill="url(#gDrop)" transform="rotate(18.5 414.95 723.57)"/>
<ellipse cx="411.37" cy="632.86" rx="1.69" ry="1.78" fill="#7cc3d9" fill-opacity="0.5" transform="rotate(9.49 410.78 632.19)"/>
<ellipse cx="410.78" cy="632.19" rx="1.69" ry="1.78" fill="url(#gDrop)" transform="rotate(9.49 410.78 632.19)"/>
<ellipse cx="431.09" cy="656.22" rx="0.93" ry="0.98" fill="#7cc3d9" fill-opacity="0.5" transform="rotate(30.01 430.77 655.84)"/>
<ellipse cx="430.77" cy="655.84" rx="0.93" ry="0.98" fill="url(#gDrop)" transform="rotate(30.01 430.77 655.84)"/>
<ellipse cx="413.59" cy="677.53" rx="2.03" ry="2.72" fill="#7cc3d9" fill-opacity="0.5" transform="rotate(29.45 412.88 676.72)"/>
<ellipse cx="412.88" cy="676.72" rx="2.03" ry="2.72" fill="url(#gDrop)" transform="rotate(29.45 412.88 676.72)"/>
<ellipse cx="388.24" cy="548.4" rx="4.17" ry="5.13" fill="#7cc3d9" fill-opacity="0.5" transform="rotate(24.35 386.78 546.73)"/>
<ellipse cx="386.78" cy="546.73" rx="4.17" ry="5.13" fill="url(#gDrop)" transform="rotate(24.35 386.78 546.73)"/>
<ellipse cx="440.22" cy="541.08" rx="1.96" ry="2.93" fill="#7cc3d9" fill-opacity="0.5" transform="rotate(21.67 439.54 540.29)"/>
<ellipse cx="439.54" cy="540.29" rx="1.96" ry="2.93" fill="url(#gDrop)" transform="rotate(21.67 439.54 540.29)"/>
<ellipse cx="434.19" cy="730.14" rx="0.91" ry="1.17" fill="#7cc3d9" fill-opacity="0.5" transform="rotate(35.96 433.87 729.77)"/>
<ellipse cx="433.87" cy="729.77" rx="0.91" ry="1.17" fill="url(#gDrop)" transform="rotate(35.96 433.87 729.77)"/>
<ellipse cx="388.81" cy="690.34" rx="2.73" ry="3.87" fill="#7cc3d9" fill-opacity="0.5" transform="rotate(28.92 387.86 689.25)"/>
<ellipse cx="387.86" cy="689.25" rx="2.73" ry="3.87" fill="url(#gDrop)" transform="rotate(28.92 387.86 689.25)"/>
<ellipse cx="419.69" cy="674.38" rx="2.47" ry="2.77" fill="#7cc3d9" fill-opacity="0.5" transform="rotate(5 418.82 673.39)"/>
<ellipse cx="418.82" cy="673.39" rx="2.47" ry="2.77" fill="url(#gDrop)" transform="rotate(5 418.82 673.39)"/>
<ellipse cx="421.75" cy="687.39" rx="2.37" ry="2.65" fill="#7cc3d9" fill-opacity="0.5" transform="rotate(29.24 420.92 686.44)"/>
<ellipse cx="420.92" cy="686.44" rx="2.37" ry="2.65" fill="url(#gDrop)" transform="rotate(29.24 420.92 686.44)"/>
<ellipse cx="394.16" cy="568.94" rx="1.13" ry="1.14" fill="#7cc3d9" fill-opacity="0.5" transform="rotate(3.81 393.76 568.49)"/>
<ellipse cx="393.76" cy="568.49" rx="1.13" ry="1.14" fill="url(#gDrop)" transform="rotate(3.81 393.76 568.49)"/>
<ellipse cx="454.21" cy="665.25" rx="3.46" ry="5.26" fill="#7cc3d9" fill-opacity="0.5" transform="rotate(19.13 453 663.87)"/>
<ellipse cx="453" cy="663.87" rx="3.46" ry="5.26" fill="url(#gDrop)" transform="rotate(19.13 453 663.87)"/>
<ellipse cx="419.46" cy="734.68" rx="3.15" ry="4.31" fill="#7cc3d9" fill-opacity="0.5" transform="rotate(21.42 418.35 733.42)"/>
<ellipse cx="418.35" cy="733.42" rx="3.15" ry="4.31" fill="url(#gDrop)" transform="rotate(21.42 418.35 733.42)"/>
<ellipse cx="381.21" cy="637.98" rx="2.39" ry="3.13" fill="#7cc3d9" fill-opacity="0.5" transform="rotate(17.65 380.38 637.03)"/>
<ellipse cx="380.38" cy="637.03" rx="2.39" ry="3.13" fill="url(#gDrop)" transform="rotate(17.65 380.38 637.03)"/>
<ellipse cx="434.59" cy="557.5" rx="0.99" ry="1.28" fill="#7cc3d9" fill-opacity="0.5" transform="rotate(34.95 434.25 557.11)"/>
<ellipse cx="434.25" cy="557.11" rx="0.99" ry="1.28" fill="url(#gDrop)" transform="rotate(34.95 434.25 557.11)"/>
<ellipse cx="393.93" cy="727.68" rx="0.91" ry="1.06" fill="#7cc3d9" fill-opacity="0.5" transform="rotate(20.23 393.61 727.32)"/>
<ellipse cx="393.61" cy="727.32" rx="0.91" ry="1.06" fill="url(#gDrop)" transform="rotate(20.23 393.61 727.32)"/>
<ellipse cx="465.52" cy="676.44" rx="1.76" ry="2.53" fill="#7cc3d9" fill-opacity="0.5" transform="rotate(15.49 464.91 675.73)"/>
<ellipse cx="464.91" cy="675.73" rx="1.76" ry="2.53" fill="url(#gDrop)" transform="rotate(15.49 464.91 675.73)"/>
<ellipse cx="454.55" cy="692.32" rx="0.92" ry="1.03" fill="#7cc3d9" fill-opacity="0.5" transform="rotate(24.63 454.23 691.95)"/>
<ellipse cx="454.23" cy="691.95" rx="0.92" ry="1.03" fill="url(#gDrop)" transform="rotate(24.63 454.23 691.95)"/>
<ellipse cx="463.77" cy="578.86" rx="1.3" ry="1.5" fill="#7cc3d9" fill-opacity="0.5" transform="rotate(1.44 463.31 578.34)"/>
<ellipse cx="463.31" cy="578.34" rx="1.3" ry="1.5" fill="url(#gDrop)" transform="rotate(1.44 463.31 578.34)"/>
<ellipse cx="437.71" cy="662.83" rx="1.25" ry="1.39" fill="#7cc3d9" fill-opacity="0.5" transform="rotate(21.42 437.28 662.33)"/>
<ellipse cx="437.28" cy="662.33" rx="1.25" ry="1.39" fill="url(#gDrop)" transform="rotate(21.42 437.28 662.33)"/>
<ellipse cx="411.13" cy="698.72" rx="2.3" ry="3.53" fill="#7cc3d9" fill-opacity="0.5" transform="rotate(7.27 410.32 697.79)"/>
<ellipse cx="410.32" cy="697.79" rx="2.3" ry="3.53" fill="url(#gDrop)" transform="rotate(7.27 410.32 697.79)"/>
<ellipse cx="427.51" cy="691.16" rx="4.36" ry="6.56" fill="#7cc3d9" fill-opacity="0.5" transform="rotate(17.91 425.99 689.42)"/>
<ellipse cx="425.99" cy="689.42" rx="4.36" ry="6.56" fill="url(#gDrop)" transform="rotate(17.91 425.99 689.42)"/>
<ellipse cx="420.71" cy="688.58" rx="2.66" ry="4.08" fill="#7cc3d9" fill-opacity="0.5" transform="rotate(11.69 419.78 687.52)"/>
<ellipse cx="419.78" cy="687.52" rx="2.66" ry="4.08" fill="url(#gDrop)" transform="rotate(11.69 419.78 687.52)"/>
<ellipse cx="448.93" cy="564.43" rx="2" ry="2.6" fill="#7cc3d9" fill-opacity="0.5" transform="rotate(26.89 448.23 563.63)"/>
<ellipse cx="448.23" cy="563.63" rx="2" ry="2.6" fill="url(#gDrop)" transform="rotate(26.89 448.23 563.63)"/>
<ellipse cx="393.2" cy="537.68" rx="0.92" ry="1.3" fill="#7cc3d9" fill-opacity="0.5" transform="rotate(28.71 392.87 537.31)"/>
<ellipse cx="392.87" cy="537.31" rx="0.92" ry="1.3" fill="url(#gDrop)" transform="rotate(28.71 392.87 537.31)"/>
<ellipse cx="462.35" cy="537.15" rx="3.73" ry="5.65" fill="#7cc3d9" fill-opacity="0.5" transform="rotate(25.4 461.04 535.66)"/>
<ellipse cx="461.04" cy="535.66" rx="3.73" ry="5.65" fill="url(#gDrop)" transform="rotate(25.4 461.04 535.66)"/>
<ellipse cx="371.82" cy="623.35" rx="4.44" ry="6.25" fill="#7cc3d9" fill-opacity="0.5" transform="rotate(17.48 370.27 621.57)"/>
<ellipse cx="370.27" cy="621.57" rx="4.44" ry="6.25" fill="url(#gDrop)" transform="rotate(17.48 370.27 621.57)"/>
<ellipse cx="372.36" cy="725.62" rx="2.28" ry="2.56" fill="#7cc3d9" fill-opacity="0.5" transform="rotate(17.39 371.56 724.71)"/>
<ellipse cx="371.56" cy="724.71" rx="2.28" ry="2.56" fill="url(#gDrop)" transform="rotate(17.39 371.56 724.71)"/>
<ellipse cx="433.46" cy="739.14" rx="1.62" ry="1.92" fill="#7cc3d9" fill-opacity="0.5" transform="rotate(35.57 432.9 738.49)"/>
<ellipse cx="432.9" cy="738.49" rx="1.62" ry="1.92" fill="url(#gDrop)" transform="rotate(35.57 432.9 738.49)"/>
<ellipse cx="404.97" cy="558.71" rx="0.91" ry="0.96" fill="#7cc3d9" fill-opacity="0.5" transform="rotate(28.48 404.65 558.34)"/>
<ellipse cx="404.65" cy="558.34" rx="0.91" ry="0.96" fill="url(#gDrop)" transform="rotate(28.48 404.65 558.34)"/>
<ellipse cx="392.98" cy="721.91" rx="1.1" ry="1.45" fill="#7cc3d9" fill-opacity="0.5" transform="rotate(23.96 392.59 721.47)"/>
<ellipse cx="392.59" cy="721.47" rx="1.1" ry="1.45" fill="url(#gDrop)" transform="rotate(23.96 392.59 721.47)"/>
<ellipse cx="423.25" cy="600.13" rx="1.08" ry="1.19" fill="#7cc3d9" fill-opacity="0.5" transform="rotate(30.27 422.88 599.69)"/>
<ellipse cx="422.88" cy="599.69" rx="1.08" ry="1.19" fill="url(#gDrop)" transform="rotate(30.27 422.88 599.69)"/>
<ellipse cx="399.91" cy="553.1" rx="0.9" ry="1.29" fill="#7cc3d9" fill-opacity="0.5" transform="rotate(27.54 399.59 552.74)"/>
<ellipse cx="399.59" cy="552.74" rx="0.9" ry="1.29" fill="url(#gDrop)" transform="rotate(27.54 399.59 552.74)"/>
<ellipse cx="420.12" cy="552.57" rx="2.1" ry="3.24" fill="#7cc3d9" fill-opacity="0.5" transform="rotate(16.49 419.39 551.73)"/>
<ellipse cx="419.39" cy="551.73" rx="2.1" ry="3.24" fill="url(#gDrop)" transform="rotate(16.49 419.39 551.73)"/>
<ellipse cx="420.56" cy="625.33" rx="4.2" ry="4.53" fill="#7cc3d9" fill-opacity="0.5" transform="rotate(27.25 419.09 623.65)"/>
<ellipse cx="419.09" cy="623.65" rx="4.2" ry="4.53" fill="url(#gDrop)" transform="rotate(27.25 419.09 623.65)"/>
<ellipse cx="440.29" cy="647.34" rx="1.36" ry="1.42" fill="#7cc3d9" fill-opacity="0.5" transform="rotate(16.76 439.81 646.79)"/>
<ellipse cx="439.81" cy="646.79" rx="1.36" ry="1.42" fill="url(#gDrop)" transform="rotate(16.76 439.81 646.79)"/>
<ellipse cx="388.29" cy="699.54" rx="1" ry="1.36" fill="#7cc3d9" fill-opacity="0.5" transform="rotate(26.69 387.94 699.14)"/>
<ellipse cx="387.94" cy="699.14" rx="1" ry="1.36" fill="url(#gDrop)" transform="rotate(26.69 387.94 699.14)"/>
<ellipse cx="410.41" cy="608.2" rx="1.02" ry="1.21" fill="#7cc3d9" fill-opacity="0.5" transform="rotate(9.75 410.06 607.8)"/>
<ellipse cx="410.06" cy="607.8" rx="1.02" ry="1.21" fill="url(#gDrop)" transform="rotate(9.75 410.06 607.8)"/>
<ellipse cx="372.53" cy="556.85" rx="4.43" ry="6.28" fill="#7cc3d9" fill-opacity="0.5" transform="rotate(23.9 370.98 555.08)"/>
<ellipse cx="370.98" cy="555.08" rx="4.43" ry="6.28" fill="url(#gDrop)" transform="rotate(23.9 370.98 555.08)"/>
<ellipse cx="448.41" cy="742.57" rx="1.47" ry="2.07" fill="#7cc3d9" fill-opacity="0.5" transform="rotate(15.04 447.9 741.98)"/>
<ellipse cx="447.9" cy="741.98" rx="1.47" ry="2.07" fill="url(#gDrop)" transform="rotate(15.04 447.9 741.98)"/>
<ellipse cx="453.31" cy="711.25" rx="2.43" ry="2.71" fill="#7cc3d9" fill-opacity="0.5" transform="rotate(33.64 452.46 710.28)"/>
<ellipse cx="452.46" cy="710.28" rx="2.43" ry="2.71" fill="url(#gDrop)" transform="rotate(33.64 452.46 710.28)"/>
<ellipse cx="368.2" cy="713.69" rx="2.29" ry="3.41" fill="#7cc3d9" fill-opacity="0.5" transform="rotate(22.37 367.4 712.77)"/>
<ellipse cx="367.4" cy="712.77" rx="2.29" ry="3.41" fill="url(#gDrop)" transform="rotate(22.37 367.4 712.77)"/>
<ellipse cx="424.88" cy="600.94" rx="1.68" ry="2.08" fill="#7cc3d9" fill-opacity="0.5" transform="rotate(7.95 424.29 600.26)"/>
<ellipse cx="424.29" cy="600.26" rx="1.68" ry="2.08" fill="url(#gDrop)" transform="rotate(7.95 424.29 600.26)"/>
<ellipse cx="394.99" cy="615.59" rx="0.92" ry="1.3" fill="#7cc3d9" fill-opacity="0.5" transform="rotate(-0.97 394.67 615.22)"/>
<ellipse cx="394.67" cy="615.22" rx="0.92" ry="1.3" fill="url(#gDrop)" transform="rotate(-0.97 394.67 615.22)"/>
<ellipse cx="409.36" cy="626.18" rx="4.02" ry="4.54" fill="#7cc3d9" fill-opacity="0.5" transform="rotate(10.7 407.95 624.57)"/>
<ellipse cx="407.95" cy="624.57" rx="4.02" ry="4.54" fill="url(#gDrop)" transform="rotate(10.7 407.95 624.57)"/>
<ellipse cx="454.62" cy="599.29" rx="1.96" ry="2.89" fill="#7cc3d9" fill-opacity="0.5" transform="rotate(38.28 453.93 598.5)"/>
<ellipse cx="453.93" cy="598.5" rx="1.96" ry="2.89" fill="url(#gDrop)" transform="rotate(38.28 453.93 598.5)"/>
<ellipse cx="455.7" cy="589.86" rx="2.68" ry="3.78" fill="#7cc3d9" fill-opacity="0.5" transform="rotate(3.74 454.76 588.79)"/>
<ellipse cx="454.76" cy="588.79" rx="2.68" ry="3.78" fill="url(#gDrop)" transform="rotate(3.74 454.76 588.79)"/>
<ellipse cx="381.66" cy="555.69" rx="2.8" ry="3.44" fill="#7cc3d9" fill-opacity="0.5" transform="rotate(11.34 380.69 554.57)"/>
<ellipse cx="380.69" cy="554.57" rx="2.8" ry="3.44" fill="url(#gDrop)" transform="rotate(11.34 380.69 554.57)"/>
<ellipse cx="386" cy="678.9" rx="4.03" ry="5.27" fill="#7cc3d9" fill-opacity="0.5" transform="rotate(26.02 384.59 677.28)"/>
<ellipse cx="384.59" cy="677.28" rx="4.03" ry="5.27" fill="url(#gDrop)" transform="rotate(26.02 384.59 677.28)"/>
<ellipse cx="456.2" cy="698.04" rx="1.16" ry="1.79" fill="#7cc3d9" fill-opacity="0.5" transform="rotate(28.53 455.79 697.57)"/>
<ellipse cx="455.79" cy="697.57" rx="1.16" ry="1.79" fill="url(#gDrop)" transform="rotate(28.53 455.79 697.57)"/>
<ellipse cx="435.7" cy="589.9" rx="3.91" ry="5.41" fill="#7cc3d9" fill-opacity="0.5" transform="rotate(29.2 434.33 588.34)"/>
<ellipse cx="434.33" cy="588.34" rx="3.91" ry="5.41" fill="url(#gDrop)" transform="rotate(29.2 434.33 588.34)"/>
<ellipse cx="409.18" cy="649.87" rx="1.53" ry="1.99" fill="#7cc3d9" fill-opacity="0.5" transform="rotate(32.66 408.64 649.26)"/>
<ellipse cx="408.64" cy="649.26" rx="1.53" ry="1.99" fill="url(#gDrop)" transform="rotate(32.66 408.64 649.26)"/>
<ellipse cx="437.85" cy="613.95" rx="4" ry="4.32" fill="#7cc3d9" fill-opacity="0.5" transform="rotate(27.66 436.45 612.35)"/>
<ellipse cx="436.45" cy="612.35" rx="4" ry="4.32" fill="url(#gDrop)" transform="rotate(27.66 436.45 612.35)"/>
<ellipse cx="407.64" cy="702.39" rx="0.91" ry="0.91" fill="#7cc3d9" fill-opacity="0.5" transform="rotate(34.94 407.32 702.02)"/>
<ellipse cx="407.32" cy="702.02" rx="0.91" ry="0.91" fill="url(#gDrop)" transform="rotate(34.94 407.32 702.02)"/>
<ellipse cx="410.2" cy="696.77" rx="1.12" ry="1.18" fill="#7cc3d9" fill-opacity="0.5" transform="rotate(11.31 409.81 696.33)"/>
<ellipse cx="409.81" cy="696.33" rx="1.12" ry="1.18" fill="url(#gDrop)" transform="rotate(11.31 409.81 696.33)"/>
<ellipse cx="408.73" cy="565.54" rx="1.12" ry="1.3" fill="#7cc3d9" fill-opacity="0.5" transform="rotate(15.18 408.33 565.09)"/>
<ellipse cx="408.33" cy="565.09" rx="1.12" ry="1.3" fill="url(#gDrop)" transform="rotate(15.18 408.33 565.09)"/>
<ellipse cx="427.28" cy="732.03" rx="2.01" ry="2.51" fill="#7cc3d9" fill-opacity="0.5" transform="rotate(16.27 426.58 731.23)"/>
<ellipse cx="426.58" cy="731.23" rx="2.01" ry="2.51" fill="url(#gDrop)" transform="rotate(16.27 426.58 731.23)"/>
<ellipse cx="408.57" cy="695.85" rx="1.79" ry="2.23" fill="#7cc3d9" fill-opacity="0.5" transform="rotate(26.97 407.94 695.14)"/>
<ellipse cx="407.94" cy="695.14" rx="1.79" ry="2.23" fill="url(#gDrop)" transform="rotate(26.97 407.94 695.14)"/>
<ellipse cx="418.41" cy="653.92" rx="2.17" ry="2.58" fill="#7cc3d9" fill-opacity="0.5" transform="rotate(24.04 417.66 653.05)"/>
<ellipse cx="417.66" cy="653.05" rx="2.17" ry="2.58" fill="url(#gDrop)" transform="rotate(24.04 417.66 653.05)"/>
<ellipse cx="395.84" cy="620.14" rx="1.12" ry="1.22" fill="#7cc3d9" fill-opacity="0.5" transform="rotate(28.07 395.45 619.7)"/>
<ellipse cx="395.45" cy="619.7" rx="1.12" ry="1.22" fill="url(#gDrop)" transform="rotate(28.07 395.45 619.7)"/>
<ellipse cx="456.65" cy="722.79" rx="1.06" ry="1.38" fill="#7cc3d9" fill-opacity="0.5" transform="rotate(4.31 456.28 722.36)"/>
<ellipse cx="456.28" cy="722.36" rx="1.06" ry="1.38" fill="url(#gDrop)" transform="rotate(4.31 456.28 722.36)"/>
<ellipse cx="375.64" cy="554.54" rx="3.01" ry="4.43" fill="#7cc3d9" fill-opacity="0.5" transform="rotate(19.26 374.59 553.34)"/>
<ellipse cx="374.59" cy="553.34" rx="3.01" ry="4.43" fill="url(#gDrop)" transform="rotate(19.26 374.59 553.34)"/>
<ellipse cx="410.55" cy="546.82" rx="0.94" ry="1.37" fill="#7cc3d9" fill-opacity="0.5" transform="rotate(-1.29 410.22 546.44)"/>
<ellipse cx="410.22" cy="546.44" rx="0.94" ry="1.37" fill="url(#gDrop)" transform="rotate(-1.29 410.22 546.44)"/>
<ellipse cx="368.51" cy="662.21" rx="1" ry="1.06" fill="#7cc3d9" fill-opacity="0.5" transform="rotate(22.96 368.16 661.81)"/>
<ellipse cx="368.16" cy="661.81" rx="1" ry="1.06" fill="url(#gDrop)" transform="rotate(22.96 368.16 661.81)"/>
<ellipse cx="442.14" cy="730.71" rx="3.3" ry="4.24" fill="#7cc3d9" fill-opacity="0.5" transform="rotate(11.97 440.98 729.39)"/>
<ellipse cx="440.98" cy="729.39" rx="3.3" ry="4.24" fill="url(#gDrop)" transform="rotate(11.97 440.98 729.39)"/>
<ellipse cx="389.32" cy="609.53" rx="2.06" ry="3.04" fill="#7cc3d9" fill-opacity="0.5" transform="rotate(25.44 388.6 608.71)"/>
<ellipse cx="388.6" cy="608.71" rx="2.06" ry="3.04" fill="url(#gDrop)" transform="rotate(25.44 388.6 608.71)"/>
<ellipse cx="463.85" cy="590.36" rx="3.29" ry="4.44" fill="#7cc3d9" fill-opacity="0.5" transform="rotate(34.89 462.7 589.04)"/>
<ellipse cx="462.7" cy="589.04" rx="3.29" ry="4.44" fill="url(#gDrop)" transform="rotate(34.89 462.7 589.04)"/>
<ellipse cx="415.87" cy="613.52" rx="1.07" ry="1.19" fill="#7cc3d9" fill-opacity="0.5" transform="rotate(14.66 415.5 613.09)"/>
<ellipse cx="415.5" cy="613.09" rx="1.07" ry="1.19" fill="url(#gDrop)" transform="rotate(14.66 415.5 613.09)"/>
<ellipse cx="411.71" cy="692.03" rx="3.58" ry="4.19" fill="#7cc3d9" fill-opacity="0.5" transform="rotate(21.35 410.46 690.59)"/>
<ellipse cx="410.46" cy="690.59" rx="3.58" ry="4.19" fill="url(#gDrop)" transform="rotate(21.35 410.46 690.59)"/>
<ellipse cx="410.52" cy="668.18" rx="2.93" ry="4.31" fill="#7cc3d9" fill-opacity="0.5" transform="rotate(12.55 409.49 667.01)"/>
<ellipse cx="409.49" cy="667.01" rx="2.93" ry="4.31" fill="url(#gDrop)" transform="rotate(12.55 409.49 667.01)"/>
<ellipse cx="404.65" cy="683.33" rx="3.38" ry="5.01" fill="#7cc3d9" fill-opacity="0.5" transform="rotate(23.36 403.47 681.97)"/>
<ellipse cx="403.47" cy="681.97" rx="3.38" ry="5.01" fill="url(#gDrop)" transform="rotate(23.36 403.47 681.97)"/>
<ellipse cx="369.66" cy="597.03" rx="0.9" ry="1.35" fill="#7cc3d9" fill-opacity="0.5" transform="rotate(18.69 369.34 596.67)"/>
<ellipse cx="369.34" cy="596.67" rx="0.9" ry="1.35" fill="url(#gDrop)" transform="rotate(18.69 369.34 596.67)"/>
<ellipse cx="415.15" cy="581.12" rx="3.19" ry="3.45" fill="#7cc3d9" fill-opacity="0.5" transform="rotate(16.85 414.03 579.84)"/>
<ellipse cx="414.03" cy="579.84" rx="3.19" ry="3.45" fill="url(#gDrop)" transform="rotate(16.85 414.03 579.84)"/>
<ellipse cx="428.29" cy="658.73" rx="2.41" ry="3.55" fill="#7cc3d9" fill-opacity="0.5" transform="rotate(18.26 427.44 657.76)"/>
<ellipse cx="427.44" cy="657.76" rx="2.41" ry="3.55" fill="url(#gDrop)" transform="rotate(18.26 427.44 657.76)"/>
<ellipse cx="403.63" cy="590.25" rx="2.71" ry="3.84" fill="#7cc3d9" fill-opacity="0.5" transform="rotate(21.33 402.68 589.17)"/>
<ellipse cx="402.68" cy="589.17" rx="2.71" ry="3.84" fill="url(#gDrop)" transform="rotate(21.33 402.68 589.17)"/>
<ellipse cx="395.28" cy="599.79" rx="2.28" ry="2.55" fill="#7cc3d9" fill-opacity="0.5" transform="rotate(35.19 394.48 598.87)"/>
<ellipse cx="394.48" cy="598.87" rx="2.28" ry="2.55" fill="url(#gDrop)" transform="rotate(35.19 394.48 598.87)"/>
<ellipse cx="434.4" cy="542.77" rx="3.17" ry="4.56" fill="#7cc3d9" fill-opacity="0.5" transform="rotate(2.04 433.28 541.5)"/>
<ellipse cx="433.28" cy="541.5" rx="3.17" ry="4.56" fill="url(#gDrop)" transform="rotate(2.04 433.28 541.5)"/>
<ellipse cx="421.09" cy="716.92" rx="2.2" ry="2.81" fill="#7cc3d9" fill-opacity="0.5" transform="rotate(23.86 420.32 716.04)"/>
<ellipse cx="420.32" cy="716.04" rx="2.2" ry="2.81" fill="url(#gDrop)" transform="rotate(23.86 420.32 716.04)"/>
<ellipse cx="412.94" cy="553.43" rx="0.9" ry="1.35" fill="#7cc3d9" fill-opacity="0.5" transform="rotate(17.67 412.62 553.07)"/>
<ellipse cx="412.62" cy="553.07" rx="0.9" ry="1.35" fill="url(#gDrop)" transform="rotate(17.67 412.62 553.07)"/>
<ellipse cx="370.97" cy="729.3" rx="0.9" ry="1.39" fill="#7cc3d9" fill-opacity="0.5" transform="rotate(25.96 370.65 728.94)"/>
<ellipse cx="370.65" cy="728.94" rx="0.9" ry="1.39" fill="url(#gDrop)" transform="rotate(25.96 370.65 728.94)"/>
<ellipse cx="414.92" cy="546.72" rx="3.43" ry="4.11" fill="#7cc3d9" fill-opacity="0.5" transform="rotate(29.81 413.72 545.35)"/>
<ellipse cx="413.72" cy="545.35" rx="3.43" ry="4.11" fill="url(#gDrop)" transform="rotate(29.81 413.72 545.35)"/>
<ellipse cx="383.54" cy="695.16" rx="1.02" ry="1.06" fill="#7cc3d9" fill-opacity="0.5" transform="rotate(39.23 383.18 694.75)"/>
<ellipse cx="383.18" cy="694.75" rx="1.02" ry="1.06" fill="url(#gDrop)" transform="rotate(39.23 383.18 694.75)"/>
<ellipse cx="377.51" cy="739.18" rx="4.5" ry="5.37" fill="#7cc3d9" fill-opacity="0.5" transform="rotate(22.42 375.93 737.38)"/>
<ellipse cx="375.93" cy="737.38" rx="4.5" ry="5.37" fill="url(#gDrop)" transform="rotate(22.42 375.93 737.38)"/>
<ellipse cx="444.96" cy="615.41" rx="1.36" ry="1.42" fill="#7cc3d9" fill-opacity="0.5" transform="rotate(22.11 444.49 614.87)"/>
<ellipse cx="444.49" cy="614.87" rx="1.36" ry="1.42" fill="url(#gDrop)" transform="rotate(22.11 444.49 614.87)"/>
<ellipse cx="401.8" cy="640.6" rx="2.66" ry="3.4" fill="#7cc3d9" fill-opacity="0.5" transform="rotate(31.02 400.87 639.53)"/>
<ellipse cx="400.87" cy="639.53" rx="2.66" ry="3.4" fill="url(#gDrop)" transform="rotate(31.02 400.87 639.53)"/>
<ellipse cx="409.9" cy="587.25" rx="1.48" ry="2.09" fill="#7cc3d9" fill-opacity="0.5" transform="rotate(18.71 409.38 586.66)"/>
<ellipse cx="409.38" cy="586.66" rx="1.48" ry="2.09" fill="url(#gDrop)" transform="rotate(18.71 409.38 586.66)"/>
<ellipse cx="393.07" cy="615.06" rx="0.9" ry="1.08" fill="#7cc3d9" fill-opacity="0.5" transform="rotate(33.13 392.76 614.7)"/>
<ellipse cx="392.76" cy="614.7" rx="0.9" ry="1.08" fill="url(#gDrop)" transform="rotate(33.13 392.76 614.7)"/>
<ellipse cx="392.25" cy="703.65" rx="2.04" ry="2.7" fill="#7cc3d9" fill-opacity="0.5" transform="rotate(19.02 391.54 702.83)"/>
<ellipse cx="391.54" cy="702.83" rx="2.04" ry="2.7" fill="url(#gDrop)" transform="rotate(19.02 391.54 702.83)"/>
<ellipse cx="413.26" cy="548.1" rx="0.9" ry="1.03" fill="#7cc3d9" fill-opacity="0.5" transform="rotate(39.68 412.94 547.74)"/>
<ellipse cx="412.94" cy="547.74" rx="0.9" ry="1.03" fill="url(#gDrop)" transform="rotate(39.68 412.94 547.74)"/>
<ellipse cx="424.63" cy="723.85" rx="1.74" ry="1.86" fill="#7cc3d9" fill-opacity="0.5" transform="rotate(26.9 424.02 723.16)"/>
<ellipse cx="424.02" cy="723.16" rx="1.74" ry="1.86" fill="url(#gDrop)" transform="rotate(26.9 424.02 723.16)"/>
<ellipse cx="424.44" cy="651" rx="1.97" ry="2.78" fill="#7cc3d9" fill-opacity="0.5" transform="rotate(32.4 423.75 650.21)"/>
<ellipse cx="423.75" cy="650.21" rx="1.97" ry="2.78" fill="url(#gDrop)" transform="rotate(32.4 423.75 650.21)"/>
<ellipse cx="426.06" cy="701.13" rx="1.71" ry="2.39" fill="#7cc3d9" fill-opacity="0.5" transform="rotate(32.35 425.46 700.45)"/>
<ellipse cx="425.46" cy="700.45" rx="1.71" ry="2.39" fill="url(#gDrop)" transform="rotate(32.35 425.46 700.45)"/>
<ellipse cx="447.58" cy="701.56" rx="3.24" ry="3.47" fill="#7cc3d9" fill-opacity="0.5" transform="rotate(26.28 446.45 700.26)"/>
<ellipse cx="446.45" cy="700.26" rx="3.24" ry="3.47" fill="url(#gDrop)" transform="rotate(26.28 446.45 700.26)"/>
<ellipse cx="443.66" cy="559.91" rx="0.93" ry="1.12" fill="#7cc3d9" fill-opacity="0.5" transform="rotate(30.86 443.33 559.54)"/>
<ellipse cx="443.33" cy="559.54" rx="0.93" ry="1.12" fill="url(#gDrop)" transform="rotate(30.86 443.33 559.54)"/>
<ellipse cx="410.17" cy="684.35" rx="2.43" ry="2.44" fill="#7cc3d9" fill-opacity="0.5" transform="rotate(33.54 409.32 683.38)"/>
<ellipse cx="409.32" cy="683.38" rx="2.43" ry="2.44" fill="url(#gDrop)" transform="rotate(33.54 409.32 683.38)"/>
<ellipse cx="372.94" cy="641.02" rx="0.96" ry="1" fill="#7cc3d9" fill-opacity="0.5" transform="rotate(15.92 372.6 640.64)"/>
<ellipse cx="372.6" cy="640.64" rx="0.96" ry="1" fill="url(#gDrop)" transform="rotate(15.92 372.6 640.64)"/>
<ellipse cx="394.85" cy="566.58" rx="1.05" ry="1.37" fill="#7cc3d9" fill-opacity="0.5" transform="rotate(27.25 394.48 566.16)"/>
<ellipse cx="394.48" cy="566.16" rx="1.05" ry="1.37" fill="url(#gDrop)" transform="rotate(27.25 394.48 566.16)"/>
<ellipse cx="400.87" cy="610.18" rx="1.8" ry="1.91" fill="#7cc3d9" fill-opacity="0.5" transform="rotate(17.2 400.24 609.46)"/>
<ellipse cx="400.24" cy="609.46" rx="1.8" ry="1.91" fill="url(#gDrop)" transform="rotate(17.2 400.24 609.46)"/>
<ellipse cx="392.03" cy="725.28" rx="4.37" ry="6.49" fill="#7cc3d9" fill-opacity="0.5" transform="rotate(5.9 390.5 723.53)"/>
<ellipse cx="390.5" cy="723.53" rx="4.37" ry="6.49" fill="url(#gDrop)" transform="rotate(5.9 390.5 723.53)"/>
<ellipse cx="396.84" cy="704.57" rx="1.09" ry="1.27" fill="#7cc3d9" fill-opacity="0.5" transform="rotate(13.69 396.45 704.13)"/>
<ellipse cx="396.45" cy="704.13" rx="1.09" ry="1.27" fill="url(#gDrop)" transform="rotate(13.69 396.45 704.13)"/>
<ellipse cx="420.14" cy="674.77" rx="2.92" ry="3.3" fill="#7cc3d9" fill-opacity="0.5" transform="rotate(5 419.12 673.6)"/>
<ellipse cx="419.12" cy="673.6" rx="2.92" ry="3.3" fill="url(#gDrop)" transform="rotate(5 419.12 673.6)"/>
<ellipse cx="410.67" cy="637.71" rx="1.18" ry="1.49" fill="#7cc3d9" fill-opacity="0.5" transform="rotate(24.53 410.26 637.24)"/>
<ellipse cx="410.26" cy="637.24" rx="1.18" ry="1.49" fill="url(#gDrop)" transform="rotate(24.53 410.26 637.24)"/>
<ellipse cx="425.23" cy="710.87" rx="0.91" ry="1.14" fill="#7cc3d9" fill-opacity="0.5" transform="rotate(18.02 424.92 710.5)"/>
<ellipse cx="424.92" cy="710.5" rx="0.91" ry="1.14" fill="url(#gDrop)" transform="rotate(18.02 424.92 710.5)"/>
<ellipse cx="459.4" cy="628.28" rx="0.9" ry="1.05" fill="#7cc3d9" fill-opacity="0.5" transform="rotate(19.25 459.08 627.92)"/>
<ellipse cx="459.08" cy="627.92" rx="0.9" ry="1.05" fill="url(#gDrop)" transform="rotate(19.25 459.08 627.92)"/>
<ellipse cx="392.18" cy="745.43" rx="1.71" ry="2.61" fill="#7cc3d9" fill-opacity="0.5" transform="rotate(11.84 391.58 744.75)"/>
<ellipse cx="391.58" cy="744.75" rx="1.71" ry="2.61" fill="url(#gDrop)" transform="rotate(11.84 391.58 744.75)"/>
<ellipse cx="427.61" cy="623.83" rx="3.48" ry="4.72" fill="#7cc3d9" fill-opacity="0.5" transform="rotate(2.44 426.39 622.44)"/>
<ellipse cx="426.39" cy="622.44" rx="3.48" ry="4.72" fill="url(#gDrop)" transform="rotate(2.44 426.39 622.44)"/>
<ellipse cx="416.77" cy="556.62" rx="4.31" ry="5.54" fill="#7cc3d9" fill-opacity="0.5" transform="rotate(9.18 415.26 554.89)"/>
<ellipse cx="415.26" cy="554.89" rx="4.31" ry="5.54" fill="url(#gDrop)" transform="rotate(9.18 415.26 554.89)"/>
<ellipse cx="412.02" cy="603.5" rx="1.03" ry="1.52" fill="#7cc3d9" fill-opacity="0.5" transform="rotate(22.1 411.66 603.09)"/>
<ellipse cx="411.66" cy="603.09" rx="1.03" ry="1.52" fill="url(#gDrop)" transform="rotate(22.1 411.66 603.09)"/>
<ellipse cx="374.68" cy="602.06" rx="0.97" ry="1.45" fill="#7cc3d9" fill-opacity="0.5" transform="rotate(35.28 374.34 601.67)"/>
<ellipse cx="374.34" cy="601.67" rx="0.97" ry="1.45" fill="url(#gDrop)" transform="rotate(35.28 374.34 601.67)"/>
<ellipse cx="449.68" cy="558.87" rx="1.73" ry="1.86" fill="#7cc3d9" fill-opacity="0.5" transform="rotate(25.18 449.07 558.18)"/>
<ellipse cx="449.07" cy="558.18" rx="1.73" ry="1.86" fill="url(#gDrop)" transform="rotate(25.18 449.07 558.18)"/>
<ellipse cx="426.66" cy="722.69" rx="0.95" ry="1.14" fill="#7cc3d9" fill-opacity="0.5" transform="rotate(25.84 426.33 722.31)"/>
<ellipse cx="426.33" cy="722.31" rx="0.95" ry="1.14" fill="url(#gDrop)" transform="rotate(25.84 426.33 722.31)"/>
<ellipse cx="378.61" cy="701.41" rx="1" ry="1.18" fill="#7cc3d9" fill-opacity="0.5" transform="rotate(18.78 378.26 701.01)"/>
<ellipse cx="378.26" cy="701.01" rx="1" ry="1.18" fill="url(#gDrop)" transform="rotate(18.78 378.26 701.01)"/>
<ellipse cx="432.64" cy="642.52" rx="0.9" ry="1.14" fill="#7cc3d9" fill-opacity="0.5" transform="rotate(27.83 432.32 642.16)"/>
<ellipse cx="432.32" cy="642.16" rx="0.9" ry="1.14" fill="url(#gDrop)" transform="rotate(27.83 432.32 642.16)"/>
<ellipse cx="463.23" cy="688.09" rx="2.84" ry="3.47" fill="#7cc3d9" fill-opacity="0.5" transform="rotate(33.76 462.24 686.96)"/>
<ellipse cx="462.24" cy="686.96" rx="2.84" ry="3.47" fill="url(#gDrop)" transform="rotate(33.76 462.24 686.96)"/>
<ellipse cx="410.42" cy="689.23" rx="1.59" ry="2.29" fill="#7cc3d9" fill-opacity="0.5" transform="rotate(14.56 409.87 688.59)"/>
<ellipse cx="409.87" cy="688.59" rx="1.59" ry="2.29" fill="url(#gDrop)" transform="rotate(14.56 409.87 688.59)"/>
<ellipse cx="462.33" cy="593.39" rx="1.82" ry="2.45" fill="#7cc3d9" fill-opacity="0.5" transform="rotate(36.73 461.7 592.67)"/>
<ellipse cx="461.7" cy="592.67" rx="1.82" ry="2.45" fill="url(#gDrop)" transform="rotate(36.73 461.7 592.67)"/>
<ellipse cx="371.38" cy="689.66" rx="2.82" ry="3.32" fill="#7cc3d9" fill-opacity="0.5" transform="rotate(25.57 370.4 688.53)"/>
<ellipse cx="370.4" cy="688.53" rx="2.82" ry="3.32" fill="url(#gDrop)" transform="rotate(25.57 370.4 688.53)"/>
<ellipse cx="460.08" cy="712.93" rx="1.14" ry="1.51" fill="#7cc3d9" fill-opacity="0.5" transform="rotate(27.8 459.68 712.47)"/>
<ellipse cx="459.68" cy="712.47" rx="1.14" ry="1.51" fill="url(#gDrop)" transform="rotate(27.8 459.68 712.47)"/>
<ellipse cx="389.33" cy="729.36" rx="1.28" ry="1.55" fill="#7cc3d9" fill-opacity="0.5" transform="rotate(-5.43 388.88 728.84)"/>
<ellipse cx="388.88" cy="728.84" rx="1.28" ry="1.55" fill="url(#gDrop)" transform="rotate(-5.43 388.88 728.84)"/>
<ellipse cx="395.85" cy="576.83" rx="1.15" ry="1.62" fill="#7cc3d9" fill-opacity="0.5" transform="rotate(7.55 395.45 576.37)"/>
<ellipse cx="395.45" cy="576.37" rx="1.15" ry="1.62" fill="url(#gDrop)" transform="rotate(7.55 395.45 576.37)"/>
<ellipse cx="376.2" cy="646.96" rx="1" ry="1.15" fill="#7cc3d9" fill-opacity="0.5" transform="rotate(27.25 375.86 646.57)"/>
<ellipse cx="375.86" cy="646.57" rx="1" ry="1.15" fill="url(#gDrop)" transform="rotate(27.25 375.86 646.57)"/>
<ellipse cx="442.07" cy="539.77" rx="3.42" ry="4.66" fill="#7cc3d9" fill-opacity="0.5" transform="rotate(33.44 440.87 538.4)"/>
<ellipse cx="440.87" cy="538.4" rx="3.42" ry="4.66" fill="url(#gDrop)" transform="rotate(33.44 440.87 538.4)"/>
<ellipse cx="439.28" cy="573.28" rx="1.13" ry="1.47" fill="#7cc3d9" fill-opacity="0.5" transform="rotate(21.54 438.89 572.82)"/>
<ellipse cx="438.89" cy="572.82" rx="1.13" ry="1.47" fill="url(#gDrop)" transform="rotate(21.54 438.89 572.82)"/>
<ellipse cx="413.92" cy="680.3" rx="2.16" ry="2.49" fill="#7cc3d9" fill-opacity="0.5" transform="rotate(36.84 413.17 679.44)"/>
<ellipse cx="413.17" cy="679.44" rx="2.16" ry="2.49" fill="url(#gDrop)" transform="rotate(36.84 413.17 679.44)"/>
<ellipse cx="466.05" cy="649.22" rx="2.91" ry="3.6" fill="#7cc3d9" fill-opacity="0.5" transform="rotate(24.27 465.03 648.05)"/>
<ellipse cx="465.03" cy="648.05" rx="2.91" ry="3.6" fill="url(#gDrop)" transform="rotate(24.27 465.03 648.05)"/>
<ellipse cx="401.33" cy="585.12" rx="1" ry="1.05" fill="#7cc3d9" fill-opacity="0.5" transform="rotate(42.72 400.98 584.72)"/>
<ellipse cx="400.98" cy="584.72" rx="1" ry="1.05" fill="url(#gDrop)" transform="rotate(42.72 400.98 584.72)"/>
<ellipse cx="442.28" cy="721.16" rx="0.91" ry="1.12" fill="#7cc3d9" fill-opacity="0.5" transform="rotate(41.6 441.96 720.8)"/>
<ellipse cx="441.96" cy="720.8" rx="0.91" ry="1.12" fill="url(#gDrop)" transform="rotate(41.6 441.96 720.8)"/>
<ellipse cx="446.64" cy="748.75" rx="1.17" ry="1.73" fill="#7cc3d9" fill-opacity="0.5" transform="rotate(29.01 446.23 748.28)"/>
<ellipse cx="446.23" cy="748.28" rx="1.17" ry="1.73" fill="url(#gDrop)" transform="rotate(29.01 446.23 748.28)"/>
<ellipse cx="400.29" cy="626.29" rx="3.78" ry="3.96" fill="#7cc3d9" fill-opacity="0.5" transform="rotate(29.19 398.96 624.78)"/>
<ellipse cx="398.96" cy="624.78" rx="3.78" ry="3.96" fill="url(#gDrop)" transform="rotate(29.19 398.96 624.78)"/>
<ellipse cx="458.46" cy="569.27" rx="3.53" ry="4.65" fill="#7cc3d9" fill-opacity="0.5" transform="rotate(21.34 457.22 567.86)"/>
<ellipse cx="457.22" cy="567.86" rx="3.53" ry="4.65" fill="url(#gDrop)" transform="rotate(21.34 457.22 567.86)"/>
<ellipse cx="368.83" cy="746.28" rx="0.94" ry="0.96" fill="#7cc3d9" fill-opacity="0.5" transform="rotate(18.81 368.51 745.91)"/>
<ellipse cx="368.51" cy="745.91" rx="0.94" ry="0.96" fill="url(#gDrop)" transform="rotate(18.81 368.51 745.91)"/>
<ellipse cx="454.82" cy="710.17" rx="0.9" ry="0.97" fill="#7cc3d9" fill-opacity="0.5" transform="rotate(19.6 454.51 709.81)"/>
<ellipse cx="454.51" cy="709.81" rx="0.9" ry="0.97" fill="url(#gDrop)" transform="rotate(19.6 454.51 709.81)"/>
<ellipse cx="454.23" cy="639.5" rx="1.3" ry="1.41" fill="#7cc3d9" fill-opacity="0.5" transform="rotate(20.83 453.77 638.98)"/>
<ellipse cx="453.77" cy="638.98" rx="1.3" ry="1.41" fill="url(#gDrop)" transform="rotate(20.83 453.77 638.98)"/>
<ellipse cx="415.68" cy="611.07" rx="4.27" ry="4.83" fill="#7cc3d9" fill-opacity="0.5" transform="rotate(36.01 414.18 609.37)"/>
<ellipse cx="414.18" cy="609.37" rx="4.27" ry="4.83" fill="url(#gDrop)" transform="rotate(36.01 414.18 609.37)"/>
<ellipse cx="442.49" cy="556.74" rx="2.75" ry="2.98" fill="#7cc3d9" fill-opacity="0.5" transform="rotate(17.08 441.53 555.64)"/>
<ellipse cx="441.53" cy="555.64" rx="2.75" ry="2.98" fill="url(#gDrop)" transform="rotate(17.08 441.53 555.64)"/>
<ellipse cx="448.48" cy="682.82" rx="0.91" ry="1.27" fill="#7cc3d9" fill-opacity="0.5" transform="rotate(10.64 448.16 682.46)"/>
<ellipse cx="448.16" cy="682.46" rx="0.91" ry="1.27" fill="url(#gDrop)" transform="rotate(10.64 448.16 682.46)"/>
<ellipse cx="400.45" cy="598.16" rx="0.94" ry="1" fill="#7cc3d9" fill-opacity="0.5" transform="rotate(15.3 400.12 597.79)"/>
<ellipse cx="400.12" cy="597.79" rx="0.94" ry="1" fill="url(#gDrop)" transform="rotate(15.3 400.12 597.79)"/>
<ellipse cx="465.05" cy="572.16" rx="4.37" ry="4.48" fill="#7cc3d9" fill-opacity="0.5" transform="rotate(3.98 463.52 570.41)"/>
<ellipse cx="463.52" cy="570.41" rx="4.37" ry="4.48" fill="url(#gDrop)" transform="rotate(3.98 463.52 570.41)"/>
<ellipse cx="382.43" cy="624.13" rx="3.77" ry="5.64" fill="#7cc3d9" fill-opacity="0.5" transform="rotate(16.44 381.11 622.62)"/>
<ellipse cx="381.11" cy="622.62" rx="3.77" ry="5.64" fill="url(#gDrop)" transform="rotate(16.44 381.11 622.62)"/>
<ellipse cx="447.31" cy="710.77" rx="0.95" ry="1.36" fill="#7cc3d9" fill-opacity="0.5" transform="rotate(9.92 446.97 710.39)"/>
<ellipse cx="446.97" cy="710.39" rx="0.95" ry="1.36" fill="url(#gDrop)" transform="rotate(9.92 446.97 710.39)"/>
<ellipse cx="411.02" cy="745.89" rx="3.1" ry="3.6" fill="#7cc3d9" fill-opacity="0.5" transform="rotate(27 409.93 744.65)"/>
<ellipse cx="409.93" cy="744.65" rx="3.1" ry="3.6" fill="url(#gDrop)" transform="rotate(27 409.93 744.65)"/>
<ellipse cx="378.13" cy="612.66" rx="1.32" ry="1.4" fill="#7cc3d9" fill-opacity="0.5" transform="rotate(24.18 377.67 612.13)"/>
<ellipse cx="377.67" cy="612.13" rx="1.32" ry="1.4" fill="url(#gDrop)" transform="rotate(24.18 377.67 612.13)"/>
<ellipse cx="457.31" cy="624.29" rx="3.62" ry="4.59" fill="#7cc3d9" fill-opacity="0.5" transform="rotate(27.59 456.04 622.84)"/>
<ellipse cx="456.04" cy="622.84" rx="3.62" ry="4.59" fill="url(#gDrop)" transform="rotate(27.59 456.04 622.84)"/>
<ellipse cx="399.07" cy="570.03" rx="1.09" ry="1.69" fill="#7cc3d9" fill-opacity="0.5" transform="rotate(26.51 398.69 569.6)"/>
<ellipse cx="398.69" cy="569.6" rx="1.09" ry="1.69" fill="url(#gDrop)" transform="rotate(26.51 398.69 569.6)"/>
<ellipse cx="407.49" cy="569.8" rx="2.29" ry="2.78" fill="#7cc3d9" fill-opacity="0.5" transform="rotate(24.25 406.68 568.89)"/>
<ellipse cx="406.68" cy="568.89" rx="2.29" ry="2.78" fill="url(#gDrop)" transform="rotate(24.25 406.68 568.89)"/>
<ellipse cx="395.12" cy="672.78" rx="1.09" ry="1.7" fill="#7cc3d9" fill-opacity="0.5" transform="rotate(33.54 394.74 672.34)"/>
<ellipse cx="394.74" cy="672.34" rx="1.09" ry="1.7" fill="url(#gDrop)" transform="rotate(33.54 394.74 672.34)"/>
<ellipse cx="428.61" cy="706.88" rx="1.46" ry="2.11" fill="#7cc3d9" fill-opacity="0.5" transform="rotate(30.26 428.1 706.29)"/>
<ellipse cx="428.1" cy="706.29" rx="1.46" ry="2.11" fill="url(#gDrop)" transform="rotate(30.26 428.1 706.29)"/>
<ellipse cx="383.28" cy="594.97" rx="1.56" ry="2.15" fill="#7cc3d9" fill-opacity="0.5" transform="rotate(36.79 382.73 594.34)"/>
<ellipse cx="382.73" cy="594.34" rx="1.56" ry="2.15" fill="url(#gDrop)" transform="rotate(36.79 382.73 594.34)"/>
<ellipse cx="414.91" cy="658.96" rx="2.22" ry="2.49" fill="#7cc3d9" fill-opacity="0.5" transform="rotate(21.49 414.14 658.07)"/>
<ellipse cx="414.14" cy="658.07" rx="2.22" ry="2.49" fill="url(#gDrop)" transform="rotate(21.49 414.14 658.07)"/>
<ellipse cx="397.83" cy="650.74" rx="1.41" ry="1.96" fill="#7cc3d9" fill-opacity="0.5" transform="rotate(13.48 397.33 650.17)"/>
<ellipse cx="397.33" cy="650.17" rx="1.41" ry="1.96" fill="url(#gDrop)" transform="rotate(13.48 397.33 650.17)"/>
<ellipse cx="463.48" cy="604.31" rx="1.37" ry="1.69" fill="#7cc3d9" fill-opacity="0.5" transform="rotate(20.57 463 603.76)"/>
<ellipse cx="463" cy="603.76" rx="1.37" ry="1.69" fill="url(#gDrop)" transform="rotate(20.57 463 603.76)"/>
<ellipse cx="422.46" cy="543.14" rx="0.93" ry="1.02" fill="#7cc3d9" fill-opacity="0.5" transform="rotate(40.57 422.14 542.77)"/>
<ellipse cx="422.14" cy="542.77" rx="0.93" ry="1.02" fill="url(#gDrop)" transform="rotate(40.57 422.14 542.77)"/>
<ellipse cx="376.42" cy="712.68" rx="1.2" ry="1.71" fill="#7cc3d9" fill-opacity="0.5" transform="rotate(32.05 376 712.2)"/>
<ellipse cx="376" cy="712.2" rx="1.2" ry="1.71" fill="url(#gDrop)" transform="rotate(32.05 376 712.2)"/>
<ellipse cx="385.64" cy="589.13" rx="1.9" ry="2.37" fill="#7cc3d9" fill-opacity="0.5" transform="rotate(5.88 384.98 588.37)"/>
<ellipse cx="384.98" cy="588.37" rx="1.9" ry="2.37" fill="url(#gDrop)" transform="rotate(5.88 384.98 588.37)"/>
<ellipse cx="401.09" cy="747.17" rx="1.12" ry="1.17" fill="#7cc3d9" fill-opacity="0.5" transform="rotate(14.97 400.7 746.72)"/>
<ellipse cx="400.7" cy="746.72" rx="1.12" ry="1.17" fill="url(#gDrop)" transform="rotate(14.97 400.7 746.72)"/>
<ellipse cx="444.14" cy="696.4" rx="3.19" ry="4.83" fill="#7cc3d9" fill-opacity="0.5" transform="rotate(22.96 443.02 695.12)"/>
<ellipse cx="443.02" cy="695.12" rx="3.19" ry="4.83" fill="url(#gDrop)" transform="rotate(22.96 443.02 695.12)"/>
<ellipse cx="461.72" cy="584.25" rx="2.92" ry="4.27" fill="#7cc3d9" fill-opacity="0.5" transform="rotate(34.72 460.7 583.09)"/>
<ellipse cx="460.7" cy="583.09" rx="2.92" ry="4.27" fill="url(#gDrop)" transform="rotate(34.72 460.7 583.09)"/>
<ellipse cx="372.02" cy="567.96" rx="4.12" ry="5.1" fill="#7cc3d9" fill-opacity="0.5" transform="rotate(2.62 370.57 566.32)"/>
<ellipse cx="370.57" cy="566.32" rx="4.12" ry="5.1" fill="url(#gDrop)" transform="rotate(2.62 370.57 566.32)"/>
<ellipse cx="403.2" cy="596.79" rx="1.74" ry="2.16" fill="#7cc3d9" fill-opacity="0.5" transform="rotate(13.09 402.59 596.09)"/>
<ellipse cx="402.59" cy="596.09" rx="1.74" ry="2.16" fill="url(#gDrop)" transform="rotate(13.09 402.59 596.09)"/>
<ellipse cx="389.11" cy="661.88" rx="1.43" ry="2.2" fill="#7cc3d9" fill-opacity="0.5" transform="rotate(17.46 388.61 661.31)"/>
<ellipse cx="388.61" cy="661.31" rx="1.43" ry="2.2" fill="url(#gDrop)" transform="rotate(17.46 388.61 661.31)"/>
<ellipse cx="458.3" cy="642.08" rx="4.22" ry="4.48" fill="#7cc3d9" fill-opacity="0.5" transform="rotate(20.98 456.82 640.39)"/>
<ellipse cx="456.82" cy="640.39" rx="4.22" ry="4.48" fill="url(#gDrop)" transform="rotate(20.98 456.82 640.39)"/>
<ellipse cx="455.06" cy="678.47" rx="1.35" ry="1.73" fill="#7cc3d9" fill-opacity="0.5" transform="rotate(41.84 454.58 677.93)"/>
<ellipse cx="454.58" cy="677.93" rx="1.35" ry="1.73" fill="url(#gDrop)" transform="rotate(41.84 454.58 677.93)"/>
<ellipse cx="413.29" cy="669.55" rx="1.18" ry="1.24" fill="#7cc3d9" fill-opacity="0.5" transform="rotate(21.72 412.88 669.08)"/>
<ellipse cx="412.88" cy="669.08" rx="1.18" ry="1.24" fill="url(#gDrop)" transform="rotate(21.72 412.88 669.08)"/>
<ellipse cx="451.76" cy="617.38" rx="1.69" ry="1.97" fill="#7cc3d9" fill-opacity="0.5" transform="rotate(37.5 451.17 616.71)"/>
<ellipse cx="451.17" cy="616.71" rx="1.69" ry="1.97" fill="url(#gDrop)" transform="rotate(37.5 451.17 616.71)"/>
<ellipse cx="442.73" cy="650.23" rx="1.67" ry="2.2" fill="#7cc3d9" fill-opacity="0.5" transform="rotate(6.74 442.14 649.56)"/>
<ellipse cx="442.14" cy="649.56" rx="1.67" ry="2.2" fill="url(#gDrop)" transform="rotate(6.74 442.14 649.56)"/>
<ellipse cx="387.78" cy="623.79" rx="0.9" ry="1.05" fill="#7cc3d9" fill-opacity="0.5" transform="rotate(31.05 387.46 623.43)"/>
<ellipse cx="387.46" cy="623.43" rx="0.9" ry="1.05" fill="url(#gDrop)" transform="rotate(31.05 387.46 623.43)"/>
<ellipse cx="406.37" cy="610.41" rx="4.13" ry="5.6" fill="#7cc3d9" fill-opacity="0.5" transform="rotate(27.63 404.93 608.76)"/>
<ellipse cx="404.93" cy="608.76" rx="4.13" ry="5.6" fill="url(#gDrop)" transform="rotate(27.63 404.93 608.76)"/>
<ellipse cx="390.27" cy="743.09" rx="0.91" ry="1.22" fill="#7cc3d9" fill-opacity="0.5" transform="rotate(23.75 389.95 742.73)"/>
<ellipse cx="389.95" cy="742.73" rx="0.91" ry="1.22" fill="url(#gDrop)" transform="rotate(23.75 389.95 742.73)"/>
<ellipse cx="422.17" cy="672.29" rx="2.55" ry="3.4" fill="#7cc3d9" fill-opacity="0.5" transform="rotate(25.83 421.28 671.27)"/>
<ellipse cx="421.28" cy="671.27" rx="2.55" ry="3.4" fill="url(#gDrop)" transform="rotate(25.83 421.28 671.27)"/>
<ellipse cx="456.7" cy="703.22" rx="0.94" ry="1.18" fill="#7cc3d9" fill-opacity="0.5" transform="rotate(11.17 456.37 702.85)"/>
<ellipse cx="456.37" cy="702.85" rx="0.94" ry="1.18" fill="url(#gDrop)" transform="rotate(11.17 456.37 702.85)"/>
<ellipse cx="448.01" cy="735.76" rx="1.63" ry="1.98" fill="#7cc3d9" fill-opacity="0.5" transform="rotate(18.38 447.44 735.11)"/>
<ellipse cx="447.44" cy="735.11" rx="1.63" ry="1.98" fill="url(#gDrop)" transform="rotate(18.38 447.44 735.11)"/>
<ellipse cx="394.6" cy="658.32" rx="2.73" ry="3.37" fill="#7cc3d9" fill-opacity="0.5" transform="rotate(9.94 393.65 657.23)"/>
<ellipse cx="393.65" cy="657.23" rx="2.73" ry="3.37" fill="url(#gDrop)" transform="rotate(9.94 393.65 657.23)"/>
<ellipse cx="390.11" cy="654.62" rx="2.97" ry="3.11" fill="#7cc3d9" fill-opacity="0.5" transform="rotate(15.4 389.07 653.43)"/>
<ellipse cx="389.07" cy="653.43" rx="2.97" ry="3.11" fill="url(#gDrop)" transform="rotate(15.4 389.07 653.43)"/>
<ellipse cx="408.67" cy="712.38" rx="1.81" ry="2.53" fill="#7cc3d9" fill-opacity="0.5" transform="rotate(11.9 408.04 711.66)"/>
<ellipse cx="408.04" cy="711.66" rx="1.81" ry="2.53" fill="url(#gDrop)" transform="rotate(11.9 408.04 711.66)"/>
<ellipse cx="381.5" cy="723.49" rx="1.17" ry="1.38" fill="#7cc3d9" fill-opacity="0.5" transform="rotate(7.91 381.09 723.02)"/>
<ellipse cx="381.09" cy="723.02" rx="1.17" ry="1.38" fill="url(#gDrop)" transform="rotate(7.91 381.09 723.02)"/>
<ellipse cx="446.28" cy="622.84" rx="2.54" ry="3.93" fill="#7cc3d9" fill-opacity="0.5" transform="rotate(13.6 445.39 621.82)"/>
<ellipse cx="445.39" cy="621.82" rx="2.54" ry="3.93" fill="url(#gDrop)" transform="rotate(13.6 445.39 621.82)"/>
<ellipse cx="432.2" cy="587.1" rx="1.36" ry="1.57" fill="#7cc3d9" fill-opacity="0.5" transform="rotate(40.37 431.72 586.55)"/>
<ellipse cx="431.72" cy="586.55" rx="1.36" ry="1.57" fill="url(#gDrop)" transform="rotate(40.37 431.72 586.55)"/>
<ellipse cx="372.43" cy="730.15" rx="0.95" ry="1.22" fill="#7cc3d9" fill-opacity="0.5" transform="rotate(17.42 372.1 729.77)"/>
<ellipse cx="372.1" cy="729.77" rx="0.95" ry="1.22" fill="url(#gDrop)" transform="rotate(17.42 372.1 729.77)"/>
<ellipse cx="422.24" cy="715.45" rx="0.9" ry="0.97" fill="#7cc3d9" fill-opacity="0.5" transform="rotate(17.66 421.93 715.09)"/>
<ellipse cx="421.93" cy="715.09" rx="0.9" ry="0.97" fill="url(#gDrop)" transform="rotate(17.66 421.93 715.09)"/>
<ellipse cx="461.01" cy="629.06" rx="2.53" ry="3.13" fill="#7cc3d9" fill-opacity="0.5" transform="rotate(47.24 460.12 628.05)"/>
<ellipse cx="460.12" cy="628.05" rx="2.53" ry="3.13" fill="url(#gDrop)" transform="rotate(47.24 460.12 628.05)"/>
<ellipse cx="401.51" cy="598.85" rx="0.93" ry="1.37" fill="#7cc3d9" fill-opacity="0.5" transform="rotate(28.7 401.18 598.47)"/>
<ellipse cx="401.18" cy="598.47" rx="0.93" ry="1.37" fill="url(#gDrop)" transform="rotate(28.7 401.18 598.47)"/>
<ellipse cx="450.8" cy="705.17" rx="3.51" ry="3.96" fill="#7cc3d9" fill-opacity="0.5" transform="rotate(35.81 449.57 703.76)"/>
<ellipse cx="449.57" cy="703.76" rx="3.51" ry="3.96" fill="url(#gDrop)" transform="rotate(35.81 449.57 703.76)"/>
<ellipse cx="391.07" cy="606.4" rx="2.39" ry="2.71" fill="#7cc3d9" fill-opacity="0.5" transform="rotate(39.79 390.23 605.44)"/>
<ellipse cx="390.23" cy="605.44" rx="2.39" ry="2.71" fill="url(#gDrop)" transform="rotate(39.79 390.23 605.44)"/>
<ellipse cx="382.51" cy="561.3" rx="1.05" ry="1.07" fill="#7cc3d9" fill-opacity="0.5" transform="rotate(19.51 382.14 560.88)"/>
<ellipse cx="382.14" cy="560.88" rx="1.05" ry="1.07" fill="url(#gDrop)" transform="rotate(19.51 382.14 560.88)"/>
<ellipse cx="414.92" cy="620.1" rx="0.96" ry="0.99" fill="#7cc3d9" fill-opacity="0.5" transform="rotate(47.13 414.58 619.71)"/>
<ellipse cx="414.58" cy="619.71" rx="0.96" ry="0.99" fill="url(#gDrop)" transform="rotate(47.13 414.58 619.71)"/>
<ellipse cx="439.22" cy="749.28" rx="1.78" ry="1.8" fill="#7cc3d9" fill-opacity="0.5" transform="rotate(34.92 438.59 748.56)"/>
<ellipse cx="438.59" cy="748.56" rx="1.78" ry="1.8" fill="url(#gDrop)" transform="rotate(34.92 438.59 748.56)"/>
<ellipse cx="453.92" cy="630.38" rx="2.11" ry="2.69" fill="#7cc3d9" fill-opacity="0.5" transform="rotate(19.17 453.18 629.53)"/>
<ellipse cx="453.18" cy="629.53" rx="2.11" ry="2.69" fill="url(#gDrop)" transform="rotate(19.17 453.18 629.53)"/>
<ellipse cx="437.56" cy="727.07" rx="3.7" ry="5.07" fill="#7cc3d9" fill-opacity="0.5" transform="rotate(13.94 436.27 725.59)"/>
<ellipse cx="436.27" cy="725.59" rx="3.7" ry="5.07" fill="url(#gDrop)" transform="rotate(13.94 436.27 725.59)"/>
<ellipse cx="375.86" cy="665.69" rx="1.28" ry="1.56" fill="#7cc3d9" fill-opacity="0.5" transform="rotate(15.4 375.41 665.18)"/>
<ellipse cx="375.41" cy="665.18" rx="1.28" ry="1.56" fill="url(#gDrop)" transform="rotate(15.4 375.41 665.18)"/>
<ellipse cx="391.27" cy="578.11" rx="2.83" ry="3.72" fill="#7cc3d9" fill-opacity="0.5" transform="rotate(16.45 390.28 576.98)"/>
<ellipse cx="390.28" cy="576.98" rx="2.83" ry="3.72" fill="url(#gDrop)" transform="rotate(16.45 390.28 576.98)"/>
<ellipse cx="457.12" cy="622.31" rx="4.05" ry="5.94" fill="#7cc3d9" fill-opacity="0.5" transform="rotate(31.96 455.7 620.69)"/>
<ellipse cx="455.7" cy="620.69" rx="4.05" ry="5.94" fill="url(#gDrop)" transform="rotate(31.96 455.7 620.69)"/>
<ellipse cx="417.29" cy="587.01" rx="1.22" ry="1.47" fill="#7cc3d9" fill-opacity="0.5" transform="rotate(24.96 416.86 586.52)"/>
<ellipse cx="416.86" cy="586.52" rx="1.22" ry="1.47" fill="url(#gDrop)" transform="rotate(24.96 416.86 586.52)"/>
<ellipse cx="393.17" cy="743.72" rx="3.57" ry="3.81" fill="#7cc3d9" fill-opacity="0.5" transform="rotate(20.83 391.93 742.29)"/>
<ellipse cx="391.93" cy="742.29" rx="3.57" ry="3.81" fill="url(#gDrop)" transform="rotate(20.83 391.93 742.29)"/>
<ellipse cx="387.44" cy="621.19" rx="1.6" ry="1.62" fill="#7cc3d9" fill-opacity="0.5" transform="rotate(16.12 386.88 620.56)"/>
<ellipse cx="386.88" cy="620.56" rx="1.6" ry="1.62" fill="url(#gDrop)" transform="rotate(16.12 386.88 620.56)"/>
<ellipse cx="418.12" cy="737.31" rx="1.13" ry="1.31" fill="#7cc3d9" fill-opacity="0.5" transform="rotate(44.74 417.72 736.85)"/>
<ellipse cx="417.72" cy="736.85" rx="1.13" ry="1.31" fill="url(#gDrop)" transform="rotate(44.74 417.72 736.85)"/>
<ellipse cx="373.05" cy="565.25" rx="2.73" ry="3.17" fill="#7cc3d9" fill-opacity="0.5" transform="rotate(24.5 372.09 564.16)"/>
<ellipse cx="372.09" cy="564.16" rx="2.73" ry="3.17" fill="url(#gDrop)" transform="rotate(24.5 372.09 564.16)"/>
<ellipse cx="369.23" cy="626.81" rx="1.52" ry="1.93" fill="#7cc3d9" fill-opacity="0.5" transform="rotate(18.19 368.69 626.2)"/>
<ellipse cx="368.69" cy="626.2" rx="1.52" ry="1.93" fill="url(#gDrop)" transform="rotate(18.19 368.69 626.2)"/>
<ellipse cx="443.37" cy="584.78" rx="0.92" ry="1.28" fill="#7cc3d9" fill-opacity="0.5" transform="rotate(10.57 443.05 584.41)"/>
<ellipse cx="443.05" cy="584.41" rx="0.92" ry="1.28" fill="url(#gDrop)" transform="rotate(10.57 443.05 584.41)"/>
<ellipse cx="391.76" cy="600.98" rx="2.47" ry="3.23" fill="#7cc3d9" fill-opacity="0.5" transform="rotate(5.58 390.9 599.99)"/>
<ellipse cx="390.9" cy="599.99" rx="2.47" ry="3.23" fill="url(#gDrop)" transform="rotate(5.58 390.9 599.99)"/>
<ellipse cx="450.98" cy="726.28" rx="1.2" ry="1.59" fill="#7cc3d9" fill-opacity="0.5" transform="rotate(21.2 450.56 725.8)"/>
<ellipse cx="450.56" cy="725.8" rx="1.2" ry="1.59" fill="url(#gDrop)" transform="rotate(21.2 450.56 725.8)"/>
<ellipse cx="452.13" cy="616.43" rx="3.51" ry="3.57" fill="#7cc3d9" fill-opacity="0.5" transform="rotate(40.11 450.9 615.02)"/>
<ellipse cx="450.9" cy="615.02" rx="3.51" ry="3.57" fill="url(#gDrop)" transform="rotate(40.11 450.9 615.02)"/>
<ellipse cx="459.89" cy="625.99" rx="3.82" ry="5.11" fill="#7cc3d9" fill-opacity="0.5" transform="rotate(30.98 458.55 624.46)"/>
<ellipse cx="458.55" cy="624.46" rx="3.82" ry="5.11" fill="url(#gDrop)" transform="rotate(30.98 458.55 624.46)"/>
<ellipse cx="402.19" cy="612.38" rx="1.83" ry="2.58" fill="#7cc3d9" fill-opacity="0.5" transform="rotate(42.11 401.55 611.65)"/>
<ellipse cx="401.55" cy="611.65" rx="1.83" ry="2.58" fill="url(#gDrop)" transform="rotate(42.11 401.55 611.65)"/>
<ellipse cx="439.58" cy="704.21" rx="2.48" ry="3.08" fill="#7cc3d9" fill-opacity="0.5" transform="rotate(19.03 438.71 703.22)"/>
<ellipse cx="438.71" cy="703.22" rx="2.48" ry="3.08" fill="url(#gDrop)" transform="rotate(19.03 438.71 703.22)"/>
<ellipse cx="380.67" cy="546.36" rx="1.09" ry="1.16" fill="#7cc3d9" fill-opacity="0.5" transform="rotate(43.74 380.29 545.92)"/>
<ellipse cx="380.29" cy="545.92" rx="1.09" ry="1.16" fill="url(#gDrop)" transform="rotate(43.74 380.29 545.92)"/>
<ellipse cx="403.86" cy="554.17" rx="1.55" ry="1.91" fill="#7cc3d9" fill-opacity="0.5" transform="rotate(48.63 403.32 553.55)"/>
<ellipse cx="403.32" cy="553.55" rx="1.55" ry="1.91" fill="url(#gDrop)" transform="rotate(48.63 403.32 553.55)"/>
<ellipse cx="367.24" cy="582.2" rx="1.01" ry="1.05" fill="#7cc3d9" fill-opacity="0.5" transform="rotate(36.91 366.88 581.79)"/>
<ellipse cx="366.88" cy="581.79" rx="1.01" ry="1.05" fill="url(#gDrop)" transform="rotate(36.91 366.88 581.79)"/>
<ellipse cx="428.5" cy="548.91" rx="0.91" ry="1.19" fill="#7cc3d9" fill-opacity="0.5" transform="rotate(29.26 428.18 548.55)"/>
<ellipse cx="428.18" cy="548.55" rx="0.91" ry="1.19" fill="url(#gDrop)" transform="rotate(29.26 428.18 548.55)"/>
<ellipse cx="420.42" cy="701.41" rx="2.49" ry="2.87" fill="#7cc3d9" fill-opacity="0.5" transform="rotate(25.84 419.55 700.41)"/>
<ellipse cx="419.55" cy="700.41" rx="2.49" ry="2.87" fill="url(#gDrop)" transform="rotate(25.84 419.55 700.41)"/>
<ellipse cx="386.39" cy="735.11" rx="1.27" ry="1.38" fill="#7cc3d9" fill-opacity="0.5" transform="rotate(11.33 385.94 734.6)"/>
<ellipse cx="385.94" cy="734.6" rx="1.27" ry="1.38" fill="url(#gDrop)" transform="rotate(11.33 385.94 734.6)"/>
<ellipse cx="375.1" cy="678.17" rx="3.58" ry="3.76" fill="#7cc3d9" fill-opacity="0.5" transform="rotate(33.33 373.85 676.74)"/>
<ellipse cx="373.85" cy="676.74" rx="3.58" ry="3.76" fill="url(#gDrop)" transform="rotate(33.33 373.85 676.74)"/>
<ellipse cx="395.95" cy="634.51" rx="0.96" ry="1.09" fill="#7cc3d9" fill-opacity="0.5" transform="rotate(34.78 395.62 634.13)"/>
<ellipse cx="395.62" cy="634.13" rx="0.96" ry="1.09" fill="url(#gDrop)" transform="rotate(34.78 395.62 634.13)"/>
<ellipse cx="372.53" cy="722.83" rx="1.96" ry="2.79" fill="#7cc3d9" fill-opacity="0.5" transform="rotate(34.1 371.84 722.05)"/>
<ellipse cx="371.84" cy="722.05" rx="1.96" ry="2.79" fill="url(#gDrop)" transform="rotate(34.1 371.84 722.05)"/>
<ellipse cx="421.73" cy="726.53" rx="3.93" ry="4.72" fill="#7cc3d9" fill-opacity="0.5" transform="rotate(19.39 420.35 724.95)"/>
<ellipse cx="420.35" cy="724.95" rx="3.93" ry="4.72" fill="url(#gDrop)" transform="rotate(19.39 420.35 724.95)"/>
<ellipse cx="442.54" cy="606.7" rx="1.96" ry="2.1" fill="#7cc3d9" fill-opacity="0.5" transform="rotate(3.91 441.85 605.92)"/>
<ellipse cx="441.85" cy="605.92" rx="1.96" ry="2.1" fill="url(#gDrop)" transform="rotate(3.91 441.85 605.92)"/>
<ellipse cx="373.15" cy="572.59" rx="0.95" ry="1.15" fill="#7cc3d9" fill-opacity="0.5" transform="rotate(18.39 372.82 572.21)"/>
<ellipse cx="372.82" cy="572.21" rx="0.95" ry="1.15" fill="url(#gDrop)" transform="rotate(18.39 372.82 572.21)"/>
<ellipse cx="378.89" cy="573.11" rx="1.63" ry="2.16" fill="#7cc3d9" fill-opacity="0.5" transform="rotate(33.98 378.32 572.46)"/>
<ellipse cx="378.32" cy="572.46" rx="1.63" ry="2.16" fill="url(#gDrop)" transform="rotate(33.98 378.32 572.46)"/>
<ellipse cx="367.78" cy="702.39" rx="0.93" ry="1.24" fill="#7cc3d9" fill-opacity="0.5" transform="rotate(4.73 367.46 702.01)"/>
<ellipse cx="367.46" cy="702.01" rx="0.93" ry="1.24" fill="url(#gDrop)" transform="rotate(4.73 367.46 702.01)"/>
</g>
<rect x="465.5" y="534.3" width="108.3" height="214.9" fill="#b9824c" filter="url(#fCork)"/>
<rect x="573.8" y="534.3" width="99.2" height="214.9" fill="url(#pLinen)" filter="url(#fLinen)"/>
<path d="M379.7,612.1 L406,612.1" fill="none" stroke="#1da5e6" stroke-width="2.2" stroke-linejoin="miter"/>
<path d="M435,612.1 L455.5,612.1" fill="none" stroke="#1da5e6" stroke-width="2.2" stroke-linejoin="miter"/>
<path d="M479,569.1 L455.5,569.1 L455.5,656.6 L478.5,656.6" fill="none" stroke="#1da5e6" stroke-width="2.2" stroke-linejoin="miter"/>
<path d="M512,569.1 L636.6,569.1 L636.6,656.6 L609.4,656.6" fill="none" stroke="#1da5e6" stroke-width="2.2" stroke-linejoin="miter"/>
<path d="M636.6,613.6 L659.2,613.6" fill="none" stroke="#1da5e6" stroke-width="2.2" stroke-linejoin="miter"/>
<path d="M508,656.6 L534.4,656.6" fill="none" stroke="#1da5e6" stroke-width="2.2" stroke-linejoin="miter"/>
<path d="M557.4,614.3 L534.4,614.3 L534.4,700.4 L559,700.4" fill="none" stroke="#1da5e6" stroke-width="2.2" stroke-linejoin="miter"/>
<path d="M590.4,613.7 L609.4,613.7 L609.4,700.4 L588,700.4" fill="none" stroke="#1da5e6" stroke-width="2.2" stroke-linejoin="miter"/>
<path d="M410.4,600.2 L430.6,600.2 A5.2,11.85 0 0 1 430.6,623.9 L410.4,623.9 A5.2,11.85 0 0 1 410.4,600.2 Z" fill="url(#gRs)" stroke="#4a8ed0" stroke-width="0.6"/>
<ellipse cx="430.6" cy="612.05" rx="5.2" ry="11.85" fill="#fbc4ac" fill-opacity="0.55" stroke="#3a84cc" stroke-width="0.7"/>
<path d="M482.9,644.8 L503.6,644.8 A5.2,12.05 0 0 1 503.6,668.9 L482.9,668.9 A5.2,12.05 0 0 1 482.9,644.8 Z" fill="url(#gRc)" stroke="#4a8ed0" stroke-width="0.6"/>
<ellipse cx="503.6" cy="656.85" rx="5.2" ry="12.05" fill="#dcecc8" fill-opacity="0.55" stroke="#3a84cc" stroke-width="0.7"/>
<path d="M563.4,688.9 L583.6,688.9 A5.2,12.05 0 0 1 583.6,713 L563.4,713 A5.2,12.05 0 0 1 563.4,688.9 Z" fill="url(#gRct)" stroke="#4a8ed0" stroke-width="0.6"/>
<ellipse cx="583.6" cy="700.95" rx="5.2" ry="12.05" fill="#f9b4b8" fill-opacity="0.55" stroke="#3a84cc" stroke-width="0.7"/>
<path d="M493.7,545.5 L478.4,554.3 L478.4,591.6 L493.7,581.7 Z" fill="url(#gAu)" stroke="#8a9aa6" stroke-width="0.5"/>
<path d="M512.3,545.5 L496.5,554.3 L496.5,591.6 L512.3,581.7 Z" fill="url(#gAu)" stroke="#8a9aa6" stroke-width="0.5"/>
<path d="M572.2,590.3 L556.8,598.3 L556.8,635.5 L572.2,627.3 Z" fill="url(#gPu)" stroke="#8a9aa6" stroke-width="0.5"/>
<path d="M590.8,590.3 L575.3,598.3 L575.3,635.5 L590.8,627.3 Z" fill="url(#gPu)" stroke="#8a9aa6" stroke-width="0.5"/>
<text x="409.8" y="617.6" font-size="15.6" text-anchor="start" font-family='"Liberation Serif", serif' fill="#111" >R<tspan dy="0.333em" font-size="66%">s</tspan><tspan dy="-0.220em" font-size="100%">&#8203;</tspan></text>
<text x="482.4" y="662.4" font-size="15.6" text-anchor="start" font-family='"Liberation Serif", serif' fill="#111" >R<tspan dy="0.333em" font-size="66%">c</tspan><tspan dy="-0.220em" font-size="100%">&#8203;</tspan></text>
<text x="560.6" y="706.2" font-size="15.6" text-anchor="start" font-family='"Liberation Serif", serif' fill="#111" >R<tspan dy="0.333em" font-size="66%">ct</tspan><tspan dy="-0.220em" font-size="100%">&#8203;</tspan></text>
<text x="482.2" y="605.8" font-size="15.2" text-anchor="start" font-family='"Liberation Serif", serif' fill="#111" >CPE<tspan dy="0.355em" font-size="62%">1</tspan><tspan dy="-0.220em" font-size="100%">&#8203;</tspan></text>
<text x="561" y="592.2" font-size="15.2" text-anchor="start" font-family='"Liberation Serif", serif' fill="#111" >CPE<tspan dy="0.355em" font-size="62%">2</tspan><tspan dy="-0.220em" font-size="100%">&#8203;</tspan></text>
<text x="417.2" y="737.4" font-size="15.8" text-anchor="middle" font-family='"Liberation Serif", serif' fill="#111" >Solution</text>
<text x="523" y="737.5" font-size="15.8" text-anchor="middle" font-family='"Liberation Serif", serif' fill="#111" >Coating</text>
<text x="633.6" y="734.7" font-size="15.8" text-anchor="middle" font-family='"Liberation Serif", serif' fill="#111" >Substrate</text>
<text x="354.6" y="765.5" font-size="15.9" text-anchor="start" font-family='"Liberation Serif", serif' fill="#000" >R<tspan dy="0.323em" font-size="62%">s</tspan><tspan dy="-0.200em" font-size="100%">&#8203;</tspan>:solution resistance</text>
<text x="494" y="765.5" font-size="15.9" text-anchor="start" font-family='"Liberation Serif", serif' fill="#000" >CPE: constant phase element</text>
<text x="354.6" y="786.8" font-size="15.9" text-anchor="start" font-family='"Liberation Serif", serif' fill="#000" >R<tspan dy="0.323em" font-size="62%">c</tspan><tspan dy="-0.200em" font-size="100%">&#8203;</tspan>:coating resistance R<tspan dy="0.323em" font-size="62%">ct</tspan><tspan dy="-0.200em" font-size="100%">&#8203;</tspan>: charge transfer resistance</text>
<line x1="3.7" y1="273.3" x2="682.4" y2="273.3" stroke="#5B9BD5" stroke-width="2.2" />
<line x1="3.7" y1="527.1" x2="682.4" y2="527.1" stroke="#5B9BD5" stroke-width="2.2" />
<line x1="352.3" y1="273.3" x2="352.3" y2="796" stroke="#5B9BD5" stroke-width="2.2" />
<rect x="3.75" y="3.15" width="678.7" height="792.85" fill="none" stroke="#2E75B6" stroke-width="2.2"/>
<text x="7.6" y="19.2" font-size="19.5" text-anchor="start" font-family='"Liberation Serif", serif' fill="#000" >(a)</text>
<text x="6" y="293" font-size="19.5" text-anchor="start" font-family='"Liberation Serif", serif' fill="#000" >(b)</text>
<text x="355" y="289" font-size="19.5" text-anchor="start" font-family='"Liberation Serif", serif' fill="#000" >(c)</text>
<text x="5.6" y="544.6" font-size="19.5" text-anchor="start" font-family='"Liberation Serif", serif' fill="#000" >(d)</text>
<text x="354.6" y="539.6" font-size="19.5" text-anchor="start" font-family='"Liberation Serif", serif' fill="#000" >(e)</text>
</svg>
</body></html>
